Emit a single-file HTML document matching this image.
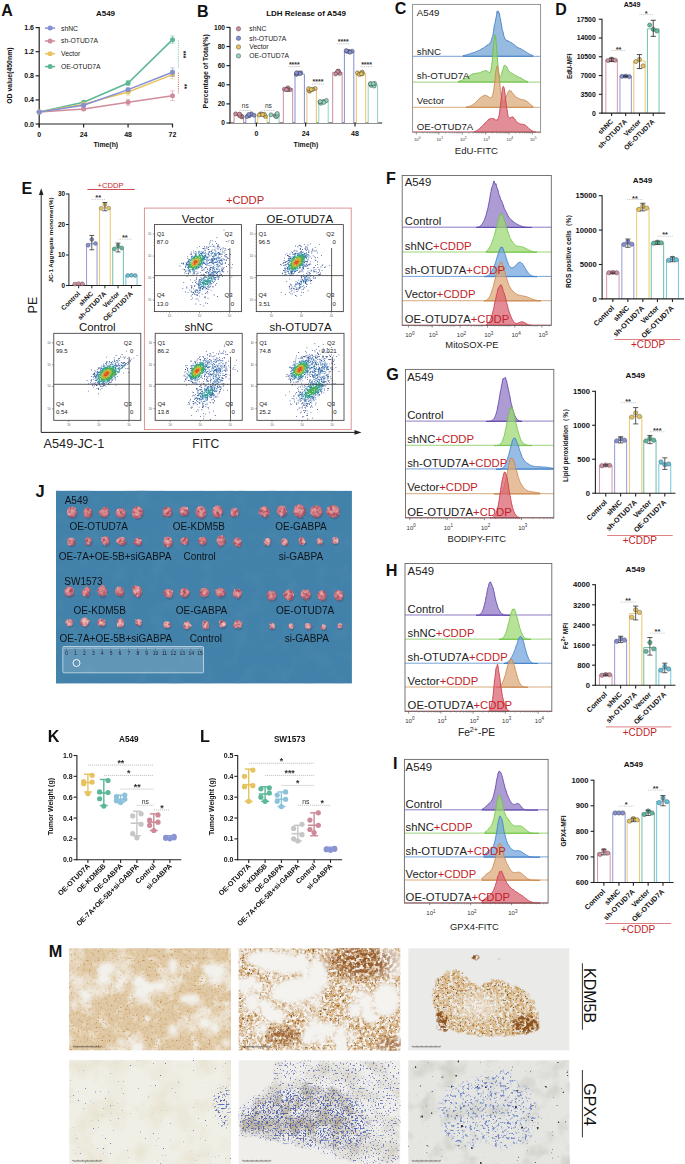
<!DOCTYPE html>
<html><head><meta charset="utf-8"><style>
html,body{margin:0;padding:0;background:#fff;}
svg{display:block;font-family:"Liberation Sans", sans-serif;}
</style></head><body>
<svg width="685" height="1164" viewBox="0 0 685 1164">
<rect width="685" height="1164" fill="#fff"/>
<text x="1.3" y="15.5" font-size="16" font-weight="bold" fill="#111">A</text>
<text x="105.5" y="16" font-size="8" font-weight="bold" text-anchor="middle" fill="#111">A549</text>
<line x1="39.2" y1="27.1" x2="39.2" y2="127.5" stroke="#222" stroke-width="1.2"/>
<line x1="38.6" y1="124" x2="173.1" y2="124" stroke="#222" stroke-width="1.2"/>
<line x1="35.6" y1="124" x2="39.2" y2="124" stroke="#222" stroke-width="1.2"/>
<text x="34" y="126.5" font-size="7" font-weight="bold" text-anchor="end" fill="#111">0.0</text>
<line x1="35.6" y1="99.9" x2="39.2" y2="99.9" stroke="#222" stroke-width="1.2"/>
<text x="34" y="102.4" font-size="7" font-weight="bold" text-anchor="end" fill="#111">0.4</text>
<line x1="35.6" y1="75.8" x2="39.2" y2="75.8" stroke="#222" stroke-width="1.2"/>
<text x="34" y="78.3" font-size="7" font-weight="bold" text-anchor="end" fill="#111">0.8</text>
<line x1="35.6" y1="51.7" x2="39.2" y2="51.7" stroke="#222" stroke-width="1.2"/>
<text x="34" y="54.2" font-size="7" font-weight="bold" text-anchor="end" fill="#111">1.2</text>
<line x1="35.6" y1="27.6" x2="39.2" y2="27.6" stroke="#222" stroke-width="1.2"/>
<text x="34" y="30.1" font-size="7" font-weight="bold" text-anchor="end" fill="#111">1.6</text>
<line x1="39.2" y1="124" x2="39.2" y2="127.5" stroke="#222" stroke-width="1.2"/>
<text x="39.2" y="136.6" font-size="7" font-weight="bold" text-anchor="middle" fill="#111">0</text>
<line x1="83.63" y1="124" x2="83.63" y2="127.5" stroke="#222" stroke-width="1.2"/>
<text x="83.63" y="136.6" font-size="7" font-weight="bold" text-anchor="middle" fill="#111">24</text>
<line x1="128.07" y1="124" x2="128.07" y2="127.5" stroke="#222" stroke-width="1.2"/>
<text x="128.07" y="136.6" font-size="7" font-weight="bold" text-anchor="middle" fill="#111">48</text>
<line x1="172.5" y1="124" x2="172.5" y2="127.5" stroke="#222" stroke-width="1.2"/>
<text x="172.5" y="136.6" font-size="7" font-weight="bold" text-anchor="middle" fill="#111">72</text>
<text x="105.8" y="146.8" font-size="6.9" font-weight="bold" text-anchor="middle" fill="#111">Time(h)</text>
<text x="12.3" y="75.6" font-size="6.9" font-weight="bold" text-anchor="middle" fill="#111" transform="rotate(-90 12.3 75.6)">OD value(450nm)</text>
<polyline points="39.2,111.95 83.63,102.31 128.07,83.03 172.5,39.65" fill="none" stroke="#5cb796" stroke-width="1.5"/>
<circle cx="39.2" cy="111.95" r="2.5" fill="#5cb796"/>
<line x1="83.63" y1="101.11" x2="83.63" y2="103.52" stroke="#5cb796" stroke-width="0.8" opacity="0.6"/>
<line x1="81.33" y1="101.11" x2="85.93" y2="101.11" stroke="#5cb796" stroke-width="0.8" opacity="0.6"/>
<line x1="81.33" y1="103.52" x2="85.93" y2="103.52" stroke="#5cb796" stroke-width="0.8" opacity="0.6"/>
<circle cx="83.63" cy="102.31" r="2.5" fill="#5cb796"/>
<line x1="128.07" y1="80.62" x2="128.07" y2="85.44" stroke="#5cb796" stroke-width="0.8" opacity="0.6"/>
<line x1="125.77" y1="80.62" x2="130.37" y2="80.62" stroke="#5cb796" stroke-width="0.8" opacity="0.6"/>
<line x1="125.77" y1="85.44" x2="130.37" y2="85.44" stroke="#5cb796" stroke-width="0.8" opacity="0.6"/>
<circle cx="128.07" cy="83.03" r="2.5" fill="#5cb796"/>
<line x1="172.5" y1="36.03" x2="172.5" y2="43.27" stroke="#5cb796" stroke-width="0.8" opacity="0.6"/>
<line x1="170.2" y1="36.03" x2="174.8" y2="36.03" stroke="#5cb796" stroke-width="0.8" opacity="0.6"/>
<line x1="170.2" y1="43.27" x2="174.8" y2="43.27" stroke="#5cb796" stroke-width="0.8" opacity="0.6"/>
<circle cx="172.5" cy="39.65" r="2.5" fill="#5cb796"/>
<polyline points="39.2,111.95 83.63,108.94 128.07,102.31 172.5,95.68" fill="none" stroke="#d08c9c" stroke-width="1.5"/>
<circle cx="39.2" cy="111.95" r="2.5" fill="#d08c9c"/>
<line x1="83.63" y1="107.73" x2="83.63" y2="110.14" stroke="#d08c9c" stroke-width="0.8" opacity="0.6"/>
<line x1="81.33" y1="107.73" x2="85.93" y2="107.73" stroke="#d08c9c" stroke-width="0.8" opacity="0.6"/>
<line x1="81.33" y1="110.14" x2="85.93" y2="110.14" stroke="#d08c9c" stroke-width="0.8" opacity="0.6"/>
<circle cx="83.63" cy="108.94" r="2.5" fill="#d08c9c"/>
<line x1="128.07" y1="99.3" x2="128.07" y2="105.32" stroke="#d08c9c" stroke-width="0.8" opacity="0.6"/>
<line x1="125.77" y1="99.3" x2="130.37" y2="99.3" stroke="#d08c9c" stroke-width="0.8" opacity="0.6"/>
<line x1="125.77" y1="105.32" x2="130.37" y2="105.32" stroke="#d08c9c" stroke-width="0.8" opacity="0.6"/>
<circle cx="128.07" cy="102.31" r="2.5" fill="#d08c9c"/>
<line x1="172.5" y1="90.86" x2="172.5" y2="100.5" stroke="#d08c9c" stroke-width="0.8" opacity="0.6"/>
<line x1="170.2" y1="90.86" x2="174.8" y2="90.86" stroke="#d08c9c" stroke-width="0.8" opacity="0.6"/>
<line x1="170.2" y1="100.5" x2="174.8" y2="100.5" stroke="#d08c9c" stroke-width="0.8" opacity="0.6"/>
<circle cx="172.5" cy="95.68" r="2.5" fill="#d08c9c"/>
<polyline points="39.2,111.95 83.63,104.12 128.07,92.07 172.5,74.59" fill="none" stroke="#e8c35f" stroke-width="1.5"/>
<circle cx="39.2" cy="111.95" r="2.5" fill="#e8c35f"/>
<line x1="83.63" y1="102.91" x2="83.63" y2="105.32" stroke="#e8c35f" stroke-width="0.8" opacity="0.6"/>
<line x1="81.33" y1="102.91" x2="85.93" y2="102.91" stroke="#e8c35f" stroke-width="0.8" opacity="0.6"/>
<line x1="81.33" y1="105.32" x2="85.93" y2="105.32" stroke="#e8c35f" stroke-width="0.8" opacity="0.6"/>
<circle cx="83.63" cy="104.12" r="2.5" fill="#e8c35f"/>
<line x1="128.07" y1="89.05" x2="128.07" y2="95.08" stroke="#e8c35f" stroke-width="0.8" opacity="0.6"/>
<line x1="125.77" y1="89.05" x2="130.37" y2="89.05" stroke="#e8c35f" stroke-width="0.8" opacity="0.6"/>
<line x1="125.77" y1="95.08" x2="130.37" y2="95.08" stroke="#e8c35f" stroke-width="0.8" opacity="0.6"/>
<circle cx="128.07" cy="92.07" r="2.5" fill="#e8c35f"/>
<line x1="172.5" y1="70.38" x2="172.5" y2="78.81" stroke="#e8c35f" stroke-width="0.8" opacity="0.6"/>
<line x1="170.2" y1="70.38" x2="174.8" y2="70.38" stroke="#e8c35f" stroke-width="0.8" opacity="0.6"/>
<line x1="170.2" y1="78.81" x2="174.8" y2="78.81" stroke="#e8c35f" stroke-width="0.8" opacity="0.6"/>
<circle cx="172.5" cy="74.59" r="2.5" fill="#e8c35f"/>
<polyline points="39.2,111.95 83.63,105.32 128.07,89.66 172.5,72.19" fill="none" stroke="#8490d2" stroke-width="1.5"/>
<circle cx="39.2" cy="111.95" r="2.5" fill="#8490d2"/>
<line x1="83.63" y1="104.12" x2="83.63" y2="106.53" stroke="#8490d2" stroke-width="0.8" opacity="0.6"/>
<line x1="81.33" y1="104.12" x2="85.93" y2="104.12" stroke="#8490d2" stroke-width="0.8" opacity="0.6"/>
<line x1="81.33" y1="106.53" x2="85.93" y2="106.53" stroke="#8490d2" stroke-width="0.8" opacity="0.6"/>
<circle cx="83.63" cy="105.32" r="2.5" fill="#8490d2"/>
<line x1="128.07" y1="87.85" x2="128.07" y2="91.47" stroke="#8490d2" stroke-width="0.8" opacity="0.6"/>
<line x1="125.77" y1="87.85" x2="130.37" y2="87.85" stroke="#8490d2" stroke-width="0.8" opacity="0.6"/>
<line x1="125.77" y1="91.47" x2="130.37" y2="91.47" stroke="#8490d2" stroke-width="0.8" opacity="0.6"/>
<circle cx="128.07" cy="89.66" r="2.5" fill="#8490d2"/>
<line x1="172.5" y1="67.97" x2="172.5" y2="76.4" stroke="#8490d2" stroke-width="0.8" opacity="0.6"/>
<line x1="170.2" y1="67.97" x2="174.8" y2="67.97" stroke="#8490d2" stroke-width="0.8" opacity="0.6"/>
<line x1="170.2" y1="76.4" x2="174.8" y2="76.4" stroke="#8490d2" stroke-width="0.8" opacity="0.6"/>
<circle cx="172.5" cy="72.19" r="2.5" fill="#8490d2"/>
<line x1="44.9" y1="28.1" x2="55.1" y2="28.1" stroke="#8490d2" stroke-width="1.5"/>
<circle cx="50.1" cy="28.1" r="2.5" fill="#8490d2"/>
<text x="61" y="30.5" font-size="6.8" fill="#222">shNC</text>
<line x1="44.9" y1="41" x2="55.1" y2="41" stroke="#d08c9c" stroke-width="1.5"/>
<circle cx="50.1" cy="41" r="2.5" fill="#d08c9c"/>
<text x="61" y="43.4" font-size="6.8" fill="#222">sh-OTUD7A</text>
<line x1="44.9" y1="53.7" x2="55.1" y2="53.7" stroke="#e8c35f" stroke-width="1.5"/>
<circle cx="50.1" cy="53.7" r="2.5" fill="#e8c35f"/>
<text x="61" y="56.1" font-size="6.8" fill="#222">Vector</text>
<line x1="44.9" y1="66.6" x2="55.1" y2="66.6" stroke="#5cb796" stroke-width="1.5"/>
<circle cx="50.1" cy="66.6" r="2.5" fill="#5cb796"/>
<text x="61" y="69" font-size="6.8" fill="#222">OE-OTUD7A</text>
<line x1="178.4" y1="40.5" x2="178.4" y2="69" stroke="#5cb796" stroke-width="0.8" stroke-dasharray="1 1.2"/>
<line x1="178.4" y1="72.8" x2="178.4" y2="93.3" stroke="#c0392b" stroke-width="0.8" stroke-dasharray="1 1.2"/>
<text x="181.3" y="54.5" font-size="6.5" font-weight="bold" text-anchor="middle" fill="#111" transform="rotate(90 181.3 54.5)">***</text>
<text x="181.6" y="86.5" font-size="6.5" font-weight="bold" text-anchor="middle" fill="#111" transform="rotate(90 181.6 86.5)">**</text>
<text x="196.9" y="16.8" font-size="16" font-weight="bold" fill="#111">B</text>
<text x="306" y="15.6" font-size="8" font-weight="bold" text-anchor="middle" fill="#111">LDH Release of A549</text>
<line x1="230" y1="26.9" x2="230" y2="123.6" stroke="#222" stroke-width="1.2"/>
<line x1="229.4" y1="123" x2="382.2" y2="123" stroke="#222" stroke-width="1.2"/>
<line x1="226.4" y1="123" x2="230" y2="123" stroke="#222" stroke-width="1.2"/>
<text x="225" y="125.4" font-size="6.6" font-weight="bold" text-anchor="end" fill="#111">0</text>
<line x1="226.4" y1="103.88" x2="230" y2="103.88" stroke="#222" stroke-width="1.2"/>
<text x="225" y="106.28" font-size="6.6" font-weight="bold" text-anchor="end" fill="#111">20</text>
<line x1="226.4" y1="84.76" x2="230" y2="84.76" stroke="#222" stroke-width="1.2"/>
<text x="225" y="87.16" font-size="6.6" font-weight="bold" text-anchor="end" fill="#111">40</text>
<line x1="226.4" y1="65.64" x2="230" y2="65.64" stroke="#222" stroke-width="1.2"/>
<text x="225" y="68.04" font-size="6.6" font-weight="bold" text-anchor="end" fill="#111">60</text>
<line x1="226.4" y1="46.52" x2="230" y2="46.52" stroke="#222" stroke-width="1.2"/>
<text x="225" y="48.92" font-size="6.6" font-weight="bold" text-anchor="end" fill="#111">80</text>
<line x1="226.4" y1="27.4" x2="230" y2="27.4" stroke="#222" stroke-width="1.2"/>
<text x="225" y="29.8" font-size="6.6" font-weight="bold" text-anchor="end" fill="#111">100</text>
<line x1="256.4" y1="123" x2="256.4" y2="126.5" stroke="#222" stroke-width="1.2"/>
<text x="256.4" y="136.2" font-size="7" font-weight="bold" text-anchor="middle" fill="#111">0</text>
<line x1="305.6" y1="123" x2="305.6" y2="126.5" stroke="#222" stroke-width="1.2"/>
<text x="305.6" y="136.2" font-size="7" font-weight="bold" text-anchor="middle" fill="#111">24</text>
<line x1="355" y1="123" x2="355" y2="126.5" stroke="#222" stroke-width="1.2"/>
<text x="355" y="136.2" font-size="7" font-weight="bold" text-anchor="middle" fill="#111">48</text>
<text x="306" y="146.6" font-size="6.9" font-weight="bold" text-anchor="middle" fill="#111">Time(h)</text>
<text x="208.3" y="71.3" font-size="6.9" font-weight="bold" text-anchor="middle" fill="#111" transform="rotate(-90 208.3 71.3)">Percentage of Total(%)</text>
<path d="M234.1 123 V115.35 H243.5 V123" fill="#fff" stroke="#d08c9c" stroke-width="1"/>
<circle cx="242.08" cy="116.96" r="2" fill="#d08c9c" stroke="#333" stroke-width="0.45"/>
<circle cx="235.61" cy="113.86" r="2" fill="#d08c9c" stroke="#333" stroke-width="0.45"/>
<circle cx="241.22" cy="116.2" r="2" fill="#d08c9c" stroke="#333" stroke-width="0.45"/>
<circle cx="240.02" cy="114.66" r="2" fill="#d08c9c" stroke="#333" stroke-width="0.45"/>
<circle cx="239.56" cy="115.74" r="2" fill="#d08c9c" stroke="#333" stroke-width="0.45"/>
<circle cx="239.38" cy="114.12" r="2" fill="#d08c9c" stroke="#333" stroke-width="0.45"/>
<path d="M245.8 123 V115.35 H255.2 V123" fill="#fff" stroke="#8490d2" stroke-width="1"/>
<circle cx="248.61" cy="115.51" r="2" fill="#8490d2" stroke="#333" stroke-width="0.45"/>
<circle cx="249.56" cy="115.73" r="2" fill="#8490d2" stroke="#333" stroke-width="0.45"/>
<circle cx="251.41" cy="113.79" r="2" fill="#8490d2" stroke="#333" stroke-width="0.45"/>
<circle cx="246.99" cy="116.57" r="2" fill="#8490d2" stroke="#333" stroke-width="0.45"/>
<circle cx="248.77" cy="114.4" r="2" fill="#8490d2" stroke="#333" stroke-width="0.45"/>
<circle cx="254.07" cy="115.24" r="2" fill="#8490d2" stroke="#333" stroke-width="0.45"/>
<path d="M257.7 123 V115.35 H267.1 V123" fill="#fff" stroke="#e8c35f" stroke-width="1"/>
<circle cx="260.5" cy="113.92" r="2" fill="#e8c35f" stroke="#333" stroke-width="0.45"/>
<circle cx="261.65" cy="114.11" r="2" fill="#e8c35f" stroke="#333" stroke-width="0.45"/>
<circle cx="259.28" cy="115" r="2" fill="#e8c35f" stroke="#333" stroke-width="0.45"/>
<circle cx="265.41" cy="116.43" r="2" fill="#e8c35f" stroke="#333" stroke-width="0.45"/>
<circle cx="264.31" cy="114.35" r="2" fill="#e8c35f" stroke="#333" stroke-width="0.45"/>
<circle cx="262.66" cy="114.55" r="2" fill="#e8c35f" stroke="#333" stroke-width="0.45"/>
<path d="M269.6 123 V114.87 H279 V123" fill="#fff" stroke="#8ed5bf" stroke-width="1"/>
<circle cx="275.18" cy="115.74" r="2" fill="#8ed5bf" stroke="#333" stroke-width="0.45"/>
<circle cx="276.43" cy="116.47" r="2" fill="#8ed5bf" stroke="#333" stroke-width="0.45"/>
<circle cx="276.03" cy="116.39" r="2" fill="#8ed5bf" stroke="#333" stroke-width="0.45"/>
<circle cx="270.91" cy="114.75" r="2" fill="#8ed5bf" stroke="#333" stroke-width="0.45"/>
<circle cx="277.49" cy="115.41" r="2" fill="#8ed5bf" stroke="#333" stroke-width="0.45"/>
<circle cx="277.19" cy="113.48" r="2" fill="#8ed5bf" stroke="#333" stroke-width="0.45"/>
<path d="M283.3 123 V88.58 H292.7 V123" fill="#fff" stroke="#d08c9c" stroke-width="1"/>
<circle cx="290.11" cy="89.74" r="2" fill="#d08c9c" stroke="#333" stroke-width="0.45"/>
<circle cx="287.89" cy="87.73" r="2" fill="#d08c9c" stroke="#333" stroke-width="0.45"/>
<circle cx="284.4" cy="89.17" r="2" fill="#d08c9c" stroke="#333" stroke-width="0.45"/>
<circle cx="287.79" cy="89.52" r="2" fill="#d08c9c" stroke="#333" stroke-width="0.45"/>
<circle cx="287.09" cy="89.56" r="2" fill="#d08c9c" stroke="#333" stroke-width="0.45"/>
<circle cx="286.36" cy="89.67" r="2" fill="#d08c9c" stroke="#333" stroke-width="0.45"/>
<path d="M295 123 V74.24 H304.4 V123" fill="#fff" stroke="#8490d2" stroke-width="1"/>
<circle cx="298.43" cy="72.99" r="2" fill="#8490d2" stroke="#333" stroke-width="0.45"/>
<circle cx="300.79" cy="72.7" r="2" fill="#8490d2" stroke="#333" stroke-width="0.45"/>
<circle cx="299.96" cy="73.76" r="2" fill="#8490d2" stroke="#333" stroke-width="0.45"/>
<circle cx="296.52" cy="74.27" r="2" fill="#8490d2" stroke="#333" stroke-width="0.45"/>
<circle cx="296.37" cy="74.01" r="2" fill="#8490d2" stroke="#333" stroke-width="0.45"/>
<circle cx="296.6" cy="72.77" r="2" fill="#8490d2" stroke="#333" stroke-width="0.45"/>
<path d="M306.9 123 V89.54 H316.3 V123" fill="#fff" stroke="#e8c35f" stroke-width="1"/>
<circle cx="309.63" cy="91.2" r="2" fill="#e8c35f" stroke="#333" stroke-width="0.45"/>
<circle cx="308.91" cy="90.28" r="2" fill="#e8c35f" stroke="#333" stroke-width="0.45"/>
<circle cx="308.61" cy="88.63" r="2" fill="#e8c35f" stroke="#333" stroke-width="0.45"/>
<circle cx="315.19" cy="88.49" r="2" fill="#e8c35f" stroke="#333" stroke-width="0.45"/>
<circle cx="312.62" cy="89.39" r="2" fill="#e8c35f" stroke="#333" stroke-width="0.45"/>
<circle cx="311.26" cy="89.52" r="2" fill="#e8c35f" stroke="#333" stroke-width="0.45"/>
<path d="M318.8 123 V101.97 H328.2 V123" fill="#fff" stroke="#8ed5bf" stroke-width="1"/>
<circle cx="323.23" cy="101.51" r="2" fill="#8ed5bf" stroke="#333" stroke-width="0.45"/>
<circle cx="320.9" cy="103.29" r="2" fill="#8ed5bf" stroke="#333" stroke-width="0.45"/>
<circle cx="319.95" cy="101.98" r="2" fill="#8ed5bf" stroke="#333" stroke-width="0.45"/>
<circle cx="326.37" cy="100.46" r="2" fill="#8ed5bf" stroke="#333" stroke-width="0.45"/>
<circle cx="323.89" cy="102.39" r="2" fill="#8ed5bf" stroke="#333" stroke-width="0.45"/>
<circle cx="320.19" cy="101.53" r="2" fill="#8ed5bf" stroke="#333" stroke-width="0.45"/>
<path d="M332.7 123 V72.33 H342.1 V123" fill="#fff" stroke="#d08c9c" stroke-width="1"/>
<circle cx="337.91" cy="72.08" r="2" fill="#d08c9c" stroke="#333" stroke-width="0.45"/>
<circle cx="337.96" cy="71.27" r="2" fill="#d08c9c" stroke="#333" stroke-width="0.45"/>
<circle cx="339.66" cy="73.5" r="2" fill="#d08c9c" stroke="#333" stroke-width="0.45"/>
<circle cx="338.51" cy="71.11" r="2" fill="#d08c9c" stroke="#333" stroke-width="0.45"/>
<circle cx="337.55" cy="71.71" r="2" fill="#d08c9c" stroke="#333" stroke-width="0.45"/>
<circle cx="335.6" cy="73.96" r="2" fill="#d08c9c" stroke="#333" stroke-width="0.45"/>
<path d="M344.4 123 V51.3 H353.8 V123" fill="#fff" stroke="#8490d2" stroke-width="1"/>
<circle cx="348.76" cy="51.52" r="2" fill="#8490d2" stroke="#333" stroke-width="0.45"/>
<circle cx="352.15" cy="51.18" r="2" fill="#8490d2" stroke="#333" stroke-width="0.45"/>
<circle cx="349.16" cy="51.61" r="2" fill="#8490d2" stroke="#333" stroke-width="0.45"/>
<circle cx="346.83" cy="51.34" r="2" fill="#8490d2" stroke="#333" stroke-width="0.45"/>
<circle cx="350.04" cy="52.35" r="2" fill="#8490d2" stroke="#333" stroke-width="0.45"/>
<circle cx="346.18" cy="50.59" r="2" fill="#8490d2" stroke="#333" stroke-width="0.45"/>
<path d="M356.3 123 V73.29 H365.7 V123" fill="#fff" stroke="#e8c35f" stroke-width="1"/>
<circle cx="360.82" cy="73.85" r="2" fill="#e8c35f" stroke="#333" stroke-width="0.45"/>
<circle cx="362.2" cy="72" r="2" fill="#e8c35f" stroke="#333" stroke-width="0.45"/>
<circle cx="357.48" cy="72.84" r="2" fill="#e8c35f" stroke="#333" stroke-width="0.45"/>
<circle cx="359.37" cy="74.41" r="2" fill="#e8c35f" stroke="#333" stroke-width="0.45"/>
<circle cx="362.37" cy="73.65" r="2" fill="#e8c35f" stroke="#333" stroke-width="0.45"/>
<circle cx="361.42" cy="73.87" r="2" fill="#e8c35f" stroke="#333" stroke-width="0.45"/>
<path d="M368.2 123 V84.76 H377.6 V123" fill="#fff" stroke="#8ed5bf" stroke-width="1"/>
<circle cx="371.16" cy="85.43" r="2" fill="#8ed5bf" stroke="#333" stroke-width="0.45"/>
<circle cx="374.23" cy="86.02" r="2" fill="#8ed5bf" stroke="#333" stroke-width="0.45"/>
<circle cx="370.64" cy="83.79" r="2" fill="#8ed5bf" stroke="#333" stroke-width="0.45"/>
<circle cx="370.36" cy="83.77" r="2" fill="#8ed5bf" stroke="#333" stroke-width="0.45"/>
<circle cx="374.58" cy="83.43" r="2" fill="#8ed5bf" stroke="#333" stroke-width="0.45"/>
<circle cx="373.13" cy="83.73" r="2" fill="#8ed5bf" stroke="#333" stroke-width="0.45"/>
<circle cx="238.5" cy="28.8" r="2.2" fill="#d08c9c" stroke="#444" stroke-width="0.45"/>
<text x="249.3" y="31.1" font-size="6.8" fill="#222">shNC</text>
<circle cx="238.5" cy="38.2" r="2.2" fill="#8490d2" stroke="#444" stroke-width="0.45"/>
<text x="249.3" y="40.5" font-size="6.8" fill="#222">sh-OTUD7A</text>
<circle cx="238.5" cy="47" r="2.2" fill="#e8c35f" stroke="#444" stroke-width="0.45"/>
<text x="249.3" y="49.3" font-size="6.8" fill="#222">Vector</text>
<circle cx="238.5" cy="55.9" r="2.2" fill="#8ed5bf" stroke="#444" stroke-width="0.45"/>
<text x="249.3" y="58.2" font-size="6.8" fill="#222">OE-OTUD7A</text>
<line x1="239.6" y1="110.4" x2="251" y2="110.4" stroke="#999" stroke-width="0.6" stroke-dasharray="1 0.8"/>
<text x="245.3" y="108.2" font-size="6.5" text-anchor="middle" fill="#333">ns</text>
<line x1="262.2" y1="110.4" x2="274.6" y2="110.4" stroke="#999" stroke-width="0.6" stroke-dasharray="1 0.8"/>
<text x="268.4" y="108.2" font-size="6.5" text-anchor="middle" fill="#333">ns</text>
<line x1="288.5" y1="66.6" x2="300.2" y2="66.6" stroke="#999" stroke-width="0.6" stroke-dasharray="1 0.8"/>
<text x="294.35" y="67" font-size="7" font-weight="bold" text-anchor="middle" fill="#333">****</text>
<line x1="312" y1="84" x2="324" y2="84" stroke="#999" stroke-width="0.6" stroke-dasharray="1 0.8"/>
<text x="318" y="84.4" font-size="7" font-weight="bold" text-anchor="middle" fill="#333">****</text>
<line x1="337.2" y1="43.8" x2="349.2" y2="43.8" stroke="#999" stroke-width="0.6" stroke-dasharray="1 0.8"/>
<text x="343.2" y="44.2" font-size="7" font-weight="bold" text-anchor="middle" fill="#333">****</text>
<line x1="360.6" y1="66.7" x2="372.6" y2="66.7" stroke="#999" stroke-width="0.6" stroke-dasharray="1 0.8"/>
<text x="366.6" y="67.1" font-size="7" font-weight="bold" text-anchor="middle" fill="#333">****</text>
<text x="394.8" y="14.4" font-size="16" font-weight="bold" fill="#111">C</text>
<path d="M463 56.3 L463 55.59 L463.5 55.5 L464 55.38 L464.5 55.31 L465 55.2 L465.5 55.07 L466 54.99 L466.5 54.83 L467 54.67 L467.5 54.51 L468 54.46 L468.5 54.28 L469 54.16 L469.5 53.87 L470 53.72 L470.5 53.69 L471 53.31 L471.5 53.14 L472 53.04 L472.5 52.88 L473 52.83 L473.5 52.71 L474 52.38 L474.5 52.36 L475 52.15 L475.5 51.95 L476 51.86 L476.5 51.51 L477 51.33 L477.5 50.96 L478 50.89 L478.5 50.62 L479 50.45 L479.5 50.13 L480 49.97 L480.5 49.8 L481 49.12 L481.5 48.81 L482 48.58 L482.5 48.33 L483 48.25 L483.5 47.98 L484 47.6 L484.5 47.44 L485 46.59 L485.5 46.55 L486 45.88 L486.5 45.95 L487 45.16 L487.5 44.95 L488 45.39 L488.5 44.86 L489 43.77 L489.5 43.69 L490 42.5 L490.5 42.29 L491 41.63 L491.5 39.61 L492 37.73 L492.5 36.53 L493 34.6 L493.5 31.58 L494 27.35 L494.5 24.73 L495 23.34 L495.5 20.08 L496 17.88 L496.5 15.78 L497 11.49 L497.5 12.56 L498 10.79 L498.5 11.53 L499 13.48 L499.5 13.3 L500 17.49 L500.5 18.48 L501 22.8 L501.5 24.85 L502 28.15 L502.5 30.62 L503 31.62 L503.5 34.05 L504 36.59 L504.5 37.07 L505 39.1 L505.5 39.61 L506 39.56 L506.5 40.22 L507 41.15 L507.5 40.23 L508 41.34 L508.5 41.42 L509 40.96 L509.5 41.68 L510 41.95 L510.5 42.48 L511 42.76 L511.5 42.57 L512 43.32 L512.5 43.35 L513 44 L513.5 44.35 L514 44.31 L514.5 45.17 L515 45.5 L515.5 45.65 L516 46.57 L516.5 46.93 L517 46.69 L517.5 47.06 L518 47.75 L518.5 48.05 L519 47.93 L519.5 48.05 L520 48.76 L520.5 48.54 L521 48.83 L521.5 49.24 L522 49.6 L522.5 50.03 L523 50.33 L523.5 50.18 L524 50.81 L524.5 50.92 L525 51.42 L525.5 51.53 L526 51.95 L526.5 52.37 L527 52.73 L527.5 52.89 L528 53.37 L528.5 53.62 L529 53.83 L529.5 54.06 L530 54.35 L530.5 54.63 L531 54.77 L531.5 55.05 L532 55.24 L532.5 55.38 L533 55.5 L533 56.3 Z" fill="#6fa0d4" stroke="#3f7cc0" stroke-width="0.85" fill-opacity="0.72" stroke-linejoin="round"/>
<line x1="412.6" y1="56.3" x2="540.6" y2="56.3" stroke="#3f7cc0" stroke-width="0.7"/>
<path d="M458 82.1 L458 81.4 L458.5 81.28 L459 81.16 L459.5 81.08 L460 80.95 L460.5 80.76 L461 80.61 L461.5 80.35 L462 80.16 L462.5 79.96 L463 79.73 L463.5 79.46 L464 79.32 L464.5 78.97 L465 78.76 L465.5 78.25 L466 78.2 L466.5 77.63 L467 77.57 L467.5 77.01 L468 76.82 L468.5 76.46 L469 75.92 L469.5 76 L470 75.67 L470.5 74.9 L471 74.83 L471.5 74.81 L472 74 L472.5 73.78 L473 74.11 L473.5 73.72 L474 73.76 L474.5 73.5 L475 73.17 L475.5 73.41 L476 72.96 L476.5 73.37 L477 73.24 L477.5 72.74 L478 73.01 L478.5 72.95 L479 72.76 L479.5 72.77 L480 72.73 L480.5 72.87 L481 72.16 L481.5 71.76 L482 71.52 L482.5 71.52 L483 71.52 L483.5 71.27 L484 70.75 L484.5 70.57 L485 70.95 L485.5 70.79 L486 70.7 L486.5 70.69 L487 70.66 L487.5 71.26 L488 72.04 L488.5 71.8 L489 72.47 L489.5 72.55 L490 72.54 L490.5 71.5 L491 69.73 L491.5 66.28 L492 62.95 L492.5 56.72 L493 51.36 L493.5 43.63 L494 40.4 L494.5 36.02 L495 34.7 L495.5 35.29 L496 41.53 L496.5 46.18 L497 53.67 L497.5 60.23 L498 65.91 L498.5 70.21 L499 73.95 L499.5 75.65 L500 76.79 L500.5 76.27 L501 75.64 L501.5 74.36 L502 72.25 L502.5 70.2 L503 69.29 L503.5 67.43 L504 65.56 L504.5 65.34 L505 65.22 L505.5 65.74 L506 66.3 L506.5 66.45 L507 67.1 L507.5 68.2 L508 69.72 L508.5 71.02 L509 71.44 L509.5 71.59 L510 71.99 L510.5 72.48 L511 73.08 L511.5 73.13 L512 73.43 L512.5 73.61 L513 74.14 L513.5 74.02 L514 74.38 L514.5 75.12 L515 75.35 L515.5 75.33 L516 75.91 L516.5 75.84 L517 76.28 L517.5 76.43 L518 76.64 L518.5 77.05 L519 77.23 L519.5 77.46 L520 77.53 L520.5 77.78 L521 78.23 L521.5 78.27 L522 78.71 L522.5 79.05 L523 79.32 L523.5 79.52 L524 79.91 L524.5 80.19 L525 80.43 L525.5 80.69 L526 80.95 L526.5 81.18 L527 81.35 L527.5 81.49 L528 81.63 L528 82.1 Z" fill="#95d16c" stroke="#6cbf44" stroke-width="0.85" fill-opacity="0.72" stroke-linejoin="round"/>
<line x1="412.6" y1="82.1" x2="540.6" y2="82.1" stroke="#6cbf44" stroke-width="0.7"/>
<path d="M466 107.3 L466 107.01 L466.5 106.93 L467 106.86 L467.5 106.76 L468 106.69 L468.5 106.58 L469 106.45 L469.5 106.3 L470 106.08 L470.5 105.95 L471 105.69 L471.5 105.5 L472 105.22 L472.5 104.91 L473 104.5 L473.5 104.2 L474 103.98 L474.5 103.52 L475 103.15 L475.5 102.44 L476 101.98 L476.5 101.49 L477 100.97 L477.5 100.49 L478 99.85 L478.5 99.41 L479 99.25 L479.5 98.35 L480 98.12 L480.5 97.46 L481 97.17 L481.5 96.89 L482 96.6 L482.5 96.24 L483 96.08 L483.5 96.06 L484 95.26 L484.5 95.19 L485 94.98 L485.5 95.29 L486 95.51 L486.5 95.48 L487 96.24 L487.5 96.01 L488 96.51 L488.5 97.06 L489 97.37 L489.5 97.44 L490 97.93 L490.5 97.93 L491 97.79 L491.5 97.62 L492 97.1 L492.5 95.48 L493 93.78 L493.5 91.12 L494 87.83 L494.5 83.59 L495 79.98 L495.5 74.36 L496 69.69 L496.5 68.58 L497 66.09 L497.5 65.52 L498 70.03 L498.5 72.72 L499 75.04 L499.5 79.79 L500 85.08 L500.5 90.33 L501 93.87 L501.5 96.61 L502 98.97 L502.5 100.55 L503 101.62 L503.5 101.48 L504 101.37 L504.5 100.49 L505 99.85 L505.5 98.11 L506 97.07 L506.5 95.62 L507 94.82 L507.5 93.19 L508 92.18 L508.5 91.32 L509 91.02 L509.5 90.19 L510 90.62 L510.5 90.83 L511 91.35 L511.5 91.18 L512 92.5 L512.5 93.03 L513 93.89 L513.5 93.94 L514 94.68 L514.5 95.29 L515 96.28 L515.5 96.39 L516 96.89 L516.5 97.47 L517 97.87 L517.5 97.41 L518 98.36 L518.5 98.49 L519 98.76 L519.5 98.76 L520 99.31 L520.5 99.23 L521 99.45 L521.5 99.29 L522 99.92 L522.5 99.82 L523 99.82 L523.5 99.64 L524 100.02 L524.5 100.18 L525 100.24 L525.5 100.65 L526 101.03 L526.5 101.08 L527 101.22 L527.5 101.69 L528 102.3 L528.5 102.57 L529 102.98 L529.5 103.63 L530 103.98 L530.5 104.48 L531 104.91 L531.5 105.28 L532 105.63 L532.5 105.91 L533 106.21 L533 107.3 Z" fill="#dba777" stroke="#c98649" stroke-width="0.85" fill-opacity="0.72" stroke-linejoin="round"/>
<line x1="412.6" y1="107.3" x2="540.6" y2="107.3" stroke="#c98649" stroke-width="0.7"/>
<path d="M474 132.3 L474 131.7 L474.5 131.53 L475 131.37 L475.5 131.15 L476 131 L476.5 130.76 L477 130.43 L477.5 130.13 L478 129.86 L478.5 129.42 L479 129.1 L479.5 128.57 L480 128.34 L480.5 127.85 L481 127.11 L481.5 126.84 L482 126.38 L482.5 125.58 L483 125.14 L483.5 124.9 L484 124.12 L484.5 123.52 L485 123.36 L485.5 122.48 L486 122.4 L486.5 121.74 L487 121.5 L487.5 120.95 L488 119.79 L488.5 119.95 L489 118.99 L489.5 119.23 L490 118.78 L490.5 118.26 L491 118.3 L491.5 118.83 L492 118.26 L492.5 118.24 L493 118.84 L493.5 119.09 L494 118.48 L494.5 119.15 L495 119.79 L495.5 119.83 L496 120.33 L496.5 119.91 L497 120.14 L497.5 120.16 L498 118.59 L498.5 118.01 L499 115.71 L499.5 113.3 L500 108.53 L500.5 105.65 L501 100.23 L501.5 97 L502 91.84 L502.5 87.98 L503 86.6 L503.5 86.46 L504 87.45 L504.5 90.09 L505 93.14 L505.5 98.78 L506 102.15 L506.5 106.87 L507 109.39 L507.5 112.37 L508 115.86 L508.5 117.18 L509 117.32 L509.5 117.8 L510 118.42 L510.5 117.43 L511 116.88 L511.5 117.28 L512 117.25 L512.5 117.01 L513 116.74 L513.5 117.88 L514 118.29 L514.5 118.98 L515 119.15 L515.5 120 L516 120.89 L516.5 121.42 L517 122.31 L517.5 122.6 L518 122.54 L518.5 123.19 L519 123.67 L519.5 123.41 L520 123.92 L520.5 124.07 L521 124.25 L521.5 124.2 L522 124.2 L522.5 124.24 L523 123.91 L523.5 124.44 L524 124.63 L524.5 124.65 L525 124.76 L525.5 125.47 L526 125.6 L526.5 126.22 L527 126.58 L527.5 127.04 L528 127.38 L528.5 127.94 L529 128.49 L529.5 128.85 L530 129.4 L530.5 129.78 L531 130.05 L531.5 130.45 L532 130.72 L532.5 131.03 L533 131.21 L533.5 131.43 L534 131.62 L534.5 131.73 L535 131.86 L535.5 131.96 L536 132.04 L536 132.3 Z" fill="#d76270" stroke="#c93a48" stroke-width="0.85" fill-opacity="0.72" stroke-linejoin="round"/>
<line x1="412.6" y1="131.9" x2="540.6" y2="131.9" stroke="#c93a48" stroke-width="0.7"/>
<rect x="412.6" y="4.4" width="128" height="127.9" fill="none" stroke="#8a8a8a" stroke-width="0.9"/>
<text x="416.8" y="16.1" font-size="9.7" fill="#222">A549</text>
<text x="416.8" y="54.6" font-size="9.7" fill="#222">shNC</text>
<text x="416.8" y="78.8" font-size="9.7" fill="#222">sh-OTUD7A</text>
<text x="416.8" y="104.3" font-size="9.7" fill="#222">Vector</text>
<text x="416.8" y="130.2" font-size="9.7" fill="#222">OE-OTUD7A</text>
<line x1="416.3" y1="132.3" x2="416.3" y2="134.5" stroke="#444" stroke-width="0.6"/>
<text x="413.91" y="140.8" font-size="4.3" fill="#333">10<tspan dy="-1.94" font-size="3.22">0</tspan></text>
<line x1="438.8" y1="132.3" x2="438.8" y2="134.5" stroke="#444" stroke-width="0.6"/>
<text x="436.41" y="140.8" font-size="4.3" fill="#333">10<tspan dy="-1.94" font-size="3.22">1</tspan></text>
<line x1="462.3" y1="132.3" x2="462.3" y2="134.5" stroke="#444" stroke-width="0.6"/>
<text x="459.91" y="140.8" font-size="4.3" fill="#333">10<tspan dy="-1.94" font-size="3.22">2</tspan></text>
<line x1="485.7" y1="132.3" x2="485.7" y2="134.5" stroke="#444" stroke-width="0.6"/>
<text x="483.31" y="140.8" font-size="4.3" fill="#333">10<tspan dy="-1.94" font-size="3.22">3</tspan></text>
<line x1="508.9" y1="132.3" x2="508.9" y2="134.5" stroke="#444" stroke-width="0.6"/>
<text x="506.51" y="140.8" font-size="4.3" fill="#333">10<tspan dy="-1.94" font-size="3.22">4</tspan></text>
<line x1="532.3" y1="132.3" x2="532.3" y2="134.5" stroke="#444" stroke-width="0.6"/>
<text x="529.91" y="140.8" font-size="4.3" fill="#333">10<tspan dy="-1.94" font-size="3.22">5</tspan></text>
<line x1="423.07" y1="132.3" x2="423.07" y2="133.5" stroke="#666" stroke-width="0.5"/>
<line x1="427.04" y1="132.3" x2="427.04" y2="133.5" stroke="#666" stroke-width="0.5"/>
<line x1="429.85" y1="132.3" x2="429.85" y2="133.5" stroke="#666" stroke-width="0.5"/>
<line x1="432.03" y1="132.3" x2="432.03" y2="133.5" stroke="#666" stroke-width="0.5"/>
<line x1="433.81" y1="132.3" x2="433.81" y2="133.5" stroke="#666" stroke-width="0.5"/>
<line x1="435.31" y1="132.3" x2="435.31" y2="133.5" stroke="#666" stroke-width="0.5"/>
<line x1="436.62" y1="132.3" x2="436.62" y2="133.5" stroke="#666" stroke-width="0.5"/>
<line x1="437.77" y1="132.3" x2="437.77" y2="133.5" stroke="#666" stroke-width="0.5"/>
<line x1="445.57" y1="132.3" x2="445.57" y2="133.5" stroke="#666" stroke-width="0.5"/>
<line x1="449.54" y1="132.3" x2="449.54" y2="133.5" stroke="#666" stroke-width="0.5"/>
<line x1="452.35" y1="132.3" x2="452.35" y2="133.5" stroke="#666" stroke-width="0.5"/>
<line x1="454.53" y1="132.3" x2="454.53" y2="133.5" stroke="#666" stroke-width="0.5"/>
<line x1="456.31" y1="132.3" x2="456.31" y2="133.5" stroke="#666" stroke-width="0.5"/>
<line x1="457.81" y1="132.3" x2="457.81" y2="133.5" stroke="#666" stroke-width="0.5"/>
<line x1="459.12" y1="132.3" x2="459.12" y2="133.5" stroke="#666" stroke-width="0.5"/>
<line x1="460.27" y1="132.3" x2="460.27" y2="133.5" stroke="#666" stroke-width="0.5"/>
<line x1="469.07" y1="132.3" x2="469.07" y2="133.5" stroke="#666" stroke-width="0.5"/>
<line x1="473.04" y1="132.3" x2="473.04" y2="133.5" stroke="#666" stroke-width="0.5"/>
<line x1="475.85" y1="132.3" x2="475.85" y2="133.5" stroke="#666" stroke-width="0.5"/>
<line x1="478.03" y1="132.3" x2="478.03" y2="133.5" stroke="#666" stroke-width="0.5"/>
<line x1="479.81" y1="132.3" x2="479.81" y2="133.5" stroke="#666" stroke-width="0.5"/>
<line x1="481.31" y1="132.3" x2="481.31" y2="133.5" stroke="#666" stroke-width="0.5"/>
<line x1="482.62" y1="132.3" x2="482.62" y2="133.5" stroke="#666" stroke-width="0.5"/>
<line x1="483.77" y1="132.3" x2="483.77" y2="133.5" stroke="#666" stroke-width="0.5"/>
<line x1="492.47" y1="132.3" x2="492.47" y2="133.5" stroke="#666" stroke-width="0.5"/>
<line x1="496.44" y1="132.3" x2="496.44" y2="133.5" stroke="#666" stroke-width="0.5"/>
<line x1="499.25" y1="132.3" x2="499.25" y2="133.5" stroke="#666" stroke-width="0.5"/>
<line x1="501.43" y1="132.3" x2="501.43" y2="133.5" stroke="#666" stroke-width="0.5"/>
<line x1="503.21" y1="132.3" x2="503.21" y2="133.5" stroke="#666" stroke-width="0.5"/>
<line x1="504.71" y1="132.3" x2="504.71" y2="133.5" stroke="#666" stroke-width="0.5"/>
<line x1="506.02" y1="132.3" x2="506.02" y2="133.5" stroke="#666" stroke-width="0.5"/>
<line x1="507.17" y1="132.3" x2="507.17" y2="133.5" stroke="#666" stroke-width="0.5"/>
<line x1="515.67" y1="132.3" x2="515.67" y2="133.5" stroke="#666" stroke-width="0.5"/>
<line x1="519.64" y1="132.3" x2="519.64" y2="133.5" stroke="#666" stroke-width="0.5"/>
<line x1="522.45" y1="132.3" x2="522.45" y2="133.5" stroke="#666" stroke-width="0.5"/>
<line x1="524.63" y1="132.3" x2="524.63" y2="133.5" stroke="#666" stroke-width="0.5"/>
<line x1="526.41" y1="132.3" x2="526.41" y2="133.5" stroke="#666" stroke-width="0.5"/>
<line x1="527.91" y1="132.3" x2="527.91" y2="133.5" stroke="#666" stroke-width="0.5"/>
<line x1="529.22" y1="132.3" x2="529.22" y2="133.5" stroke="#666" stroke-width="0.5"/>
<line x1="530.37" y1="132.3" x2="530.37" y2="133.5" stroke="#666" stroke-width="0.5"/>
<line x1="539.07" y1="132.3" x2="539.07" y2="133.5" stroke="#666" stroke-width="0.5"/>
<text x="476.4" y="153.8" font-size="9.6" text-anchor="middle" fill="#222">EdU-FITC</text>
<text x="555.3" y="14.7" font-size="16" font-weight="bold" fill="#111">D</text>
<text x="632" y="7.3" font-size="7" font-weight="bold" text-anchor="middle" fill="#111">A549</text>
<path d="M605.85 113.1 V59.98 H617.35 V113.1" fill="#fff" stroke="#d08c9c" stroke-width="0.9"/>
<path d="M619.95 113.1 V76.34 H631.35 V113.1" fill="#fff" stroke="#8490d2" stroke-width="0.9"/>
<path d="M633.75 113.1 V61.05 H645.15 V113.1" fill="#fff" stroke="#e8c35f" stroke-width="0.9"/>
<path d="M647.45 113.1 V28.86 H659.05 V113.1" fill="#fff" stroke="#5fbea0" stroke-width="0.9"/>
<line x1="602" y1="18.7" x2="602" y2="113.7" stroke="#222" stroke-width="1.1"/>
<line x1="601.5" y1="113.1" x2="665.3" y2="113.1" stroke="#222" stroke-width="1.1"/>
<line x1="598.8" y1="113.1" x2="602" y2="113.1" stroke="#222" stroke-width="1.1"/>
<text x="595.8" y="115.6" font-size="6.9" font-weight="bold" text-anchor="end" fill="#111">0</text>
<line x1="598.8" y1="94.32" x2="602" y2="94.32" stroke="#222" stroke-width="1.1"/>
<text x="595.8" y="96.82" font-size="6.9" font-weight="bold" text-anchor="end" fill="#111">3500</text>
<line x1="598.8" y1="75.54" x2="602" y2="75.54" stroke="#222" stroke-width="1.1"/>
<text x="595.8" y="78.04" font-size="6.9" font-weight="bold" text-anchor="end" fill="#111">7000</text>
<line x1="598.8" y1="56.76" x2="602" y2="56.76" stroke="#222" stroke-width="1.1"/>
<text x="595.8" y="59.26" font-size="6.9" font-weight="bold" text-anchor="end" fill="#111">10500</text>
<line x1="598.8" y1="37.98" x2="602" y2="37.98" stroke="#222" stroke-width="1.1"/>
<text x="595.8" y="40.48" font-size="6.9" font-weight="bold" text-anchor="end" fill="#111">14000</text>
<line x1="598.8" y1="19.2" x2="602" y2="19.2" stroke="#222" stroke-width="1.1"/>
<text x="595.8" y="21.7" font-size="6.9" font-weight="bold" text-anchor="end" fill="#111">17500</text>
<circle cx="608" cy="60.52" r="2.1" fill="#d08c9c" stroke="#444" stroke-width="0.45"/>
<circle cx="611.6" cy="59.17" r="2.1" fill="#d08c9c" stroke="#444" stroke-width="0.45"/>
<circle cx="615.2" cy="60.25" r="2.1" fill="#d08c9c" stroke="#444" stroke-width="0.45"/>
<line x1="611.6" y1="58.1" x2="611.6" y2="61.59" stroke="#222" stroke-width="0.8"/>
<line x1="609" y1="58.1" x2="614.2" y2="58.1" stroke="#222" stroke-width="0.8"/>
<line x1="609" y1="61.59" x2="614.2" y2="61.59" stroke="#222" stroke-width="0.8"/>
<line x1="611.6" y1="113.1" x2="611.6" y2="116.1" stroke="#222" stroke-width="1.1"/>
<circle cx="622.05" cy="76.34" r="2.1" fill="#8490d2" stroke="#444" stroke-width="0.45"/>
<circle cx="625.65" cy="76.08" r="2.1" fill="#8490d2" stroke="#444" stroke-width="0.45"/>
<circle cx="629.25" cy="76.61" r="2.1" fill="#8490d2" stroke="#444" stroke-width="0.45"/>
<line x1="625.65" y1="75.81" x2="625.65" y2="76.88" stroke="#222" stroke-width="0.8"/>
<line x1="623.05" y1="75.81" x2="628.25" y2="75.81" stroke="#222" stroke-width="0.8"/>
<line x1="623.05" y1="76.88" x2="628.25" y2="76.88" stroke="#222" stroke-width="0.8"/>
<line x1="625.65" y1="113.1" x2="625.65" y2="116.1" stroke="#222" stroke-width="1.1"/>
<circle cx="635.85" cy="61.59" r="2.1" fill="#e8c35f" stroke="#444" stroke-width="0.45"/>
<circle cx="639.45" cy="59.44" r="2.1" fill="#e8c35f" stroke="#444" stroke-width="0.45"/>
<circle cx="643.05" cy="65.88" r="2.1" fill="#e8c35f" stroke="#444" stroke-width="0.45"/>
<line x1="639.45" y1="54.61" x2="639.45" y2="68.56" stroke="#222" stroke-width="0.8"/>
<line x1="636.85" y1="54.61" x2="642.05" y2="54.61" stroke="#222" stroke-width="0.8"/>
<line x1="636.85" y1="68.56" x2="642.05" y2="68.56" stroke="#222" stroke-width="0.8"/>
<line x1="639.45" y1="113.1" x2="639.45" y2="116.1" stroke="#222" stroke-width="1.1"/>
<circle cx="649.65" cy="25.1" r="2.1" fill="#5fbea0" stroke="#444" stroke-width="0.45"/>
<circle cx="653.25" cy="29.39" r="2.1" fill="#5fbea0" stroke="#444" stroke-width="0.45"/>
<circle cx="656.85" cy="31" r="2.1" fill="#5fbea0" stroke="#444" stroke-width="0.45"/>
<line x1="653.25" y1="20.27" x2="653.25" y2="36.37" stroke="#222" stroke-width="0.8"/>
<line x1="650.65" y1="20.27" x2="655.85" y2="20.27" stroke="#222" stroke-width="0.8"/>
<line x1="650.65" y1="36.37" x2="655.85" y2="36.37" stroke="#222" stroke-width="0.8"/>
<line x1="653.25" y1="113.1" x2="653.25" y2="116.1" stroke="#222" stroke-width="1.1"/>
<text x="613.4" y="122.1" font-size="6.8" font-weight="bold" text-anchor="end" fill="#111" transform="rotate(-45 613.4 122.1)">shNC</text>
<text x="627.45" y="122.1" font-size="6.8" font-weight="bold" text-anchor="end" fill="#111" transform="rotate(-45 627.45 122.1)">sh-OTUD7A</text>
<text x="641.25" y="122.1" font-size="6.8" font-weight="bold" text-anchor="end" fill="#111" transform="rotate(-45 641.25 122.1)">Vector</text>
<text x="655.05" y="122.1" font-size="6.8" font-weight="bold" text-anchor="end" fill="#111" transform="rotate(-45 655.05 122.1)">OE-OTUD7A</text>
<text x="572.2" y="66.2" font-size="6.3" font-weight="bold" text-anchor="middle" fill="#111" transform="rotate(-90 572.2 66.2)">EdU-MFI</text>
<line x1="611.6" y1="50.5" x2="625.6" y2="50.5" stroke="#aaa" stroke-width="0.6" stroke-dasharray="1 0.8"/>
<text x="618.6" y="51.6" font-size="7.6" font-weight="bold" text-anchor="middle" fill="#333">**</text>
<line x1="639.4" y1="14.6" x2="653.2" y2="14.6" stroke="#aaa" stroke-width="0.6" stroke-dasharray="1 0.8"/>
<text x="646.3" y="15.6" font-size="7.6" font-weight="bold" text-anchor="middle" fill="#333">*</text>
<text x="21.5" y="194.3" font-size="16" font-weight="bold" fill="#111">E</text>
<line x1="41.2" y1="432.4" x2="41.2" y2="193.5" stroke="#222" stroke-width="1"/>
<path d="M41.2 188.2 L38.9 195 L43.5 195 Z" fill="#222" stroke="none" stroke-width="1"/>
<line x1="41.2" y1="432.4" x2="356" y2="432.4" stroke="#222" stroke-width="1"/>
<path d="M361.5 432.4 L354.5 430.1 L354.5 434.7 Z" fill="#222" stroke="none" stroke-width="1"/>
<text x="37" y="305" font-size="12.6" text-anchor="middle" fill="#222" transform="rotate(-90 37 305)">PE</text>
<text x="43.6" y="448.4" font-size="12.7" fill="#222">A549-JC-1</text>
<text x="205.8" y="447.6" font-size="12.2" text-anchor="middle" fill="#222">FITC</text>
<path d="M72.75 285.5 V283.98 H84.55 V285.5" fill="#fff" stroke="#d08c9c" stroke-width="0.9"/>
<path d="M86.55 285.5 V243.72 H97.05 V285.5" fill="#fff" stroke="#8490d2" stroke-width="0.9"/>
<path d="M99.55 285.5 V207.73 H110.25 V285.5" fill="#fff" stroke="#e8c35f" stroke-width="0.9"/>
<path d="M112.75 285.5 V247.99 H123.35 V285.5" fill="#fff" stroke="#5cb89e" stroke-width="0.9"/>
<path d="M125.85 285.5 V275.44 H137.05 V285.5" fill="#fff" stroke="#63c1dc" stroke-width="0.9"/>
<line x1="68.9" y1="193.5" x2="68.9" y2="286.1" stroke="#222" stroke-width="1"/>
<line x1="68.4" y1="285.5" x2="141.5" y2="285.5" stroke="#222" stroke-width="1"/>
<line x1="65.9" y1="285.5" x2="68.9" y2="285.5" stroke="#222" stroke-width="1"/>
<text x="65.1" y="287.8" font-size="6.4" font-weight="bold" text-anchor="end" fill="#111">0</text>
<line x1="65.9" y1="255" x2="68.9" y2="255" stroke="#222" stroke-width="1"/>
<text x="65.1" y="257.3" font-size="6.4" font-weight="bold" text-anchor="end" fill="#111">10</text>
<line x1="65.9" y1="224.5" x2="68.9" y2="224.5" stroke="#222" stroke-width="1"/>
<text x="65.1" y="226.8" font-size="6.4" font-weight="bold" text-anchor="end" fill="#111">20</text>
<line x1="65.9" y1="194" x2="68.9" y2="194" stroke="#222" stroke-width="1"/>
<text x="65.1" y="196.3" font-size="6.4" font-weight="bold" text-anchor="end" fill="#111">30</text>
<circle cx="74.95" cy="283.98" r="2" fill="#d08c9c" stroke="#555" stroke-width="0.4"/>
<circle cx="78.65" cy="283.67" r="2" fill="#d08c9c" stroke="#555" stroke-width="0.4"/>
<circle cx="82.35" cy="283.82" r="2" fill="#d08c9c" stroke="#555" stroke-width="0.4"/>
<line x1="78.65" y1="285.5" x2="78.65" y2="288.3" stroke="#222" stroke-width="1"/>
<text x="80.45" y="294.1" font-size="6.6" font-weight="bold" text-anchor="end" fill="#111" transform="rotate(-45 80.45 294.1)">Control</text>
<circle cx="88.1" cy="245.24" r="2" fill="#8490d2" stroke="#555" stroke-width="0.4"/>
<circle cx="91.8" cy="239.44" r="2" fill="#8490d2" stroke="#555" stroke-width="0.4"/>
<circle cx="95.5" cy="243.41" r="2" fill="#8490d2" stroke="#555" stroke-width="0.4"/>
<line x1="91.8" y1="235.48" x2="91.8" y2="249.81" stroke="#333" stroke-width="0.8"/>
<line x1="89.4" y1="235.48" x2="94.2" y2="235.48" stroke="#333" stroke-width="0.8"/>
<line x1="89.4" y1="249.81" x2="94.2" y2="249.81" stroke="#333" stroke-width="0.8"/>
<line x1="91.8" y1="285.5" x2="91.8" y2="288.3" stroke="#222" stroke-width="1"/>
<text x="93.6" y="294.1" font-size="6.6" font-weight="bold" text-anchor="end" fill="#111" transform="rotate(-45 93.6 294.1)">shNC</text>
<circle cx="101.2" cy="208.34" r="2" fill="#e8c35f" stroke="#555" stroke-width="0.4"/>
<circle cx="104.9" cy="204.37" r="2" fill="#e8c35f" stroke="#555" stroke-width="0.4"/>
<circle cx="108.6" cy="208.03" r="2" fill="#e8c35f" stroke="#555" stroke-width="0.4"/>
<line x1="104.9" y1="202.54" x2="104.9" y2="210.78" stroke="#333" stroke-width="0.8"/>
<line x1="102.5" y1="202.54" x2="107.3" y2="202.54" stroke="#333" stroke-width="0.8"/>
<line x1="102.5" y1="210.78" x2="107.3" y2="210.78" stroke="#333" stroke-width="0.8"/>
<line x1="104.9" y1="285.5" x2="104.9" y2="288.3" stroke="#222" stroke-width="1"/>
<text x="106.7" y="294.1" font-size="6.6" font-weight="bold" text-anchor="end" fill="#111" transform="rotate(-45 106.7 294.1)">sh-OTUD7A</text>
<circle cx="114.35" cy="248.9" r="2" fill="#5cb89e" stroke="#555" stroke-width="0.4"/>
<circle cx="118.05" cy="245.85" r="2" fill="#5cb89e" stroke="#555" stroke-width="0.4"/>
<circle cx="121.75" cy="247.99" r="2" fill="#5cb89e" stroke="#555" stroke-width="0.4"/>
<line x1="118.05" y1="243.11" x2="118.05" y2="251.95" stroke="#333" stroke-width="0.8"/>
<line x1="115.65" y1="243.11" x2="120.45" y2="243.11" stroke="#333" stroke-width="0.8"/>
<line x1="115.65" y1="251.95" x2="120.45" y2="251.95" stroke="#333" stroke-width="0.8"/>
<line x1="118.05" y1="285.5" x2="118.05" y2="288.3" stroke="#222" stroke-width="1"/>
<text x="119.85" y="294.1" font-size="6.6" font-weight="bold" text-anchor="end" fill="#111" transform="rotate(-45 119.85 294.1)">Vector</text>
<circle cx="127.75" cy="275.44" r="2" fill="#63c1dc" stroke="#555" stroke-width="0.4"/>
<circle cx="131.45" cy="275.28" r="2" fill="#63c1dc" stroke="#555" stroke-width="0.4"/>
<circle cx="135.15" cy="275.44" r="2" fill="#63c1dc" stroke="#555" stroke-width="0.4"/>
<line x1="131.45" y1="285.5" x2="131.45" y2="288.3" stroke="#222" stroke-width="1"/>
<text x="133.25" y="294.1" font-size="6.6" font-weight="bold" text-anchor="end" fill="#111" transform="rotate(-45 133.25 294.1)">OE-OTUD7A</text>
<text x="52.6" y="240" font-size="6.2" font-weight="bold" text-anchor="middle" fill="#111" transform="rotate(-90 52.6 240)">JC-1 Aggregate monomer(%)</text>
<line x1="87.4" y1="189.5" x2="134.8" y2="189.5" stroke="#bf1f2b" stroke-width="0.8"/>
<text x="110.6" y="188" font-size="7.6" text-anchor="middle" fill="#bf1f2b">+CDDP</text>
<line x1="91.4" y1="199.4" x2="105" y2="199.4" stroke="#aaa" stroke-width="0.6" stroke-dasharray="1 0.8"/>
<text x="98.2" y="200.2" font-size="7.6" font-weight="bold" text-anchor="middle" fill="#333">**</text>
<line x1="118.2" y1="239.2" x2="131.5" y2="239.2" stroke="#aaa" stroke-width="0.6" stroke-dasharray="1 0.8"/>
<text x="124.85" y="240" font-size="7.6" font-weight="bold" text-anchor="middle" fill="#333">**</text>
<rect x="144.4" y="208.1" width="206.8" height="221.5" fill="none" stroke="#d98a8e" stroke-width="0.9"/>
<text x="245" y="204" font-size="11.2" text-anchor="middle" fill="#bf1f2b">+CDDP</text>
<text x="97.3" y="331.3" font-size="11.4" text-anchor="middle" fill="#111">Control</text>
<path d="M103.2 363.7h0.8v0.8h-0.8zM99.1 367.4h0.8v0.8h-0.8zM109.1 382.2h0.8v0.8h-0.8zM108.7 384.0h0.8v0.8h-0.8zM114.9 377.8h0.8v0.8h-0.8zM94.4 370.4h0.8v0.8h-0.8zM116.9 376.0h0.8v0.8h-0.8zM93.0 376.8h0.8v0.8h-0.8zM104.2 384.9h0.8v0.8h-0.8zM91.0 369.6h0.8v0.8h-0.8zM97.9 367.5h0.8v0.8h-0.8zM99.8 389.4h0.8v0.8h-0.8zM108.2 383.7h0.8v0.8h-0.8zM112.0 379.6h0.8v0.8h-0.8zM91.0 379.6h0.8v0.8h-0.8zM117.0 360.5h0.8v0.8h-0.8zM94.1 375.3h0.8v0.8h-0.8zM109.7 382.3h0.8v0.8h-0.8zM96.0 384.9h0.8v0.8h-0.8zM94.8 384.0h0.8v0.8h-0.8zM122.8 356.7h0.8v0.8h-0.8zM92.7 374.3h0.8v0.8h-0.8zM108.1 382.9h0.8v0.8h-0.8zM94.0 383.0h0.8v0.8h-0.8zM101.7 386.0h0.8v0.8h-0.8zM94.3 385.4h0.8v0.8h-0.8zM98.2 388.1h0.8v0.8h-0.8zM94.4 372.2h0.8v0.8h-0.8zM88.3 383.5h0.8v0.8h-0.8zM120.7 364.3h0.8v0.8h-0.8zM98.2 368.5h0.8v0.8h-0.8zM93.0 373.5h0.8v0.8h-0.8zM108.9 361.1h0.8v0.8h-0.8zM100.9 365.4h0.8v0.8h-0.8zM90.7 383.4h0.8v0.8h-0.8zM98.0 388.9h0.8v0.8h-0.8zM105.0 363.4h0.8v0.8h-0.8zM94.7 373.7h0.8v0.8h-0.8zM93.8 375.9h0.8v0.8h-0.8zM106.7 361.5h0.8v0.8h-0.8zM93.7 374.3h0.8v0.8h-0.8zM114.2 360.4h0.8v0.8h-0.8zM91.4 376.1h0.8v0.8h-0.8zM92.4 385.1h0.8v0.8h-0.8zM98.9 367.6h0.8v0.8h-0.8zM100.4 386.1h0.8v0.8h-0.8zM115.2 379.5h0.8v0.8h-0.8zM105.8 363.2h0.8v0.8h-0.8zM98.2 393.4h0.8v0.8h-0.8zM96.5 387.9h0.8v0.8h-0.8zM106.1 361.6h0.8v0.8h-0.8zM112.3 379.7h0.8v0.8h-0.8zM90.5 379.7h0.8v0.8h-0.8zM94.1 373.5h0.8v0.8h-0.8zM96.9 369.0h0.8v0.8h-0.8zM117.9 358.5h0.8v0.8h-0.8zM110.7 382.0h0.8v0.8h-0.8zM92.8 379.3h0.8v0.8h-0.8zM121.0 365.1h0.8v0.8h-0.8zM90.1 382.3h0.8v0.8h-0.8zM93.5 382.8h0.8v0.8h-0.8zM96.7 385.2h0.8v0.8h-0.8zM125.4 368.0h0.8v0.8h-0.8zM91.0 380.7h0.8v0.8h-0.8zM123.1 362.0h0.8v0.8h-0.8zM118.8 358.1h0.8v0.8h-0.8zM113.6 378.4h0.8v0.8h-0.8zM122.1 363.2h0.8v0.8h-0.8zM111.0 380.6h0.8v0.8h-0.8zM95.5 370.8h0.8v0.8h-0.8zM124.2 362.1h0.8v0.8h-0.8zM112.3 360.9h0.8v0.8h-0.8zM114.0 359.5h0.8v0.8h-0.8zM123.4 363.1h0.8v0.8h-0.8zM120.8 362.3h0.8v0.8h-0.8zM115.8 355.0h0.8v0.8h-0.8zM128.3 363.2h0.8v0.8h-0.8zM126.1 350.8h0.8v0.8h-0.8zM106.4 362.3h0.8v0.8h-0.8zM117.5 360.8h0.8v0.8h-0.8zM126.9 358.3h0.8v0.8h-0.8zM127.5 368.1h0.8v0.8h-0.8zM121.5 362.3h0.8v0.8h-0.8zM124.9 356.5h0.8v0.8h-0.8zM128.3 372.0h0.8v0.8h-0.8zM124.2 357.6h0.8v0.8h-0.8zM121.6 354.1h0.8v0.8h-0.8zM115.5 354.9h0.8v0.8h-0.8zM105.0 363.5h0.8v0.8h-0.8zM118.0 358.8h0.8v0.8h-0.8zM119.3 360.0h0.8v0.8h-0.8zM113.8 357.4h0.8v0.8h-0.8zM123.4 372.7h0.8v0.8h-0.8zM116.2 360.3h0.8v0.8h-0.8zM106.3 356.7h0.8v0.8h-0.8zM120.2 356.6h0.8v0.8h-0.8zM129.8 361.3h0.8v0.8h-0.8zM130.9 358.8h0.8v0.8h-0.8zM129.6 359.7h0.8v0.8h-0.8zM136.7 355.3h0.8v0.8h-0.8zM126.9 364.3h0.8v0.8h-0.8zM129.9 360.0h0.8v0.8h-0.8zM133.5 357.8h0.8v0.8h-0.8zM102.9 385.6h0.8v0.8h-0.8zM105.4 385.8h0.8v0.8h-0.8zM87.9 390.7h0.8v0.8h-0.8zM115.5 384.7h0.8v0.8h-0.8zM86.8 380.3h0.8v0.8h-0.8zM98.0 388.7h0.8v0.8h-0.8zM103.7 384.7h0.8v0.8h-0.8zM92.9 386.7h0.8v0.8h-0.8zM101.6 388.2h0.8v0.8h-0.8zM94.2 373.1h0.8v0.8h-0.8zM114.8 376.9h0.8v0.8h-0.8zM92.0 383.5h0.8v0.8h-0.8zM103.1 385.2h0.8v0.8h-0.8z" fill="#243f88" stroke="none" stroke-width="1"/>
<path d="M96.5 375.3h0.8v0.8h-0.8zM116.2 364.9h0.8v0.8h-0.8zM115.5 364.2h0.8v0.8h-0.8zM100.6 367.8h0.8v0.8h-0.8zM114.2 361.1h0.8v0.8h-0.8zM96.0 380.3h0.8v0.8h-0.8zM103.7 365.4h0.8v0.8h-0.8zM119.3 365.1h0.8v0.8h-0.8zM94.8 377.3h0.8v0.8h-0.8zM118.5 366.9h0.8v0.8h-0.8zM96.0 375.0h0.8v0.8h-0.8zM115.8 365.1h0.8v0.8h-0.8zM97.5 381.1h0.8v0.8h-0.8zM102.6 365.9h0.8v0.8h-0.8zM103.2 382.8h0.8v0.8h-0.8zM97.4 373.1h0.8v0.8h-0.8zM97.4 382.8h0.8v0.8h-0.8zM96.3 374.0h0.8v0.8h-0.8zM100.0 368.6h0.8v0.8h-0.8zM103.7 383.4h0.8v0.8h-0.8zM117.5 361.7h0.8v0.8h-0.8zM114.8 374.6h0.8v0.8h-0.8zM98.8 371.6h0.8v0.8h-0.8zM96.1 375.4h0.8v0.8h-0.8zM97.1 374.5h0.8v0.8h-0.8zM115.4 362.7h0.8v0.8h-0.8zM102.8 366.5h0.8v0.8h-0.8zM107.4 381.6h0.8v0.8h-0.8zM116.6 368.4h0.8v0.8h-0.8zM107.9 380.6h0.8v0.8h-0.8zM111.5 378.3h0.8v0.8h-0.8zM96.0 377.8h0.8v0.8h-0.8zM105.6 382.1h0.8v0.8h-0.8zM95.9 383.9h0.8v0.8h-0.8zM118.4 365.4h0.8v0.8h-0.8zM100.6 369.6h0.8v0.8h-0.8zM98.3 383.2h0.8v0.8h-0.8zM109.2 380.2h0.8v0.8h-0.8zM94.7 377.9h0.8v0.8h-0.8zM112.5 364.4h0.8v0.8h-0.8zM121.5 365.0h0.8v0.8h-0.8zM95.5 383.4h0.8v0.8h-0.8zM115.0 364.7h0.8v0.8h-0.8zM96.7 371.7h0.8v0.8h-0.8zM95.7 375.5h0.8v0.8h-0.8zM95.5 380.1h0.8v0.8h-0.8zM95.8 377.7h0.8v0.8h-0.8zM114.8 363.0h0.8v0.8h-0.8zM97.3 371.5h0.8v0.8h-0.8zM106.1 363.9h0.8v0.8h-0.8zM98.6 371.7h0.8v0.8h-0.8zM105.9 382.7h0.8v0.8h-0.8zM100.1 368.8h0.8v0.8h-0.8zM98.1 372.2h0.8v0.8h-0.8zM102.0 368.4h0.8v0.8h-0.8zM101.3 382.9h0.8v0.8h-0.8zM99.2 384.5h0.8v0.8h-0.8zM100.6 366.9h0.8v0.8h-0.8zM111.1 362.6h0.8v0.8h-0.8zM102.5 382.8h0.8v0.8h-0.8zM95.6 376.2h0.8v0.8h-0.8zM98.9 382.1h0.8v0.8h-0.8zM94.8 379.7h0.8v0.8h-0.8zM108.6 380.2h0.8v0.8h-0.8zM102.9 366.2h0.8v0.8h-0.8zM112.7 364.6h0.8v0.8h-0.8zM114.6 361.0h0.8v0.8h-0.8zM98.8 371.4h0.8v0.8h-0.8zM94.6 375.9h0.8v0.8h-0.8zM109.7 361.9h0.8v0.8h-0.8zM97.1 373.6h0.8v0.8h-0.8zM99.2 383.8h0.8v0.8h-0.8zM103.6 366.7h0.8v0.8h-0.8zM114.9 364.3h0.8v0.8h-0.8zM111.1 378.8h0.8v0.8h-0.8zM95.9 376.8h0.8v0.8h-0.8zM103.9 366.6h0.8v0.8h-0.8zM95.1 375.5h0.8v0.8h-0.8zM96.7 375.7h0.8v0.8h-0.8zM117.0 365.5h0.8v0.8h-0.8zM114.6 362.9h0.8v0.8h-0.8zM98.2 382.3h0.8v0.8h-0.8zM97.2 371.0h0.8v0.8h-0.8zM98.0 372.0h0.8v0.8h-0.8zM109.4 362.0h0.8v0.8h-0.8zM97.9 372.0h0.8v0.8h-0.8zM119.3 367.5h0.8v0.8h-0.8zM112.8 362.5h0.8v0.8h-0.8zM108.5 363.6h0.8v0.8h-0.8zM111.2 362.0h0.8v0.8h-0.8zM112.2 363.8h0.8v0.8h-0.8zM118.6 372.1h0.8v0.8h-0.8zM110.3 364.1h0.8v0.8h-0.8zM118.7 365.5h0.8v0.8h-0.8zM116.5 362.1h0.8v0.8h-0.8zM119.3 365.4h0.8v0.8h-0.8zM114.4 365.1h0.8v0.8h-0.8zM127.9 362.3h0.8v0.8h-0.8zM98.9 383.0h0.8v0.8h-0.8zM117.8 365.0h0.8v0.8h-0.8zM99.7 383.5h0.8v0.8h-0.8zM125.2 364.0h0.8v0.8h-0.8zM114.0 375.8h0.8v0.8h-0.8zM117.9 368.2h0.8v0.8h-0.8zM96.7 372.4h0.8v0.8h-0.8zM104.2 382.9h0.8v0.8h-0.8zM115.8 364.9h0.8v0.8h-0.8zM115.9 373.9h0.8v0.8h-0.8zM95.2 381.9h0.8v0.8h-0.8zM110.3 364.1h0.8v0.8h-0.8zM117.7 364.7h0.8v0.8h-0.8zM116.0 365.5h0.8v0.8h-0.8zM115.8 366.2h0.8v0.8h-0.8zM110.6 364.4h0.8v0.8h-0.8zM117.0 368.5h0.8v0.8h-0.8zM117.0 365.6h0.8v0.8h-0.8zM106.5 365.3h0.8v0.8h-0.8zM118.5 363.0h0.8v0.8h-0.8zM97.1 371.1h0.8v0.8h-0.8zM110.8 363.8h0.8v0.8h-0.8zM118.4 363.0h0.8v0.8h-0.8zM114.4 376.4h0.8v0.8h-0.8zM122.3 365.5h0.8v0.8h-0.8zM103.3 365.2h0.8v0.8h-0.8zM96.9 381.9h0.8v0.8h-0.8zM117.1 365.8h0.8v0.8h-0.8zM125.2 363.1h0.8v0.8h-0.8zM96.5 379.5h0.8v0.8h-0.8zM118.3 363.9h0.8v0.8h-0.8zM118.7 368.2h0.8v0.8h-0.8zM101.3 368.1h0.8v0.8h-0.8zM103.9 365.0h0.8v0.8h-0.8zM117.5 372.5h0.8v0.8h-0.8zM100.3 385.5h0.8v0.8h-0.8zM124.5 364.6h0.8v0.8h-0.8zM120.4 365.8h0.8v0.8h-0.8zM123.7 366.4h0.8v0.8h-0.8zM103.2 383.7h0.8v0.8h-0.8zM122.7 366.4h0.8v0.8h-0.8zM123.2 365.4h0.8v0.8h-0.8zM114.6 375.0h0.8v0.8h-0.8zM119.3 370.8h0.8v0.8h-0.8zM122.2 367.5h0.8v0.8h-0.8zM118.5 366.9h0.8v0.8h-0.8zM115.7 373.7h0.8v0.8h-0.8zM124.7 365.3h0.8v0.8h-0.8zM122.1 365.9h0.8v0.8h-0.8zM123.8 364.5h0.8v0.8h-0.8zM123.7 365.3h0.8v0.8h-0.8zM124.4 364.8h0.8v0.8h-0.8zM101.7 384.4h0.8v0.8h-0.8zM127.4 362.1h0.8v0.8h-0.8zM125.8 363.1h0.8v0.8h-0.8zM114.0 375.4h0.8v0.8h-0.8zM118.7 370.8h0.8v0.8h-0.8zM122.5 366.8h0.8v0.8h-0.8zM128.5 361.3h0.8v0.8h-0.8zM122.5 365.2h0.8v0.8h-0.8zM125.1 363.2h0.8v0.8h-0.8zM115.6 374.0h0.8v0.8h-0.8zM107.6 380.7h0.8v0.8h-0.8zM108.7 380.9h0.8v0.8h-0.8zM105.7 382.0h0.8v0.8h-0.8zM98.3 382.7h0.8v0.8h-0.8zM104.5 382.7h0.8v0.8h-0.8zM94.9 376.5h0.8v0.8h-0.8zM95.9 379.5h0.8v0.8h-0.8zM101.7 383.2h0.8v0.8h-0.8z" fill="#2d66a8" stroke="none" stroke-width="1"/>
<path d="M111.4 366.2h1v1h-1zM98.1 378.1h1v1h-1zM97.1 379.0h1v1h-1zM113.5 367.2h1v1h-1zM115.2 366.7h1v1h-1zM103.6 380.5h1v1h-1zM112.6 376.1h1v1h-1zM115.0 371.2h1v1h-1zM115.5 373.5h1v1h-1zM111.8 366.7h1v1h-1zM102.9 368.0h1v1h-1zM103.3 381.8h1v1h-1zM102.7 368.2h1v1h-1zM98.8 373.8h1v1h-1zM109.4 378.3h1v1h-1zM104.3 380.9h1v1h-1zM108.2 365.7h1v1h-1zM98.9 378.6h1v1h-1zM103.6 368.6h1v1h-1zM99.9 381.2h1v1h-1zM111.0 377.0h1v1h-1zM98.1 375.5h1v1h-1zM105.1 367.2h1v1h-1zM98.2 376.1h1v1h-1zM98.5 374.1h1v1h-1zM101.9 369.8h1v1h-1zM115.0 366.6h1v1h-1zM100.9 380.6h1v1h-1zM100.2 371.1h1v1h-1zM99.5 379.7h1v1h-1zM103.9 367.7h1v1h-1zM114.5 367.6h1v1h-1zM114.5 369.0h1v1h-1zM97.6 378.0h1v1h-1zM109.7 379.0h1v1h-1zM100.2 370.8h1v1h-1zM114.2 370.4h1v1h-1zM114.6 367.7h1v1h-1zM112.0 366.0h1v1h-1zM112.5 366.6h1v1h-1zM106.0 366.8h1v1h-1zM98.1 376.3h1v1h-1zM99.1 372.0h1v1h-1zM113.9 372.0h1v1h-1zM107.3 379.8h1v1h-1zM115.7 368.6h1v1h-1zM102.2 380.3h1v1h-1zM110.1 366.5h1v1h-1zM99.1 379.7h1v1h-1zM102.9 381.1h1v1h-1zM115.6 370.0h1v1h-1zM100.9 380.6h1v1h-1zM102.4 369.7h1v1h-1zM109.4 365.9h1v1h-1zM102.7 369.4h1v1h-1zM100.5 369.9h1v1h-1zM108.8 378.8h1v1h-1zM102.9 369.3h1v1h-1zM107.0 366.7h1v1h-1zM114.7 370.9h1v1h-1zM98.4 379.2h1v1h-1zM98.2 381.2h1v1h-1zM99.3 371.7h1v1h-1zM103.7 380.6h1v1h-1zM100.1 372.6h1v1h-1zM101.9 369.0h1v1h-1zM101.6 369.9h1v1h-1zM109.8 366.3h1v1h-1zM100.1 372.2h1v1h-1zM101.3 380.2h1v1h-1zM97.7 377.6h1v1h-1zM97.3 376.5h1v1h-1zM110.6 377.5h1v1h-1zM115.2 371.0h1v1h-1zM104.5 366.8h1v1h-1zM102.8 381.7h1v1h-1zM97.6 380.5h1v1h-1zM104.0 368.4h1v1h-1zM110.0 377.7h1v1h-1zM112.1 366.0h1v1h-1zM100.6 380.7h1v1h-1zM109.6 366.0h1v1h-1zM115.1 367.1h1v1h-1zM109.0 379.6h1v1h-1zM113.0 366.2h1v1h-1zM98.0 381.1h1v1h-1zM114.8 366.5h1v1h-1zM103.5 380.1h1v1h-1zM99.0 379.5h1v1h-1zM105.9 367.0h1v1h-1zM102.3 381.2h1v1h-1zM101.9 370.1h1v1h-1zM100.8 370.6h1v1h-1zM114.4 369.4h1v1h-1zM99.2 380.9h1v1h-1zM109.5 365.2h1v1h-1zM113.9 369.9h1v1h-1zM102.8 369.7h1v1h-1zM100.7 381.1h1v1h-1zM99.3 379.3h1v1h-1zM97.8 374.8h1v1h-1zM113.7 371.4h1v1h-1zM106.6 367.1h1v1h-1zM102.5 381.2h1v1h-1zM102.6 381.2h1v1h-1zM105.1 368.2h1v1h-1zM98.8 376.7h1v1h-1zM107.9 380.2h1v1h-1zM102.5 369.2h1v1h-1zM114.8 368.7h1v1h-1zM104.9 380.2h1v1h-1zM107.2 366.2h1v1h-1zM100.4 371.0h1v1h-1zM99.0 373.5h1v1h-1zM99.5 381.5h1v1h-1zM107.0 366.7h1v1h-1zM106.9 380.6h1v1h-1zM98.3 373.4h1v1h-1zM109.0 365.3h1v1h-1zM113.5 371.1h1v1h-1zM112.7 368.0h1v1h-1zM114.0 365.3h1v1h-1zM107.6 365.2h1v1h-1zM114.7 371.3h1v1h-1zM105.0 367.4h1v1h-1zM110.6 378.1h1v1h-1zM118.7 368.9h1v1h-1zM113.5 365.5h1v1h-1zM105.0 366.7h1v1h-1zM118.9 369.0h1v1h-1zM111.3 377.0h1v1h-1zM106.7 380.9h1v1h-1zM118.4 368.7h1v1h-1zM114.3 374.1h1v1h-1zM116.8 371.2h1v1h-1zM115.0 367.5h1v1h-1zM112.8 368.2h1v1h-1zM114.7 370.3h1v1h-1zM102.9 368.3h1v1h-1zM100.1 370.8h1v1h-1zM112.5 375.6h1v1h-1zM100.1 372.3h1v1h-1zM114.4 369.0h1v1h-1zM112.9 366.8h1v1h-1zM113.7 365.3h1v1h-1zM108.7 378.9h1v1h-1zM115.2 370.7h1v1h-1zM110.4 378.1h1v1h-1zM100.1 371.8h1v1h-1zM109.6 365.4h1v1h-1zM114.6 371.0h1v1h-1zM118.9 369.0h1v1h-1zM112.1 376.8h1v1h-1zM114.6 374.2h1v1h-1zM102.5 382.1h1v1h-1zM117.9 371.3h1v1h-1zM121.7 367.1h1v1h-1zM114.6 373.7h1v1h-1zM118.0 368.6h1v1h-1zM119.9 368.4h1v1h-1zM115.6 370.0h1v1h-1zM121.3 367.0h1v1h-1zM117.0 371.5h1v1h-1zM115.1 373.0h1v1h-1zM121.7 367.2h1v1h-1zM116.9 371.1h1v1h-1zM119.0 370.3h1v1h-1zM120.8 368.0h1v1h-1z" fill="#2f9a96" stroke="none" stroke-width="1"/>
<path d="M111.9 369.5h1v1h-1zM106.7 379.5h1v1h-1zM105.1 377.9h1v1h-1zM105.4 368.4h1v1h-1zM105.9 378.9h1v1h-1zM104.9 378.4h1v1h-1zM100.6 376.6h1v1h-1zM111.7 368.0h1v1h-1zM101.1 379.0h1v1h-1zM112.2 369.4h1v1h-1zM111.7 372.1h1v1h-1zM106.7 378.3h1v1h-1zM110.8 368.4h1v1h-1zM100.9 377.7h1v1h-1zM107.4 378.1h1v1h-1zM112.4 368.5h1v1h-1zM110.0 367.8h1v1h-1zM100.5 373.2h1v1h-1zM101.2 378.5h1v1h-1zM110.9 369.3h1v1h-1zM107.2 377.6h1v1h-1zM116.2 371.3h1v1h-1zM100.4 376.7h1v1h-1zM105.4 368.9h1v1h-1zM100.3 375.1h1v1h-1zM112.9 371.8h1v1h-1zM103.6 379.3h1v1h-1zM110.2 369.0h1v1h-1zM111.3 368.2h1v1h-1zM102.8 378.4h1v1h-1zM111.3 368.3h1v1h-1zM107.1 378.2h1v1h-1zM113.3 372.3h1v1h-1zM112.3 368.6h1v1h-1zM99.2 375.4h1v1h-1zM100.5 377.0h1v1h-1zM106.8 378.9h1v1h-1zM101.3 378.4h1v1h-1zM108.5 367.0h1v1h-1zM103.4 379.0h1v1h-1zM101.1 372.2h1v1h-1zM101.0 377.7h1v1h-1zM112.3 373.7h1v1h-1zM112.7 373.6h1v1h-1zM111.1 372.3h1v1h-1zM102.4 378.3h1v1h-1zM99.0 375.7h1v1h-1zM109.3 368.7h1v1h-1zM112.8 373.6h1v1h-1zM108.3 378.0h1v1h-1zM108.6 376.2h1v1h-1zM107.8 367.7h1v1h-1zM100.5 374.6h1v1h-1zM100.4 374.9h1v1h-1zM104.9 369.1h1v1h-1zM106.9 367.6h1v1h-1zM102.7 370.9h1v1h-1zM108.3 367.6h1v1h-1zM99.7 374.9h1v1h-1zM103.8 378.9h1v1h-1zM109.1 376.7h1v1h-1zM104.3 378.2h1v1h-1zM100.1 373.9h1v1h-1zM100.5 377.4h1v1h-1zM108.7 367.5h1v1h-1zM108.0 377.0h1v1h-1zM111.0 374.8h1v1h-1zM112.7 371.9h1v1h-1zM112.4 368.7h1v1h-1zM106.2 378.5h1v1h-1zM102.7 378.3h1v1h-1zM110.7 373.0h1v1h-1zM102.2 378.7h1v1h-1zM101.5 371.7h1v1h-1zM109.1 367.8h1v1h-1zM101.6 379.3h1v1h-1zM105.3 369.0h1v1h-1zM113.0 368.9h1v1h-1zM100.2 376.4h1v1h-1zM106.0 368.1h1v1h-1zM104.8 370.0h1v1h-1zM110.0 374.8h1v1h-1zM106.0 378.1h1v1h-1zM111.0 371.7h1v1h-1zM102.5 372.0h1v1h-1zM110.2 375.9h1v1h-1zM111.5 367.7h1v1h-1zM102.1 371.7h1v1h-1zM112.4 374.4h1v1h-1zM113.1 370.0h1v1h-1zM102.2 371.2h1v1h-1zM107.7 378.9h1v1h-1zM112.3 370.4h1v1h-1zM106.3 368.1h1v1h-1zM112.7 373.7h1v1h-1zM103.6 379.5h1v1h-1zM111.5 371.4h1v1h-1zM100.1 377.0h1v1h-1zM113.1 372.1h1v1h-1zM101.1 378.1h1v1h-1zM106.5 377.5h1v1h-1zM106.7 367.6h1v1h-1zM111.6 370.4h1v1h-1zM112.2 371.6h1v1h-1zM111.8 367.9h1v1h-1zM111.0 371.8h1v1h-1zM103.7 370.4h1v1h-1zM101.3 378.6h1v1h-1zM101.1 379.5h1v1h-1zM114.6 373.4h1v1h-1zM110.9 374.3h1v1h-1zM111.3 371.2h1v1h-1zM110.3 374.8h1v1h-1zM111.8 373.7h1v1h-1zM100.5 374.0h1v1h-1zM103.7 379.6h1v1h-1zM109.3 377.3h1v1h-1zM108.3 378.0h1v1h-1zM101.7 380.0h1v1h-1zM112.4 370.1h1v1h-1zM111.2 370.2h1v1h-1zM106.6 378.3h1v1h-1zM100.1 377.4h1v1h-1zM110.6 373.2h1v1h-1zM109.8 375.7h1v1h-1zM107.7 368.0h1v1h-1zM105.6 368.2h1v1h-1zM108.7 367.7h1v1h-1zM111.8 373.2h1v1h-1zM100.8 372.4h1v1h-1zM109.0 366.9h1v1h-1zM100.5 373.4h1v1h-1zM107.7 376.8h1v1h-1zM103.9 370.5h1v1h-1zM102.9 378.5h1v1h-1zM101.9 371.5h1v1h-1zM108.7 367.4h1v1h-1zM111.5 372.0h1v1h-1zM112.4 371.9h1v1h-1zM111.8 367.9h1v1h-1zM109.9 367.9h1v1h-1zM108.3 377.3h1v1h-1zM111.9 371.5h1v1h-1zM113.2 374.2h1v1h-1zM113.1 371.6h1v1h-1zM108.0 376.6h1v1h-1zM115.0 372.0h1v1h-1zM99.4 374.2h1v1h-1zM106.9 377.2h1v1h-1zM102.2 379.2h1v1h-1zM101.4 373.0h1v1h-1zM101.9 370.7h1v1h-1zM99.2 377.8h1v1h-1zM100.5 373.8h1v1h-1zM102.3 370.3h1v1h-1zM102.4 378.2h1v1h-1zM102.7 371.1h1v1h-1zM100.9 379.1h1v1h-1zM104.8 368.8h1v1h-1zM111.1 372.0h1v1h-1zM111.2 369.1h1v1h-1zM102.5 379.5h1v1h-1zM104.5 369.4h1v1h-1zM110.9 375.3h1v1h-1zM106.2 369.0h1v1h-1zM112.0 368.9h1v1h-1zM112.6 368.2h1v1h-1zM108.6 368.0h1v1h-1zM109.7 368.7h1v1h-1zM113.8 373.7h1v1h-1zM110.8 372.9h1v1h-1zM112.9 372.3h1v1h-1zM109.7 376.4h1v1h-1zM102.5 378.9h1v1h-1zM103.8 370.6h1v1h-1zM112.2 373.8h1v1h-1zM101.0 372.0h1v1h-1zM110.6 367.4h1v1h-1zM103.7 378.5h1v1h-1zM106.7 368.5h1v1h-1zM110.0 377.4h1v1h-1zM111.9 372.8h1v1h-1zM107.2 377.9h1v1h-1zM112.2 369.7h1v1h-1zM114.8 373.0h1v1h-1zM115.0 371.9h1v1h-1zM109.8 376.0h1v1h-1zM111.8 373.1h1v1h-1zM107.9 368.8h1v1h-1zM110.2 368.7h1v1h-1zM115.1 373.0h1v1h-1zM100.4 377.6h1v1h-1zM107.9 378.2h1v1h-1zM108.8 378.4h1v1h-1zM112.1 372.2h1v1h-1zM111.7 374.2h1v1h-1zM108.3 377.0h1v1h-1zM106.5 379.4h1v1h-1zM107.0 377.6h1v1h-1zM111.8 372.3h1v1h-1zM108.9 377.8h1v1h-1zM111.8 374.1h1v1h-1zM111.1 376.1h1v1h-1zM114.0 373.5h1v1h-1zM111.7 375.2h1v1h-1zM109.8 377.7h1v1h-1zM111.6 375.8h1v1h-1zM106.3 379.7h1v1h-1zM112.8 373.2h1v1h-1zM114.2 372.4h1v1h-1zM112.6 374.7h1v1h-1zM102.8 378.4h1v1h-1zM105.6 379.3h1v1h-1z" fill="#48ad52" stroke="none" stroke-width="1"/>
<path d="M102.1 377.4h1v1h-1zM109.4 370.8h1v1h-1zM108.2 375.0h1v1h-1zM107.7 369.2h1v1h-1zM104.8 376.8h1v1h-1zM110.9 371.9h1v1h-1zM105.7 376.6h1v1h-1zM103.5 377.6h1v1h-1zM101.6 377.6h1v1h-1zM110.2 372.0h1v1h-1zM103.6 372.2h1v1h-1zM102.3 377.2h1v1h-1zM105.7 376.6h1v1h-1zM108.4 375.7h1v1h-1zM101.1 375.1h1v1h-1zM102.3 378.0h1v1h-1zM104.5 370.8h1v1h-1zM109.8 369.9h1v1h-1zM103.7 370.9h1v1h-1zM109.9 371.0h1v1h-1zM106.3 370.3h1v1h-1zM106.1 370.2h1v1h-1zM103.7 376.9h1v1h-1zM103.7 372.0h1v1h-1zM101.3 375.1h1v1h-1zM108.3 376.1h1v1h-1zM107.6 376.3h1v1h-1zM109.7 373.9h1v1h-1zM103.7 372.2h1v1h-1zM101.9 377.7h1v1h-1zM109.2 374.0h1v1h-1zM110.6 371.8h1v1h-1zM106.5 370.1h1v1h-1zM105.7 370.3h1v1h-1zM110.4 372.6h1v1h-1zM105.5 369.7h1v1h-1zM108.9 375.0h1v1h-1zM101.5 374.7h1v1h-1zM102.2 376.0h1v1h-1zM110.5 372.7h1v1h-1zM103.9 377.4h1v1h-1zM106.7 376.2h1v1h-1zM103.7 371.4h1v1h-1zM104.8 377.5h1v1h-1zM107.4 370.1h1v1h-1zM108.5 369.5h1v1h-1zM107.5 369.8h1v1h-1zM104.1 377.0h1v1h-1zM107.2 370.0h1v1h-1zM106.1 377.2h1v1h-1zM104.2 371.2h1v1h-1zM108.0 369.2h1v1h-1zM108.5 374.4h1v1h-1zM109.4 372.6h1v1h-1zM109.5 371.8h1v1h-1zM103.9 378.1h1v1h-1zM110.2 371.7h1v1h-1zM109.7 370.6h1v1h-1zM110.3 371.9h1v1h-1zM109.2 370.6h1v1h-1zM102.9 377.9h1v1h-1zM101.8 377.7h1v1h-1zM106.1 376.3h1v1h-1zM108.5 369.2h1v1h-1zM109.2 369.9h1v1h-1zM103.4 371.5h1v1h-1zM107.7 376.0h1v1h-1zM101.6 374.7h1v1h-1zM103.7 371.2h1v1h-1zM109.1 373.8h1v1h-1zM102.4 373.7h1v1h-1zM109.7 373.5h1v1h-1zM107.5 369.5h1v1h-1zM103.0 371.9h1v1h-1zM106.1 376.4h1v1h-1zM100.8 376.0h1v1h-1zM102.5 377.9h1v1h-1zM103.2 377.3h1v1h-1zM108.5 369.0h1v1h-1zM109.2 373.3h1v1h-1zM109.1 369.2h1v1h-1zM109.3 373.0h1v1h-1zM101.8 373.9h1v1h-1zM110.1 371.5h1v1h-1zM109.0 370.6h1v1h-1zM110.9 371.2h1v1h-1zM109.7 372.2h1v1h-1zM104.2 376.9h1v1h-1zM102.6 372.9h1v1h-1zM103.0 377.1h1v1h-1zM105.5 377.3h1v1h-1zM106.0 376.3h1v1h-1zM108.2 369.7h1v1h-1zM101.7 376.8h1v1h-1zM104.6 371.2h1v1h-1zM108.3 374.8h1v1h-1zM103.3 377.2h1v1h-1zM102.4 377.8h1v1h-1zM103.9 377.7h1v1h-1zM103.0 376.9h1v1h-1zM109.4 369.0h1v1h-1zM109.0 369.0h1v1h-1zM102.7 376.4h1v1h-1zM107.8 375.4h1v1h-1zM101.8 375.5h1v1h-1zM102.9 376.5h1v1h-1zM109.4 372.7h1v1h-1zM108.4 374.6h1v1h-1zM107.5 376.3h1v1h-1z" fill="#a2c238" stroke="none" stroke-width="1"/>
<path d="M106.9 371.1h1v1h-1zM104.4 371.6h1v1h-1zM105.1 371.4h1v1h-1zM102.7 374.3h1v1h-1zM108.9 372.3h1v1h-1zM105.9 371.1h1v1h-1zM104.0 376.7h1v1h-1zM108.9 371.5h1v1h-1zM108.7 372.0h1v1h-1zM103.1 374.3h1v1h-1zM104.7 376.6h1v1h-1zM102.5 374.4h1v1h-1zM106.7 375.7h1v1h-1zM104.2 372.3h1v1h-1zM107.3 370.7h1v1h-1zM103.6 372.6h1v1h-1zM106.7 370.9h1v1h-1zM102.7 375.9h1v1h-1zM108.6 372.7h1v1h-1zM108.9 371.9h1v1h-1zM107.3 374.8h1v1h-1zM105.6 371.2h1v1h-1zM104.4 376.6h1v1h-1zM103.5 376.0h1v1h-1zM108.6 373.7h1v1h-1zM106.8 370.7h1v1h-1zM106.9 374.7h1v1h-1zM106.7 374.9h1v1h-1zM104.8 376.1h1v1h-1zM104.5 376.5h1v1h-1zM109.1 372.0h1v1h-1zM104.1 372.6h1v1h-1zM102.9 374.6h1v1h-1zM104.1 376.7h1v1h-1zM109.1 371.5h1v1h-1zM106.2 375.3h1v1h-1zM104.2 372.9h1v1h-1zM104.5 376.3h1v1h-1zM108.5 370.5h1v1h-1zM108.4 371.9h1v1h-1zM107.8 373.8h1v1h-1zM108.3 372.9h1v1h-1zM106.1 375.8h1v1h-1zM103.1 373.5h1v1h-1zM102.5 374.7h1v1h-1zM108.4 372.7h1v1h-1zM103.9 372.3h1v1h-1zM105.2 376.5h1v1h-1zM107.2 370.4h1v1h-1zM102.7 374.7h1v1h-1zM107.6 371.2h1v1h-1zM106.0 371.2h1v1h-1zM107.3 374.4h1v1h-1zM105.2 375.8h1v1h-1zM106.1 375.7h1v1h-1zM107.7 371.2h1v1h-1zM103.5 376.0h1v1h-1zM104.6 371.9h1v1h-1zM103.2 375.2h1v1h-1zM108.9 373.3h1v1h-1zM106.6 370.9h1v1h-1zM108.1 371.2h1v1h-1zM105.0 371.2h1v1h-1zM106.0 370.9h1v1h-1zM104.6 372.0h1v1h-1zM104.8 376.6h1v1h-1zM108.5 370.8h1v1h-1zM102.9 375.2h1v1h-1zM108.3 372.5h1v1h-1zM108.9 372.3h1v1h-1zM105.9 370.9h1v1h-1zM108.3 370.8h1v1h-1z" fill="#e29a2c" stroke="none" stroke-width="1"/>
<path d="M107.5 373.6h1v1h-1zM104.3 373.1h1v1h-1zM106.6 372.7h1v1h-1zM107.3 372.4h1v1h-1zM107.2 373.8h1v1h-1zM104.0 373.9h1v1h-1zM106.7 374.1h1v1h-1zM105.1 375.1h1v1h-1zM105.7 373.5h1v1h-1zM105.4 372.0h1v1h-1zM104.3 373.2h1v1h-1zM103.9 374.0h1v1h-1zM107.6 372.8h1v1h-1zM107.1 373.2h1v1h-1zM106.7 374.2h1v1h-1zM105.5 373.6h1v1h-1zM106.5 374.1h1v1h-1zM106.1 373.2h1v1h-1zM104.7 375.3h1v1h-1zM107.8 373.0h1v1h-1zM106.9 372.0h1v1h-1zM106.5 374.6h1v1h-1zM104.7 375.6h1v1h-1zM105.8 375.1h1v1h-1zM107.9 373.4h1v1h-1zM106.6 374.7h1v1h-1zM104.3 373.2h1v1h-1zM106.1 375.1h1v1h-1zM107.4 372.5h1v1h-1zM105.6 374.5h1v1h-1zM105.3 374.4h1v1h-1zM105.6 374.8h1v1h-1zM105.4 374.1h1v1h-1zM107.2 371.7h1v1h-1zM105.6 373.2h1v1h-1zM103.8 375.0h1v1h-1zM103.8 375.1h1v1h-1zM104.1 373.9h1v1h-1zM106.4 374.0h1v1h-1zM106.6 372.4h1v1h-1zM105.4 374.7h1v1h-1zM107.1 371.6h1v1h-1zM108.1 372.4h1v1h-1zM107.3 373.5h1v1h-1zM107.2 372.5h1v1h-1zM106.1 372.2h1v1h-1zM107.7 373.0h1v1h-1zM105.6 373.9h1v1h-1zM107.7 373.0h1v1h-1zM106.2 371.8h1v1h-1zM106.4 374.3h1v1h-1zM107.4 373.6h1v1h-1zM105.5 373.6h1v1h-1zM105.3 373.9h1v1h-1zM105.8 372.2h1v1h-1zM105.9 374.2h1v1h-1zM106.6 373.2h1v1h-1zM104.4 374.6h1v1h-1zM104.9 374.9h1v1h-1zM106.8 371.6h1v1h-1zM106.5 374.1h1v1h-1zM106.5 374.3h1v1h-1zM105.4 373.7h1v1h-1zM107.6 372.1h1v1h-1z" fill="#dc5528" stroke="none" stroke-width="1"/>
<rect x="53.8" y="333.3" width="87" height="87" fill="none" stroke="#333" stroke-width="0.8"/>
<line x1="53.8" y1="384.3" x2="140.8" y2="384.3" stroke="#333" stroke-width="0.8"/>
<line x1="129.1" y1="356.8" x2="129.1" y2="420.3" stroke="#333" stroke-width="0.8"/>
<text x="56" y="344.5" font-size="6" fill="#222">Q1</text>
<text x="56" y="353.1" font-size="6" fill="#222">99.5</text>
<text x="123.8" y="344.5" font-size="6" fill="#222">Q2</text>
<text x="133.4" y="353.1" font-size="6" text-anchor="end" fill="#222">0</text>
<text x="56" y="405.8" font-size="6" fill="#222">Q4</text>
<text x="56" y="414.4" font-size="6" fill="#222">0.54</text>
<text x="123.8" y="405.8" font-size="6" fill="#222">Q3</text>
<text x="133.4" y="414.4" font-size="6" text-anchor="end" fill="#222">0</text>
<line x1="52" y1="342.8" x2="53.8" y2="342.8" stroke="#444" stroke-width="0.5"/>
<text x="50.6" y="343.8" font-size="3" text-anchor="end" fill="#555">10</text>
<line x1="52" y1="364.8" x2="53.8" y2="364.8" stroke="#444" stroke-width="0.5"/>
<text x="50.6" y="365.8" font-size="3" text-anchor="end" fill="#555">10</text>
<line x1="52" y1="386.3" x2="53.8" y2="386.3" stroke="#444" stroke-width="0.5"/>
<text x="50.6" y="387.3" font-size="3" text-anchor="end" fill="#555">10</text>
<line x1="52" y1="408.8" x2="53.8" y2="408.8" stroke="#444" stroke-width="0.5"/>
<text x="50.6" y="409.8" font-size="3" text-anchor="end" fill="#555">10</text>
<line x1="68.8" y1="420.3" x2="68.8" y2="422.1" stroke="#444" stroke-width="0.5"/>
<text x="68.8" y="425.8" font-size="3" text-anchor="middle" fill="#555">10</text>
<line x1="98.8" y1="420.3" x2="98.8" y2="422.1" stroke="#444" stroke-width="0.5"/>
<text x="98.8" y="425.8" font-size="3" text-anchor="middle" fill="#555">10</text>
<line x1="128.8" y1="420.3" x2="128.8" y2="422.1" stroke="#444" stroke-width="0.5"/>
<text x="128.8" y="425.8" font-size="3" text-anchor="middle" fill="#555">10</text>
<line x1="56.8" y1="420.3" x2="56.8" y2="421.2" stroke="#666" stroke-width="0.35"/>
<line x1="52.9" y1="336.3" x2="53.8" y2="336.3" stroke="#666" stroke-width="0.35"/>
<line x1="59.8" y1="420.3" x2="59.8" y2="421.2" stroke="#666" stroke-width="0.35"/>
<line x1="52.9" y1="339.3" x2="53.8" y2="339.3" stroke="#666" stroke-width="0.35"/>
<line x1="62.8" y1="420.3" x2="62.8" y2="421.2" stroke="#666" stroke-width="0.35"/>
<line x1="52.9" y1="342.3" x2="53.8" y2="342.3" stroke="#666" stroke-width="0.35"/>
<line x1="65.8" y1="420.3" x2="65.8" y2="421.2" stroke="#666" stroke-width="0.35"/>
<line x1="52.9" y1="345.3" x2="53.8" y2="345.3" stroke="#666" stroke-width="0.35"/>
<line x1="68.8" y1="420.3" x2="68.8" y2="421.2" stroke="#666" stroke-width="0.35"/>
<line x1="52.9" y1="348.3" x2="53.8" y2="348.3" stroke="#666" stroke-width="0.35"/>
<line x1="71.8" y1="420.3" x2="71.8" y2="421.2" stroke="#666" stroke-width="0.35"/>
<line x1="52.9" y1="351.3" x2="53.8" y2="351.3" stroke="#666" stroke-width="0.35"/>
<line x1="74.8" y1="420.3" x2="74.8" y2="421.2" stroke="#666" stroke-width="0.35"/>
<line x1="52.9" y1="354.3" x2="53.8" y2="354.3" stroke="#666" stroke-width="0.35"/>
<line x1="77.8" y1="420.3" x2="77.8" y2="421.2" stroke="#666" stroke-width="0.35"/>
<line x1="52.9" y1="357.3" x2="53.8" y2="357.3" stroke="#666" stroke-width="0.35"/>
<line x1="80.8" y1="420.3" x2="80.8" y2="421.2" stroke="#666" stroke-width="0.35"/>
<line x1="52.9" y1="360.3" x2="53.8" y2="360.3" stroke="#666" stroke-width="0.35"/>
<line x1="83.8" y1="420.3" x2="83.8" y2="421.2" stroke="#666" stroke-width="0.35"/>
<line x1="52.9" y1="363.3" x2="53.8" y2="363.3" stroke="#666" stroke-width="0.35"/>
<line x1="86.8" y1="420.3" x2="86.8" y2="421.2" stroke="#666" stroke-width="0.35"/>
<line x1="52.9" y1="366.3" x2="53.8" y2="366.3" stroke="#666" stroke-width="0.35"/>
<line x1="89.8" y1="420.3" x2="89.8" y2="421.2" stroke="#666" stroke-width="0.35"/>
<line x1="52.9" y1="369.3" x2="53.8" y2="369.3" stroke="#666" stroke-width="0.35"/>
<line x1="92.8" y1="420.3" x2="92.8" y2="421.2" stroke="#666" stroke-width="0.35"/>
<line x1="52.9" y1="372.3" x2="53.8" y2="372.3" stroke="#666" stroke-width="0.35"/>
<line x1="95.8" y1="420.3" x2="95.8" y2="421.2" stroke="#666" stroke-width="0.35"/>
<line x1="52.9" y1="375.3" x2="53.8" y2="375.3" stroke="#666" stroke-width="0.35"/>
<line x1="98.8" y1="420.3" x2="98.8" y2="421.2" stroke="#666" stroke-width="0.35"/>
<line x1="52.9" y1="378.3" x2="53.8" y2="378.3" stroke="#666" stroke-width="0.35"/>
<line x1="101.8" y1="420.3" x2="101.8" y2="421.2" stroke="#666" stroke-width="0.35"/>
<line x1="52.9" y1="381.3" x2="53.8" y2="381.3" stroke="#666" stroke-width="0.35"/>
<line x1="104.8" y1="420.3" x2="104.8" y2="421.2" stroke="#666" stroke-width="0.35"/>
<line x1="52.9" y1="384.3" x2="53.8" y2="384.3" stroke="#666" stroke-width="0.35"/>
<line x1="107.8" y1="420.3" x2="107.8" y2="421.2" stroke="#666" stroke-width="0.35"/>
<line x1="52.9" y1="387.3" x2="53.8" y2="387.3" stroke="#666" stroke-width="0.35"/>
<line x1="110.8" y1="420.3" x2="110.8" y2="421.2" stroke="#666" stroke-width="0.35"/>
<line x1="52.9" y1="390.3" x2="53.8" y2="390.3" stroke="#666" stroke-width="0.35"/>
<line x1="113.8" y1="420.3" x2="113.8" y2="421.2" stroke="#666" stroke-width="0.35"/>
<line x1="52.9" y1="393.3" x2="53.8" y2="393.3" stroke="#666" stroke-width="0.35"/>
<line x1="116.8" y1="420.3" x2="116.8" y2="421.2" stroke="#666" stroke-width="0.35"/>
<line x1="52.9" y1="396.3" x2="53.8" y2="396.3" stroke="#666" stroke-width="0.35"/>
<line x1="119.8" y1="420.3" x2="119.8" y2="421.2" stroke="#666" stroke-width="0.35"/>
<line x1="52.9" y1="399.3" x2="53.8" y2="399.3" stroke="#666" stroke-width="0.35"/>
<line x1="122.8" y1="420.3" x2="122.8" y2="421.2" stroke="#666" stroke-width="0.35"/>
<line x1="52.9" y1="402.3" x2="53.8" y2="402.3" stroke="#666" stroke-width="0.35"/>
<line x1="125.8" y1="420.3" x2="125.8" y2="421.2" stroke="#666" stroke-width="0.35"/>
<line x1="52.9" y1="405.3" x2="53.8" y2="405.3" stroke="#666" stroke-width="0.35"/>
<line x1="128.8" y1="420.3" x2="128.8" y2="421.2" stroke="#666" stroke-width="0.35"/>
<line x1="52.9" y1="408.3" x2="53.8" y2="408.3" stroke="#666" stroke-width="0.35"/>
<line x1="131.8" y1="420.3" x2="131.8" y2="421.2" stroke="#666" stroke-width="0.35"/>
<line x1="52.9" y1="411.3" x2="53.8" y2="411.3" stroke="#666" stroke-width="0.35"/>
<line x1="134.8" y1="420.3" x2="134.8" y2="421.2" stroke="#666" stroke-width="0.35"/>
<line x1="52.9" y1="414.3" x2="53.8" y2="414.3" stroke="#666" stroke-width="0.35"/>
<line x1="137.8" y1="420.3" x2="137.8" y2="421.2" stroke="#666" stroke-width="0.35"/>
<line x1="52.9" y1="417.3" x2="53.8" y2="417.3" stroke="#666" stroke-width="0.35"/>
<line x1="140.8" y1="420.3" x2="140.8" y2="421.2" stroke="#666" stroke-width="0.35"/>
<line x1="52.9" y1="420.3" x2="53.8" y2="420.3" stroke="#666" stroke-width="0.35"/>
<text x="198" y="222.6" font-size="11.4" text-anchor="middle" fill="#111">Vector</text>
<path d="M193.9 273.0h0.8v0.8h-0.8zM191.2 251.7h0.8v0.8h-0.8zM195.7 271.3h0.8v0.8h-0.8zM185.7 262.4h0.8v0.8h-0.8zM188.2 273.6h0.8v0.8h-0.8zM183.0 263.4h0.8v0.8h-0.8zM190.9 253.9h0.8v0.8h-0.8zM193.8 273.2h0.8v0.8h-0.8zM188.0 272.7h0.8v0.8h-0.8zM189.8 279.5h0.8v0.8h-0.8zM183.1 262.8h0.8v0.8h-0.8zM184.2 269.4h0.8v0.8h-0.8zM184.4 272.6h0.8v0.8h-0.8zM187.4 258.3h0.8v0.8h-0.8zM208.4 249.0h0.8v0.8h-0.8zM204.6 249.6h0.8v0.8h-0.8zM185.4 269.8h0.8v0.8h-0.8zM186.6 276.3h0.8v0.8h-0.8zM193.2 272.5h0.8v0.8h-0.8zM183.3 281.9h0.8v0.8h-0.8zM193.2 250.4h0.8v0.8h-0.8zM193.8 272.4h0.8v0.8h-0.8zM193.8 273.4h0.8v0.8h-0.8zM186.4 273.2h0.8v0.8h-0.8zM185.1 271.2h0.8v0.8h-0.8zM199.9 272.2h0.8v0.8h-0.8zM181.3 263.2h0.8v0.8h-0.8zM192.6 273.7h0.8v0.8h-0.8zM196.3 273.6h0.8v0.8h-0.8zM197.4 273.0h0.8v0.8h-0.8zM194.9 251.0h0.8v0.8h-0.8zM184.3 269.1h0.8v0.8h-0.8zM182.7 268.7h0.8v0.8h-0.8zM181.8 262.8h0.8v0.8h-0.8zM202.8 268.7h0.8v0.8h-0.8zM196.7 247.5h0.8v0.8h-0.8zM204.5 247.9h0.8v0.8h-0.8zM197.6 271.8h0.8v0.8h-0.8zM202.0 266.9h0.8v0.8h-0.8zM208.9 251.3h0.8v0.8h-0.8zM201.2 269.8h0.8v0.8h-0.8zM190.5 254.1h0.8v0.8h-0.8zM206.6 246.4h0.8v0.8h-0.8zM217.5 246.5h0.8v0.8h-0.8zM205.8 246.8h0.8v0.8h-0.8zM217.6 245.1h0.8v0.8h-0.8zM214.6 247.4h0.8v0.8h-0.8zM206.9 268.6h0.8v0.8h-0.8zM199.1 246.2h0.8v0.8h-0.8zM206.1 267.0h0.8v0.8h-0.8zM179.5 265.6h0.8v0.8h-0.8zM204.3 268.5h0.8v0.8h-0.8zM216.6 237.2h0.8v0.8h-0.8zM203.3 247.9h0.8v0.8h-0.8zM207.9 249.1h0.8v0.8h-0.8zM222.6 251.5h0.8v0.8h-0.8zM187.3 256.5h0.8v0.8h-0.8zM214.9 249.8h0.8v0.8h-0.8zM183.3 263.7h0.8v0.8h-0.8zM214.0 249.4h0.8v0.8h-0.8zM190.6 253.0h0.8v0.8h-0.8zM212.3 249.6h0.8v0.8h-0.8zM209.7 241.6h0.8v0.8h-0.8zM206.3 264.8h0.8v0.8h-0.8zM210.4 246.0h0.8v0.8h-0.8zM203.5 269.7h0.8v0.8h-0.8zM204.7 250.3h0.8v0.8h-0.8zM218.5 247.7h0.8v0.8h-0.8zM201.4 274.8h0.8v0.8h-0.8zM206.5 248.2h0.8v0.8h-0.8zM210.4 239.9h0.8v0.8h-0.8zM209.1 251.2h0.8v0.8h-0.8zM213.3 245.8h0.8v0.8h-0.8zM193.5 252.4h0.8v0.8h-0.8zM201.3 267.7h0.8v0.8h-0.8zM207.9 272.0h0.8v0.8h-0.8zM208.8 245.7h0.8v0.8h-0.8zM204.0 246.4h0.8v0.8h-0.8zM222.9 258.5h0.8v0.8h-0.8zM218.3 277.3h0.8v0.8h-0.8zM208.8 270.4h0.8v0.8h-0.8zM223.8 252.5h0.8v0.8h-0.8zM222.5 271.5h0.8v0.8h-0.8zM222.1 263.8h0.8v0.8h-0.8zM222.4 249.5h0.8v0.8h-0.8zM220.8 248.4h0.8v0.8h-0.8zM224.9 263.1h0.8v0.8h-0.8zM221.9 269.6h0.8v0.8h-0.8zM223.6 229.8h0.8v0.8h-0.8zM222.4 262.4h0.8v0.8h-0.8zM224.1 250.5h0.8v0.8h-0.8zM224.3 255.2h0.8v0.8h-0.8zM226.2 266.1h0.8v0.8h-0.8zM226.1 259.4h0.8v0.8h-0.8zM231.4 276.8h0.8v0.8h-0.8zM217.6 249.3h0.8v0.8h-0.8zM217.7 244.0h0.8v0.8h-0.8zM223.9 258.9h0.8v0.8h-0.8zM224.9 261.9h0.8v0.8h-0.8zM217.1 245.9h0.8v0.8h-0.8zM210.0 269.1h0.8v0.8h-0.8zM207.1 270.9h0.8v0.8h-0.8zM224.7 248.1h0.8v0.8h-0.8zM222.7 247.7h0.8v0.8h-0.8zM230.2 254.1h0.8v0.8h-0.8zM211.9 244.3h0.8v0.8h-0.8zM222.2 251.6h0.8v0.8h-0.8zM218.7 276.7h0.8v0.8h-0.8zM226.9 256.9h0.8v0.8h-0.8zM220.4 271.4h0.8v0.8h-0.8zM225.5 249.6h0.8v0.8h-0.8zM226.2 240.9h0.8v0.8h-0.8zM207.7 265.3h0.8v0.8h-0.8zM204.1 246.3h0.8v0.8h-0.8zM225.7 256.1h0.8v0.8h-0.8zM226.3 254.1h0.8v0.8h-0.8zM216.7 247.8h0.8v0.8h-0.8zM228.1 263.9h0.8v0.8h-0.8zM225.7 260.3h0.8v0.8h-0.8zM209.4 267.9h0.8v0.8h-0.8zM212.3 240.5h0.8v0.8h-0.8zM232.1 263.9h0.8v0.8h-0.8zM209.8 268.6h0.8v0.8h-0.8zM227.6 241.4h0.8v0.8h-0.8zM218.0 246.3h0.8v0.8h-0.8zM221.7 266.8h0.8v0.8h-0.8zM217.1 296.1h0.8v0.8h-0.8zM221.7 268.7h0.8v0.8h-0.8zM216.3 243.1h0.8v0.8h-0.8zM217.9 278.8h0.8v0.8h-0.8zM228.2 249.1h0.8v0.8h-0.8zM228.5 257.9h0.8v0.8h-0.8zM225.6 256.6h0.8v0.8h-0.8zM227.1 258.2h0.8v0.8h-0.8zM212.6 246.2h0.8v0.8h-0.8zM223.7 259.5h0.8v0.8h-0.8zM231.4 267.5h0.8v0.8h-0.8zM219.4 246.7h0.8v0.8h-0.8zM210.1 269.4h0.8v0.8h-0.8zM215.0 241.3h0.8v0.8h-0.8zM219.8 250.8h0.8v0.8h-0.8zM207.9 247.1h0.8v0.8h-0.8zM222.0 263.8h0.8v0.8h-0.8zM224.5 255.8h0.8v0.8h-0.8zM225.2 254.3h0.8v0.8h-0.8zM209.1 243.4h0.8v0.8h-0.8zM210.8 250.5h0.8v0.8h-0.8zM213.7 245.7h0.8v0.8h-0.8zM222.8 268.5h0.8v0.8h-0.8zM221.8 253.7h0.8v0.8h-0.8zM205.1 267.1h0.8v0.8h-0.8zM202.6 248.1h0.8v0.8h-0.8zM219.7 275.1h0.8v0.8h-0.8zM228.6 240.2h0.8v0.8h-0.8zM222.9 247.5h0.8v0.8h-0.8zM221.1 270.3h0.8v0.8h-0.8zM202.2 270.2h0.8v0.8h-0.8zM220.0 248.9h0.8v0.8h-0.8zM218.1 278.4h0.8v0.8h-0.8zM193.9 285.9h0.8v0.8h-0.8zM202.8 274.0h0.8v0.8h-0.8zM191.5 285.7h0.8v0.8h-0.8zM199.6 291.8h0.8v0.8h-0.8zM222.2 270.9h0.8v0.8h-0.8zM207.3 268.9h0.8v0.8h-0.8zM193.6 293.1h0.8v0.8h-0.8zM205.1 272.1h0.8v0.8h-0.8zM193.2 292.1h0.8v0.8h-0.8zM210.2 285.8h0.8v0.8h-0.8zM212.5 286.1h0.8v0.8h-0.8zM202.7 275.0h0.8v0.8h-0.8zM184.9 291.6h0.8v0.8h-0.8zM215.2 284.6h0.8v0.8h-0.8zM193.2 291.8h0.8v0.8h-0.8zM198.5 279.7h0.8v0.8h-0.8zM195.7 281.0h0.8v0.8h-0.8zM204.0 274.6h0.8v0.8h-0.8zM206.3 272.7h0.8v0.8h-0.8zM197.0 294.4h0.8v0.8h-0.8zM209.3 269.7h0.8v0.8h-0.8zM195.2 290.7h0.8v0.8h-0.8zM223.6 266.9h0.8v0.8h-0.8zM222.0 276.3h0.8v0.8h-0.8zM220.8 268.4h0.8v0.8h-0.8zM190.8 299.2h0.8v0.8h-0.8zM219.8 274.6h0.8v0.8h-0.8zM195.2 282.0h0.8v0.8h-0.8zM223.1 268.3h0.8v0.8h-0.8zM222.1 270.0h0.8v0.8h-0.8zM200.6 277.0h0.8v0.8h-0.8zM227.3 271.4h0.8v0.8h-0.8zM207.3 291.1h0.8v0.8h-0.8zM193.3 288.4h0.8v0.8h-0.8zM206.0 271.6h0.8v0.8h-0.8zM208.4 287.0h0.8v0.8h-0.8zM208.5 272.2h0.8v0.8h-0.8zM200.6 274.6h0.8v0.8h-0.8zM205.4 288.7h0.8v0.8h-0.8zM221.3 274.1h0.8v0.8h-0.8zM216.0 283.2h0.8v0.8h-0.8zM195.1 292.3h0.8v0.8h-0.8zM191.3 288.5h0.8v0.8h-0.8zM219.8 273.0h0.8v0.8h-0.8zM196.3 277.2h0.8v0.8h-0.8zM203.3 273.7h0.8v0.8h-0.8zM199.6 278.9h0.8v0.8h-0.8zM217.7 279.0h0.8v0.8h-0.8zM219.3 275.2h0.8v0.8h-0.8zM196.7 292.1h0.8v0.8h-0.8zM223.4 271.5h0.8v0.8h-0.8zM206.1 288.1h0.8v0.8h-0.8zM190.8 295.6h0.8v0.8h-0.8zM206.7 288.5h0.8v0.8h-0.8zM191.0 291.4h0.8v0.8h-0.8zM207.9 288.8h0.8v0.8h-0.8zM218.5 276.1h0.8v0.8h-0.8zM194.1 285.5h0.8v0.8h-0.8zM186.3 286.5h0.8v0.8h-0.8zM209.5 286.6h0.8v0.8h-0.8zM207.6 289.3h0.8v0.8h-0.8zM189.1 289.7h0.8v0.8h-0.8zM195.6 294.5h0.8v0.8h-0.8zM191.5 286.7h0.8v0.8h-0.8zM187.7 291.9h0.8v0.8h-0.8zM190.6 290.7h0.8v0.8h-0.8zM186.4 287.6h0.8v0.8h-0.8zM201.8 293.8h0.8v0.8h-0.8zM192.0 297.8h0.8v0.8h-0.8zM182.4 288.3h0.8v0.8h-0.8zM199.2 292.5h0.8v0.8h-0.8zM191.0 287.3h0.8v0.8h-0.8zM192.3 282.3h0.8v0.8h-0.8zM194.3 290.8h0.8v0.8h-0.8zM198.0 292.7h0.8v0.8h-0.8zM197.2 294.9h0.8v0.8h-0.8zM207.4 292.7h0.8v0.8h-0.8zM205.9 292.2h0.8v0.8h-0.8zM210.6 289.7h0.8v0.8h-0.8zM194.5 280.0h0.8v0.8h-0.8zM190.7 285.2h0.8v0.8h-0.8zM196.2 277.7h0.8v0.8h-0.8zM191.9 294.1h0.8v0.8h-0.8zM196.0 278.9h0.8v0.8h-0.8zM191.8 291.9h0.8v0.8h-0.8zM196.0 294.6h0.8v0.8h-0.8zM212.6 286.8h0.8v0.8h-0.8zM195.0 291.0h0.8v0.8h-0.8zM204.4 297.1h0.8v0.8h-0.8zM199.3 295.7h0.8v0.8h-0.8zM195.4 303.6h0.8v0.8h-0.8zM199.8 303.9h0.8v0.8h-0.8zM198.4 300.5h0.8v0.8h-0.8zM194.4 294.0h0.8v0.8h-0.8zM204.9 293.1h0.8v0.8h-0.8zM213.7 294.6h0.8v0.8h-0.8zM207.1 303.0h0.8v0.8h-0.8zM205.3 302.6h0.8v0.8h-0.8zM197.5 298.4h0.8v0.8h-0.8zM195.7 298.6h0.8v0.8h-0.8zM207.6 297.9h0.8v0.8h-0.8zM203.4 305.4h0.8v0.8h-0.8zM204.7 296.0h0.8v0.8h-0.8zM204.9 297.4h0.8v0.8h-0.8z" fill="#243f88" stroke="none" stroke-width="1"/>
<path d="M191.7 255.6h0.8v0.8h-0.8zM189.2 270.4h0.8v0.8h-0.8zM193.5 270.3h0.8v0.8h-0.8zM198.6 267.3h0.8v0.8h-0.8zM187.7 263.6h0.8v0.8h-0.8zM202.0 264.2h0.8v0.8h-0.8zM214.5 255.4h0.8v0.8h-0.8zM202.0 251.7h0.8v0.8h-0.8zM189.5 271.6h0.8v0.8h-0.8zM189.6 269.7h0.8v0.8h-0.8zM188.3 270.3h0.8v0.8h-0.8zM204.3 263.3h0.8v0.8h-0.8zM191.2 256.1h0.8v0.8h-0.8zM187.5 264.3h0.8v0.8h-0.8zM203.5 259.1h0.8v0.8h-0.8zM198.7 250.8h0.8v0.8h-0.8zM187.8 261.0h0.8v0.8h-0.8zM205.7 259.0h0.8v0.8h-0.8zM203.4 256.9h0.8v0.8h-0.8zM188.0 258.9h0.8v0.8h-0.8zM198.1 253.4h0.8v0.8h-0.8zM187.9 262.0h0.8v0.8h-0.8zM195.2 253.8h0.8v0.8h-0.8zM191.9 256.4h0.8v0.8h-0.8zM187.6 261.5h0.8v0.8h-0.8zM206.2 257.5h0.8v0.8h-0.8zM204.4 252.7h0.8v0.8h-0.8zM206.0 262.5h0.8v0.8h-0.8zM204.3 259.4h0.8v0.8h-0.8zM199.7 252.7h0.8v0.8h-0.8zM187.5 260.9h0.8v0.8h-0.8zM188.4 271.5h0.8v0.8h-0.8zM198.8 251.6h0.8v0.8h-0.8zM193.4 271.5h0.8v0.8h-0.8zM186.7 264.9h0.8v0.8h-0.8zM198.1 252.2h0.8v0.8h-0.8zM187.5 269.4h0.8v0.8h-0.8zM201.9 253.0h0.8v0.8h-0.8zM185.2 267.2h0.8v0.8h-0.8zM186.6 263.5h0.8v0.8h-0.8zM187.7 261.3h0.8v0.8h-0.8zM207.9 254.4h0.8v0.8h-0.8zM185.5 265.0h0.8v0.8h-0.8zM189.4 271.1h0.8v0.8h-0.8zM187.1 267.1h0.8v0.8h-0.8zM202.7 252.5h0.8v0.8h-0.8zM203.7 257.6h0.8v0.8h-0.8zM193.3 271.2h0.8v0.8h-0.8zM188.1 260.3h0.8v0.8h-0.8zM202.0 252.6h0.8v0.8h-0.8zM189.6 259.4h0.8v0.8h-0.8zM204.4 256.6h0.8v0.8h-0.8zM204.0 262.6h0.8v0.8h-0.8zM186.0 263.9h0.8v0.8h-0.8zM188.6 269.5h0.8v0.8h-0.8zM186.4 270.8h0.8v0.8h-0.8zM185.6 264.2h0.8v0.8h-0.8zM203.4 263.2h0.8v0.8h-0.8zM194.1 269.5h0.8v0.8h-0.8zM203.1 252.8h0.8v0.8h-0.8zM200.7 253.0h0.8v0.8h-0.8zM198.9 266.7h0.8v0.8h-0.8zM202.9 262.0h0.8v0.8h-0.8zM193.6 270.1h0.8v0.8h-0.8zM202.0 262.9h0.8v0.8h-0.8zM205.1 264.2h0.8v0.8h-0.8zM204.1 252.7h0.8v0.8h-0.8zM190.3 270.7h0.8v0.8h-0.8zM189.9 272.4h0.8v0.8h-0.8zM195.6 251.8h0.8v0.8h-0.8zM196.3 268.3h0.8v0.8h-0.8zM206.4 260.1h0.8v0.8h-0.8zM200.8 252.5h0.8v0.8h-0.8zM208.0 252.9h0.8v0.8h-0.8zM195.1 254.2h0.8v0.8h-0.8zM186.0 263.3h0.8v0.8h-0.8zM197.9 267.7h0.8v0.8h-0.8zM203.4 258.4h0.8v0.8h-0.8zM201.6 266.5h0.8v0.8h-0.8zM200.4 266.5h0.8v0.8h-0.8zM205.7 256.1h0.8v0.8h-0.8zM204.6 255.4h0.8v0.8h-0.8zM189.1 259.0h0.8v0.8h-0.8zM203.0 252.7h0.8v0.8h-0.8zM188.6 261.1h0.8v0.8h-0.8zM201.0 266.0h0.8v0.8h-0.8zM186.8 264.1h0.8v0.8h-0.8zM192.2 270.4h0.8v0.8h-0.8zM194.7 253.1h0.8v0.8h-0.8zM205.3 255.3h0.8v0.8h-0.8zM186.2 263.0h0.8v0.8h-0.8zM200.7 250.9h0.8v0.8h-0.8zM186.9 263.9h0.8v0.8h-0.8zM187.1 261.7h0.8v0.8h-0.8zM201.2 253.2h0.8v0.8h-0.8zM203.7 259.2h0.8v0.8h-0.8zM201.7 264.8h0.8v0.8h-0.8zM187.5 264.2h0.8v0.8h-0.8zM189.4 271.2h0.8v0.8h-0.8zM196.3 268.4h0.8v0.8h-0.8zM195.7 254.0h0.8v0.8h-0.8zM205.9 257.8h0.8v0.8h-0.8zM199.8 253.1h0.8v0.8h-0.8zM196.1 252.8h0.8v0.8h-0.8zM194.1 271.6h0.8v0.8h-0.8zM188.7 260.9h0.8v0.8h-0.8zM191.2 257.3h0.8v0.8h-0.8zM198.2 251.3h0.8v0.8h-0.8zM185.3 266.5h0.8v0.8h-0.8zM214.2 253.2h0.8v0.8h-0.8zM206.6 264.1h0.8v0.8h-0.8zM205.6 256.9h0.8v0.8h-0.8zM206.7 253.6h0.8v0.8h-0.8zM209.1 252.1h0.8v0.8h-0.8zM209.0 262.1h0.8v0.8h-0.8zM208.2 251.8h0.8v0.8h-0.8zM203.6 252.8h0.8v0.8h-0.8zM211.1 253.0h0.8v0.8h-0.8zM205.5 256.5h0.8v0.8h-0.8zM211.1 260.6h0.8v0.8h-0.8zM199.8 265.5h0.8v0.8h-0.8zM203.2 262.6h0.8v0.8h-0.8zM205.5 255.9h0.8v0.8h-0.8zM214.4 257.9h0.8v0.8h-0.8zM213.1 257.5h0.8v0.8h-0.8zM217.5 268.6h0.8v0.8h-0.8zM208.4 254.2h0.8v0.8h-0.8zM205.3 252.8h0.8v0.8h-0.8zM212.3 253.2h0.8v0.8h-0.8zM216.9 261.1h0.8v0.8h-0.8zM186.7 262.0h0.8v0.8h-0.8zM188.7 260.4h0.8v0.8h-0.8zM210.3 261.8h0.8v0.8h-0.8zM213.2 255.7h0.8v0.8h-0.8zM197.4 268.4h0.8v0.8h-0.8zM206.0 261.5h0.8v0.8h-0.8zM210.8 264.8h0.8v0.8h-0.8zM205.2 251.8h0.8v0.8h-0.8zM204.9 254.0h0.8v0.8h-0.8zM210.6 251.2h0.8v0.8h-0.8zM214.5 258.6h0.8v0.8h-0.8zM185.5 266.0h0.8v0.8h-0.8zM203.0 250.9h0.8v0.8h-0.8zM203.9 255.8h0.8v0.8h-0.8zM207.0 263.2h0.8v0.8h-0.8zM214.2 259.5h0.8v0.8h-0.8zM203.5 257.7h0.8v0.8h-0.8zM212.5 256.4h0.8v0.8h-0.8zM202.1 251.9h0.8v0.8h-0.8zM210.9 254.6h0.8v0.8h-0.8zM215.1 254.1h0.8v0.8h-0.8zM214.9 261.5h0.8v0.8h-0.8zM202.6 262.3h0.8v0.8h-0.8zM205.5 256.3h0.8v0.8h-0.8zM203.5 261.5h0.8v0.8h-0.8zM218.5 260.2h0.8v0.8h-0.8zM207.6 256.9h0.8v0.8h-0.8zM209.2 259.2h0.8v0.8h-0.8zM208.7 255.6h0.8v0.8h-0.8zM202.5 254.7h0.8v0.8h-0.8zM210.6 253.0h0.8v0.8h-0.8zM210.3 267.2h0.8v0.8h-0.8zM204.3 257.3h0.8v0.8h-0.8zM207.9 273.2h0.8v0.8h-0.8zM204.5 255.0h0.8v0.8h-0.8zM208.1 254.1h0.8v0.8h-0.8zM213.0 262.8h0.8v0.8h-0.8zM201.9 262.6h0.8v0.8h-0.8zM212.6 252.1h0.8v0.8h-0.8zM212.0 267.9h0.8v0.8h-0.8zM207.3 256.4h0.8v0.8h-0.8zM211.4 258.3h0.8v0.8h-0.8zM207.8 260.1h0.8v0.8h-0.8zM207.9 256.7h0.8v0.8h-0.8zM207.9 259.5h0.8v0.8h-0.8zM212.1 256.1h0.8v0.8h-0.8zM203.6 258.7h0.8v0.8h-0.8zM207.0 257.2h0.8v0.8h-0.8zM220.3 254.2h0.8v0.8h-0.8zM218.9 271.5h0.8v0.8h-0.8zM211.0 258.7h0.8v0.8h-0.8zM212.7 266.6h0.8v0.8h-0.8zM212.0 261.9h0.8v0.8h-0.8zM213.0 275.9h0.8v0.8h-0.8zM215.8 273.2h0.8v0.8h-0.8zM217.2 269.0h0.8v0.8h-0.8zM213.9 256.5h0.8v0.8h-0.8zM215.7 258.0h0.8v0.8h-0.8zM211.0 261.8h0.8v0.8h-0.8zM216.7 257.3h0.8v0.8h-0.8zM217.3 262.5h0.8v0.8h-0.8zM221.7 260.4h0.8v0.8h-0.8zM216.4 265.9h0.8v0.8h-0.8zM219.6 256.9h0.8v0.8h-0.8zM205.2 275.8h0.8v0.8h-0.8zM213.3 273.2h0.8v0.8h-0.8zM212.0 261.2h0.8v0.8h-0.8zM215.2 262.1h0.8v0.8h-0.8zM219.3 257.8h0.8v0.8h-0.8zM212.3 261.8h0.8v0.8h-0.8zM211.1 258.8h0.8v0.8h-0.8zM212.8 276.5h0.8v0.8h-0.8zM216.2 254.3h0.8v0.8h-0.8zM211.8 259.8h0.8v0.8h-0.8zM216.4 263.9h0.8v0.8h-0.8zM220.6 262.9h0.8v0.8h-0.8zM213.6 279.5h0.8v0.8h-0.8zM213.1 259.9h0.8v0.8h-0.8zM219.1 270.5h0.8v0.8h-0.8zM215.4 253.2h0.8v0.8h-0.8zM218.0 270.8h0.8v0.8h-0.8zM209.8 260.2h0.8v0.8h-0.8zM217.1 265.2h0.8v0.8h-0.8zM211.9 262.9h0.8v0.8h-0.8zM209.3 265.3h0.8v0.8h-0.8zM211.0 261.9h0.8v0.8h-0.8zM211.8 258.8h0.8v0.8h-0.8zM207.1 258.6h0.8v0.8h-0.8zM218.7 253.5h0.8v0.8h-0.8zM216.4 258.0h0.8v0.8h-0.8zM218.0 252.1h0.8v0.8h-0.8zM216.4 261.4h0.8v0.8h-0.8zM212.5 258.3h0.8v0.8h-0.8zM221.5 258.5h0.8v0.8h-0.8zM221.2 253.7h0.8v0.8h-0.8zM215.8 264.5h0.8v0.8h-0.8zM216.2 259.5h0.8v0.8h-0.8zM216.5 275.6h0.8v0.8h-0.8zM218.3 259.7h0.8v0.8h-0.8zM214.0 262.0h0.8v0.8h-0.8zM220.1 258.7h0.8v0.8h-0.8zM218.7 257.7h0.8v0.8h-0.8zM219.5 253.1h0.8v0.8h-0.8zM222.1 260.5h0.8v0.8h-0.8zM212.8 270.7h0.8v0.8h-0.8zM209.9 262.3h0.8v0.8h-0.8zM205.2 263.5h0.8v0.8h-0.8zM217.1 252.7h0.8v0.8h-0.8zM217.4 271.2h0.8v0.8h-0.8zM211.3 260.6h0.8v0.8h-0.8zM210.6 259.0h0.8v0.8h-0.8zM209.2 262.8h0.8v0.8h-0.8zM211.8 260.6h0.8v0.8h-0.8zM218.9 262.4h0.8v0.8h-0.8zM221.5 259.8h0.8v0.8h-0.8zM219.8 253.7h0.8v0.8h-0.8zM219.5 265.8h0.8v0.8h-0.8zM214.1 253.6h0.8v0.8h-0.8zM213.2 263.7h0.8v0.8h-0.8zM221.8 262.8h0.8v0.8h-0.8zM218.8 252.9h0.8v0.8h-0.8zM213.3 261.4h0.8v0.8h-0.8zM212.8 258.7h0.8v0.8h-0.8zM213.6 256.5h0.8v0.8h-0.8zM212.9 267.5h0.8v0.8h-0.8zM219.5 256.9h0.8v0.8h-0.8zM216.5 273.2h0.8v0.8h-0.8zM213.3 266.3h0.8v0.8h-0.8zM211.8 260.6h0.8v0.8h-0.8zM213.4 268.8h0.8v0.8h-0.8zM204.1 258.3h0.8v0.8h-0.8zM218.9 265.0h0.8v0.8h-0.8zM208.8 274.2h0.8v0.8h-0.8zM210.7 262.1h0.8v0.8h-0.8zM211.8 269.3h0.8v0.8h-0.8zM220.9 255.9h0.8v0.8h-0.8zM217.5 266.7h0.8v0.8h-0.8zM215.9 255.3h0.8v0.8h-0.8zM221.3 264.0h0.8v0.8h-0.8zM211.1 262.3h0.8v0.8h-0.8zM211.2 251.1h0.8v0.8h-0.8zM217.7 257.9h0.8v0.8h-0.8zM215.5 251.1h0.8v0.8h-0.8zM216.1 262.3h0.8v0.8h-0.8zM220.0 260.1h0.8v0.8h-0.8zM218.2 266.4h0.8v0.8h-0.8zM216.8 272.1h0.8v0.8h-0.8zM212.0 260.1h0.8v0.8h-0.8zM205.4 259.3h0.8v0.8h-0.8zM218.5 253.9h0.8v0.8h-0.8zM212.6 258.9h0.8v0.8h-0.8zM217.4 264.3h0.8v0.8h-0.8zM218.4 254.7h0.8v0.8h-0.8zM219.1 259.8h0.8v0.8h-0.8zM216.6 253.3h0.8v0.8h-0.8zM218.9 271.1h0.8v0.8h-0.8zM216.9 252.7h0.8v0.8h-0.8zM213.8 264.7h0.8v0.8h-0.8zM214.7 252.4h0.8v0.8h-0.8zM214.0 258.7h0.8v0.8h-0.8zM211.3 259.5h0.8v0.8h-0.8zM220.0 262.5h0.8v0.8h-0.8zM209.5 282.0h0.8v0.8h-0.8zM214.1 253.1h0.8v0.8h-0.8zM209.8 266.8h0.8v0.8h-0.8zM218.9 269.0h0.8v0.8h-0.8zM218.5 262.5h0.8v0.8h-0.8zM215.6 255.4h0.8v0.8h-0.8zM219.8 265.8h0.8v0.8h-0.8zM218.5 253.0h0.8v0.8h-0.8zM211.6 252.6h0.8v0.8h-0.8zM221.0 260.3h0.8v0.8h-0.8zM208.2 263.2h0.8v0.8h-0.8zM215.6 262.2h0.8v0.8h-0.8zM213.2 268.0h0.8v0.8h-0.8zM210.7 264.8h0.8v0.8h-0.8zM205.4 254.9h0.8v0.8h-0.8zM217.4 256.7h0.8v0.8h-0.8zM218.4 265.7h0.8v0.8h-0.8zM220.5 264.0h0.8v0.8h-0.8zM209.7 271.2h0.8v0.8h-0.8zM216.3 272.5h0.8v0.8h-0.8zM213.5 254.7h0.8v0.8h-0.8zM209.6 255.4h0.8v0.8h-0.8zM216.3 259.3h0.8v0.8h-0.8zM217.5 263.9h0.8v0.8h-0.8zM218.0 258.0h0.8v0.8h-0.8zM212.4 259.8h0.8v0.8h-0.8zM215.5 258.6h0.8v0.8h-0.8zM212.2 272.2h0.8v0.8h-0.8zM221.1 260.6h0.8v0.8h-0.8zM216.7 260.0h0.8v0.8h-0.8zM209.5 271.4h0.8v0.8h-0.8zM221.0 259.6h0.8v0.8h-0.8zM214.5 267.2h0.8v0.8h-0.8zM212.1 271.9h0.8v0.8h-0.8zM211.8 267.3h0.8v0.8h-0.8zM213.5 262.5h0.8v0.8h-0.8zM216.3 268.1h0.8v0.8h-0.8zM219.3 254.3h0.8v0.8h-0.8zM219.0 261.2h0.8v0.8h-0.8zM219.8 262.7h0.8v0.8h-0.8zM218.2 256.6h0.8v0.8h-0.8zM213.8 277.8h0.8v0.8h-0.8zM214.5 274.1h0.8v0.8h-0.8zM207.9 276.0h0.8v0.8h-0.8zM213.9 258.5h0.8v0.8h-0.8zM210.3 266.7h0.8v0.8h-0.8zM218.7 261.7h0.8v0.8h-0.8zM212.8 258.2h0.8v0.8h-0.8zM214.1 269.6h0.8v0.8h-0.8zM211.1 267.0h0.8v0.8h-0.8zM218.8 252.0h0.8v0.8h-0.8zM214.8 255.1h0.8v0.8h-0.8zM219.2 261.5h0.8v0.8h-0.8zM216.1 269.0h0.8v0.8h-0.8zM218.4 271.4h0.8v0.8h-0.8zM207.1 261.4h0.8v0.8h-0.8zM214.5 268.8h0.8v0.8h-0.8zM212.8 263.1h0.8v0.8h-0.8zM211.5 282.9h0.8v0.8h-0.8zM214.1 277.2h0.8v0.8h-0.8zM210.3 281.4h0.8v0.8h-0.8zM212.4 275.6h0.8v0.8h-0.8zM216.7 275.1h0.8v0.8h-0.8zM209.0 274.1h0.8v0.8h-0.8zM213.2 274.2h0.8v0.8h-0.8zM205.0 287.3h0.8v0.8h-0.8zM201.0 286.0h0.8v0.8h-0.8zM203.5 277.1h0.8v0.8h-0.8zM208.5 282.4h0.8v0.8h-0.8zM203.7 287.7h0.8v0.8h-0.8zM214.6 274.8h0.8v0.8h-0.8zM210.8 273.6h0.8v0.8h-0.8zM214.9 277.1h0.8v0.8h-0.8zM200.1 286.8h0.8v0.8h-0.8zM211.7 273.0h0.8v0.8h-0.8zM200.3 282.0h0.8v0.8h-0.8zM212.7 275.2h0.8v0.8h-0.8zM202.3 286.0h0.8v0.8h-0.8zM202.3 289.1h0.8v0.8h-0.8zM198.8 283.7h0.8v0.8h-0.8zM211.0 275.6h0.8v0.8h-0.8zM194.7 285.2h0.8v0.8h-0.8zM204.0 276.3h0.8v0.8h-0.8zM202.2 285.7h0.8v0.8h-0.8zM206.9 283.5h0.8v0.8h-0.8zM213.4 278.5h0.8v0.8h-0.8zM197.7 284.1h0.8v0.8h-0.8zM214.7 271.0h0.8v0.8h-0.8zM204.3 277.7h0.8v0.8h-0.8zM201.9 285.9h0.8v0.8h-0.8zM202.6 288.3h0.8v0.8h-0.8zM213.9 271.8h0.8v0.8h-0.8zM199.2 279.3h0.8v0.8h-0.8zM212.5 271.4h0.8v0.8h-0.8zM214.2 280.9h0.8v0.8h-0.8zM202.1 278.7h0.8v0.8h-0.8zM208.6 285.7h0.8v0.8h-0.8zM206.8 286.6h0.8v0.8h-0.8zM213.7 277.2h0.8v0.8h-0.8zM200.8 282.2h0.8v0.8h-0.8zM203.1 287.1h0.8v0.8h-0.8zM203.1 278.5h0.8v0.8h-0.8zM203.2 286.2h0.8v0.8h-0.8zM197.7 290.8h0.8v0.8h-0.8zM212.0 275.6h0.8v0.8h-0.8zM213.7 272.0h0.8v0.8h-0.8zM200.2 287.5h0.8v0.8h-0.8zM211.0 283.5h0.8v0.8h-0.8zM201.5 278.1h0.8v0.8h-0.8zM207.6 286.3h0.8v0.8h-0.8zM199.6 289.1h0.8v0.8h-0.8zM213.7 275.1h0.8v0.8h-0.8zM212.2 281.2h0.8v0.8h-0.8zM207.1 284.2h0.8v0.8h-0.8zM214.4 278.8h0.8v0.8h-0.8zM199.2 280.8h0.8v0.8h-0.8zM212.2 270.3h0.8v0.8h-0.8zM214.7 272.2h0.8v0.8h-0.8zM199.4 288.2h0.8v0.8h-0.8zM210.7 281.2h0.8v0.8h-0.8zM215.6 275.0h0.8v0.8h-0.8zM212.8 272.6h0.8v0.8h-0.8zM215.1 271.8h0.8v0.8h-0.8zM210.4 273.8h0.8v0.8h-0.8zM210.9 274.2h0.8v0.8h-0.8zM198.6 287.0h0.8v0.8h-0.8zM199.7 284.5h0.8v0.8h-0.8zM207.6 283.8h0.8v0.8h-0.8zM210.7 281.2h0.8v0.8h-0.8zM210.2 274.1h0.8v0.8h-0.8zM209.5 283.7h0.8v0.8h-0.8zM198.8 282.0h0.8v0.8h-0.8zM203.9 277.2h0.8v0.8h-0.8zM199.6 282.9h0.8v0.8h-0.8zM205.7 276.5h0.8v0.8h-0.8zM204.8 286.5h0.8v0.8h-0.8zM212.1 274.0h0.8v0.8h-0.8zM198.2 285.1h0.8v0.8h-0.8zM197.2 290.1h0.8v0.8h-0.8zM209.2 275.2h0.8v0.8h-0.8zM199.1 280.9h0.8v0.8h-0.8zM216.5 268.8h0.8v0.8h-0.8zM209.9 273.4h0.8v0.8h-0.8zM214.2 278.7h0.8v0.8h-0.8zM212.0 280.4h0.8v0.8h-0.8zM205.8 284.3h0.8v0.8h-0.8zM210.6 283.6h0.8v0.8h-0.8zM198.0 283.0h0.8v0.8h-0.8zM208.8 283.8h0.8v0.8h-0.8zM212.9 282.3h0.8v0.8h-0.8zM197.4 290.1h0.8v0.8h-0.8zM198.1 281.4h0.8v0.8h-0.8zM211.1 271.9h0.8v0.8h-0.8zM198.1 284.3h0.8v0.8h-0.8zM199.9 283.8h0.8v0.8h-0.8zM203.1 286.4h0.8v0.8h-0.8zM213.3 277.3h0.8v0.8h-0.8zM214.9 278.7h0.8v0.8h-0.8zM205.2 276.9h0.8v0.8h-0.8zM215.7 276.9h0.8v0.8h-0.8zM210.3 274.9h0.8v0.8h-0.8zM210.2 283.3h0.8v0.8h-0.8zM199.1 290.3h0.8v0.8h-0.8zM213.3 281.8h0.8v0.8h-0.8zM211.9 280.5h0.8v0.8h-0.8zM213.5 271.1h0.8v0.8h-0.8zM208.2 285.3h0.8v0.8h-0.8zM202.5 279.4h0.8v0.8h-0.8zM213.9 275.3h0.8v0.8h-0.8zM197.9 286.5h0.8v0.8h-0.8zM196.3 290.1h0.8v0.8h-0.8zM217.2 275.6h0.8v0.8h-0.8zM200.1 279.2h0.8v0.8h-0.8zM200.4 286.6h0.8v0.8h-0.8zM208.0 274.7h0.8v0.8h-0.8zM217.2 277.4h0.8v0.8h-0.8zM199.9 280.8h0.8v0.8h-0.8zM202.3 287.8h0.8v0.8h-0.8zM214.7 278.4h0.8v0.8h-0.8zM203.4 278.0h0.8v0.8h-0.8zM208.6 273.6h0.8v0.8h-0.8zM200.5 287.6h0.8v0.8h-0.8zM199.1 285.6h0.8v0.8h-0.8zM217.1 274.2h0.8v0.8h-0.8zM206.1 277.3h0.8v0.8h-0.8zM209.4 275.8h0.8v0.8h-0.8zM215.6 271.1h0.8v0.8h-0.8zM208.3 276.5h0.8v0.8h-0.8zM214.9 279.6h0.8v0.8h-0.8zM199.6 287.1h0.8v0.8h-0.8zM210.0 282.1h0.8v0.8h-0.8zM200.2 281.0h0.8v0.8h-0.8zM199.3 284.9h0.8v0.8h-0.8zM201.8 280.8h0.8v0.8h-0.8zM217.2 272.2h0.8v0.8h-0.8zM200.8 280.4h0.8v0.8h-0.8zM200.5 288.1h0.8v0.8h-0.8zM204.1 286.6h0.8v0.8h-0.8zM195.4 289.6h0.8v0.8h-0.8zM200.4 279.2h0.8v0.8h-0.8zM199.4 283.2h0.8v0.8h-0.8zM200.2 289.9h0.8v0.8h-0.8zM196.5 288.9h0.8v0.8h-0.8zM200.4 287.8h0.8v0.8h-0.8zM202.1 288.1h0.8v0.8h-0.8zM198.5 281.9h0.8v0.8h-0.8zM201.8 286.1h0.8v0.8h-0.8zM199.5 289.6h0.8v0.8h-0.8zM197.3 283.6h0.8v0.8h-0.8zM198.2 287.8h0.8v0.8h-0.8zM201.0 279.6h0.8v0.8h-0.8zM199.1 279.7h0.8v0.8h-0.8zM199.8 289.7h0.8v0.8h-0.8zM200.1 283.8h0.8v0.8h-0.8zM197.4 290.7h0.8v0.8h-0.8zM196.1 283.2h0.8v0.8h-0.8zM199.5 287.7h0.8v0.8h-0.8zM205.0 287.2h0.8v0.8h-0.8z" fill="#2d66a8" stroke="none" stroke-width="1"/>
<path d="M200.4 255.2h1v1h-1zM188.0 267.9h1v1h-1zM192.7 256.4h1v1h-1zM203.2 257.4h1v1h-1zM198.5 255.2h1v1h-1zM200.2 263.2h1v1h-1zM195.8 256.0h1v1h-1zM201.6 259.3h1v1h-1zM192.8 257.7h1v1h-1zM201.0 259.8h1v1h-1zM195.9 255.2h1v1h-1zM202.1 255.0h1v1h-1zM202.2 258.8h1v1h-1zM201.1 260.6h1v1h-1zM201.5 258.8h1v1h-1zM201.2 258.1h1v1h-1zM198.0 266.8h1v1h-1zM203.0 256.0h1v1h-1zM189.0 263.5h1v1h-1zM201.1 254.0h1v1h-1zM199.1 254.1h1v1h-1zM199.1 263.9h1v1h-1zM198.6 264.6h1v1h-1zM192.4 257.7h1v1h-1zM188.0 267.4h1v1h-1zM189.7 260.1h1v1h-1zM200.8 261.5h1v1h-1zM202.2 255.5h1v1h-1zM202.1 259.0h1v1h-1zM201.0 261.7h1v1h-1zM200.6 254.7h1v1h-1zM201.1 258.6h1v1h-1zM193.3 268.7h1v1h-1zM188.2 266.7h1v1h-1zM193.1 257.0h1v1h-1zM195.2 256.2h1v1h-1zM201.1 259.2h1v1h-1zM201.2 259.2h1v1h-1zM199.3 255.1h1v1h-1zM198.1 266.8h1v1h-1zM193.2 269.0h1v1h-1zM201.4 260.6h1v1h-1zM190.5 258.7h1v1h-1zM190.3 259.8h1v1h-1zM191.6 268.8h1v1h-1zM188.3 264.5h1v1h-1zM197.9 266.1h1v1h-1zM197.7 266.5h1v1h-1zM196.0 267.9h1v1h-1zM193.1 268.7h1v1h-1zM194.9 254.7h1v1h-1zM202.5 260.7h1v1h-1zM189.3 261.2h1v1h-1zM188.0 266.8h1v1h-1zM188.3 265.5h1v1h-1zM192.9 268.6h1v1h-1zM201.5 259.4h1v1h-1zM192.3 268.8h1v1h-1zM196.4 267.0h1v1h-1zM187.6 266.5h1v1h-1zM188.1 263.7h1v1h-1zM194.8 268.6h1v1h-1zM188.8 264.5h1v1h-1zM193.9 256.2h1v1h-1zM188.9 263.3h1v1h-1zM189.3 266.0h1v1h-1zM188.7 262.1h1v1h-1zM201.8 257.7h1v1h-1zM195.5 268.3h1v1h-1zM195.5 267.2h1v1h-1zM196.8 266.8h1v1h-1zM187.8 265.7h1v1h-1zM189.1 264.8h1v1h-1zM198.7 254.4h1v1h-1zM200.6 263.2h1v1h-1zM190.9 258.4h1v1h-1zM187.8 265.6h1v1h-1zM189.1 264.4h1v1h-1zM188.5 263.5h1v1h-1zM199.6 255.8h1v1h-1zM193.4 268.4h1v1h-1zM188.9 264.7h1v1h-1zM192.7 268.2h1v1h-1zM188.5 266.6h1v1h-1zM192.1 268.1h1v1h-1zM195.4 267.9h1v1h-1zM200.3 263.4h1v1h-1zM200.3 255.6h1v1h-1zM191.6 258.1h1v1h-1zM200.7 255.6h1v1h-1zM203.2 258.6h1v1h-1zM198.4 265.6h1v1h-1zM192.5 269.2h1v1h-1zM199.8 263.0h1v1h-1zM195.1 254.6h1v1h-1zM199.7 263.8h1v1h-1zM199.2 255.2h1v1h-1zM200.7 254.6h1v1h-1zM202.3 258.8h1v1h-1zM198.2 266.9h1v1h-1zM189.5 267.3h1v1h-1zM202.0 255.2h1v1h-1zM189.8 266.9h1v1h-1zM189.0 265.0h1v1h-1zM193.9 256.1h1v1h-1zM195.4 268.5h1v1h-1zM195.9 255.2h1v1h-1zM195.0 256.3h1v1h-1zM200.4 264.5h1v1h-1zM191.4 269.0h1v1h-1zM201.4 259.9h1v1h-1zM199.8 265.2h1v1h-1zM198.7 265.5h1v1h-1zM197.6 266.4h1v1h-1zM195.2 254.6h1v1h-1zM202.4 257.0h1v1h-1zM200.7 262.0h1v1h-1zM196.1 267.9h1v1h-1zM202.9 258.9h1v1h-1zM202.3 257.5h1v1h-1zM201.4 260.5h1v1h-1zM201.0 263.0h1v1h-1zM199.7 263.9h1v1h-1zM195.3 267.7h1v1h-1zM194.0 256.9h1v1h-1zM194.8 255.2h1v1h-1zM202.6 260.0h1v1h-1zM189.4 269.1h1v1h-1zM194.5 255.5h1v1h-1zM204.8 280.6h1v1h-1zM211.5 278.9h1v1h-1zM210.9 276.9h1v1h-1zM202.2 256.5h1v1h-1zM210.8 277.9h1v1h-1zM208.4 280.6h1v1h-1zM210.0 276.5h1v1h-1zM208.7 280.0h1v1h-1zM206.8 281.2h1v1h-1zM209.6 281.1h1v1h-1zM204.4 280.5h1v1h-1zM208.9 280.8h1v1h-1zM203.3 284.9h1v1h-1zM207.4 282.2h1v1h-1zM209.7 277.8h1v1h-1zM209.9 279.7h1v1h-1zM201.9 283.1h1v1h-1zM203.9 283.3h1v1h-1zM204.9 283.1h1v1h-1zM207.3 279.5h1v1h-1zM207.7 279.0h1v1h-1zM201.8 281.9h1v1h-1zM202.7 283.3h1v1h-1zM208.6 279.9h1v1h-1zM204.2 280.5h1v1h-1zM203.6 279.8h1v1h-1zM207.9 278.2h1v1h-1zM205.6 283.9h1v1h-1zM206.0 280.9h1v1h-1zM207.7 280.2h1v1h-1zM207.6 280.8h1v1h-1zM207.3 281.0h1v1h-1zM203.3 282.2h1v1h-1zM211.1 278.1h1v1h-1zM206.2 279.7h1v1h-1zM205.2 282.9h1v1h-1zM208.7 277.3h1v1h-1zM207.2 282.0h1v1h-1zM207.1 277.6h1v1h-1zM208.7 278.3h1v1h-1zM202.8 281.4h1v1h-1zM204.0 282.9h1v1h-1zM200.3 284.0h1v1h-1zM204.6 279.2h1v1h-1zM205.1 281.1h1v1h-1zM208.6 277.8h1v1h-1zM207.3 283.1h1v1h-1zM211.2 279.3h1v1h-1zM210.4 280.1h1v1h-1zM205.8 280.7h1v1h-1zM205.3 283.4h1v1h-1zM207.2 279.1h1v1h-1zM203.4 284.1h1v1h-1zM208.8 277.5h1v1h-1zM205.0 283.4h1v1h-1zM203.0 283.1h1v1h-1zM204.9 280.2h1v1h-1zM202.3 283.6h1v1h-1zM203.9 282.2h1v1h-1zM207.9 280.7h1v1h-1zM211.4 277.4h1v1h-1zM202.7 282.5h1v1h-1zM209.1 277.9h1v1h-1zM209.7 277.8h1v1h-1zM204.4 281.5h1v1h-1zM208.6 282.2h1v1h-1zM211.7 277.5h1v1h-1zM204.9 280.7h1v1h-1zM206.1 282.6h1v1h-1zM207.2 281.6h1v1h-1zM205.2 284.4h1v1h-1zM202.3 281.9h1v1h-1zM201.6 281.9h1v1h-1zM206.7 280.8h1v1h-1zM203.1 280.3h1v1h-1zM200.6 284.1h1v1h-1zM202.2 283.2h1v1h-1zM201.2 285.4h1v1h-1z" fill="#2f9a96" stroke="none" stroke-width="1"/>
<path d="M191.4 260.2h1v1h-1zM199.7 262.7h1v1h-1zM194.6 257.9h1v1h-1zM193.3 258.0h1v1h-1zM190.9 263.1h1v1h-1zM196.8 255.8h1v1h-1zM198.8 258.1h1v1h-1zM190.7 264.0h1v1h-1zM190.7 263.5h1v1h-1zM193.9 266.9h1v1h-1zM199.5 258.3h1v1h-1zM191.8 259.8h1v1h-1zM197.4 264.5h1v1h-1zM197.3 265.2h1v1h-1zM194.0 266.2h1v1h-1zM193.6 258.7h1v1h-1zM196.8 257.0h1v1h-1zM190.5 264.0h1v1h-1zM193.0 267.9h1v1h-1zM189.8 264.1h1v1h-1zM190.5 267.3h1v1h-1zM199.2 259.8h1v1h-1zM196.1 256.5h1v1h-1zM196.6 256.5h1v1h-1zM192.5 258.6h1v1h-1zM198.1 256.7h1v1h-1zM189.7 266.2h1v1h-1zM200.4 258.3h1v1h-1zM200.0 257.0h1v1h-1zM200.5 261.0h1v1h-1zM196.6 256.7h1v1h-1zM193.7 267.3h1v1h-1zM193.5 258.4h1v1h-1zM199.2 259.7h1v1h-1zM200.1 256.9h1v1h-1zM196.5 265.9h1v1h-1zM198.9 258.1h1v1h-1zM197.7 256.5h1v1h-1zM199.5 260.6h1v1h-1zM199.0 262.6h1v1h-1zM189.3 264.9h1v1h-1zM194.9 257.8h1v1h-1zM191.2 266.5h1v1h-1zM191.4 259.8h1v1h-1zM191.4 267.0h1v1h-1zM199.8 256.7h1v1h-1zM189.9 261.9h1v1h-1zM190.6 265.5h1v1h-1zM195.7 256.2h1v1h-1zM198.1 263.4h1v1h-1zM190.5 265.5h1v1h-1zM198.5 256.3h1v1h-1zM192.6 267.0h1v1h-1zM199.4 256.1h1v1h-1zM199.8 259.8h1v1h-1zM199.4 260.2h1v1h-1zM195.4 266.4h1v1h-1zM191.5 266.2h1v1h-1zM197.8 263.4h1v1h-1zM191.6 260.0h1v1h-1zM196.2 257.2h1v1h-1zM196.4 257.0h1v1h-1zM191.8 266.4h1v1h-1zM189.3 264.5h1v1h-1zM190.9 266.1h1v1h-1zM189.8 263.9h1v1h-1zM198.2 256.9h1v1h-1zM194.5 266.5h1v1h-1zM189.4 265.7h1v1h-1zM198.5 263.1h1v1h-1zM198.1 263.9h1v1h-1zM193.1 266.8h1v1h-1zM200.4 257.9h1v1h-1zM199.1 258.2h1v1h-1zM198.7 258.1h1v1h-1zM198.6 262.0h1v1h-1zM193.1 258.1h1v1h-1zM199.0 258.2h1v1h-1zM190.5 264.6h1v1h-1zM190.2 263.2h1v1h-1zM200.4 259.4h1v1h-1zM194.3 266.1h1v1h-1zM198.5 264.2h1v1h-1zM191.2 261.6h1v1h-1zM198.7 258.0h1v1h-1zM192.7 258.3h1v1h-1zM193.4 258.4h1v1h-1zM198.2 262.7h1v1h-1zM193.2 266.5h1v1h-1zM193.5 257.7h1v1h-1zM192.6 266.6h1v1h-1zM195.7 266.3h1v1h-1zM197.1 256.9h1v1h-1zM197.8 257.1h1v1h-1zM189.6 266.1h1v1h-1zM200.3 257.1h1v1h-1zM200.4 258.5h1v1h-1zM194.7 266.0h1v1h-1zM199.3 262.8h1v1h-1zM199.8 260.1h1v1h-1zM199.2 261.4h1v1h-1zM196.6 256.8h1v1h-1zM200.7 258.0h1v1h-1z" fill="#48ad52" stroke="none" stroke-width="1"/>
<path d="M191.9 265.7h1v1h-1zM193.7 259.1h1v1h-1zM195.4 264.6h1v1h-1zM197.3 258.4h1v1h-1zM192.5 260.3h1v1h-1zM194.4 265.6h1v1h-1zM197.5 258.0h1v1h-1zM194.9 258.2h1v1h-1zM198.4 261.3h1v1h-1zM193.9 265.6h1v1h-1zM198.5 261.6h1v1h-1zM198.3 262.4h1v1h-1zM193.4 259.6h1v1h-1zM191.0 262.7h1v1h-1zM192.9 265.4h1v1h-1zM193.5 259.7h1v1h-1zM191.1 264.0h1v1h-1zM190.9 264.1h1v1h-1zM191.9 265.8h1v1h-1zM192.7 261.2h1v1h-1zM196.2 257.9h1v1h-1zM192.8 265.9h1v1h-1zM192.0 264.4h1v1h-1zM197.8 262.9h1v1h-1zM195.4 258.5h1v1h-1zM194.5 265.0h1v1h-1zM196.8 263.9h1v1h-1zM197.5 257.8h1v1h-1zM192.0 264.5h1v1h-1zM196.7 264.4h1v1h-1zM192.3 260.3h1v1h-1zM195.7 258.3h1v1h-1zM196.0 263.9h1v1h-1zM197.7 259.1h1v1h-1zM191.6 263.3h1v1h-1zM191.8 265.5h1v1h-1zM192.5 265.4h1v1h-1zM197.9 259.4h1v1h-1zM191.0 263.0h1v1h-1zM191.9 262.2h1v1h-1zM191.9 265.1h1v1h-1zM196.3 264.7h1v1h-1zM193.0 265.4h1v1h-1zM193.3 266.2h1v1h-1zM197.8 263.0h1v1h-1zM196.3 257.9h1v1h-1zM196.1 258.2h1v1h-1zM191.5 263.1h1v1h-1zM195.3 264.7h1v1h-1zM198.5 258.9h1v1h-1zM191.0 264.6h1v1h-1zM195.2 258.2h1v1h-1zM197.5 258.1h1v1h-1zM197.3 257.8h1v1h-1zM198.0 258.2h1v1h-1zM192.7 260.8h1v1h-1zM196.2 258.2h1v1h-1zM193.2 266.0h1v1h-1zM196.8 263.7h1v1h-1zM191.3 265.3h1v1h-1zM198.1 261.3h1v1h-1zM197.0 258.2h1v1h-1zM198.2 258.1h1v1h-1zM197.7 261.8h1v1h-1zM196.0 258.1h1v1h-1zM193.9 259.2h1v1h-1zM194.7 258.8h1v1h-1zM198.0 258.7h1v1h-1zM198.6 258.2h1v1h-1zM191.8 265.2h1v1h-1zM198.3 258.7h1v1h-1zM198.8 260.2h1v1h-1zM197.9 261.2h1v1h-1z" fill="#a2c238" stroke="none" stroke-width="1"/>
<path d="M197.8 260.3h1v1h-1zM192.6 263.2h1v1h-1zM192.8 264.6h1v1h-1zM194.0 264.2h1v1h-1zM192.8 264.7h1v1h-1zM192.1 263.2h1v1h-1zM192.6 262.7h1v1h-1zM195.8 259.9h1v1h-1zM197.4 259.5h1v1h-1zM194.8 263.8h1v1h-1zM193.1 261.1h1v1h-1zM193.2 263.8h1v1h-1zM197.0 261.1h1v1h-1zM194.4 260.2h1v1h-1zM192.6 264.2h1v1h-1zM195.6 259.1h1v1h-1zM196.1 263.3h1v1h-1zM195.2 263.5h1v1h-1zM195.7 259.8h1v1h-1zM194.2 264.6h1v1h-1zM197.2 260.3h1v1h-1zM192.8 264.2h1v1h-1zM192.5 262.2h1v1h-1zM194.7 264.7h1v1h-1zM197.4 262.0h1v1h-1zM194.6 259.9h1v1h-1zM197.1 260.4h1v1h-1zM192.8 262.3h1v1h-1zM195.5 259.0h1v1h-1zM193.1 263.8h1v1h-1zM195.4 259.6h1v1h-1zM193.8 260.1h1v1h-1zM193.3 263.8h1v1h-1zM196.8 261.4h1v1h-1zM196.7 262.0h1v1h-1zM192.4 262.1h1v1h-1zM193.1 264.3h1v1h-1zM195.4 259.0h1v1h-1zM193.4 263.9h1v1h-1zM192.4 263.4h1v1h-1zM196.5 259.8h1v1h-1zM194.8 260.1h1v1h-1zM196.4 259.8h1v1h-1zM196.7 260.1h1v1h-1zM194.7 264.5h1v1h-1zM193.7 260.3h1v1h-1zM192.7 262.6h1v1h-1zM196.4 263.4h1v1h-1zM197.0 261.7h1v1h-1zM192.8 261.8h1v1h-1zM196.9 262.5h1v1h-1zM196.3 263.2h1v1h-1zM192.6 263.9h1v1h-1zM197.6 259.5h1v1h-1zM196.3 262.7h1v1h-1zM193.9 260.8h1v1h-1zM196.2 263.0h1v1h-1zM197.1 261.8h1v1h-1zM197.5 261.6h1v1h-1zM197.1 261.1h1v1h-1zM193.3 261.5h1v1h-1zM193.3 264.0h1v1h-1z" fill="#e29a2c" stroke="none" stroke-width="1"/>
<path d="M194.1 261.9h1v1h-1zM194.3 261.4h1v1h-1zM195.6 262.0h1v1h-1zM194.9 262.4h1v1h-1zM193.7 263.7h1v1h-1zM194.8 260.3h1v1h-1zM195.2 260.7h1v1h-1zM194.5 263.6h1v1h-1zM194.3 263.8h1v1h-1zM195.8 260.5h1v1h-1zM194.5 260.6h1v1h-1zM195.3 261.8h1v1h-1zM195.0 261.8h1v1h-1zM194.7 262.5h1v1h-1zM193.7 263.8h1v1h-1zM194.3 262.8h1v1h-1zM193.6 261.6h1v1h-1zM194.3 262.1h1v1h-1zM195.4 261.3h1v1h-1zM196.2 261.8h1v1h-1zM194.8 262.1h1v1h-1zM196.0 260.6h1v1h-1zM194.7 262.8h1v1h-1zM194.5 261.6h1v1h-1zM195.8 261.1h1v1h-1zM194.4 261.6h1v1h-1zM194.3 263.3h1v1h-1zM194.1 262.2h1v1h-1zM194.2 262.8h1v1h-1zM194.5 260.5h1v1h-1zM194.6 260.8h1v1h-1zM195.5 261.9h1v1h-1zM194.0 262.8h1v1h-1zM193.9 263.7h1v1h-1zM194.8 261.9h1v1h-1zM195.1 261.9h1v1h-1zM195.7 261.6h1v1h-1zM194.4 260.7h1v1h-1zM196.2 261.8h1v1h-1zM194.0 262.1h1v1h-1zM194.2 260.7h1v1h-1zM194.9 261.1h1v1h-1zM196.1 260.5h1v1h-1zM196.8 261.2h1v1h-1zM193.7 262.4h1v1h-1zM194.5 262.1h1v1h-1zM196.1 261.3h1v1h-1z" fill="#dc5528" stroke="none" stroke-width="1"/>
<rect x="154.5" y="224.6" width="87" height="87" fill="none" stroke="#333" stroke-width="0.8"/>
<line x1="154.5" y1="275.6" x2="241.5" y2="275.6" stroke="#333" stroke-width="0.8"/>
<line x1="229.8" y1="248.1" x2="229.8" y2="311.6" stroke="#333" stroke-width="0.8"/>
<text x="156.7" y="235.8" font-size="6" fill="#222">Q1</text>
<text x="156.7" y="244.4" font-size="6" fill="#222">87.0</text>
<text x="224.5" y="235.8" font-size="6" fill="#222">Q2</text>
<text x="234.1" y="244.4" font-size="6" text-anchor="end" fill="#222">0</text>
<text x="156.7" y="297.1" font-size="6" fill="#222">Q4</text>
<text x="156.7" y="305.7" font-size="6" fill="#222">13.0</text>
<text x="224.5" y="297.1" font-size="6" fill="#222">Q3</text>
<text x="234.1" y="305.7" font-size="6" text-anchor="end" fill="#222">0</text>
<line x1="152.7" y1="234.1" x2="154.5" y2="234.1" stroke="#444" stroke-width="0.5"/>
<text x="151.3" y="235.1" font-size="3" text-anchor="end" fill="#555">10</text>
<line x1="152.7" y1="256.1" x2="154.5" y2="256.1" stroke="#444" stroke-width="0.5"/>
<text x="151.3" y="257.1" font-size="3" text-anchor="end" fill="#555">10</text>
<line x1="152.7" y1="277.6" x2="154.5" y2="277.6" stroke="#444" stroke-width="0.5"/>
<text x="151.3" y="278.6" font-size="3" text-anchor="end" fill="#555">10</text>
<line x1="152.7" y1="300.1" x2="154.5" y2="300.1" stroke="#444" stroke-width="0.5"/>
<text x="151.3" y="301.1" font-size="3" text-anchor="end" fill="#555">10</text>
<line x1="169.5" y1="311.6" x2="169.5" y2="313.4" stroke="#444" stroke-width="0.5"/>
<text x="169.5" y="317.1" font-size="3" text-anchor="middle" fill="#555">10</text>
<line x1="199.5" y1="311.6" x2="199.5" y2="313.4" stroke="#444" stroke-width="0.5"/>
<text x="199.5" y="317.1" font-size="3" text-anchor="middle" fill="#555">10</text>
<line x1="229.5" y1="311.6" x2="229.5" y2="313.4" stroke="#444" stroke-width="0.5"/>
<text x="229.5" y="317.1" font-size="3" text-anchor="middle" fill="#555">10</text>
<line x1="157.5" y1="311.6" x2="157.5" y2="312.5" stroke="#666" stroke-width="0.35"/>
<line x1="153.6" y1="227.6" x2="154.5" y2="227.6" stroke="#666" stroke-width="0.35"/>
<line x1="160.5" y1="311.6" x2="160.5" y2="312.5" stroke="#666" stroke-width="0.35"/>
<line x1="153.6" y1="230.6" x2="154.5" y2="230.6" stroke="#666" stroke-width="0.35"/>
<line x1="163.5" y1="311.6" x2="163.5" y2="312.5" stroke="#666" stroke-width="0.35"/>
<line x1="153.6" y1="233.6" x2="154.5" y2="233.6" stroke="#666" stroke-width="0.35"/>
<line x1="166.5" y1="311.6" x2="166.5" y2="312.5" stroke="#666" stroke-width="0.35"/>
<line x1="153.6" y1="236.6" x2="154.5" y2="236.6" stroke="#666" stroke-width="0.35"/>
<line x1="169.5" y1="311.6" x2="169.5" y2="312.5" stroke="#666" stroke-width="0.35"/>
<line x1="153.6" y1="239.6" x2="154.5" y2="239.6" stroke="#666" stroke-width="0.35"/>
<line x1="172.5" y1="311.6" x2="172.5" y2="312.5" stroke="#666" stroke-width="0.35"/>
<line x1="153.6" y1="242.6" x2="154.5" y2="242.6" stroke="#666" stroke-width="0.35"/>
<line x1="175.5" y1="311.6" x2="175.5" y2="312.5" stroke="#666" stroke-width="0.35"/>
<line x1="153.6" y1="245.6" x2="154.5" y2="245.6" stroke="#666" stroke-width="0.35"/>
<line x1="178.5" y1="311.6" x2="178.5" y2="312.5" stroke="#666" stroke-width="0.35"/>
<line x1="153.6" y1="248.6" x2="154.5" y2="248.6" stroke="#666" stroke-width="0.35"/>
<line x1="181.5" y1="311.6" x2="181.5" y2="312.5" stroke="#666" stroke-width="0.35"/>
<line x1="153.6" y1="251.6" x2="154.5" y2="251.6" stroke="#666" stroke-width="0.35"/>
<line x1="184.5" y1="311.6" x2="184.5" y2="312.5" stroke="#666" stroke-width="0.35"/>
<line x1="153.6" y1="254.6" x2="154.5" y2="254.6" stroke="#666" stroke-width="0.35"/>
<line x1="187.5" y1="311.6" x2="187.5" y2="312.5" stroke="#666" stroke-width="0.35"/>
<line x1="153.6" y1="257.6" x2="154.5" y2="257.6" stroke="#666" stroke-width="0.35"/>
<line x1="190.5" y1="311.6" x2="190.5" y2="312.5" stroke="#666" stroke-width="0.35"/>
<line x1="153.6" y1="260.6" x2="154.5" y2="260.6" stroke="#666" stroke-width="0.35"/>
<line x1="193.5" y1="311.6" x2="193.5" y2="312.5" stroke="#666" stroke-width="0.35"/>
<line x1="153.6" y1="263.6" x2="154.5" y2="263.6" stroke="#666" stroke-width="0.35"/>
<line x1="196.5" y1="311.6" x2="196.5" y2="312.5" stroke="#666" stroke-width="0.35"/>
<line x1="153.6" y1="266.6" x2="154.5" y2="266.6" stroke="#666" stroke-width="0.35"/>
<line x1="199.5" y1="311.6" x2="199.5" y2="312.5" stroke="#666" stroke-width="0.35"/>
<line x1="153.6" y1="269.6" x2="154.5" y2="269.6" stroke="#666" stroke-width="0.35"/>
<line x1="202.5" y1="311.6" x2="202.5" y2="312.5" stroke="#666" stroke-width="0.35"/>
<line x1="153.6" y1="272.6" x2="154.5" y2="272.6" stroke="#666" stroke-width="0.35"/>
<line x1="205.5" y1="311.6" x2="205.5" y2="312.5" stroke="#666" stroke-width="0.35"/>
<line x1="153.6" y1="275.6" x2="154.5" y2="275.6" stroke="#666" stroke-width="0.35"/>
<line x1="208.5" y1="311.6" x2="208.5" y2="312.5" stroke="#666" stroke-width="0.35"/>
<line x1="153.6" y1="278.6" x2="154.5" y2="278.6" stroke="#666" stroke-width="0.35"/>
<line x1="211.5" y1="311.6" x2="211.5" y2="312.5" stroke="#666" stroke-width="0.35"/>
<line x1="153.6" y1="281.6" x2="154.5" y2="281.6" stroke="#666" stroke-width="0.35"/>
<line x1="214.5" y1="311.6" x2="214.5" y2="312.5" stroke="#666" stroke-width="0.35"/>
<line x1="153.6" y1="284.6" x2="154.5" y2="284.6" stroke="#666" stroke-width="0.35"/>
<line x1="217.5" y1="311.6" x2="217.5" y2="312.5" stroke="#666" stroke-width="0.35"/>
<line x1="153.6" y1="287.6" x2="154.5" y2="287.6" stroke="#666" stroke-width="0.35"/>
<line x1="220.5" y1="311.6" x2="220.5" y2="312.5" stroke="#666" stroke-width="0.35"/>
<line x1="153.6" y1="290.6" x2="154.5" y2="290.6" stroke="#666" stroke-width="0.35"/>
<line x1="223.5" y1="311.6" x2="223.5" y2="312.5" stroke="#666" stroke-width="0.35"/>
<line x1="153.6" y1="293.6" x2="154.5" y2="293.6" stroke="#666" stroke-width="0.35"/>
<line x1="226.5" y1="311.6" x2="226.5" y2="312.5" stroke="#666" stroke-width="0.35"/>
<line x1="153.6" y1="296.6" x2="154.5" y2="296.6" stroke="#666" stroke-width="0.35"/>
<line x1="229.5" y1="311.6" x2="229.5" y2="312.5" stroke="#666" stroke-width="0.35"/>
<line x1="153.6" y1="299.6" x2="154.5" y2="299.6" stroke="#666" stroke-width="0.35"/>
<line x1="232.5" y1="311.6" x2="232.5" y2="312.5" stroke="#666" stroke-width="0.35"/>
<line x1="153.6" y1="302.6" x2="154.5" y2="302.6" stroke="#666" stroke-width="0.35"/>
<line x1="235.5" y1="311.6" x2="235.5" y2="312.5" stroke="#666" stroke-width="0.35"/>
<line x1="153.6" y1="305.6" x2="154.5" y2="305.6" stroke="#666" stroke-width="0.35"/>
<line x1="238.5" y1="311.6" x2="238.5" y2="312.5" stroke="#666" stroke-width="0.35"/>
<line x1="153.6" y1="308.6" x2="154.5" y2="308.6" stroke="#666" stroke-width="0.35"/>
<line x1="241.5" y1="311.6" x2="241.5" y2="312.5" stroke="#666" stroke-width="0.35"/>
<line x1="153.6" y1="311.6" x2="154.5" y2="311.6" stroke="#666" stroke-width="0.35"/>
<text x="299.8" y="222.6" font-size="11.4" text-anchor="middle" fill="#111">OE-OTUD7A</text>
<path d="M283.3 265.2h0.8v0.8h-0.8zM296.5 250.5h0.8v0.8h-0.8zM280.3 264.1h0.8v0.8h-0.8zM285.0 269.5h0.8v0.8h-0.8zM297.6 246.5h0.8v0.8h-0.8zM308.2 251.6h0.8v0.8h-0.8zM281.9 273.4h0.8v0.8h-0.8zM293.8 249.7h0.8v0.8h-0.8zM305.6 246.1h0.8v0.8h-0.8zM284.7 265.1h0.8v0.8h-0.8zM290.5 275.0h0.8v0.8h-0.8zM284.1 271.7h0.8v0.8h-0.8zM284.2 267.8h0.8v0.8h-0.8zM289.6 274.0h0.8v0.8h-0.8zM285.8 273.9h0.8v0.8h-0.8zM283.1 270.1h0.8v0.8h-0.8zM300.2 248.2h0.8v0.8h-0.8zM304.6 266.3h0.8v0.8h-0.8zM311.4 252.6h0.8v0.8h-0.8zM291.9 252.1h0.8v0.8h-0.8zM289.6 273.8h0.8v0.8h-0.8zM308.6 254.9h0.8v0.8h-0.8zM283.8 270.1h0.8v0.8h-0.8zM283.8 260.0h0.8v0.8h-0.8zM301.8 269.8h0.8v0.8h-0.8zM303.3 268.6h0.8v0.8h-0.8zM284.5 267.7h0.8v0.8h-0.8zM287.8 255.5h0.8v0.8h-0.8zM305.9 250.3h0.8v0.8h-0.8zM294.7 250.4h0.8v0.8h-0.8zM305.0 265.5h0.8v0.8h-0.8zM299.6 270.6h0.8v0.8h-0.8zM292.5 275.0h0.8v0.8h-0.8zM284.5 264.7h0.8v0.8h-0.8zM303.9 243.9h0.8v0.8h-0.8zM284.7 268.5h0.8v0.8h-0.8zM291.5 274.2h0.8v0.8h-0.8zM303.0 266.9h0.8v0.8h-0.8zM285.3 262.0h0.8v0.8h-0.8zM299.1 271.6h0.8v0.8h-0.8zM284.5 262.1h0.8v0.8h-0.8zM305.9 266.2h0.8v0.8h-0.8zM284.9 254.5h0.8v0.8h-0.8zM306.0 263.5h0.8v0.8h-0.8zM292.9 273.6h0.8v0.8h-0.8zM290.0 256.4h0.8v0.8h-0.8zM305.3 249.1h0.8v0.8h-0.8zM296.6 274.7h0.8v0.8h-0.8zM300.9 246.4h0.8v0.8h-0.8zM289.4 278.7h0.8v0.8h-0.8zM296.5 251.4h0.8v0.8h-0.8zM298.0 272.3h0.8v0.8h-0.8zM299.4 244.8h0.8v0.8h-0.8zM291.0 273.1h0.8v0.8h-0.8zM284.9 263.9h0.8v0.8h-0.8zM284.5 271.7h0.8v0.8h-0.8zM293.4 251.3h0.8v0.8h-0.8zM305.2 247.5h0.8v0.8h-0.8zM288.7 257.9h0.8v0.8h-0.8zM298.6 245.3h0.8v0.8h-0.8zM307.6 264.6h0.8v0.8h-0.8zM284.6 274.0h0.8v0.8h-0.8zM292.4 253.4h0.8v0.8h-0.8zM285.3 272.4h0.8v0.8h-0.8zM307.1 261.6h0.8v0.8h-0.8zM286.5 261.1h0.8v0.8h-0.8zM284.8 267.8h0.8v0.8h-0.8zM312.7 255.5h0.8v0.8h-0.8zM281.4 264.7h0.8v0.8h-0.8zM285.6 271.4h0.8v0.8h-0.8zM307.9 259.5h0.8v0.8h-0.8zM289.0 256.0h0.8v0.8h-0.8zM282.9 262.2h0.8v0.8h-0.8zM302.2 249.1h0.8v0.8h-0.8zM289.5 253.6h0.8v0.8h-0.8zM301.6 269.2h0.8v0.8h-0.8zM309.6 256.5h0.8v0.8h-0.8zM285.5 261.3h0.8v0.8h-0.8zM283.7 275.1h0.8v0.8h-0.8zM289.8 275.1h0.8v0.8h-0.8zM311.0 257.7h0.8v0.8h-0.8zM309.4 263.5h0.8v0.8h-0.8zM307.4 248.9h0.8v0.8h-0.8zM310.5 263.7h0.8v0.8h-0.8zM314.4 256.5h0.8v0.8h-0.8zM299.8 248.5h0.8v0.8h-0.8zM313.8 267.1h0.8v0.8h-0.8zM300.2 245.5h0.8v0.8h-0.8zM312.4 248.5h0.8v0.8h-0.8zM310.2 243.5h0.8v0.8h-0.8zM316.0 250.5h0.8v0.8h-0.8zM307.6 244.7h0.8v0.8h-0.8zM315.2 257.4h0.8v0.8h-0.8zM318.9 244.2h0.8v0.8h-0.8zM309.2 264.5h0.8v0.8h-0.8zM307.5 244.5h0.8v0.8h-0.8zM315.5 260.0h0.8v0.8h-0.8zM287.0 255.1h0.8v0.8h-0.8zM297.3 246.4h0.8v0.8h-0.8zM310.3 261.4h0.8v0.8h-0.8zM314.8 246.9h0.8v0.8h-0.8zM288.2 255.6h0.8v0.8h-0.8zM311.5 250.9h0.8v0.8h-0.8zM286.6 253.4h0.8v0.8h-0.8zM301.4 276.9h0.8v0.8h-0.8zM294.1 252.9h0.8v0.8h-0.8zM300.6 271.4h0.8v0.8h-0.8zM282.2 272.8h0.8v0.8h-0.8zM288.8 256.7h0.8v0.8h-0.8zM288.2 258.3h0.8v0.8h-0.8zM313.5 250.5h0.8v0.8h-0.8zM304.6 248.3h0.8v0.8h-0.8zM307.1 247.6h0.8v0.8h-0.8zM289.0 256.4h0.8v0.8h-0.8zM306.5 247.5h0.8v0.8h-0.8zM295.2 245.6h0.8v0.8h-0.8zM300.6 245.9h0.8v0.8h-0.8zM284.2 257.7h0.8v0.8h-0.8zM311.4 252.5h0.8v0.8h-0.8zM299.9 249.2h0.8v0.8h-0.8zM305.8 249.7h0.8v0.8h-0.8zM308.4 252.3h0.8v0.8h-0.8zM282.7 263.1h0.8v0.8h-0.8zM308.5 250.4h0.8v0.8h-0.8zM311.9 249.0h0.8v0.8h-0.8zM321.2 255.0h0.8v0.8h-0.8zM317.2 252.5h0.8v0.8h-0.8zM314.7 250.6h0.8v0.8h-0.8zM290.8 251.4h0.8v0.8h-0.8zM288.0 273.2h0.8v0.8h-0.8zM310.8 269.8h0.8v0.8h-0.8zM311.8 249.9h0.8v0.8h-0.8zM302.9 268.0h0.8v0.8h-0.8zM314.8 259.7h0.8v0.8h-0.8zM296.4 288.6h0.8v0.8h-0.8zM313.4 278.0h0.8v0.8h-0.8zM300.1 287.4h0.8v0.8h-0.8zM297.7 289.4h0.8v0.8h-0.8zM313.8 271.3h0.8v0.8h-0.8zM321.7 270.2h0.8v0.8h-0.8zM298.1 279.7h0.8v0.8h-0.8zM301.9 286.3h0.8v0.8h-0.8zM315.7 270.9h0.8v0.8h-0.8zM293.8 291.7h0.8v0.8h-0.8zM299.1 288.0h0.8v0.8h-0.8zM291.6 286.5h0.8v0.8h-0.8zM306.7 272.7h0.8v0.8h-0.8zM316.6 272.6h0.8v0.8h-0.8zM306.2 273.2h0.8v0.8h-0.8zM308.8 272.4h0.8v0.8h-0.8zM295.6 281.0h0.8v0.8h-0.8zM292.8 287.7h0.8v0.8h-0.8zM310.0 281.2h0.8v0.8h-0.8zM295.4 284.6h0.8v0.8h-0.8zM306.6 284.1h0.8v0.8h-0.8zM315.5 274.9h0.8v0.8h-0.8zM290.9 287.8h0.8v0.8h-0.8zM310.6 280.1h0.8v0.8h-0.8zM312.7 276.8h0.8v0.8h-0.8zM324.1 267.2h0.8v0.8h-0.8zM313.6 271.6h0.8v0.8h-0.8zM307.5 270.7h0.8v0.8h-0.8zM291.3 288.5h0.8v0.8h-0.8zM290.5 293.4h0.8v0.8h-0.8zM318.6 274.9h0.8v0.8h-0.8zM305.9 283.4h0.8v0.8h-0.8zM291.3 284.6h0.8v0.8h-0.8zM322.4 264.4h0.8v0.8h-0.8zM313.6 269.4h0.8v0.8h-0.8zM304.2 275.8h0.8v0.8h-0.8zM289.7 284.7h0.8v0.8h-0.8zM301.1 275.6h0.8v0.8h-0.8zM294.0 285.8h0.8v0.8h-0.8zM319.2 270.6h0.8v0.8h-0.8zM310.5 283.0h0.8v0.8h-0.8zM310.7 270.6h0.8v0.8h-0.8zM318.2 273.9h0.8v0.8h-0.8zM307.3 274.5h0.8v0.8h-0.8zM300.6 279.6h0.8v0.8h-0.8zM314.6 277.6h0.8v0.8h-0.8zM309.5 279.8h0.8v0.8h-0.8zM301.7 288.9h0.8v0.8h-0.8zM320.3 273.9h0.8v0.8h-0.8zM318.0 272.3h0.8v0.8h-0.8zM295.1 295.1h0.8v0.8h-0.8zM318.6 269.3h0.8v0.8h-0.8zM306.5 275.5h0.8v0.8h-0.8zM311.3 280.1h0.8v0.8h-0.8zM295.2 284.5h0.8v0.8h-0.8zM305.6 275.7h0.8v0.8h-0.8zM308.6 271.9h0.8v0.8h-0.8zM300.7 295.3h0.8v0.8h-0.8zM293.9 288.8h0.8v0.8h-0.8zM290.7 291.5h0.8v0.8h-0.8zM303.6 286.8h0.8v0.8h-0.8zM289.5 288.6h0.8v0.8h-0.8zM303.2 292.0h0.8v0.8h-0.8zM301.2 277.4h0.8v0.8h-0.8zM292.2 293.7h0.8v0.8h-0.8zM288.9 292.3h0.8v0.8h-0.8zM307.6 290.4h0.8v0.8h-0.8zM288.9 286.1h0.8v0.8h-0.8zM297.5 288.7h0.8v0.8h-0.8zM296.3 295.8h0.8v0.8h-0.8zM295.1 283.5h0.8v0.8h-0.8zM304.4 287.4h0.8v0.8h-0.8zM289.8 283.8h0.8v0.8h-0.8zM295.5 284.4h0.8v0.8h-0.8zM289.2 286.8h0.8v0.8h-0.8zM295.7 289.1h0.8v0.8h-0.8zM293.6 288.1h0.8v0.8h-0.8zM286.3 281.2h0.8v0.8h-0.8zM301.0 291.8h0.8v0.8h-0.8zM296.2 283.6h0.8v0.8h-0.8zM302.8 276.1h0.8v0.8h-0.8zM291.5 290.0h0.8v0.8h-0.8zM285.0 293.9h0.8v0.8h-0.8zM297.2 282.1h0.8v0.8h-0.8zM296.6 291.1h0.8v0.8h-0.8zM280.7 292.2h0.8v0.8h-0.8zM300.7 276.2h0.8v0.8h-0.8zM300.9 277.7h0.8v0.8h-0.8zM303.1 288.6h0.8v0.8h-0.8zM329.3 264.9h0.8v0.8h-0.8zM306.2 264.4h0.8v0.8h-0.8zM308.3 268.2h0.8v0.8h-0.8zM302.6 271.5h0.8v0.8h-0.8zM315.6 269.0h0.8v0.8h-0.8zM324.9 266.6h0.8v0.8h-0.8zM321.8 265.3h0.8v0.8h-0.8zM317.3 257.0h0.8v0.8h-0.8zM312.9 267.5h0.8v0.8h-0.8zM307.3 264.9h0.8v0.8h-0.8zM308.5 264.3h0.8v0.8h-0.8zM306.9 265.5h0.8v0.8h-0.8zM302.8 267.8h0.8v0.8h-0.8zM317.6 267.1h0.8v0.8h-0.8zM319.1 274.1h0.8v0.8h-0.8zM320.5 266.6h0.8v0.8h-0.8zM306.9 267.9h0.8v0.8h-0.8zM314.3 270.8h0.8v0.8h-0.8zM309.9 273.0h0.8v0.8h-0.8zM319.9 272.6h0.8v0.8h-0.8zM317.2 261.6h0.8v0.8h-0.8zM315.1 277.6h0.8v0.8h-0.8zM301.5 270.4h0.8v0.8h-0.8zM309.1 272.8h0.8v0.8h-0.8zM313.0 275.7h0.8v0.8h-0.8zM303.4 273.9h0.8v0.8h-0.8zM318.7 269.0h0.8v0.8h-0.8zM315.1 265.2h0.8v0.8h-0.8zM306.2 285.9h0.8v0.8h-0.8zM312.9 270.5h0.8v0.8h-0.8zM317.2 263.9h0.8v0.8h-0.8z" fill="#243f88" stroke="none" stroke-width="1"/>
<path d="M290.4 272.1h0.8v0.8h-0.8zM297.4 269.7h0.8v0.8h-0.8zM285.6 270.5h0.8v0.8h-0.8zM291.3 271.1h0.8v0.8h-0.8zM305.0 256.2h0.8v0.8h-0.8zM292.0 272.8h0.8v0.8h-0.8zM295.0 253.2h0.8v0.8h-0.8zM294.1 272.4h0.8v0.8h-0.8zM299.7 252.7h0.8v0.8h-0.8zM298.4 252.7h0.8v0.8h-0.8zM306.2 253.5h0.8v0.8h-0.8zM303.9 262.0h0.8v0.8h-0.8zM287.0 269.0h0.8v0.8h-0.8zM297.1 253.0h0.8v0.8h-0.8zM295.1 254.8h0.8v0.8h-0.8zM287.2 262.8h0.8v0.8h-0.8zM300.3 252.6h0.8v0.8h-0.8zM303.7 262.7h0.8v0.8h-0.8zM295.9 270.3h0.8v0.8h-0.8zM300.2 252.3h0.8v0.8h-0.8zM305.2 260.7h0.8v0.8h-0.8zM289.4 272.9h0.8v0.8h-0.8zM307.2 259.4h0.8v0.8h-0.8zM304.4 253.8h0.8v0.8h-0.8zM286.6 268.1h0.8v0.8h-0.8zM286.9 267.6h0.8v0.8h-0.8zM287.7 259.8h0.8v0.8h-0.8zM292.4 254.3h0.8v0.8h-0.8zM304.4 252.9h0.8v0.8h-0.8zM304.9 255.3h0.8v0.8h-0.8zM306.9 260.7h0.8v0.8h-0.8zM287.6 266.8h0.8v0.8h-0.8zM286.7 264.0h0.8v0.8h-0.8zM306.5 256.7h0.8v0.8h-0.8zM306.6 255.7h0.8v0.8h-0.8zM287.2 271.0h0.8v0.8h-0.8zM295.3 271.1h0.8v0.8h-0.8zM306.2 256.9h0.8v0.8h-0.8zM288.5 258.6h0.8v0.8h-0.8zM305.8 254.9h0.8v0.8h-0.8zM290.1 258.0h0.8v0.8h-0.8zM286.9 270.7h0.8v0.8h-0.8zM294.1 254.3h0.8v0.8h-0.8zM306.0 258.1h0.8v0.8h-0.8zM293.9 255.4h0.8v0.8h-0.8zM302.8 266.5h0.8v0.8h-0.8zM297.0 270.3h0.8v0.8h-0.8zM306.0 257.9h0.8v0.8h-0.8zM299.0 252.4h0.8v0.8h-0.8zM297.8 268.5h0.8v0.8h-0.8zM304.2 265.0h0.8v0.8h-0.8zM303.1 251.8h0.8v0.8h-0.8zM295.4 253.1h0.8v0.8h-0.8zM287.5 263.1h0.8v0.8h-0.8zM305.0 255.3h0.8v0.8h-0.8zM293.9 255.6h0.8v0.8h-0.8zM301.8 265.1h0.8v0.8h-0.8zM300.3 250.9h0.8v0.8h-0.8zM294.4 271.3h0.8v0.8h-0.8zM291.3 271.8h0.8v0.8h-0.8zM303.8 254.3h0.8v0.8h-0.8zM294.2 255.4h0.8v0.8h-0.8zM295.3 254.3h0.8v0.8h-0.8zM302.7 263.7h0.8v0.8h-0.8zM290.6 256.9h0.8v0.8h-0.8zM306.0 261.1h0.8v0.8h-0.8zM288.2 271.3h0.8v0.8h-0.8zM300.0 267.2h0.8v0.8h-0.8zM306.2 252.2h0.8v0.8h-0.8zM290.5 272.0h0.8v0.8h-0.8zM291.4 272.4h0.8v0.8h-0.8zM291.9 256.6h0.8v0.8h-0.8zM290.4 258.2h0.8v0.8h-0.8zM290.0 258.1h0.8v0.8h-0.8zM304.0 262.1h0.8v0.8h-0.8zM294.3 270.6h0.8v0.8h-0.8zM298.1 253.0h0.8v0.8h-0.8zM301.8 267.7h0.8v0.8h-0.8zM305.1 256.1h0.8v0.8h-0.8zM306.9 254.3h0.8v0.8h-0.8zM305.1 253.2h0.8v0.8h-0.8zM295.8 269.8h0.8v0.8h-0.8zM288.0 260.2h0.8v0.8h-0.8zM302.4 267.2h0.8v0.8h-0.8zM288.1 271.7h0.8v0.8h-0.8zM287.9 260.0h0.8v0.8h-0.8zM290.6 270.6h0.8v0.8h-0.8zM307.7 255.7h0.8v0.8h-0.8zM308.1 257.4h0.8v0.8h-0.8zM289.3 260.3h0.8v0.8h-0.8zM294.0 271.4h0.8v0.8h-0.8zM294.9 252.7h0.8v0.8h-0.8zM306.7 255.6h0.8v0.8h-0.8zM296.8 253.1h0.8v0.8h-0.8zM286.4 264.1h0.8v0.8h-0.8zM290.3 271.2h0.8v0.8h-0.8zM287.8 270.6h0.8v0.8h-0.8zM295.0 271.2h0.8v0.8h-0.8zM305.4 257.1h0.8v0.8h-0.8zM288.8 260.2h0.8v0.8h-0.8zM292.7 272.9h0.8v0.8h-0.8zM287.3 268.8h0.8v0.8h-0.8zM305.2 261.2h0.8v0.8h-0.8zM288.1 262.3h0.8v0.8h-0.8zM288.3 259.7h0.8v0.8h-0.8zM303.7 253.3h0.8v0.8h-0.8zM292.1 271.5h0.8v0.8h-0.8zM292.1 270.8h0.8v0.8h-0.8zM287.0 266.9h0.8v0.8h-0.8zM288.8 258.2h0.8v0.8h-0.8zM304.2 261.6h0.8v0.8h-0.8zM287.6 268.1h0.8v0.8h-0.8zM292.6 271.0h0.8v0.8h-0.8zM291.5 270.3h0.8v0.8h-0.8zM299.7 267.8h0.8v0.8h-0.8zM301.4 251.2h0.8v0.8h-0.8zM302.1 252.0h0.8v0.8h-0.8zM303.0 264.7h0.8v0.8h-0.8zM305.6 256.5h0.8v0.8h-0.8zM287.7 260.4h0.8v0.8h-0.8zM291.1 272.3h0.8v0.8h-0.8zM286.1 266.5h0.8v0.8h-0.8zM290.8 258.0h0.8v0.8h-0.8zM307.1 260.9h0.8v0.8h-0.8zM301.1 252.0h0.8v0.8h-0.8zM301.1 250.7h0.8v0.8h-0.8zM303.4 265.8h0.8v0.8h-0.8zM307.8 254.1h0.8v0.8h-0.8zM305.9 254.0h0.8v0.8h-0.8zM293.3 254.3h0.8v0.8h-0.8zM302.8 264.1h0.8v0.8h-0.8zM302.0 264.6h0.8v0.8h-0.8zM305.1 255.3h0.8v0.8h-0.8zM289.4 258.7h0.8v0.8h-0.8zM298.6 282.6h0.8v0.8h-0.8zM299.0 283.7h0.8v0.8h-0.8zM299.2 283.0h0.8v0.8h-0.8zM304.9 277.7h0.8v0.8h-0.8zM309.2 276.8h0.8v0.8h-0.8zM297.9 287.6h0.8v0.8h-0.8zM299.2 283.5h0.8v0.8h-0.8zM303.3 282.5h0.8v0.8h-0.8zM308.0 276.7h0.8v0.8h-0.8zM300.3 284.2h0.8v0.8h-0.8zM304.5 277.1h0.8v0.8h-0.8zM303.8 278.7h0.8v0.8h-0.8zM308.8 274.5h0.8v0.8h-0.8zM296.3 287.5h0.8v0.8h-0.8zM306.8 280.6h0.8v0.8h-0.8zM300.5 286.7h0.8v0.8h-0.8zM299.1 286.8h0.8v0.8h-0.8zM305.8 280.2h0.8v0.8h-0.8zM310.4 275.8h0.8v0.8h-0.8zM304.3 278.8h0.8v0.8h-0.8zM298.7 283.3h0.8v0.8h-0.8zM303.0 281.5h0.8v0.8h-0.8zM307.8 275.1h0.8v0.8h-0.8zM299.3 283.5h0.8v0.8h-0.8zM303.9 277.6h0.8v0.8h-0.8zM304.7 281.2h0.8v0.8h-0.8zM306.4 280.8h0.8v0.8h-0.8zM306.3 279.5h0.8v0.8h-0.8zM305.9 278.7h0.8v0.8h-0.8zM298.2 283.5h0.8v0.8h-0.8zM299.9 281.3h0.8v0.8h-0.8zM301.1 283.7h0.8v0.8h-0.8zM305.0 280.9h0.8v0.8h-0.8zM305.5 282.6h0.8v0.8h-0.8zM304.9 279.3h0.8v0.8h-0.8zM307.9 278.4h0.8v0.8h-0.8zM300.8 281.0h0.8v0.8h-0.8zM309.5 278.2h0.8v0.8h-0.8zM304.9 281.7h0.8v0.8h-0.8zM300.6 283.7h0.8v0.8h-0.8zM305.4 281.5h0.8v0.8h-0.8zM303.6 280.7h0.8v0.8h-0.8zM302.5 280.0h0.8v0.8h-0.8zM310.0 278.8h0.8v0.8h-0.8zM299.2 285.4h0.8v0.8h-0.8zM305.9 276.1h0.8v0.8h-0.8zM301.3 281.7h0.8v0.8h-0.8zM305.2 281.0h0.8v0.8h-0.8zM305.2 283.1h0.8v0.8h-0.8zM308.1 279.7h0.8v0.8h-0.8zM306.2 276.7h0.8v0.8h-0.8zM301.2 281.1h0.8v0.8h-0.8zM299.4 284.8h0.8v0.8h-0.8zM305.1 282.1h0.8v0.8h-0.8zM309.3 278.2h0.8v0.8h-0.8zM305.7 278.8h0.8v0.8h-0.8zM302.3 279.6h0.8v0.8h-0.8zM305.4 279.7h0.8v0.8h-0.8zM305.0 277.3h0.8v0.8h-0.8zM304.6 280.5h0.8v0.8h-0.8zM308.5 280.5h0.8v0.8h-0.8zM307.5 276.9h0.8v0.8h-0.8zM300.8 282.6h0.8v0.8h-0.8zM302.3 280.1h0.8v0.8h-0.8zM307.0 279.2h0.8v0.8h-0.8zM297.4 283.6h0.8v0.8h-0.8zM304.7 282.4h0.8v0.8h-0.8zM305.5 280.8h0.8v0.8h-0.8zM302.0 279.1h0.8v0.8h-0.8zM303.4 280.2h0.8v0.8h-0.8zM305.1 277.3h0.8v0.8h-0.8zM303.2 281.5h0.8v0.8h-0.8zM309.4 274.7h0.8v0.8h-0.8zM299.6 283.8h0.8v0.8h-0.8zM303.0 284.9h0.8v0.8h-0.8zM295.1 286.4h0.8v0.8h-0.8zM300.5 285.9h0.8v0.8h-0.8zM299.0 287.0h0.8v0.8h-0.8zM302.8 280.8h0.8v0.8h-0.8zM299.3 287.3h0.8v0.8h-0.8zM300.2 281.4h0.8v0.8h-0.8zM311.3 274.9h0.8v0.8h-0.8zM307.4 276.7h0.8v0.8h-0.8zM310.3 275.3h0.8v0.8h-0.8zM309.1 274.5h0.8v0.8h-0.8zM304.5 264.2h0.8v0.8h-0.8zM302.6 266.2h0.8v0.8h-0.8zM307.4 278.5h0.8v0.8h-0.8z" fill="#2d66a8" stroke="none" stroke-width="1"/>
<path d="M301.7 262.6h1v1h-1zM296.8 267.7h1v1h-1zM293.9 256.0h1v1h-1zM299.6 265.3h1v1h-1zM303.6 256.3h1v1h-1zM293.0 258.0h1v1h-1zM290.4 260.7h1v1h-1zM289.7 269.4h1v1h-1zM304.2 256.8h1v1h-1zM293.3 269.9h1v1h-1zM294.3 268.7h1v1h-1zM301.5 254.0h1v1h-1zM289.1 268.1h1v1h-1zM303.5 259.0h1v1h-1zM297.5 254.2h1v1h-1zM299.6 266.5h1v1h-1zM303.8 258.1h1v1h-1zM302.2 254.7h1v1h-1zM295.2 268.2h1v1h-1zM301.8 254.6h1v1h-1zM299.8 265.2h1v1h-1zM290.1 267.7h1v1h-1zM291.6 259.5h1v1h-1zM296.2 267.5h1v1h-1zM302.7 259.4h1v1h-1zM289.6 264.1h1v1h-1zM288.4 268.8h1v1h-1zM291.4 268.5h1v1h-1zM303.9 257.5h1v1h-1zM303.6 261.3h1v1h-1zM289.7 263.7h1v1h-1zM291.9 259.2h1v1h-1zM293.5 268.3h1v1h-1zM290.4 260.1h1v1h-1zM304.7 257.0h1v1h-1zM297.8 254.3h1v1h-1zM301.1 255.6h1v1h-1zM291.0 268.0h1v1h-1zM289.3 265.2h1v1h-1zM292.0 258.0h1v1h-1zM291.0 259.3h1v1h-1zM298.6 254.5h1v1h-1zM289.2 261.2h1v1h-1zM288.4 266.8h1v1h-1zM288.1 264.1h1v1h-1zM290.1 267.7h1v1h-1zM289.4 269.6h1v1h-1zM292.9 257.6h1v1h-1zM288.9 261.7h1v1h-1zM300.8 263.9h1v1h-1zM298.7 253.8h1v1h-1zM303.7 254.3h1v1h-1zM300.6 253.5h1v1h-1zM302.1 255.7h1v1h-1zM300.2 255.3h1v1h-1zM292.1 258.0h1v1h-1zM292.7 268.6h1v1h-1zM289.2 268.5h1v1h-1zM303.9 255.7h1v1h-1zM288.3 268.4h1v1h-1zM301.3 253.5h1v1h-1zM291.1 268.6h1v1h-1zM288.0 263.6h1v1h-1zM289.3 267.6h1v1h-1zM301.4 254.5h1v1h-1zM301.9 253.9h1v1h-1zM289.0 269.0h1v1h-1zM301.2 254.8h1v1h-1zM299.6 266.8h1v1h-1zM299.7 254.4h1v1h-1zM302.4 256.9h1v1h-1zM288.1 264.3h1v1h-1zM294.7 255.9h1v1h-1zM301.4 255.3h1v1h-1zM288.4 265.2h1v1h-1zM299.3 265.8h1v1h-1zM294.3 257.1h1v1h-1zM293.3 268.7h1v1h-1zM303.2 261.8h1v1h-1zM296.8 267.5h1v1h-1zM302.1 256.4h1v1h-1zM303.4 258.5h1v1h-1zM294.4 268.1h1v1h-1zM299.1 254.5h1v1h-1zM302.6 257.1h1v1h-1zM289.1 264.8h1v1h-1zM292.2 269.1h1v1h-1zM291.6 269.9h1v1h-1zM302.9 256.1h1v1h-1zM297.6 255.4h1v1h-1zM301.8 255.7h1v1h-1zM288.0 265.9h1v1h-1zM300.4 264.5h1v1h-1zM303.6 258.7h1v1h-1zM302.9 255.6h1v1h-1zM301.2 253.3h1v1h-1zM302.1 256.4h1v1h-1zM301.4 263.5h1v1h-1zM289.1 268.5h1v1h-1zM293.3 256.3h1v1h-1zM294.1 257.5h1v1h-1zM299.1 266.5h1v1h-1zM288.0 263.9h1v1h-1zM301.1 264.1h1v1h-1zM290.0 260.8h1v1h-1zM303.1 257.7h1v1h-1zM298.6 267.7h1v1h-1zM296.8 255.1h1v1h-1zM295.2 269.6h1v1h-1zM303.5 259.3h1v1h-1zM292.2 258.0h1v1h-1zM293.3 257.6h1v1h-1zM302.7 253.9h1v1h-1zM301.7 263.4h1v1h-1zM302.7 260.9h1v1h-1zM292.9 256.8h1v1h-1zM296.9 254.5h1v1h-1zM296.9 268.0h1v1h-1zM293.2 256.4h1v1h-1zM302.3 262.8h1v1h-1zM302.9 259.2h1v1h-1zM289.0 268.4h1v1h-1zM301.6 264.2h1v1h-1zM303.1 261.8h1v1h-1zM294.7 256.9h1v1h-1zM288.9 265.5h1v1h-1zM303.8 259.8h1v1h-1zM303.6 254.9h1v1h-1zM302.1 255.7h1v1h-1zM299.3 265.9h1v1h-1zM288.6 266.1h1v1h-1zM301.3 263.6h1v1h-1zM290.5 259.3h1v1h-1zM293.8 256.4h1v1h-1zM299.8 255.3h1v1h-1zM303.1 258.1h1v1h-1zM294.5 257.0h1v1h-1zM302.7 257.5h1v1h-1zM297.5 255.1h1v1h-1zM298.4 255.0h1v1h-1zM301.0 254.9h1v1h-1zM299.0 267.1h1v1h-1zM300.8 264.9h1v1h-1z" fill="#2f9a96" stroke="none" stroke-width="1"/>
<path d="M291.0 265.8h1v1h-1zM302.2 258.0h1v1h-1zM301.4 257.8h1v1h-1zM290.5 264.9h1v1h-1zM291.0 262.9h1v1h-1zM291.2 261.5h1v1h-1zM292.8 266.4h1v1h-1zM301.6 261.4h1v1h-1zM290.0 265.1h1v1h-1zM301.5 257.3h1v1h-1zM301.8 259.0h1v1h-1zM297.8 265.6h1v1h-1zM299.5 264.5h1v1h-1zM300.8 257.2h1v1h-1zM293.9 267.4h1v1h-1zM301.0 260.0h1v1h-1zM298.3 264.5h1v1h-1zM291.3 267.9h1v1h-1zM298.2 264.9h1v1h-1zM299.9 264.4h1v1h-1zM300.0 256.3h1v1h-1zM299.5 257.0h1v1h-1zM296.2 256.5h1v1h-1zM292.8 258.9h1v1h-1zM300.0 256.9h1v1h-1zM298.4 265.1h1v1h-1zM295.1 267.5h1v1h-1zM301.1 262.2h1v1h-1zM293.5 258.1h1v1h-1zM298.7 256.2h1v1h-1zM301.5 260.4h1v1h-1zM293.4 268.2h1v1h-1zM300.9 261.8h1v1h-1zM291.4 266.0h1v1h-1zM290.2 265.8h1v1h-1zM291.4 261.2h1v1h-1zM292.5 266.8h1v1h-1zM300.7 262.9h1v1h-1zM295.4 257.3h1v1h-1zM293.7 267.0h1v1h-1zM297.4 266.3h1v1h-1zM301.1 261.7h1v1h-1zM296.6 266.0h1v1h-1zM300.5 257.4h1v1h-1zM300.6 263.4h1v1h-1zM301.3 259.5h1v1h-1zM294.2 266.7h1v1h-1zM302.1 260.9h1v1h-1zM300.7 260.9h1v1h-1zM291.4 266.7h1v1h-1zM290.4 266.9h1v1h-1zM301.4 257.2h1v1h-1zM302.0 261.0h1v1h-1zM295.4 256.7h1v1h-1zM301.4 256.6h1v1h-1zM292.8 266.5h1v1h-1zM300.5 261.2h1v1h-1zM294.6 267.2h1v1h-1zM294.9 267.3h1v1h-1zM292.4 259.6h1v1h-1zM292.1 266.6h1v1h-1zM291.8 262.3h1v1h-1zM290.6 265.4h1v1h-1zM293.1 259.2h1v1h-1zM294.6 266.7h1v1h-1zM293.5 267.8h1v1h-1zM298.2 256.0h1v1h-1zM291.7 262.6h1v1h-1zM297.1 266.5h1v1h-1zM297.8 256.0h1v1h-1zM295.7 267.0h1v1h-1zM299.5 263.9h1v1h-1zM300.9 261.3h1v1h-1zM301.2 258.7h1v1h-1zM291.3 262.1h1v1h-1zM294.7 266.7h1v1h-1zM297.5 265.3h1v1h-1zM295.5 257.3h1v1h-1zM301.9 257.9h1v1h-1zM299.9 262.8h1v1h-1zM299.5 264.5h1v1h-1zM292.3 268.3h1v1h-1zM291.2 263.8h1v1h-1zM296.3 266.2h1v1h-1zM302.2 259.3h1v1h-1zM291.8 260.4h1v1h-1zM299.2 264.3h1v1h-1zM290.7 265.1h1v1h-1zM291.1 264.5h1v1h-1zM298.9 256.8h1v1h-1zM297.1 256.4h1v1h-1zM299.3 263.6h1v1h-1zM295.1 267.2h1v1h-1zM302.1 259.8h1v1h-1zM298.8 256.7h1v1h-1zM299.5 263.7h1v1h-1zM291.0 266.3h1v1h-1zM291.5 263.1h1v1h-1zM292.1 267.7h1v1h-1zM301.4 260.6h1v1h-1zM301.7 259.4h1v1h-1zM291.3 266.5h1v1h-1zM300.9 259.0h1v1h-1zM291.7 266.0h1v1h-1zM302.4 259.9h1v1h-1zM291.1 263.0h1v1h-1zM290.7 263.2h1v1h-1zM290.3 263.8h1v1h-1zM300.3 257.7h1v1h-1zM300.9 260.1h1v1h-1zM290.0 263.6h1v1h-1zM290.9 265.1h1v1h-1zM290.5 262.8h1v1h-1zM302.3 257.4h1v1h-1zM292.7 259.2h1v1h-1zM292.7 259.3h1v1h-1zM290.2 265.8h1v1h-1zM293.4 259.7h1v1h-1zM297.3 257.3h1v1h-1zM291.3 264.6h1v1h-1zM296.4 266.6h1v1h-1zM294.9 266.5h1v1h-1zM300.6 255.9h1v1h-1zM301.2 257.8h1v1h-1zM301.4 256.7h1v1h-1zM301.0 262.7h1v1h-1zM291.2 260.7h1v1h-1zM291.0 263.2h1v1h-1zM293.7 267.4h1v1h-1zM298.5 255.7h1v1h-1zM299.4 264.4h1v1h-1zM295.4 266.4h1v1h-1zM300.9 262.1h1v1h-1zM301.7 260.5h1v1h-1zM298.4 264.3h1v1h-1zM301.2 259.9h1v1h-1zM292.5 259.7h1v1h-1zM291.0 260.9h1v1h-1zM290.2 263.3h1v1h-1zM298.5 256.3h1v1h-1zM290.4 262.9h1v1h-1zM301.5 259.6h1v1h-1zM292.7 267.9h1v1h-1zM290.5 263.6h1v1h-1zM294.1 258.6h1v1h-1zM302.4 257.1h1v1h-1zM300.0 255.6h1v1h-1zM295.7 256.4h1v1h-1zM297.9 265.4h1v1h-1zM301.0 257.4h1v1h-1zM300.5 263.2h1v1h-1zM299.6 263.2h1v1h-1zM294.8 267.9h1v1h-1zM296.0 257.1h1v1h-1zM300.9 261.7h1v1h-1zM299.1 265.2h1v1h-1zM295.9 266.8h1v1h-1zM296.9 256.4h1v1h-1zM296.3 257.6h1v1h-1zM302.6 257.7h1v1h-1zM299.3 256.0h1v1h-1zM300.5 257.1h1v1h-1z" fill="#48ad52" stroke="none" stroke-width="1"/>
<path d="M299.6 261.0h1v1h-1zM296.6 257.8h1v1h-1zM299.5 259.7h1v1h-1zM293.2 260.3h1v1h-1zM297.1 257.5h1v1h-1zM295.6 258.4h1v1h-1zM299.8 261.1h1v1h-1zM299.2 262.2h1v1h-1zM291.7 264.0h1v1h-1zM295.6 265.8h1v1h-1zM296.0 265.3h1v1h-1zM300.0 258.7h1v1h-1zM298.4 263.3h1v1h-1zM298.7 262.7h1v1h-1zM293.8 260.8h1v1h-1zM295.7 258.9h1v1h-1zM298.1 264.3h1v1h-1zM293.8 265.4h1v1h-1zM298.1 264.1h1v1h-1zM298.5 257.9h1v1h-1zM299.9 259.8h1v1h-1zM299.5 262.9h1v1h-1zM300.3 258.1h1v1h-1zM300.1 260.4h1v1h-1zM295.5 258.6h1v1h-1zM292.2 265.1h1v1h-1zM299.4 259.6h1v1h-1zM296.5 265.6h1v1h-1zM293.9 259.5h1v1h-1zM293.0 264.9h1v1h-1zM297.2 264.7h1v1h-1zM299.6 258.4h1v1h-1zM296.6 265.0h1v1h-1zM293.6 260.3h1v1h-1zM300.1 259.7h1v1h-1zM293.7 260.6h1v1h-1zM299.7 261.5h1v1h-1zM293.4 259.9h1v1h-1zM300.1 259.4h1v1h-1zM292.2 261.8h1v1h-1zM297.2 258.4h1v1h-1zM293.1 266.2h1v1h-1zM297.8 257.6h1v1h-1zM298.0 264.1h1v1h-1zM292.8 264.9h1v1h-1zM299.2 258.1h1v1h-1zM292.6 265.3h1v1h-1zM298.2 263.8h1v1h-1zM300.2 259.3h1v1h-1zM296.6 258.5h1v1h-1zM297.4 264.5h1v1h-1zM299.0 258.2h1v1h-1zM299.8 261.0h1v1h-1zM294.6 265.8h1v1h-1zM298.3 263.7h1v1h-1zM293.7 266.2h1v1h-1zM293.0 261.6h1v1h-1zM292.7 265.1h1v1h-1zM299.4 257.6h1v1h-1zM295.6 258.8h1v1h-1zM292.9 265.1h1v1h-1zM298.7 257.2h1v1h-1zM298.6 258.5h1v1h-1zM298.1 257.8h1v1h-1zM295.7 265.8h1v1h-1zM296.4 265.5h1v1h-1zM294.6 266.0h1v1h-1zM296.1 258.0h1v1h-1zM293.9 260.4h1v1h-1zM298.0 264.0h1v1h-1zM292.4 265.3h1v1h-1zM300.2 258.8h1v1h-1zM299.3 261.0h1v1h-1zM299.3 261.4h1v1h-1zM292.6 262.3h1v1h-1zM300.2 258.0h1v1h-1zM293.1 261.8h1v1h-1zM296.4 264.9h1v1h-1zM293.9 266.4h1v1h-1zM295.2 265.4h1v1h-1zM293.7 260.6h1v1h-1zM293.6 265.1h1v1h-1zM300.0 261.4h1v1h-1zM294.8 259.4h1v1h-1zM295.8 259.1h1v1h-1zM299.8 260.9h1v1h-1zM292.6 265.5h1v1h-1zM293.5 265.3h1v1h-1zM297.6 257.7h1v1h-1zM298.9 263.1h1v1h-1zM295.0 258.9h1v1h-1zM293.8 265.3h1v1h-1zM295.6 258.6h1v1h-1zM299.6 261.2h1v1h-1zM292.3 263.7h1v1h-1zM294.1 266.2h1v1h-1zM294.1 266.0h1v1h-1zM295.5 259.3h1v1h-1zM296.6 265.6h1v1h-1zM293.0 260.8h1v1h-1zM298.7 258.4h1v1h-1zM297.6 264.2h1v1h-1zM299.5 260.7h1v1h-1zM291.7 263.0h1v1h-1zM294.2 260.0h1v1h-1zM299.7 258.7h1v1h-1zM292.3 264.7h1v1h-1zM299.1 258.9h1v1h-1zM297.0 264.5h1v1h-1zM298.9 263.0h1v1h-1zM297.2 258.1h1v1h-1zM299.4 262.7h1v1h-1zM292.9 264.5h1v1h-1zM296.0 265.0h1v1h-1zM299.5 260.7h1v1h-1zM293.9 265.9h1v1h-1zM292.0 262.9h1v1h-1zM299.3 262.7h1v1h-1zM293.6 266.0h1v1h-1zM300.0 257.7h1v1h-1zM293.6 266.1h1v1h-1zM299.5 261.0h1v1h-1zM293.8 265.0h1v1h-1z" fill="#a2c238" stroke="none" stroke-width="1"/>
<path d="M296.1 264.6h1v1h-1zM294.0 262.2h1v1h-1zM298.2 260.7h1v1h-1zM298.4 261.6h1v1h-1zM294.0 263.3h1v1h-1zM298.1 259.5h1v1h-1zM298.2 262.0h1v1h-1zM298.1 259.0h1v1h-1zM298.2 262.8h1v1h-1zM298.6 259.3h1v1h-1zM292.9 263.0h1v1h-1zM295.4 264.6h1v1h-1zM298.4 260.8h1v1h-1zM295.8 259.3h1v1h-1zM293.0 264.3h1v1h-1zM298.9 261.2h1v1h-1zM296.0 259.4h1v1h-1zM293.3 262.1h1v1h-1zM297.0 263.7h1v1h-1zM297.0 263.7h1v1h-1zM299.1 260.9h1v1h-1zM297.4 259.5h1v1h-1zM298.7 260.2h1v1h-1zM297.4 263.7h1v1h-1zM298.4 259.2h1v1h-1zM294.1 262.1h1v1h-1zM293.9 262.3h1v1h-1zM293.9 264.6h1v1h-1zM297.9 259.2h1v1h-1zM296.0 259.6h1v1h-1zM297.5 259.2h1v1h-1zM298.7 262.0h1v1h-1zM293.9 264.9h1v1h-1zM297.7 262.4h1v1h-1zM295.8 264.1h1v1h-1zM298.0 259.3h1v1h-1zM299.0 260.9h1v1h-1zM297.8 259.3h1v1h-1zM297.8 258.6h1v1h-1zM295.2 260.6h1v1h-1zM296.8 263.3h1v1h-1zM293.5 262.0h1v1h-1zM298.0 259.8h1v1h-1zM297.6 259.5h1v1h-1zM298.4 260.5h1v1h-1zM293.7 262.4h1v1h-1zM298.0 262.5h1v1h-1zM295.7 259.3h1v1h-1zM296.0 259.6h1v1h-1zM293.9 264.4h1v1h-1zM293.8 262.4h1v1h-1zM297.9 259.2h1v1h-1zM297.5 258.8h1v1h-1zM294.4 260.3h1v1h-1zM295.6 259.6h1v1h-1zM299.2 259.5h1v1h-1zM298.8 259.7h1v1h-1zM297.5 263.4h1v1h-1zM297.8 259.1h1v1h-1zM297.5 262.9h1v1h-1zM295.7 264.7h1v1h-1zM298.3 261.0h1v1h-1zM296.3 259.8h1v1h-1zM295.6 259.3h1v1h-1zM296.7 259.7h1v1h-1zM298.7 261.8h1v1h-1zM297.3 259.7h1v1h-1zM298.5 262.2h1v1h-1zM299.0 259.7h1v1h-1zM293.5 264.7h1v1h-1zM293.1 263.9h1v1h-1zM295.2 260.4h1v1h-1zM299.0 259.8h1v1h-1z" fill="#e29a2c" stroke="none" stroke-width="1"/>
<path d="M297.2 260.5h1v1h-1zM294.4 261.9h1v1h-1zM297.9 260.8h1v1h-1zM295.8 263.6h1v1h-1zM294.7 262.9h1v1h-1zM295.7 263.2h1v1h-1zM296.8 261.8h1v1h-1zM294.9 262.8h1v1h-1zM295.2 261.6h1v1h-1zM297.8 261.1h1v1h-1zM295.8 262.9h1v1h-1zM296.4 262.5h1v1h-1zM297.0 261.2h1v1h-1zM296.7 262.5h1v1h-1zM295.5 262.4h1v1h-1zM295.1 262.5h1v1h-1zM294.9 263.1h1v1h-1zM296.5 263.1h1v1h-1zM294.8 261.4h1v1h-1zM296.4 263.2h1v1h-1zM296.2 260.9h1v1h-1zM295.8 262.0h1v1h-1zM297.9 261.3h1v1h-1zM295.1 262.3h1v1h-1zM296.1 262.9h1v1h-1zM296.8 262.5h1v1h-1zM297.5 261.7h1v1h-1zM295.2 261.3h1v1h-1zM296.3 262.0h1v1h-1zM296.4 260.7h1v1h-1zM295.3 261.1h1v1h-1zM297.7 260.6h1v1h-1zM296.7 260.8h1v1h-1zM296.9 263.0h1v1h-1zM294.5 263.6h1v1h-1zM295.2 261.2h1v1h-1zM294.5 263.3h1v1h-1zM294.3 263.5h1v1h-1zM295.0 261.2h1v1h-1zM295.9 262.3h1v1h-1zM294.9 262.1h1v1h-1zM296.8 262.6h1v1h-1zM296.2 261.1h1v1h-1zM297.1 261.8h1v1h-1zM297.4 260.8h1v1h-1zM297.3 261.5h1v1h-1zM296.3 260.8h1v1h-1zM295.4 263.4h1v1h-1zM295.6 263.7h1v1h-1zM296.3 263.1h1v1h-1zM295.2 260.6h1v1h-1zM298.0 261.3h1v1h-1zM295.7 262.1h1v1h-1z" fill="#dc5528" stroke="none" stroke-width="1"/>
<rect x="256.3" y="224.6" width="87" height="87" fill="none" stroke="#333" stroke-width="0.8"/>
<line x1="256.3" y1="275.6" x2="343.3" y2="275.6" stroke="#333" stroke-width="0.8"/>
<line x1="331.6" y1="248.1" x2="331.6" y2="311.6" stroke="#333" stroke-width="0.8"/>
<text x="258.5" y="235.8" font-size="6" fill="#222">Q1</text>
<text x="258.5" y="244.4" font-size="6" fill="#222">96.5</text>
<text x="326.3" y="235.8" font-size="6" fill="#222">Q2</text>
<text x="335.9" y="244.4" font-size="6" text-anchor="end" fill="#222">0</text>
<text x="258.5" y="297.1" font-size="6" fill="#222">Q4</text>
<text x="258.5" y="305.7" font-size="6" fill="#222">3.51</text>
<text x="326.3" y="297.1" font-size="6" fill="#222">Q3</text>
<text x="335.9" y="305.7" font-size="6" text-anchor="end" fill="#222">0</text>
<line x1="254.5" y1="234.1" x2="256.3" y2="234.1" stroke="#444" stroke-width="0.5"/>
<text x="253.1" y="235.1" font-size="3" text-anchor="end" fill="#555">10</text>
<line x1="254.5" y1="256.1" x2="256.3" y2="256.1" stroke="#444" stroke-width="0.5"/>
<text x="253.1" y="257.1" font-size="3" text-anchor="end" fill="#555">10</text>
<line x1="254.5" y1="277.6" x2="256.3" y2="277.6" stroke="#444" stroke-width="0.5"/>
<text x="253.1" y="278.6" font-size="3" text-anchor="end" fill="#555">10</text>
<line x1="254.5" y1="300.1" x2="256.3" y2="300.1" stroke="#444" stroke-width="0.5"/>
<text x="253.1" y="301.1" font-size="3" text-anchor="end" fill="#555">10</text>
<line x1="271.3" y1="311.6" x2="271.3" y2="313.4" stroke="#444" stroke-width="0.5"/>
<text x="271.3" y="317.1" font-size="3" text-anchor="middle" fill="#555">10</text>
<line x1="301.3" y1="311.6" x2="301.3" y2="313.4" stroke="#444" stroke-width="0.5"/>
<text x="301.3" y="317.1" font-size="3" text-anchor="middle" fill="#555">10</text>
<line x1="331.3" y1="311.6" x2="331.3" y2="313.4" stroke="#444" stroke-width="0.5"/>
<text x="331.3" y="317.1" font-size="3" text-anchor="middle" fill="#555">10</text>
<line x1="259.3" y1="311.6" x2="259.3" y2="312.5" stroke="#666" stroke-width="0.35"/>
<line x1="255.4" y1="227.6" x2="256.3" y2="227.6" stroke="#666" stroke-width="0.35"/>
<line x1="262.3" y1="311.6" x2="262.3" y2="312.5" stroke="#666" stroke-width="0.35"/>
<line x1="255.4" y1="230.6" x2="256.3" y2="230.6" stroke="#666" stroke-width="0.35"/>
<line x1="265.3" y1="311.6" x2="265.3" y2="312.5" stroke="#666" stroke-width="0.35"/>
<line x1="255.4" y1="233.6" x2="256.3" y2="233.6" stroke="#666" stroke-width="0.35"/>
<line x1="268.3" y1="311.6" x2="268.3" y2="312.5" stroke="#666" stroke-width="0.35"/>
<line x1="255.4" y1="236.6" x2="256.3" y2="236.6" stroke="#666" stroke-width="0.35"/>
<line x1="271.3" y1="311.6" x2="271.3" y2="312.5" stroke="#666" stroke-width="0.35"/>
<line x1="255.4" y1="239.6" x2="256.3" y2="239.6" stroke="#666" stroke-width="0.35"/>
<line x1="274.3" y1="311.6" x2="274.3" y2="312.5" stroke="#666" stroke-width="0.35"/>
<line x1="255.4" y1="242.6" x2="256.3" y2="242.6" stroke="#666" stroke-width="0.35"/>
<line x1="277.3" y1="311.6" x2="277.3" y2="312.5" stroke="#666" stroke-width="0.35"/>
<line x1="255.4" y1="245.6" x2="256.3" y2="245.6" stroke="#666" stroke-width="0.35"/>
<line x1="280.3" y1="311.6" x2="280.3" y2="312.5" stroke="#666" stroke-width="0.35"/>
<line x1="255.4" y1="248.6" x2="256.3" y2="248.6" stroke="#666" stroke-width="0.35"/>
<line x1="283.3" y1="311.6" x2="283.3" y2="312.5" stroke="#666" stroke-width="0.35"/>
<line x1="255.4" y1="251.6" x2="256.3" y2="251.6" stroke="#666" stroke-width="0.35"/>
<line x1="286.3" y1="311.6" x2="286.3" y2="312.5" stroke="#666" stroke-width="0.35"/>
<line x1="255.4" y1="254.6" x2="256.3" y2="254.6" stroke="#666" stroke-width="0.35"/>
<line x1="289.3" y1="311.6" x2="289.3" y2="312.5" stroke="#666" stroke-width="0.35"/>
<line x1="255.4" y1="257.6" x2="256.3" y2="257.6" stroke="#666" stroke-width="0.35"/>
<line x1="292.3" y1="311.6" x2="292.3" y2="312.5" stroke="#666" stroke-width="0.35"/>
<line x1="255.4" y1="260.6" x2="256.3" y2="260.6" stroke="#666" stroke-width="0.35"/>
<line x1="295.3" y1="311.6" x2="295.3" y2="312.5" stroke="#666" stroke-width="0.35"/>
<line x1="255.4" y1="263.6" x2="256.3" y2="263.6" stroke="#666" stroke-width="0.35"/>
<line x1="298.3" y1="311.6" x2="298.3" y2="312.5" stroke="#666" stroke-width="0.35"/>
<line x1="255.4" y1="266.6" x2="256.3" y2="266.6" stroke="#666" stroke-width="0.35"/>
<line x1="301.3" y1="311.6" x2="301.3" y2="312.5" stroke="#666" stroke-width="0.35"/>
<line x1="255.4" y1="269.6" x2="256.3" y2="269.6" stroke="#666" stroke-width="0.35"/>
<line x1="304.3" y1="311.6" x2="304.3" y2="312.5" stroke="#666" stroke-width="0.35"/>
<line x1="255.4" y1="272.6" x2="256.3" y2="272.6" stroke="#666" stroke-width="0.35"/>
<line x1="307.3" y1="311.6" x2="307.3" y2="312.5" stroke="#666" stroke-width="0.35"/>
<line x1="255.4" y1="275.6" x2="256.3" y2="275.6" stroke="#666" stroke-width="0.35"/>
<line x1="310.3" y1="311.6" x2="310.3" y2="312.5" stroke="#666" stroke-width="0.35"/>
<line x1="255.4" y1="278.6" x2="256.3" y2="278.6" stroke="#666" stroke-width="0.35"/>
<line x1="313.3" y1="311.6" x2="313.3" y2="312.5" stroke="#666" stroke-width="0.35"/>
<line x1="255.4" y1="281.6" x2="256.3" y2="281.6" stroke="#666" stroke-width="0.35"/>
<line x1="316.3" y1="311.6" x2="316.3" y2="312.5" stroke="#666" stroke-width="0.35"/>
<line x1="255.4" y1="284.6" x2="256.3" y2="284.6" stroke="#666" stroke-width="0.35"/>
<line x1="319.3" y1="311.6" x2="319.3" y2="312.5" stroke="#666" stroke-width="0.35"/>
<line x1="255.4" y1="287.6" x2="256.3" y2="287.6" stroke="#666" stroke-width="0.35"/>
<line x1="322.3" y1="311.6" x2="322.3" y2="312.5" stroke="#666" stroke-width="0.35"/>
<line x1="255.4" y1="290.6" x2="256.3" y2="290.6" stroke="#666" stroke-width="0.35"/>
<line x1="325.3" y1="311.6" x2="325.3" y2="312.5" stroke="#666" stroke-width="0.35"/>
<line x1="255.4" y1="293.6" x2="256.3" y2="293.6" stroke="#666" stroke-width="0.35"/>
<line x1="328.3" y1="311.6" x2="328.3" y2="312.5" stroke="#666" stroke-width="0.35"/>
<line x1="255.4" y1="296.6" x2="256.3" y2="296.6" stroke="#666" stroke-width="0.35"/>
<line x1="331.3" y1="311.6" x2="331.3" y2="312.5" stroke="#666" stroke-width="0.35"/>
<line x1="255.4" y1="299.6" x2="256.3" y2="299.6" stroke="#666" stroke-width="0.35"/>
<line x1="334.3" y1="311.6" x2="334.3" y2="312.5" stroke="#666" stroke-width="0.35"/>
<line x1="255.4" y1="302.6" x2="256.3" y2="302.6" stroke="#666" stroke-width="0.35"/>
<line x1="337.3" y1="311.6" x2="337.3" y2="312.5" stroke="#666" stroke-width="0.35"/>
<line x1="255.4" y1="305.6" x2="256.3" y2="305.6" stroke="#666" stroke-width="0.35"/>
<line x1="340.3" y1="311.6" x2="340.3" y2="312.5" stroke="#666" stroke-width="0.35"/>
<line x1="255.4" y1="308.6" x2="256.3" y2="308.6" stroke="#666" stroke-width="0.35"/>
<line x1="343.3" y1="311.6" x2="343.3" y2="312.5" stroke="#666" stroke-width="0.35"/>
<line x1="255.4" y1="311.6" x2="256.3" y2="311.6" stroke="#666" stroke-width="0.35"/>
<text x="198.7" y="331.3" font-size="11.4" text-anchor="middle" fill="#111">shNC</text>
<path d="M204.6 374.8h0.8v0.8h-0.8zM192.5 381.7h0.8v0.8h-0.8zM204.1 378.6h0.8v0.8h-0.8zM187.0 368.6h0.8v0.8h-0.8zM184.4 371.8h0.8v0.8h-0.8zM202.6 356.1h0.8v0.8h-0.8zM183.9 380.9h0.8v0.8h-0.8zM194.8 382.2h0.8v0.8h-0.8zM184.5 374.7h0.8v0.8h-0.8zM194.6 382.9h0.8v0.8h-0.8zM190.0 360.8h0.8v0.8h-0.8zM200.0 359.1h0.8v0.8h-0.8zM185.4 378.6h0.8v0.8h-0.8zM199.4 359.3h0.8v0.8h-0.8zM184.9 369.2h0.8v0.8h-0.8zM194.6 382.4h0.8v0.8h-0.8zM199.0 381.5h0.8v0.8h-0.8zM192.0 382.0h0.8v0.8h-0.8zM207.0 357.8h0.8v0.8h-0.8zM185.9 384.9h0.8v0.8h-0.8zM186.3 367.0h0.8v0.8h-0.8zM187.3 368.0h0.8v0.8h-0.8zM188.0 380.1h0.8v0.8h-0.8zM187.3 370.1h0.8v0.8h-0.8zM197.8 357.9h0.8v0.8h-0.8zM195.6 360.7h0.8v0.8h-0.8zM199.0 357.2h0.8v0.8h-0.8zM204.2 358.6h0.8v0.8h-0.8zM184.8 378.7h0.8v0.8h-0.8zM192.7 363.4h0.8v0.8h-0.8zM199.7 356.2h0.8v0.8h-0.8zM196.8 359.6h0.8v0.8h-0.8zM185.0 365.4h0.8v0.8h-0.8zM185.6 379.6h0.8v0.8h-0.8zM183.5 375.4h0.8v0.8h-0.8zM191.2 360.7h0.8v0.8h-0.8zM196.4 382.6h0.8v0.8h-0.8zM185.2 369.1h0.8v0.8h-0.8zM197.2 380.4h0.8v0.8h-0.8zM185.5 371.4h0.8v0.8h-0.8zM186.6 377.6h0.8v0.8h-0.8zM192.3 382.4h0.8v0.8h-0.8zM186.6 373.3h0.8v0.8h-0.8zM186.5 377.0h0.8v0.8h-0.8zM196.4 383.9h0.8v0.8h-0.8zM193.4 382.8h0.8v0.8h-0.8zM213.3 358.8h0.8v0.8h-0.8zM213.5 355.7h0.8v0.8h-0.8zM204.6 357.9h0.8v0.8h-0.8zM209.2 359.1h0.8v0.8h-0.8zM223.3 350.7h0.8v0.8h-0.8zM216.2 357.6h0.8v0.8h-0.8zM212.7 352.3h0.8v0.8h-0.8zM222.9 353.0h0.8v0.8h-0.8zM216.4 353.4h0.8v0.8h-0.8zM209.6 353.0h0.8v0.8h-0.8zM209.7 359.0h0.8v0.8h-0.8zM224.2 365.9h0.8v0.8h-0.8zM205.0 357.9h0.8v0.8h-0.8zM203.1 356.9h0.8v0.8h-0.8zM214.6 355.4h0.8v0.8h-0.8zM204.1 376.1h0.8v0.8h-0.8zM225.6 361.8h0.8v0.8h-0.8zM209.4 355.2h0.8v0.8h-0.8zM207.4 377.8h0.8v0.8h-0.8zM206.8 354.6h0.8v0.8h-0.8zM201.4 382.8h0.8v0.8h-0.8zM207.3 354.5h0.8v0.8h-0.8zM194.4 361.2h0.8v0.8h-0.8zM207.0 377.5h0.8v0.8h-0.8zM186.6 365.1h0.8v0.8h-0.8zM207.7 375.9h0.8v0.8h-0.8zM218.0 353.8h0.8v0.8h-0.8zM194.6 361.3h0.8v0.8h-0.8zM215.1 359.2h0.8v0.8h-0.8zM184.8 376.3h0.8v0.8h-0.8zM207.3 380.0h0.8v0.8h-0.8zM209.0 356.3h0.8v0.8h-0.8zM201.9 378.2h0.8v0.8h-0.8zM205.9 350.9h0.8v0.8h-0.8zM227.2 354.2h0.8v0.8h-0.8zM225.5 353.9h0.8v0.8h-0.8zM225.6 354.1h0.8v0.8h-0.8zM226.4 368.7h0.8v0.8h-0.8zM212.7 401.9h0.8v0.8h-0.8zM223.8 356.9h0.8v0.8h-0.8zM221.3 377.2h0.8v0.8h-0.8zM221.7 380.4h0.8v0.8h-0.8zM221.3 353.2h0.8v0.8h-0.8zM226.2 366.5h0.8v0.8h-0.8zM229.8 352.1h0.8v0.8h-0.8zM223.9 346.3h0.8v0.8h-0.8zM223.9 357.7h0.8v0.8h-0.8zM221.0 379.6h0.8v0.8h-0.8zM228.2 365.4h0.8v0.8h-0.8zM207.7 380.8h0.8v0.8h-0.8zM225.6 362.6h0.8v0.8h-0.8zM212.5 356.4h0.8v0.8h-0.8zM224.0 344.7h0.8v0.8h-0.8zM207.8 381.2h0.8v0.8h-0.8zM223.7 366.9h0.8v0.8h-0.8zM237.1 370.6h0.8v0.8h-0.8zM225.4 371.1h0.8v0.8h-0.8zM218.1 353.6h0.8v0.8h-0.8zM222.2 377.6h0.8v0.8h-0.8zM224.9 376.6h0.8v0.8h-0.8zM221.8 378.3h0.8v0.8h-0.8zM222.9 378.2h0.8v0.8h-0.8zM226.7 370.3h0.8v0.8h-0.8zM208.9 375.6h0.8v0.8h-0.8zM234.6 365.3h0.8v0.8h-0.8zM225.2 374.1h0.8v0.8h-0.8zM222.5 352.6h0.8v0.8h-0.8zM223.3 389.8h0.8v0.8h-0.8zM210.8 355.8h0.8v0.8h-0.8zM234.7 369.3h0.8v0.8h-0.8zM219.1 350.8h0.8v0.8h-0.8zM219.5 389.2h0.8v0.8h-0.8zM202.9 381.3h0.8v0.8h-0.8zM233.4 367.2h0.8v0.8h-0.8zM226.0 376.4h0.8v0.8h-0.8zM224.7 370.3h0.8v0.8h-0.8zM225.3 363.7h0.8v0.8h-0.8zM219.7 352.7h0.8v0.8h-0.8zM217.5 357.9h0.8v0.8h-0.8zM206.6 381.2h0.8v0.8h-0.8zM203.2 383.0h0.8v0.8h-0.8zM225.4 367.6h0.8v0.8h-0.8zM225.5 373.7h0.8v0.8h-0.8zM222.7 362.9h0.8v0.8h-0.8zM210.1 402.3h0.8v0.8h-0.8zM229.7 375.3h0.8v0.8h-0.8zM229.7 367.0h0.8v0.8h-0.8zM221.7 383.6h0.8v0.8h-0.8zM223.7 364.7h0.8v0.8h-0.8zM206.7 377.7h0.8v0.8h-0.8zM228.8 378.5h0.8v0.8h-0.8zM222.0 358.2h0.8v0.8h-0.8zM220.7 360.2h0.8v0.8h-0.8zM222.5 360.7h0.8v0.8h-0.8zM220.6 386.6h0.8v0.8h-0.8zM210.3 353.8h0.8v0.8h-0.8zM210.3 378.8h0.8v0.8h-0.8zM219.5 391.1h0.8v0.8h-0.8zM222.8 375.1h0.8v0.8h-0.8zM205.4 385.7h0.8v0.8h-0.8zM224.6 365.2h0.8v0.8h-0.8zM228.1 360.8h0.8v0.8h-0.8zM219.9 389.4h0.8v0.8h-0.8zM224.0 369.7h0.8v0.8h-0.8zM236.1 359.7h0.8v0.8h-0.8zM229.9 374.2h0.8v0.8h-0.8zM219.1 357.3h0.8v0.8h-0.8zM210.0 380.1h0.8v0.8h-0.8zM225.3 351.6h0.8v0.8h-0.8zM225.3 369.4h0.8v0.8h-0.8zM226.5 368.4h0.8v0.8h-0.8zM229.9 370.8h0.8v0.8h-0.8zM222.5 380.2h0.8v0.8h-0.8zM222.8 385.8h0.8v0.8h-0.8zM211.1 379.5h0.8v0.8h-0.8zM222.3 360.2h0.8v0.8h-0.8zM224.1 375.1h0.8v0.8h-0.8zM227.0 390.3h0.8v0.8h-0.8zM223.4 350.4h0.8v0.8h-0.8zM219.4 359.1h0.8v0.8h-0.8zM226.5 374.2h0.8v0.8h-0.8zM232.5 368.6h0.8v0.8h-0.8zM224.0 365.4h0.8v0.8h-0.8zM206.1 375.9h0.8v0.8h-0.8zM220.4 380.6h0.8v0.8h-0.8zM201.3 387.1h0.8v0.8h-0.8zM200.1 384.6h0.8v0.8h-0.8zM200.4 386.5h0.8v0.8h-0.8zM205.3 385.6h0.8v0.8h-0.8zM204.1 385.8h0.8v0.8h-0.8zM222.9 383.0h0.8v0.8h-0.8zM194.0 398.9h0.8v0.8h-0.8zM220.8 388.0h0.8v0.8h-0.8zM187.6 404.0h0.8v0.8h-0.8zM202.0 403.7h0.8v0.8h-0.8zM215.6 395.7h0.8v0.8h-0.8zM190.2 398.9h0.8v0.8h-0.8zM202.5 402.6h0.8v0.8h-0.8zM205.5 406.2h0.8v0.8h-0.8zM196.0 388.1h0.8v0.8h-0.8zM217.5 396.4h0.8v0.8h-0.8zM218.7 392.7h0.8v0.8h-0.8zM197.4 391.5h0.8v0.8h-0.8zM192.7 403.2h0.8v0.8h-0.8zM222.9 384.8h0.8v0.8h-0.8zM193.2 401.3h0.8v0.8h-0.8zM196.9 388.4h0.8v0.8h-0.8zM192.1 395.5h0.8v0.8h-0.8zM224.4 383.7h0.8v0.8h-0.8zM215.6 397.2h0.8v0.8h-0.8zM200.0 388.9h0.8v0.8h-0.8zM206.0 379.8h0.8v0.8h-0.8zM220.2 388.9h0.8v0.8h-0.8zM199.0 403.3h0.8v0.8h-0.8zM206.2 379.0h0.8v0.8h-0.8zM218.9 391.6h0.8v0.8h-0.8zM200.7 385.2h0.8v0.8h-0.8zM219.8 386.6h0.8v0.8h-0.8zM196.6 389.1h0.8v0.8h-0.8zM205.6 384.6h0.8v0.8h-0.8zM197.6 390.0h0.8v0.8h-0.8zM208.1 383.4h0.8v0.8h-0.8zM193.3 404.4h0.8v0.8h-0.8zM192.4 391.7h0.8v0.8h-0.8zM217.4 393.8h0.8v0.8h-0.8zM195.1 393.9h0.8v0.8h-0.8zM203.8 383.6h0.8v0.8h-0.8zM210.0 381.6h0.8v0.8h-0.8zM195.5 402.6h0.8v0.8h-0.8zM227.0 384.2h0.8v0.8h-0.8zM197.8 390.4h0.8v0.8h-0.8zM189.5 400.5h0.8v0.8h-0.8zM194.7 402.3h0.8v0.8h-0.8zM193.1 394.7h0.8v0.8h-0.8zM203.4 406.0h0.8v0.8h-0.8zM194.4 395.5h0.8v0.8h-0.8zM191.0 407.8h0.8v0.8h-0.8zM192.6 401.1h0.8v0.8h-0.8zM202.6 405.1h0.8v0.8h-0.8zM193.6 403.2h0.8v0.8h-0.8zM202.3 405.7h0.8v0.8h-0.8zM203.4 403.4h0.8v0.8h-0.8zM215.4 396.3h0.8v0.8h-0.8zM209.6 402.2h0.8v0.8h-0.8zM196.9 404.3h0.8v0.8h-0.8zM208.3 408.5h0.8v0.8h-0.8zM191.5 406.5h0.8v0.8h-0.8zM191.8 407.0h0.8v0.8h-0.8zM196.9 404.1h0.8v0.8h-0.8zM213.6 396.6h0.8v0.8h-0.8zM212.9 402.6h0.8v0.8h-0.8zM193.0 391.9h0.8v0.8h-0.8zM214.8 415.1h0.8v0.8h-0.8zM194.6 397.6h0.8v0.8h-0.8zM205.0 413.7h0.8v0.8h-0.8zM202.0 407.1h0.8v0.8h-0.8zM202.6 406.8h0.8v0.8h-0.8zM202.3 402.6h0.8v0.8h-0.8zM204.9 404.0h0.8v0.8h-0.8zM211.7 399.3h0.8v0.8h-0.8zM199.2 386.2h0.8v0.8h-0.8zM214.2 400.7h0.8v0.8h-0.8zM214.2 400.2h0.8v0.8h-0.8zM206.7 404.3h0.8v0.8h-0.8zM198.7 406.8h0.8v0.8h-0.8zM188.0 401.9h0.8v0.8h-0.8zM211.5 399.5h0.8v0.8h-0.8zM188.5 402.0h0.8v0.8h-0.8zM206.5 402.7h0.8v0.8h-0.8zM209.9 419.1h0.8v0.8h-0.8zM189.1 403.6h0.8v0.8h-0.8zM213.2 398.6h0.8v0.8h-0.8zM198.8 389.3h0.8v0.8h-0.8zM197.8 410.4h0.8v0.8h-0.8zM201.5 409.2h0.8v0.8h-0.8zM191.1 415.3h0.8v0.8h-0.8zM209.1 411.7h0.8v0.8h-0.8zM213.1 410.7h0.8v0.8h-0.8zM201.5 409.5h0.8v0.8h-0.8zM203.0 418.5h0.8v0.8h-0.8zM203.4 415.7h0.8v0.8h-0.8zM196.0 411.0h0.8v0.8h-0.8zM197.5 409.3h0.8v0.8h-0.8zM203.1 412.9h0.8v0.8h-0.8zM207.7 407.1h0.8v0.8h-0.8zM200.0 415.9h0.8v0.8h-0.8zM190.4 407.5h0.8v0.8h-0.8z" fill="#243f88" stroke="none" stroke-width="1"/>
<path d="M203.6 371.7h0.8v0.8h-0.8zM205.7 372.1h0.8v0.8h-0.8zM188.6 375.5h0.8v0.8h-0.8zM195.7 380.3h0.8v0.8h-0.8zM206.3 363.9h0.8v0.8h-0.8zM190.0 377.7h0.8v0.8h-0.8zM194.6 380.0h0.8v0.8h-0.8zM195.6 379.3h0.8v0.8h-0.8zM190.0 377.8h0.8v0.8h-0.8zM207.2 370.9h0.8v0.8h-0.8zM192.1 378.9h0.8v0.8h-0.8zM191.0 368.2h0.8v0.8h-0.8zM208.6 364.0h0.8v0.8h-0.8zM205.1 367.2h0.8v0.8h-0.8zM200.5 377.1h0.8v0.8h-0.8zM201.8 361.9h0.8v0.8h-0.8zM192.7 365.1h0.8v0.8h-0.8zM199.8 361.7h0.8v0.8h-0.8zM189.9 380.8h0.8v0.8h-0.8zM200.2 360.5h0.8v0.8h-0.8zM195.1 363.0h0.8v0.8h-0.8zM188.7 376.4h0.8v0.8h-0.8zM197.6 379.3h0.8v0.8h-0.8zM205.0 360.0h0.8v0.8h-0.8zM191.8 365.5h0.8v0.8h-0.8zM208.3 366.7h0.8v0.8h-0.8zM188.3 372.3h0.8v0.8h-0.8zM193.1 365.4h0.8v0.8h-0.8zM188.5 375.5h0.8v0.8h-0.8zM204.6 368.9h0.8v0.8h-0.8zM191.2 367.6h0.8v0.8h-0.8zM203.6 362.6h0.8v0.8h-0.8zM197.4 379.0h0.8v0.8h-0.8zM197.1 362.4h0.8v0.8h-0.8zM190.2 378.1h0.8v0.8h-0.8zM193.7 379.4h0.8v0.8h-0.8zM191.2 365.2h0.8v0.8h-0.8zM206.9 366.5h0.8v0.8h-0.8zM190.0 377.6h0.8v0.8h-0.8zM200.8 377.3h0.8v0.8h-0.8zM189.0 376.4h0.8v0.8h-0.8zM205.4 366.2h0.8v0.8h-0.8zM187.9 375.1h0.8v0.8h-0.8zM195.3 379.3h0.8v0.8h-0.8zM203.8 360.1h0.8v0.8h-0.8zM195.4 380.5h0.8v0.8h-0.8zM203.1 360.8h0.8v0.8h-0.8zM204.2 359.3h0.8v0.8h-0.8zM187.8 373.7h0.8v0.8h-0.8zM190.4 368.2h0.8v0.8h-0.8zM199.1 378.4h0.8v0.8h-0.8zM190.8 365.5h0.8v0.8h-0.8zM190.2 368.1h0.8v0.8h-0.8zM186.7 376.4h0.8v0.8h-0.8zM190.1 378.5h0.8v0.8h-0.8zM197.8 379.3h0.8v0.8h-0.8zM195.2 363.0h0.8v0.8h-0.8zM188.4 371.3h0.8v0.8h-0.8zM186.9 374.0h0.8v0.8h-0.8zM205.4 364.9h0.8v0.8h-0.8zM200.9 376.4h0.8v0.8h-0.8zM207.7 367.6h0.8v0.8h-0.8zM194.7 362.1h0.8v0.8h-0.8zM191.6 381.2h0.8v0.8h-0.8zM206.1 366.1h0.8v0.8h-0.8zM191.0 380.9h0.8v0.8h-0.8zM206.6 362.3h0.8v0.8h-0.8zM191.6 379.1h0.8v0.8h-0.8zM188.9 380.3h0.8v0.8h-0.8zM190.8 380.5h0.8v0.8h-0.8zM205.1 371.2h0.8v0.8h-0.8zM190.8 378.9h0.8v0.8h-0.8zM213.2 361.0h0.8v0.8h-0.8zM203.6 372.0h0.8v0.8h-0.8zM213.8 361.4h0.8v0.8h-0.8zM205.8 372.2h0.8v0.8h-0.8zM207.5 361.9h0.8v0.8h-0.8zM211.6 361.7h0.8v0.8h-0.8zM208.0 362.2h0.8v0.8h-0.8zM208.4 367.3h0.8v0.8h-0.8zM212.5 365.5h0.8v0.8h-0.8zM215.7 361.8h0.8v0.8h-0.8zM195.1 362.0h0.8v0.8h-0.8zM213.0 371.9h0.8v0.8h-0.8zM207.7 362.1h0.8v0.8h-0.8zM190.8 366.2h0.8v0.8h-0.8zM198.1 377.5h0.8v0.8h-0.8zM213.2 371.1h0.8v0.8h-0.8zM209.8 366.2h0.8v0.8h-0.8zM212.0 365.4h0.8v0.8h-0.8zM214.1 361.2h0.8v0.8h-0.8zM215.0 365.7h0.8v0.8h-0.8zM210.4 360.6h0.8v0.8h-0.8zM215.2 361.9h0.8v0.8h-0.8zM210.7 371.2h0.8v0.8h-0.8zM207.0 367.2h0.8v0.8h-0.8zM216.0 376.7h0.8v0.8h-0.8zM210.8 360.1h0.8v0.8h-0.8zM204.1 375.0h0.8v0.8h-0.8zM207.6 363.2h0.8v0.8h-0.8zM212.6 367.1h0.8v0.8h-0.8zM197.3 362.4h0.8v0.8h-0.8zM214.5 366.8h0.8v0.8h-0.8zM206.0 359.5h0.8v0.8h-0.8zM211.2 361.4h0.8v0.8h-0.8zM214.7 359.6h0.8v0.8h-0.8zM206.5 360.8h0.8v0.8h-0.8zM209.2 366.6h0.8v0.8h-0.8zM207.8 373.2h0.8v0.8h-0.8zM211.0 374.5h0.8v0.8h-0.8zM206.8 371.2h0.8v0.8h-0.8zM203.7 362.4h0.8v0.8h-0.8zM207.4 360.6h0.8v0.8h-0.8zM216.6 364.9h0.8v0.8h-0.8zM222.6 370.2h0.8v0.8h-0.8zM220.8 362.3h0.8v0.8h-0.8zM208.6 369.4h0.8v0.8h-0.8zM207.7 371.2h0.8v0.8h-0.8zM204.9 364.6h0.8v0.8h-0.8zM206.8 366.8h0.8v0.8h-0.8zM209.3 369.7h0.8v0.8h-0.8zM209.2 361.6h0.8v0.8h-0.8zM216.0 367.8h0.8v0.8h-0.8zM220.1 364.8h0.8v0.8h-0.8zM204.9 369.3h0.8v0.8h-0.8zM213.2 363.0h0.8v0.8h-0.8zM216.9 359.7h0.8v0.8h-0.8zM205.6 364.7h0.8v0.8h-0.8zM206.4 368.9h0.8v0.8h-0.8zM210.4 373.3h0.8v0.8h-0.8zM202.7 360.3h0.8v0.8h-0.8zM208.4 366.3h0.8v0.8h-0.8zM216.9 366.5h0.8v0.8h-0.8zM206.0 365.2h0.8v0.8h-0.8zM205.6 361.3h0.8v0.8h-0.8zM209.5 374.5h0.8v0.8h-0.8zM207.1 364.6h0.8v0.8h-0.8zM207.1 367.5h0.8v0.8h-0.8zM213.1 367.8h0.8v0.8h-0.8zM219.9 364.8h0.8v0.8h-0.8zM215.5 370.5h0.8v0.8h-0.8zM201.5 375.2h0.8v0.8h-0.8zM215.4 369.9h0.8v0.8h-0.8zM210.0 384.5h0.8v0.8h-0.8zM215.1 369.1h0.8v0.8h-0.8zM213.4 381.0h0.8v0.8h-0.8zM219.0 378.9h0.8v0.8h-0.8zM209.9 384.8h0.8v0.8h-0.8zM209.0 372.2h0.8v0.8h-0.8zM210.6 385.4h0.8v0.8h-0.8zM215.2 369.4h0.8v0.8h-0.8zM220.2 369.8h0.8v0.8h-0.8zM216.1 375.4h0.8v0.8h-0.8zM206.6 373.0h0.8v0.8h-0.8zM216.4 369.5h0.8v0.8h-0.8zM204.8 363.5h0.8v0.8h-0.8zM214.4 389.3h0.8v0.8h-0.8zM202.4 398.6h0.8v0.8h-0.8zM200.3 396.1h0.8v0.8h-0.8zM219.9 370.4h0.8v0.8h-0.8zM214.1 380.8h0.8v0.8h-0.8zM217.4 387.0h0.8v0.8h-0.8zM212.7 378.4h0.8v0.8h-0.8zM216.7 370.0h0.8v0.8h-0.8zM220.1 360.5h0.8v0.8h-0.8zM218.1 370.8h0.8v0.8h-0.8zM214.4 380.0h0.8v0.8h-0.8zM213.1 367.8h0.8v0.8h-0.8zM209.7 374.1h0.8v0.8h-0.8zM218.6 367.3h0.8v0.8h-0.8zM212.9 375.5h0.8v0.8h-0.8zM211.2 374.1h0.8v0.8h-0.8zM211.9 394.1h0.8v0.8h-0.8zM218.8 371.7h0.8v0.8h-0.8zM218.5 364.5h0.8v0.8h-0.8zM217.4 377.6h0.8v0.8h-0.8zM217.4 371.4h0.8v0.8h-0.8zM214.8 376.2h0.8v0.8h-0.8zM217.5 371.3h0.8v0.8h-0.8zM210.4 363.4h0.8v0.8h-0.8zM215.7 376.9h0.8v0.8h-0.8zM204.3 390.2h0.8v0.8h-0.8zM205.1 374.0h0.8v0.8h-0.8zM218.1 360.5h0.8v0.8h-0.8zM214.6 374.0h0.8v0.8h-0.8zM212.9 378.1h0.8v0.8h-0.8zM215.1 374.5h0.8v0.8h-0.8zM214.1 364.0h0.8v0.8h-0.8zM221.2 366.5h0.8v0.8h-0.8zM218.9 377.1h0.8v0.8h-0.8zM211.7 368.5h0.8v0.8h-0.8zM216.8 373.8h0.8v0.8h-0.8zM205.1 361.7h0.8v0.8h-0.8zM212.7 367.4h0.8v0.8h-0.8zM216.5 364.6h0.8v0.8h-0.8zM213.5 369.9h0.8v0.8h-0.8zM215.4 380.9h0.8v0.8h-0.8zM219.6 368.1h0.8v0.8h-0.8zM214.3 385.3h0.8v0.8h-0.8zM214.3 366.4h0.8v0.8h-0.8zM218.6 363.2h0.8v0.8h-0.8zM216.1 382.6h0.8v0.8h-0.8zM209.4 362.4h0.8v0.8h-0.8zM214.5 370.0h0.8v0.8h-0.8zM212.2 373.9h0.8v0.8h-0.8zM214.3 370.3h0.8v0.8h-0.8zM206.3 371.9h0.8v0.8h-0.8zM214.4 363.9h0.8v0.8h-0.8zM219.3 384.5h0.8v0.8h-0.8zM215.8 369.5h0.8v0.8h-0.8zM217.7 360.3h0.8v0.8h-0.8zM221.8 371.3h0.8v0.8h-0.8zM218.2 374.8h0.8v0.8h-0.8zM211.0 363.8h0.8v0.8h-0.8zM205.0 370.0h0.8v0.8h-0.8zM220.5 371.8h0.8v0.8h-0.8zM211.5 367.7h0.8v0.8h-0.8zM219.6 375.4h0.8v0.8h-0.8zM212.3 366.4h0.8v0.8h-0.8zM215.8 374.6h0.8v0.8h-0.8zM218.7 372.5h0.8v0.8h-0.8zM214.1 366.5h0.8v0.8h-0.8zM213.0 382.4h0.8v0.8h-0.8zM216.1 371.2h0.8v0.8h-0.8zM217.8 369.7h0.8v0.8h-0.8zM215.8 359.6h0.8v0.8h-0.8zM219.7 368.9h0.8v0.8h-0.8zM217.7 367.8h0.8v0.8h-0.8zM212.6 382.5h0.8v0.8h-0.8zM214.2 369.9h0.8v0.8h-0.8zM216.5 361.3h0.8v0.8h-0.8zM220.1 375.2h0.8v0.8h-0.8zM217.0 382.9h0.8v0.8h-0.8zM211.5 368.7h0.8v0.8h-0.8zM218.9 369.9h0.8v0.8h-0.8zM217.4 378.7h0.8v0.8h-0.8zM214.0 366.3h0.8v0.8h-0.8zM216.3 372.8h0.8v0.8h-0.8zM216.3 370.6h0.8v0.8h-0.8zM213.4 368.4h0.8v0.8h-0.8zM204.5 373.6h0.8v0.8h-0.8zM217.0 386.1h0.8v0.8h-0.8zM217.9 373.7h0.8v0.8h-0.8zM219.6 378.8h0.8v0.8h-0.8zM209.8 374.5h0.8v0.8h-0.8zM215.4 384.2h0.8v0.8h-0.8zM219.9 372.9h0.8v0.8h-0.8zM217.9 379.0h0.8v0.8h-0.8zM221.5 365.1h0.8v0.8h-0.8zM216.1 382.4h0.8v0.8h-0.8zM222.6 372.9h0.8v0.8h-0.8zM213.7 361.5h0.8v0.8h-0.8zM214.5 369.2h0.8v0.8h-0.8zM206.9 362.9h0.8v0.8h-0.8zM216.1 368.8h0.8v0.8h-0.8zM215.8 361.2h0.8v0.8h-0.8zM217.7 365.0h0.8v0.8h-0.8zM213.4 378.3h0.8v0.8h-0.8zM208.4 360.6h0.8v0.8h-0.8zM209.8 370.9h0.8v0.8h-0.8zM220.7 368.7h0.8v0.8h-0.8zM212.5 385.1h0.8v0.8h-0.8zM215.9 370.8h0.8v0.8h-0.8zM215.1 375.7h0.8v0.8h-0.8zM210.6 387.1h0.8v0.8h-0.8zM219.6 379.0h0.8v0.8h-0.8zM222.4 363.5h0.8v0.8h-0.8zM214.1 372.4h0.8v0.8h-0.8zM217.8 378.5h0.8v0.8h-0.8zM214.9 378.6h0.8v0.8h-0.8zM219.2 377.2h0.8v0.8h-0.8zM217.1 380.8h0.8v0.8h-0.8zM215.7 380.5h0.8v0.8h-0.8zM220.0 366.3h0.8v0.8h-0.8zM215.6 391.5h0.8v0.8h-0.8zM218.8 368.3h0.8v0.8h-0.8zM210.2 374.1h0.8v0.8h-0.8zM213.3 373.6h0.8v0.8h-0.8zM222.0 374.8h0.8v0.8h-0.8zM219.9 371.0h0.8v0.8h-0.8zM213.3 363.2h0.8v0.8h-0.8zM222.2 367.6h0.8v0.8h-0.8zM212.6 365.7h0.8v0.8h-0.8zM211.3 374.7h0.8v0.8h-0.8zM204.8 368.5h0.8v0.8h-0.8zM219.7 369.9h0.8v0.8h-0.8zM212.6 373.2h0.8v0.8h-0.8zM213.5 364.5h0.8v0.8h-0.8zM217.7 381.2h0.8v0.8h-0.8zM207.5 386.1h0.8v0.8h-0.8zM219.5 362.7h0.8v0.8h-0.8zM212.8 375.9h0.8v0.8h-0.8zM215.4 366.6h0.8v0.8h-0.8zM218.0 377.9h0.8v0.8h-0.8zM219.3 369.3h0.8v0.8h-0.8zM211.6 370.3h0.8v0.8h-0.8zM219.5 360.1h0.8v0.8h-0.8zM212.4 373.5h0.8v0.8h-0.8zM216.6 371.9h0.8v0.8h-0.8zM213.8 370.8h0.8v0.8h-0.8zM212.0 364.0h0.8v0.8h-0.8zM215.6 380.5h0.8v0.8h-0.8zM212.8 375.2h0.8v0.8h-0.8zM212.2 383.1h0.8v0.8h-0.8zM213.7 375.7h0.8v0.8h-0.8zM217.5 366.1h0.8v0.8h-0.8zM217.0 369.5h0.8v0.8h-0.8zM220.7 367.5h0.8v0.8h-0.8zM218.0 382.5h0.8v0.8h-0.8zM216.1 361.8h0.8v0.8h-0.8zM216.4 389.6h0.8v0.8h-0.8zM219.7 381.7h0.8v0.8h-0.8zM216.0 379.4h0.8v0.8h-0.8zM205.2 369.9h0.8v0.8h-0.8zM219.7 380.5h0.8v0.8h-0.8zM218.1 378.1h0.8v0.8h-0.8zM217.8 368.6h0.8v0.8h-0.8zM212.6 383.1h0.8v0.8h-0.8zM216.5 378.5h0.8v0.8h-0.8zM211.5 386.3h0.8v0.8h-0.8zM208.3 374.2h0.8v0.8h-0.8zM208.5 372.9h0.8v0.8h-0.8zM210.0 376.4h0.8v0.8h-0.8zM220.2 371.2h0.8v0.8h-0.8zM218.4 375.6h0.8v0.8h-0.8zM217.3 387.0h0.8v0.8h-0.8zM222.6 366.0h0.8v0.8h-0.8zM197.5 401.0h0.8v0.8h-0.8zM212.6 386.8h0.8v0.8h-0.8zM215.2 384.6h0.8v0.8h-0.8zM209.6 396.3h0.8v0.8h-0.8zM204.5 400.4h0.8v0.8h-0.8zM212.0 391.7h0.8v0.8h-0.8zM198.7 397.9h0.8v0.8h-0.8zM199.9 396.2h0.8v0.8h-0.8zM211.2 393.2h0.8v0.8h-0.8zM213.8 390.9h0.8v0.8h-0.8zM211.2 393.4h0.8v0.8h-0.8zM215.0 383.8h0.8v0.8h-0.8zM214.6 391.1h0.8v0.8h-0.8zM211.1 394.3h0.8v0.8h-0.8zM206.9 398.1h0.8v0.8h-0.8zM214.7 390.5h0.8v0.8h-0.8zM218.6 387.1h0.8v0.8h-0.8zM206.7 386.9h0.8v0.8h-0.8zM206.1 389.1h0.8v0.8h-0.8zM197.2 399.3h0.8v0.8h-0.8zM203.9 397.4h0.8v0.8h-0.8zM206.4 397.2h0.8v0.8h-0.8zM206.9 397.1h0.8v0.8h-0.8zM208.0 387.4h0.8v0.8h-0.8zM211.4 395.4h0.8v0.8h-0.8zM205.7 397.5h0.8v0.8h-0.8zM197.2 392.7h0.8v0.8h-0.8zM213.3 385.7h0.8v0.8h-0.8zM200.6 393.4h0.8v0.8h-0.8zM201.0 399.3h0.8v0.8h-0.8zM213.5 389.9h0.8v0.8h-0.8zM207.7 388.2h0.8v0.8h-0.8zM214.5 387.8h0.8v0.8h-0.8zM211.5 387.9h0.8v0.8h-0.8zM204.1 389.2h0.8v0.8h-0.8zM207.3 387.2h0.8v0.8h-0.8zM213.4 383.7h0.8v0.8h-0.8zM210.8 396.3h0.8v0.8h-0.8zM214.5 387.3h0.8v0.8h-0.8zM199.6 402.6h0.8v0.8h-0.8zM197.9 395.2h0.8v0.8h-0.8zM197.0 395.1h0.8v0.8h-0.8zM216.1 391.0h0.8v0.8h-0.8zM212.8 390.1h0.8v0.8h-0.8zM200.2 391.9h0.8v0.8h-0.8zM213.7 388.1h0.8v0.8h-0.8zM213.4 395.2h0.8v0.8h-0.8zM217.4 384.5h0.8v0.8h-0.8zM198.6 393.3h0.8v0.8h-0.8zM201.0 401.0h0.8v0.8h-0.8zM211.0 385.7h0.8v0.8h-0.8zM198.4 393.6h0.8v0.8h-0.8zM212.3 384.8h0.8v0.8h-0.8zM214.4 382.1h0.8v0.8h-0.8zM212.5 392.7h0.8v0.8h-0.8zM194.8 397.9h0.8v0.8h-0.8zM213.4 394.0h0.8v0.8h-0.8zM212.1 392.3h0.8v0.8h-0.8zM200.7 400.6h0.8v0.8h-0.8zM214.1 394.6h0.8v0.8h-0.8zM200.2 397.5h0.8v0.8h-0.8zM211.3 386.7h0.8v0.8h-0.8zM205.3 397.1h0.8v0.8h-0.8zM210.2 393.9h0.8v0.8h-0.8zM210.6 394.4h0.8v0.8h-0.8zM199.3 398.0h0.8v0.8h-0.8zM203.4 401.0h0.8v0.8h-0.8zM207.0 388.3h0.8v0.8h-0.8zM205.7 397.9h0.8v0.8h-0.8zM213.3 395.2h0.8v0.8h-0.8zM210.3 385.7h0.8v0.8h-0.8zM212.7 377.2h0.8v0.8h-0.8zM210.1 395.1h0.8v0.8h-0.8zM197.0 398.2h0.8v0.8h-0.8zM210.3 397.2h0.8v0.8h-0.8zM200.2 393.1h0.8v0.8h-0.8zM214.1 387.5h0.8v0.8h-0.8zM201.3 397.0h0.8v0.8h-0.8zM200.9 389.1h0.8v0.8h-0.8zM211.8 392.9h0.8v0.8h-0.8zM206.8 399.9h0.8v0.8h-0.8zM218.6 385.7h0.8v0.8h-0.8zM212.4 393.9h0.8v0.8h-0.8zM210.0 386.0h0.8v0.8h-0.8zM199.7 389.9h0.8v0.8h-0.8zM217.4 385.5h0.8v0.8h-0.8zM200.9 394.3h0.8v0.8h-0.8zM207.2 396.4h0.8v0.8h-0.8zM205.6 388.6h0.8v0.8h-0.8zM212.3 393.4h0.8v0.8h-0.8zM198.4 394.2h0.8v0.8h-0.8zM218.5 382.0h0.8v0.8h-0.8zM201.0 392.8h0.8v0.8h-0.8zM203.8 401.3h0.8v0.8h-0.8zM219.1 386.2h0.8v0.8h-0.8zM216.1 388.2h0.8v0.8h-0.8zM201.6 398.4h0.8v0.8h-0.8zM200.6 393.5h0.8v0.8h-0.8zM198.9 398.8h0.8v0.8h-0.8zM211.9 387.4h0.8v0.8h-0.8zM216.9 379.7h0.8v0.8h-0.8zM197.5 392.2h0.8v0.8h-0.8zM209.3 387.3h0.8v0.8h-0.8zM198.9 394.8h0.8v0.8h-0.8zM214.8 389.9h0.8v0.8h-0.8zM197.0 399.3h0.8v0.8h-0.8zM216.6 390.5h0.8v0.8h-0.8zM217.0 387.8h0.8v0.8h-0.8zM217.2 382.8h0.8v0.8h-0.8zM207.2 397.2h0.8v0.8h-0.8zM212.2 391.8h0.8v0.8h-0.8zM200.4 396.3h0.8v0.8h-0.8zM202.3 390.8h0.8v0.8h-0.8zM217.5 379.6h0.8v0.8h-0.8zM214.9 381.5h0.8v0.8h-0.8zM214.0 388.5h0.8v0.8h-0.8zM195.0 398.4h0.8v0.8h-0.8zM211.9 393.1h0.8v0.8h-0.8zM212.5 395.0h0.8v0.8h-0.8zM199.0 399.6h0.8v0.8h-0.8zM208.4 386.1h0.8v0.8h-0.8zM210.6 386.2h0.8v0.8h-0.8zM206.3 388.4h0.8v0.8h-0.8zM204.3 388.1h0.8v0.8h-0.8zM202.6 397.5h0.8v0.8h-0.8zM206.0 399.7h0.8v0.8h-0.8zM216.0 380.6h0.8v0.8h-0.8zM205.4 389.5h0.8v0.8h-0.8zM207.1 399.2h0.8v0.8h-0.8zM211.1 394.9h0.8v0.8h-0.8zM214.5 385.6h0.8v0.8h-0.8zM199.3 393.5h0.8v0.8h-0.8zM205.4 397.8h0.8v0.8h-0.8zM204.8 401.0h0.8v0.8h-0.8zM198.0 394.9h0.8v0.8h-0.8zM213.2 392.9h0.8v0.8h-0.8zM209.2 396.7h0.8v0.8h-0.8zM198.8 393.0h0.8v0.8h-0.8zM202.1 398.7h0.8v0.8h-0.8zM216.7 386.2h0.8v0.8h-0.8zM214.6 387.1h0.8v0.8h-0.8zM202.9 398.6h0.8v0.8h-0.8zM212.5 386.9h0.8v0.8h-0.8zM201.3 391.1h0.8v0.8h-0.8zM213.3 390.0h0.8v0.8h-0.8zM201.9 391.7h0.8v0.8h-0.8zM201.6 398.2h0.8v0.8h-0.8zM203.4 401.2h0.8v0.8h-0.8zM213.7 388.7h0.8v0.8h-0.8zM197.7 398.1h0.8v0.8h-0.8zM198.0 395.5h0.8v0.8h-0.8zM206.7 388.9h0.8v0.8h-0.8zM200.3 395.0h0.8v0.8h-0.8zM196.2 397.9h0.8v0.8h-0.8zM204.9 389.8h0.8v0.8h-0.8zM200.3 399.1h0.8v0.8h-0.8zM197.6 398.3h0.8v0.8h-0.8zM196.8 395.2h0.8v0.8h-0.8zM209.4 396.7h0.8v0.8h-0.8zM211.2 397.2h0.8v0.8h-0.8zM196.2 400.1h0.8v0.8h-0.8zM205.4 399.0h0.8v0.8h-0.8zM202.1 390.9h0.8v0.8h-0.8zM202.1 397.4h0.8v0.8h-0.8zM197.2 395.4h0.8v0.8h-0.8zM214.7 390.4h0.8v0.8h-0.8zM207.0 398.6h0.8v0.8h-0.8zM196.3 397.1h0.8v0.8h-0.8zM198.7 402.1h0.8v0.8h-0.8zM197.2 401.2h0.8v0.8h-0.8zM206.5 397.2h0.8v0.8h-0.8zM201.5 389.5h0.8v0.8h-0.8z" fill="#2d66a8" stroke="none" stroke-width="1"/>
<path d="M203.5 368.2h1v1h-1zM192.8 376.6h1v1h-1zM202.6 366.0h1v1h-1zM195.0 377.9h1v1h-1zM196.7 377.4h1v1h-1zM190.7 377.4h1v1h-1zM198.2 364.0h1v1h-1zM204.1 368.5h1v1h-1zM203.5 367.0h1v1h-1zM191.1 375.6h1v1h-1zM202.7 372.1h1v1h-1zM194.8 377.2h1v1h-1zM201.5 362.3h1v1h-1zM201.1 364.5h1v1h-1zM190.6 373.3h1v1h-1zM192.0 367.6h1v1h-1zM201.7 364.5h1v1h-1zM199.1 362.3h1v1h-1zM198.5 375.4h1v1h-1zM195.9 363.9h1v1h-1zM200.2 362.4h1v1h-1zM195.1 365.2h1v1h-1zM191.7 376.5h1v1h-1zM203.8 365.5h1v1h-1zM194.8 365.4h1v1h-1zM194.5 378.0h1v1h-1zM202.5 369.0h1v1h-1zM202.7 367.2h1v1h-1zM196.9 363.8h1v1h-1zM191.7 368.6h1v1h-1zM203.2 370.7h1v1h-1zM195.3 365.4h1v1h-1zM197.7 364.1h1v1h-1zM199.5 364.0h1v1h-1zM196.0 365.2h1v1h-1zM198.0 376.5h1v1h-1zM196.3 377.7h1v1h-1zM201.6 371.1h1v1h-1zM193.1 378.0h1v1h-1zM189.3 374.1h1v1h-1zM200.2 363.3h1v1h-1zM203.4 368.9h1v1h-1zM190.7 372.4h1v1h-1zM195.7 377.1h1v1h-1zM194.9 376.9h1v1h-1zM204.6 365.9h1v1h-1zM189.5 375.0h1v1h-1zM189.3 374.3h1v1h-1zM200.3 374.4h1v1h-1zM194.0 378.5h1v1h-1zM201.8 372.3h1v1h-1zM194.4 365.2h1v1h-1zM197.7 376.4h1v1h-1zM189.7 373.2h1v1h-1zM194.1 365.8h1v1h-1zM201.7 373.0h1v1h-1zM191.0 370.2h1v1h-1zM200.3 373.3h1v1h-1zM196.6 363.8h1v1h-1zM192.5 377.6h1v1h-1zM191.6 376.7h1v1h-1zM202.6 372.0h1v1h-1zM199.9 363.7h1v1h-1zM191.5 377.0h1v1h-1zM194.0 365.7h1v1h-1zM189.6 376.4h1v1h-1zM191.4 370.1h1v1h-1zM199.4 362.3h1v1h-1zM195.9 376.4h1v1h-1zM190.5 370.6h1v1h-1zM189.7 376.1h1v1h-1zM191.5 376.9h1v1h-1zM190.8 376.3h1v1h-1zM191.5 376.9h1v1h-1zM189.8 377.2h1v1h-1zM191.3 378.1h1v1h-1zM189.4 375.8h1v1h-1zM191.1 376.5h1v1h-1zM198.8 363.8h1v1h-1zM189.8 375.5h1v1h-1zM189.7 372.8h1v1h-1zM204.7 368.4h1v1h-1zM194.1 365.3h1v1h-1zM199.0 375.1h1v1h-1zM195.5 365.5h1v1h-1zM197.7 363.9h1v1h-1zM202.8 364.3h1v1h-1zM191.2 368.4h1v1h-1zM201.9 363.5h1v1h-1zM190.3 372.6h1v1h-1zM195.3 365.6h1v1h-1zM201.3 362.2h1v1h-1zM201.6 365.0h1v1h-1zM200.6 363.7h1v1h-1zM191.5 369.8h1v1h-1zM196.2 363.7h1v1h-1zM202.7 368.6h1v1h-1zM203.1 370.3h1v1h-1zM203.1 365.6h1v1h-1zM195.1 376.7h1v1h-1zM202.9 364.6h1v1h-1zM190.5 373.2h1v1h-1zM195.4 364.5h1v1h-1zM199.2 376.0h1v1h-1zM197.6 364.2h1v1h-1zM197.4 363.7h1v1h-1zM202.7 366.6h1v1h-1zM203.5 367.7h1v1h-1zM190.5 375.9h1v1h-1zM201.7 364.6h1v1h-1zM189.0 375.0h1v1h-1zM197.9 375.9h1v1h-1zM202.1 365.1h1v1h-1zM202.8 363.7h1v1h-1zM191.9 377.2h1v1h-1zM192.2 368.8h1v1h-1zM189.1 375.7h1v1h-1zM193.7 376.9h1v1h-1zM191.8 377.6h1v1h-1zM203.0 369.7h1v1h-1zM200.9 362.2h1v1h-1zM202.0 365.1h1v1h-1zM203.2 366.6h1v1h-1zM203.8 370.7h1v1h-1zM200.3 363.3h1v1h-1zM203.0 363.7h1v1h-1zM201.8 372.6h1v1h-1zM203.2 370.3h1v1h-1zM199.6 363.7h1v1h-1zM204.1 368.8h1v1h-1zM203.8 369.0h1v1h-1zM202.3 370.3h1v1h-1zM204.3 365.8h1v1h-1zM203.4 367.1h1v1h-1zM200.8 362.3h1v1h-1zM203.1 370.2h1v1h-1zM203.0 363.1h1v1h-1zM201.7 362.9h1v1h-1zM194.3 365.7h1v1h-1zM202.9 362.7h1v1h-1zM201.5 373.0h1v1h-1zM208.1 390.2h1v1h-1zM208.9 390.9h1v1h-1zM211.2 389.7h1v1h-1zM212.1 388.8h1v1h-1zM207.0 394.8h1v1h-1zM208.3 389.1h1v1h-1zM210.3 389.1h1v1h-1zM206.1 391.9h1v1h-1zM207.4 394.9h1v1h-1zM212.3 390.4h1v1h-1zM207.1 393.9h1v1h-1zM202.8 395.9h1v1h-1zM207.0 392.5h1v1h-1zM206.2 390.0h1v1h-1zM210.5 391.7h1v1h-1zM202.5 396.4h1v1h-1zM205.6 390.8h1v1h-1zM201.1 396.4h1v1h-1zM202.5 396.8h1v1h-1zM204.9 396.6h1v1h-1zM205.4 391.6h1v1h-1zM207.6 390.9h1v1h-1zM207.6 389.4h1v1h-1zM207.5 392.7h1v1h-1zM209.0 392.6h1v1h-1zM212.2 390.3h1v1h-1zM206.2 395.4h1v1h-1zM203.9 391.8h1v1h-1zM211.7 389.3h1v1h-1zM205.8 394.0h1v1h-1zM204.4 393.6h1v1h-1zM202.4 393.9h1v1h-1zM207.6 395.3h1v1h-1zM210.7 392.2h1v1h-1zM209.3 391.6h1v1h-1zM206.3 394.7h1v1h-1zM210.9 389.4h1v1h-1zM204.5 395.4h1v1h-1zM202.7 392.5h1v1h-1zM209.3 394.5h1v1h-1zM206.9 394.6h1v1h-1zM204.1 393.6h1v1h-1zM211.9 391.2h1v1h-1zM208.6 392.4h1v1h-1zM210.7 389.6h1v1h-1zM210.1 390.3h1v1h-1zM207.5 394.9h1v1h-1zM207.5 390.6h1v1h-1zM208.6 390.3h1v1h-1zM205.9 390.0h1v1h-1zM210.2 392.5h1v1h-1zM208.3 392.5h1v1h-1zM209.6 393.7h1v1h-1zM204.3 394.2h1v1h-1zM210.2 388.2h1v1h-1zM202.3 393.4h1v1h-1zM211.6 389.3h1v1h-1zM207.1 392.5h1v1h-1zM208.1 392.7h1v1h-1zM210.6 389.9h1v1h-1zM202.4 395.3h1v1h-1zM212.3 388.8h1v1h-1zM201.9 393.2h1v1h-1zM202.3 396.2h1v1h-1zM208.1 392.0h1v1h-1zM205.4 394.6h1v1h-1zM201.9 396.4h1v1h-1zM209.0 394.0h1v1h-1zM208.2 392.6h1v1h-1zM204.5 396.3h1v1h-1zM207.7 393.3h1v1h-1zM209.8 392.6h1v1h-1zM207.4 395.7h1v1h-1zM203.9 391.9h1v1h-1zM209.3 393.0h1v1h-1zM203.7 395.0h1v1h-1zM208.2 389.5h1v1h-1zM211.2 388.3h1v1h-1zM212.2 389.1h1v1h-1zM211.9 388.9h1v1h-1zM204.7 390.5h1v1h-1zM205.1 394.7h1v1h-1zM202.5 394.2h1v1h-1zM206.1 394.3h1v1h-1zM204.7 390.6h1v1h-1zM205.3 390.5h1v1h-1zM202.0 395.6h1v1h-1zM205.7 395.1h1v1h-1zM209.0 394.1h1v1h-1zM206.6 394.6h1v1h-1zM209.8 389.7h1v1h-1zM204.2 395.4h1v1h-1zM202.4 392.8h1v1h-1zM201.7 395.0h1v1h-1z" fill="#2f9a96" stroke="none" stroke-width="1"/>
<path d="M191.1 371.9h1v1h-1zM199.4 364.8h1v1h-1zM196.0 365.4h1v1h-1zM198.7 373.6h1v1h-1zM194.0 368.2h1v1h-1zM200.8 370.5h1v1h-1zM199.5 372.5h1v1h-1zM193.4 376.0h1v1h-1zM192.3 372.9h1v1h-1zM201.9 368.1h1v1h-1zM193.5 368.7h1v1h-1zM202.4 368.5h1v1h-1zM192.2 369.3h1v1h-1zM194.9 375.5h1v1h-1zM195.7 375.8h1v1h-1zM193.1 367.8h1v1h-1zM200.1 372.8h1v1h-1zM196.3 365.2h1v1h-1zM195.8 375.7h1v1h-1zM198.5 373.7h1v1h-1zM194.6 366.3h1v1h-1zM194.5 375.6h1v1h-1zM195.7 366.6h1v1h-1zM191.9 371.4h1v1h-1zM196.0 374.9h1v1h-1zM193.1 369.4h1v1h-1zM194.9 376.0h1v1h-1zM192.7 368.5h1v1h-1zM191.3 372.7h1v1h-1zM192.7 375.2h1v1h-1zM195.8 365.5h1v1h-1zM200.3 364.6h1v1h-1zM200.5 372.3h1v1h-1zM199.6 366.2h1v1h-1zM199.1 372.5h1v1h-1zM196.3 375.1h1v1h-1zM195.0 367.0h1v1h-1zM195.9 375.2h1v1h-1zM192.3 373.6h1v1h-1zM196.6 365.6h1v1h-1zM192.1 371.3h1v1h-1zM192.9 376.4h1v1h-1zM201.9 367.7h1v1h-1zM197.9 365.3h1v1h-1zM192.2 371.0h1v1h-1zM201.6 366.9h1v1h-1zM199.2 374.0h1v1h-1zM191.4 373.0h1v1h-1zM198.7 373.7h1v1h-1zM200.8 368.9h1v1h-1zM192.5 375.1h1v1h-1zM196.6 375.0h1v1h-1zM197.4 375.2h1v1h-1zM201.3 370.0h1v1h-1zM192.3 376.2h1v1h-1zM192.2 375.2h1v1h-1zM193.0 376.5h1v1h-1zM191.1 372.5h1v1h-1zM191.9 370.3h1v1h-1zM192.3 371.9h1v1h-1zM192.2 369.7h1v1h-1zM191.1 373.8h1v1h-1zM195.7 375.0h1v1h-1zM193.7 375.3h1v1h-1zM198.4 365.6h1v1h-1zM201.3 367.4h1v1h-1zM192.8 374.9h1v1h-1zM193.4 369.2h1v1h-1zM191.5 371.6h1v1h-1zM198.6 364.6h1v1h-1zM201.0 368.7h1v1h-1zM197.5 364.7h1v1h-1zM192.2 372.0h1v1h-1zM201.3 369.3h1v1h-1zM199.5 372.1h1v1h-1zM193.8 375.0h1v1h-1zM200.9 368.2h1v1h-1zM192.5 375.2h1v1h-1zM191.6 374.0h1v1h-1zM196.6 375.8h1v1h-1zM197.9 365.9h1v1h-1zM202.4 368.1h1v1h-1zM200.7 370.2h1v1h-1zM200.7 366.2h1v1h-1zM199.9 365.9h1v1h-1zM192.1 371.1h1v1h-1zM192.4 370.7h1v1h-1zM198.1 365.4h1v1h-1zM198.6 373.7h1v1h-1zM193.1 368.7h1v1h-1zM200.7 367.9h1v1h-1zM196.5 365.5h1v1h-1zM196.1 365.9h1v1h-1zM197.3 374.8h1v1h-1zM193.0 369.4h1v1h-1zM192.0 376.2h1v1h-1zM194.9 375.6h1v1h-1zM200.3 372.2h1v1h-1zM192.2 373.7h1v1h-1zM194.9 375.0h1v1h-1zM198.6 365.0h1v1h-1zM197.9 365.4h1v1h-1zM194.0 367.2h1v1h-1zM195.9 366.6h1v1h-1zM193.2 376.1h1v1h-1zM196.9 375.0h1v1h-1zM195.2 375.1h1v1h-1zM191.1 372.6h1v1h-1zM201.2 371.6h1v1h-1zM194.6 375.1h1v1h-1zM200.8 366.6h1v1h-1zM197.9 374.4h1v1h-1zM192.3 372.3h1v1h-1zM201.8 370.5h1v1h-1zM199.3 372.3h1v1h-1zM202.3 367.0h1v1h-1zM191.7 374.7h1v1h-1zM200.0 365.5h1v1h-1zM202.2 369.4h1v1h-1zM200.5 372.3h1v1h-1zM193.7 368.7h1v1h-1zM201.8 368.4h1v1h-1zM200.0 364.3h1v1h-1zM197.0 365.4h1v1h-1zM194.0 368.3h1v1h-1zM191.6 370.6h1v1h-1zM198.4 364.5h1v1h-1zM201.3 369.4h1v1h-1zM192.1 374.6h1v1h-1z" fill="#48ad52" stroke="none" stroke-width="1"/>
<path d="M199.8 368.6h1v1h-1zM198.8 367.5h1v1h-1zM199.7 368.8h1v1h-1zM199.5 367.3h1v1h-1zM197.0 366.6h1v1h-1zM198.8 371.8h1v1h-1zM199.9 366.7h1v1h-1zM195.4 373.7h1v1h-1zM195.9 367.7h1v1h-1zM194.3 373.6h1v1h-1zM198.4 371.7h1v1h-1zM193.7 370.1h1v1h-1zM199.0 372.0h1v1h-1zM194.6 368.0h1v1h-1zM196.1 367.7h1v1h-1zM196.2 366.8h1v1h-1zM196.0 367.2h1v1h-1zM198.0 373.2h1v1h-1zM194.1 369.0h1v1h-1zM196.9 374.1h1v1h-1zM199.6 370.3h1v1h-1zM199.0 371.9h1v1h-1zM200.3 369.5h1v1h-1zM195.2 373.8h1v1h-1zM198.3 366.5h1v1h-1zM194.1 373.7h1v1h-1zM197.3 366.3h1v1h-1zM199.4 367.8h1v1h-1zM192.5 372.9h1v1h-1zM196.0 367.0h1v1h-1zM193.9 370.0h1v1h-1zM194.4 368.9h1v1h-1zM192.7 371.7h1v1h-1zM196.8 367.4h1v1h-1zM193.8 369.8h1v1h-1zM193.4 370.2h1v1h-1zM193.7 370.2h1v1h-1zM200.5 368.1h1v1h-1zM193.9 374.2h1v1h-1zM199.4 370.4h1v1h-1zM193.0 372.3h1v1h-1zM199.3 367.0h1v1h-1zM193.2 373.2h1v1h-1zM193.7 370.2h1v1h-1zM194.1 374.8h1v1h-1zM197.2 373.3h1v1h-1zM197.3 367.1h1v1h-1zM199.9 369.9h1v1h-1zM194.1 374.9h1v1h-1zM194.9 374.1h1v1h-1zM199.8 370.0h1v1h-1zM194.7 369.1h1v1h-1zM199.5 367.3h1v1h-1zM199.9 369.6h1v1h-1zM199.4 366.9h1v1h-1zM200.3 367.4h1v1h-1zM193.1 372.9h1v1h-1zM196.9 373.8h1v1h-1zM196.5 367.2h1v1h-1zM195.2 374.6h1v1h-1zM194.5 369.1h1v1h-1zM199.8 369.5h1v1h-1zM200.4 368.0h1v1h-1zM194.2 374.4h1v1h-1zM193.0 371.3h1v1h-1zM193.2 372.3h1v1h-1zM199.5 367.6h1v1h-1zM199.0 372.1h1v1h-1zM192.7 373.5h1v1h-1zM194.5 374.9h1v1h-1zM197.2 372.9h1v1h-1zM193.8 369.6h1v1h-1zM195.0 374.3h1v1h-1zM196.8 367.6h1v1h-1zM196.9 374.1h1v1h-1zM195.4 373.9h1v1h-1zM199.9 369.2h1v1h-1zM193.2 370.9h1v1h-1zM197.1 373.6h1v1h-1zM198.5 372.7h1v1h-1zM193.1 374.3h1v1h-1zM195.8 367.8h1v1h-1zM199.8 369.5h1v1h-1zM193.1 371.9h1v1h-1z" fill="#a2c238" stroke="none" stroke-width="1"/>
<path d="M195.8 373.1h1v1h-1zM198.4 371.1h1v1h-1zM197.0 367.6h1v1h-1zM198.5 368.3h1v1h-1zM195.1 372.8h1v1h-1zM194.7 373.3h1v1h-1zM194.9 373.1h1v1h-1zM194.5 370.6h1v1h-1zM194.1 372.8h1v1h-1zM195.3 369.2h1v1h-1zM194.4 373.3h1v1h-1zM193.9 371.2h1v1h-1zM193.6 371.7h1v1h-1zM194.6 370.5h1v1h-1zM197.7 368.3h1v1h-1zM198.7 370.2h1v1h-1zM198.3 368.1h1v1h-1zM193.9 371.7h1v1h-1zM194.4 371.3h1v1h-1zM195.4 368.5h1v1h-1zM198.6 370.8h1v1h-1zM198.1 370.8h1v1h-1zM199.2 369.6h1v1h-1zM196.2 373.0h1v1h-1zM199.3 369.3h1v1h-1zM198.4 368.6h1v1h-1zM195.2 373.4h1v1h-1zM199.2 368.8h1v1h-1zM197.4 367.8h1v1h-1zM196.2 368.0h1v1h-1zM194.0 372.1h1v1h-1zM194.6 370.0h1v1h-1zM196.1 372.6h1v1h-1zM197.1 372.6h1v1h-1zM196.7 368.2h1v1h-1zM195.0 372.4h1v1h-1zM198.4 368.9h1v1h-1zM194.8 372.6h1v1h-1zM196.9 372.2h1v1h-1zM194.5 369.9h1v1h-1zM198.7 370.2h1v1h-1zM197.8 368.5h1v1h-1zM193.8 371.4h1v1h-1zM193.9 370.9h1v1h-1zM198.3 368.0h1v1h-1zM198.4 367.9h1v1h-1zM195.2 369.5h1v1h-1zM199.0 370.6h1v1h-1zM198.3 368.3h1v1h-1zM198.9 370.1h1v1h-1zM195.9 368.2h1v1h-1zM195.6 372.8h1v1h-1zM197.3 367.8h1v1h-1z" fill="#e29a2c" stroke="none" stroke-width="1"/>
<path d="M197.9 370.3h1v1h-1zM196.4 371.3h1v1h-1zM198.2 369.6h1v1h-1zM197.5 369.0h1v1h-1zM196.4 370.3h1v1h-1zM196.4 369.4h1v1h-1zM195.2 371.1h1v1h-1zM196.4 371.8h1v1h-1zM197.7 370.0h1v1h-1zM195.3 369.8h1v1h-1zM195.8 372.0h1v1h-1zM197.3 369.4h1v1h-1zM194.9 371.1h1v1h-1zM197.5 370.2h1v1h-1zM197.1 370.9h1v1h-1zM195.6 370.0h1v1h-1zM196.3 370.5h1v1h-1zM195.1 370.5h1v1h-1zM197.0 370.0h1v1h-1zM196.1 371.0h1v1h-1zM197.7 368.9h1v1h-1zM197.3 371.4h1v1h-1zM198.1 369.5h1v1h-1zM195.8 369.8h1v1h-1zM198.0 369.7h1v1h-1zM196.7 370.2h1v1h-1zM196.5 371.8h1v1h-1zM197.2 369.7h1v1h-1zM197.6 370.8h1v1h-1zM197.3 371.6h1v1h-1zM196.2 368.9h1v1h-1z" fill="#dc5528" stroke="none" stroke-width="1"/>
<rect x="155.2" y="333.3" width="87" height="87" fill="none" stroke="#333" stroke-width="0.8"/>
<line x1="155.2" y1="384.3" x2="242.2" y2="384.3" stroke="#333" stroke-width="0.8"/>
<line x1="230.5" y1="356.8" x2="230.5" y2="420.3" stroke="#333" stroke-width="0.8"/>
<text x="157.4" y="344.5" font-size="6" fill="#222">Q1</text>
<text x="157.4" y="353.1" font-size="6" fill="#222">86.2</text>
<text x="225.2" y="344.5" font-size="6" fill="#222">Q2</text>
<text x="234.8" y="353.1" font-size="6" text-anchor="end" fill="#222">0</text>
<text x="157.4" y="405.8" font-size="6" fill="#222">Q4</text>
<text x="157.4" y="414.4" font-size="6" fill="#222">13.8</text>
<text x="225.2" y="405.8" font-size="6" fill="#222">Q3</text>
<text x="234.8" y="414.4" font-size="6" text-anchor="end" fill="#222">0</text>
<line x1="153.4" y1="342.8" x2="155.2" y2="342.8" stroke="#444" stroke-width="0.5"/>
<text x="152" y="343.8" font-size="3" text-anchor="end" fill="#555">10</text>
<line x1="153.4" y1="364.8" x2="155.2" y2="364.8" stroke="#444" stroke-width="0.5"/>
<text x="152" y="365.8" font-size="3" text-anchor="end" fill="#555">10</text>
<line x1="153.4" y1="386.3" x2="155.2" y2="386.3" stroke="#444" stroke-width="0.5"/>
<text x="152" y="387.3" font-size="3" text-anchor="end" fill="#555">10</text>
<line x1="153.4" y1="408.8" x2="155.2" y2="408.8" stroke="#444" stroke-width="0.5"/>
<text x="152" y="409.8" font-size="3" text-anchor="end" fill="#555">10</text>
<line x1="170.2" y1="420.3" x2="170.2" y2="422.1" stroke="#444" stroke-width="0.5"/>
<text x="170.2" y="425.8" font-size="3" text-anchor="middle" fill="#555">10</text>
<line x1="200.2" y1="420.3" x2="200.2" y2="422.1" stroke="#444" stroke-width="0.5"/>
<text x="200.2" y="425.8" font-size="3" text-anchor="middle" fill="#555">10</text>
<line x1="230.2" y1="420.3" x2="230.2" y2="422.1" stroke="#444" stroke-width="0.5"/>
<text x="230.2" y="425.8" font-size="3" text-anchor="middle" fill="#555">10</text>
<line x1="158.2" y1="420.3" x2="158.2" y2="421.2" stroke="#666" stroke-width="0.35"/>
<line x1="154.3" y1="336.3" x2="155.2" y2="336.3" stroke="#666" stroke-width="0.35"/>
<line x1="161.2" y1="420.3" x2="161.2" y2="421.2" stroke="#666" stroke-width="0.35"/>
<line x1="154.3" y1="339.3" x2="155.2" y2="339.3" stroke="#666" stroke-width="0.35"/>
<line x1="164.2" y1="420.3" x2="164.2" y2="421.2" stroke="#666" stroke-width="0.35"/>
<line x1="154.3" y1="342.3" x2="155.2" y2="342.3" stroke="#666" stroke-width="0.35"/>
<line x1="167.2" y1="420.3" x2="167.2" y2="421.2" stroke="#666" stroke-width="0.35"/>
<line x1="154.3" y1="345.3" x2="155.2" y2="345.3" stroke="#666" stroke-width="0.35"/>
<line x1="170.2" y1="420.3" x2="170.2" y2="421.2" stroke="#666" stroke-width="0.35"/>
<line x1="154.3" y1="348.3" x2="155.2" y2="348.3" stroke="#666" stroke-width="0.35"/>
<line x1="173.2" y1="420.3" x2="173.2" y2="421.2" stroke="#666" stroke-width="0.35"/>
<line x1="154.3" y1="351.3" x2="155.2" y2="351.3" stroke="#666" stroke-width="0.35"/>
<line x1="176.2" y1="420.3" x2="176.2" y2="421.2" stroke="#666" stroke-width="0.35"/>
<line x1="154.3" y1="354.3" x2="155.2" y2="354.3" stroke="#666" stroke-width="0.35"/>
<line x1="179.2" y1="420.3" x2="179.2" y2="421.2" stroke="#666" stroke-width="0.35"/>
<line x1="154.3" y1="357.3" x2="155.2" y2="357.3" stroke="#666" stroke-width="0.35"/>
<line x1="182.2" y1="420.3" x2="182.2" y2="421.2" stroke="#666" stroke-width="0.35"/>
<line x1="154.3" y1="360.3" x2="155.2" y2="360.3" stroke="#666" stroke-width="0.35"/>
<line x1="185.2" y1="420.3" x2="185.2" y2="421.2" stroke="#666" stroke-width="0.35"/>
<line x1="154.3" y1="363.3" x2="155.2" y2="363.3" stroke="#666" stroke-width="0.35"/>
<line x1="188.2" y1="420.3" x2="188.2" y2="421.2" stroke="#666" stroke-width="0.35"/>
<line x1="154.3" y1="366.3" x2="155.2" y2="366.3" stroke="#666" stroke-width="0.35"/>
<line x1="191.2" y1="420.3" x2="191.2" y2="421.2" stroke="#666" stroke-width="0.35"/>
<line x1="154.3" y1="369.3" x2="155.2" y2="369.3" stroke="#666" stroke-width="0.35"/>
<line x1="194.2" y1="420.3" x2="194.2" y2="421.2" stroke="#666" stroke-width="0.35"/>
<line x1="154.3" y1="372.3" x2="155.2" y2="372.3" stroke="#666" stroke-width="0.35"/>
<line x1="197.2" y1="420.3" x2="197.2" y2="421.2" stroke="#666" stroke-width="0.35"/>
<line x1="154.3" y1="375.3" x2="155.2" y2="375.3" stroke="#666" stroke-width="0.35"/>
<line x1="200.2" y1="420.3" x2="200.2" y2="421.2" stroke="#666" stroke-width="0.35"/>
<line x1="154.3" y1="378.3" x2="155.2" y2="378.3" stroke="#666" stroke-width="0.35"/>
<line x1="203.2" y1="420.3" x2="203.2" y2="421.2" stroke="#666" stroke-width="0.35"/>
<line x1="154.3" y1="381.3" x2="155.2" y2="381.3" stroke="#666" stroke-width="0.35"/>
<line x1="206.2" y1="420.3" x2="206.2" y2="421.2" stroke="#666" stroke-width="0.35"/>
<line x1="154.3" y1="384.3" x2="155.2" y2="384.3" stroke="#666" stroke-width="0.35"/>
<line x1="209.2" y1="420.3" x2="209.2" y2="421.2" stroke="#666" stroke-width="0.35"/>
<line x1="154.3" y1="387.3" x2="155.2" y2="387.3" stroke="#666" stroke-width="0.35"/>
<line x1="212.2" y1="420.3" x2="212.2" y2="421.2" stroke="#666" stroke-width="0.35"/>
<line x1="154.3" y1="390.3" x2="155.2" y2="390.3" stroke="#666" stroke-width="0.35"/>
<line x1="215.2" y1="420.3" x2="215.2" y2="421.2" stroke="#666" stroke-width="0.35"/>
<line x1="154.3" y1="393.3" x2="155.2" y2="393.3" stroke="#666" stroke-width="0.35"/>
<line x1="218.2" y1="420.3" x2="218.2" y2="421.2" stroke="#666" stroke-width="0.35"/>
<line x1="154.3" y1="396.3" x2="155.2" y2="396.3" stroke="#666" stroke-width="0.35"/>
<line x1="221.2" y1="420.3" x2="221.2" y2="421.2" stroke="#666" stroke-width="0.35"/>
<line x1="154.3" y1="399.3" x2="155.2" y2="399.3" stroke="#666" stroke-width="0.35"/>
<line x1="224.2" y1="420.3" x2="224.2" y2="421.2" stroke="#666" stroke-width="0.35"/>
<line x1="154.3" y1="402.3" x2="155.2" y2="402.3" stroke="#666" stroke-width="0.35"/>
<line x1="227.2" y1="420.3" x2="227.2" y2="421.2" stroke="#666" stroke-width="0.35"/>
<line x1="154.3" y1="405.3" x2="155.2" y2="405.3" stroke="#666" stroke-width="0.35"/>
<line x1="230.2" y1="420.3" x2="230.2" y2="421.2" stroke="#666" stroke-width="0.35"/>
<line x1="154.3" y1="408.3" x2="155.2" y2="408.3" stroke="#666" stroke-width="0.35"/>
<line x1="233.2" y1="420.3" x2="233.2" y2="421.2" stroke="#666" stroke-width="0.35"/>
<line x1="154.3" y1="411.3" x2="155.2" y2="411.3" stroke="#666" stroke-width="0.35"/>
<line x1="236.2" y1="420.3" x2="236.2" y2="421.2" stroke="#666" stroke-width="0.35"/>
<line x1="154.3" y1="414.3" x2="155.2" y2="414.3" stroke="#666" stroke-width="0.35"/>
<line x1="239.2" y1="420.3" x2="239.2" y2="421.2" stroke="#666" stroke-width="0.35"/>
<line x1="154.3" y1="417.3" x2="155.2" y2="417.3" stroke="#666" stroke-width="0.35"/>
<line x1="242.2" y1="420.3" x2="242.2" y2="421.2" stroke="#666" stroke-width="0.35"/>
<line x1="154.3" y1="420.3" x2="155.2" y2="420.3" stroke="#666" stroke-width="0.35"/>
<text x="300.5" y="331.3" font-size="11.4" text-anchor="middle" fill="#111">sh-OTUD7A</text>
<path d="M290.0 379.5h0.8v0.8h-0.8zM288.9 375.4h0.8v0.8h-0.8zM290.4 379.8h0.8v0.8h-0.8zM286.8 374.4h0.8v0.8h-0.8zM307.0 378.9h0.8v0.8h-0.8zM289.5 366.7h0.8v0.8h-0.8zM294.7 384.4h0.8v0.8h-0.8zM286.4 374.3h0.8v0.8h-0.8zM290.5 381.0h0.8v0.8h-0.8zM288.5 378.7h0.8v0.8h-0.8zM312.6 356.4h0.8v0.8h-0.8zM285.8 376.3h0.8v0.8h-0.8zM305.7 355.1h0.8v0.8h-0.8zM293.0 381.7h0.8v0.8h-0.8zM302.4 357.4h0.8v0.8h-0.8zM300.6 358.1h0.8v0.8h-0.8zM296.2 355.4h0.8v0.8h-0.8zM289.3 377.4h0.8v0.8h-0.8zM298.3 352.1h0.8v0.8h-0.8zM303.9 355.9h0.8v0.8h-0.8zM288.9 378.7h0.8v0.8h-0.8zM294.8 361.4h0.8v0.8h-0.8zM289.9 366.5h0.8v0.8h-0.8zM290.3 378.5h0.8v0.8h-0.8zM296.3 381.6h0.8v0.8h-0.8zM307.3 356.9h0.8v0.8h-0.8zM305.1 377.5h0.8v0.8h-0.8zM292.0 379.4h0.8v0.8h-0.8zM303.3 356.1h0.8v0.8h-0.8zM301.9 357.2h0.8v0.8h-0.8zM298.5 358.2h0.8v0.8h-0.8zM292.2 383.9h0.8v0.8h-0.8zM289.7 367.4h0.8v0.8h-0.8zM294.7 381.8h0.8v0.8h-0.8zM299.9 380.5h0.8v0.8h-0.8zM304.4 356.2h0.8v0.8h-0.8zM287.8 376.1h0.8v0.8h-0.8zM288.4 374.7h0.8v0.8h-0.8zM290.1 380.3h0.8v0.8h-0.8zM300.6 357.0h0.8v0.8h-0.8zM293.1 361.5h0.8v0.8h-0.8zM290.3 382.3h0.8v0.8h-0.8zM309.7 357.2h0.8v0.8h-0.8zM322.7 355.5h0.8v0.8h-0.8zM306.6 347.4h0.8v0.8h-0.8zM314.6 351.4h0.8v0.8h-0.8zM330.2 356.1h0.8v0.8h-0.8zM302.4 380.5h0.8v0.8h-0.8zM308.9 356.2h0.8v0.8h-0.8zM303.7 387.3h0.8v0.8h-0.8zM315.0 357.4h0.8v0.8h-0.8zM311.8 357.8h0.8v0.8h-0.8zM315.9 357.6h0.8v0.8h-0.8zM316.2 348.8h0.8v0.8h-0.8zM294.5 361.3h0.8v0.8h-0.8zM317.9 353.6h0.8v0.8h-0.8zM315.0 356.6h0.8v0.8h-0.8zM291.6 384.8h0.8v0.8h-0.8zM308.5 355.7h0.8v0.8h-0.8zM308.9 354.3h0.8v0.8h-0.8zM289.4 367.1h0.8v0.8h-0.8zM312.2 357.5h0.8v0.8h-0.8zM312.0 354.9h0.8v0.8h-0.8zM297.6 381.6h0.8v0.8h-0.8zM316.8 357.0h0.8v0.8h-0.8zM315.4 354.7h0.8v0.8h-0.8zM305.5 356.6h0.8v0.8h-0.8zM315.7 358.0h0.8v0.8h-0.8zM306.6 375.4h0.8v0.8h-0.8zM311.9 349.9h0.8v0.8h-0.8zM306.1 352.4h0.8v0.8h-0.8zM304.2 356.5h0.8v0.8h-0.8zM295.4 359.6h0.8v0.8h-0.8zM309.3 375.5h0.8v0.8h-0.8zM305.1 351.3h0.8v0.8h-0.8zM323.8 349.6h0.8v0.8h-0.8zM297.6 380.9h0.8v0.8h-0.8zM311.4 354.6h0.8v0.8h-0.8zM307.3 355.4h0.8v0.8h-0.8zM336.1 356.0h0.8v0.8h-0.8zM317.0 353.0h0.8v0.8h-0.8zM300.6 379.2h0.8v0.8h-0.8zM318.3 346.1h0.8v0.8h-0.8zM318.3 354.1h0.8v0.8h-0.8zM301.4 356.3h0.8v0.8h-0.8zM309.9 355.6h0.8v0.8h-0.8zM301.0 382.7h0.8v0.8h-0.8zM301.8 357.7h0.8v0.8h-0.8zM307.2 377.2h0.8v0.8h-0.8zM311.5 354.2h0.8v0.8h-0.8zM295.7 357.5h0.8v0.8h-0.8zM325.5 357.8h0.8v0.8h-0.8zM329.7 355.8h0.8v0.8h-0.8zM323.5 392.5h0.8v0.8h-0.8zM315.6 402.6h0.8v0.8h-0.8zM328.2 369.1h0.8v0.8h-0.8zM318.6 356.0h0.8v0.8h-0.8zM332.1 358.8h0.8v0.8h-0.8zM322.8 350.8h0.8v0.8h-0.8zM328.0 376.1h0.8v0.8h-0.8zM326.0 356.2h0.8v0.8h-0.8zM330.7 367.8h0.8v0.8h-0.8zM328.1 359.2h0.8v0.8h-0.8zM330.4 367.6h0.8v0.8h-0.8zM332.3 366.8h0.8v0.8h-0.8zM327.8 352.3h0.8v0.8h-0.8zM319.0 356.2h0.8v0.8h-0.8zM316.9 352.2h0.8v0.8h-0.8zM332.5 368.7h0.8v0.8h-0.8zM322.3 356.7h0.8v0.8h-0.8zM323.3 358.8h0.8v0.8h-0.8zM327.1 356.0h0.8v0.8h-0.8zM332.1 363.6h0.8v0.8h-0.8zM322.8 356.9h0.8v0.8h-0.8zM326.6 356.5h0.8v0.8h-0.8zM331.7 362.6h0.8v0.8h-0.8zM329.8 371.1h0.8v0.8h-0.8zM310.2 379.6h0.8v0.8h-0.8zM322.8 344.3h0.8v0.8h-0.8zM322.3 356.0h0.8v0.8h-0.8zM330.7 377.9h0.8v0.8h-0.8zM314.4 343.0h0.8v0.8h-0.8zM310.6 357.7h0.8v0.8h-0.8zM323.9 388.5h0.8v0.8h-0.8zM312.2 354.9h0.8v0.8h-0.8zM332.2 368.4h0.8v0.8h-0.8zM330.7 367.2h0.8v0.8h-0.8zM328.6 372.4h0.8v0.8h-0.8zM331.7 363.3h0.8v0.8h-0.8zM328.7 380.2h0.8v0.8h-0.8zM325.5 356.2h0.8v0.8h-0.8zM327.9 374.5h0.8v0.8h-0.8zM327.6 380.2h0.8v0.8h-0.8zM321.8 351.9h0.8v0.8h-0.8zM334.3 364.3h0.8v0.8h-0.8zM327.4 390.3h0.8v0.8h-0.8zM332.7 383.0h0.8v0.8h-0.8zM327.8 351.6h0.8v0.8h-0.8zM313.6 355.9h0.8v0.8h-0.8zM338.5 354.5h0.8v0.8h-0.8zM319.2 350.4h0.8v0.8h-0.8zM317.3 356.7h0.8v0.8h-0.8zM316.7 355.6h0.8v0.8h-0.8zM329.7 359.0h0.8v0.8h-0.8zM314.4 350.3h0.8v0.8h-0.8zM318.4 356.2h0.8v0.8h-0.8zM325.7 352.4h0.8v0.8h-0.8zM329.1 359.3h0.8v0.8h-0.8zM319.9 353.8h0.8v0.8h-0.8zM334.8 383.3h0.8v0.8h-0.8zM331.1 354.5h0.8v0.8h-0.8zM326.4 356.9h0.8v0.8h-0.8zM327.0 383.4h0.8v0.8h-0.8zM327.1 377.6h0.8v0.8h-0.8zM332.4 360.7h0.8v0.8h-0.8zM335.5 367.2h0.8v0.8h-0.8zM322.6 351.5h0.8v0.8h-0.8zM338.5 371.3h0.8v0.8h-0.8zM308.1 357.1h0.8v0.8h-0.8zM326.7 348.1h0.8v0.8h-0.8zM331.5 369.1h0.8v0.8h-0.8zM333.1 360.9h0.8v0.8h-0.8zM327.9 377.6h0.8v0.8h-0.8zM324.1 358.2h0.8v0.8h-0.8zM322.9 356.3h0.8v0.8h-0.8zM332.2 379.9h0.8v0.8h-0.8zM328.1 380.9h0.8v0.8h-0.8zM328.2 388.3h0.8v0.8h-0.8zM328.4 366.2h0.8v0.8h-0.8zM333.8 359.6h0.8v0.8h-0.8zM328.7 370.7h0.8v0.8h-0.8zM329.4 363.4h0.8v0.8h-0.8zM309.2 379.7h0.8v0.8h-0.8zM329.0 354.8h0.8v0.8h-0.8zM333.3 355.4h0.8v0.8h-0.8zM331.1 346.9h0.8v0.8h-0.8zM322.8 348.4h0.8v0.8h-0.8zM330.4 359.3h0.8v0.8h-0.8zM297.6 399.8h0.8v0.8h-0.8zM303.0 404.6h0.8v0.8h-0.8zM324.0 389.7h0.8v0.8h-0.8zM289.2 391.5h0.8v0.8h-0.8zM304.7 403.6h0.8v0.8h-0.8zM303.5 404.7h0.8v0.8h-0.8zM298.1 389.4h0.8v0.8h-0.8zM306.2 405.1h0.8v0.8h-0.8zM305.4 383.9h0.8v0.8h-0.8zM293.6 395.2h0.8v0.8h-0.8zM330.1 376.4h0.8v0.8h-0.8zM310.3 402.0h0.8v0.8h-0.8zM297.1 387.9h0.8v0.8h-0.8zM327.4 388.1h0.8v0.8h-0.8zM308.8 381.7h0.8v0.8h-0.8zM321.3 392.7h0.8v0.8h-0.8zM315.4 398.7h0.8v0.8h-0.8zM309.0 403.3h0.8v0.8h-0.8zM297.8 394.5h0.8v0.8h-0.8zM299.7 391.4h0.8v0.8h-0.8zM301.9 386.4h0.8v0.8h-0.8zM319.3 394.1h0.8v0.8h-0.8zM329.2 382.0h0.8v0.8h-0.8zM306.8 383.9h0.8v0.8h-0.8zM290.0 403.4h0.8v0.8h-0.8zM317.7 395.5h0.8v0.8h-0.8zM303.9 385.2h0.8v0.8h-0.8zM296.3 403.4h0.8v0.8h-0.8zM314.8 397.2h0.8v0.8h-0.8zM302.2 403.2h0.8v0.8h-0.8zM304.5 385.7h0.8v0.8h-0.8zM321.3 391.8h0.8v0.8h-0.8zM313.2 399.3h0.8v0.8h-0.8zM306.7 384.3h0.8v0.8h-0.8zM309.9 376.1h0.8v0.8h-0.8zM308.1 383.5h0.8v0.8h-0.8zM297.9 391.2h0.8v0.8h-0.8zM296.5 402.5h0.8v0.8h-0.8zM297.8 394.9h0.8v0.8h-0.8zM309.2 380.7h0.8v0.8h-0.8zM314.5 397.5h0.8v0.8h-0.8zM318.9 395.3h0.8v0.8h-0.8zM310.9 400.7h0.8v0.8h-0.8zM312.7 400.4h0.8v0.8h-0.8zM307.7 403.3h0.8v0.8h-0.8zM311.3 404.9h0.8v0.8h-0.8zM293.8 399.4h0.8v0.8h-0.8zM305.1 407.6h0.8v0.8h-0.8zM298.2 402.4h0.8v0.8h-0.8zM301.2 403.4h0.8v0.8h-0.8zM296.3 392.1h0.8v0.8h-0.8zM298.8 407.6h0.8v0.8h-0.8zM294.1 401.6h0.8v0.8h-0.8zM306.7 404.5h0.8v0.8h-0.8zM306.7 410.4h0.8v0.8h-0.8zM307.3 403.8h0.8v0.8h-0.8zM309.2 404.3h0.8v0.8h-0.8zM299.8 386.6h0.8v0.8h-0.8zM301.7 384.6h0.8v0.8h-0.8zM301.9 405.8h0.8v0.8h-0.8zM293.4 398.0h0.8v0.8h-0.8zM297.9 386.8h0.8v0.8h-0.8zM303.4 410.1h0.8v0.8h-0.8zM289.7 400.5h0.8v0.8h-0.8zM291.8 398.0h0.8v0.8h-0.8zM311.9 406.8h0.8v0.8h-0.8zM302.1 407.5h0.8v0.8h-0.8zM285.3 394.7h0.8v0.8h-0.8zM305.8 405.8h0.8v0.8h-0.8zM296.0 403.9h0.8v0.8h-0.8zM295.9 397.7h0.8v0.8h-0.8zM314.0 399.7h0.8v0.8h-0.8zM301.6 389.1h0.8v0.8h-0.8zM310.1 407.0h0.8v0.8h-0.8zM297.2 409.4h0.8v0.8h-0.8zM293.4 395.9h0.8v0.8h-0.8zM317.0 409.1h0.8v0.8h-0.8zM311.4 402.8h0.8v0.8h-0.8zM299.3 391.8h0.8v0.8h-0.8zM306.9 406.2h0.8v0.8h-0.8zM310.1 402.3h0.8v0.8h-0.8zM303.6 402.7h0.8v0.8h-0.8zM308.6 401.4h0.8v0.8h-0.8zM306.9 403.2h0.8v0.8h-0.8zM304.5 407.3h0.8v0.8h-0.8zM300.9 411.5h0.8v0.8h-0.8zM290.9 404.3h0.8v0.8h-0.8zM310.5 411.9h0.8v0.8h-0.8zM306.2 402.9h0.8v0.8h-0.8zM315.0 404.4h0.8v0.8h-0.8zM295.1 393.5h0.8v0.8h-0.8zM304.5 405.0h0.8v0.8h-0.8zM304.8 409.9h0.8v0.8h-0.8zM302.0 416.6h0.8v0.8h-0.8zM296.3 416.2h0.8v0.8h-0.8zM307.3 413.5h0.8v0.8h-0.8zM312.0 417.8h0.8v0.8h-0.8zM307.3 418.6h0.8v0.8h-0.8zM300.0 412.4h0.8v0.8h-0.8zM306.3 415.3h0.8v0.8h-0.8zM300.7 407.5h0.8v0.8h-0.8zM303.3 416.2h0.8v0.8h-0.8zM304.8 410.7h0.8v0.8h-0.8zM304.1 412.1h0.8v0.8h-0.8zM310.7 405.9h0.8v0.8h-0.8zM307.1 415.0h0.8v0.8h-0.8z" fill="#243f88" stroke="none" stroke-width="1"/>
<path d="M308.5 367.1h0.8v0.8h-0.8zM290.7 373.7h0.8v0.8h-0.8zM297.5 377.7h0.8v0.8h-0.8zM292.0 369.2h0.8v0.8h-0.8zM302.8 375.3h0.8v0.8h-0.8zM307.3 371.1h0.8v0.8h-0.8zM299.3 378.6h0.8v0.8h-0.8zM307.6 374.1h0.8v0.8h-0.8zM311.4 359.5h0.8v0.8h-0.8zM309.6 369.3h0.8v0.8h-0.8zM294.6 377.3h0.8v0.8h-0.8zM292.7 366.9h0.8v0.8h-0.8zM297.7 379.5h0.8v0.8h-0.8zM305.2 372.8h0.8v0.8h-0.8zM300.0 377.0h0.8v0.8h-0.8zM308.9 358.2h0.8v0.8h-0.8zM305.8 360.2h0.8v0.8h-0.8zM298.0 377.4h0.8v0.8h-0.8zM304.6 374.1h0.8v0.8h-0.8zM301.8 376.0h0.8v0.8h-0.8zM304.9 360.7h0.8v0.8h-0.8zM299.3 378.1h0.8v0.8h-0.8zM293.6 363.6h0.8v0.8h-0.8zM292.5 379.3h0.8v0.8h-0.8zM300.7 377.3h0.8v0.8h-0.8zM308.1 359.3h0.8v0.8h-0.8zM301.8 360.6h0.8v0.8h-0.8zM300.8 360.6h0.8v0.8h-0.8zM308.1 362.5h0.8v0.8h-0.8zM289.8 374.8h0.8v0.8h-0.8zM307.3 369.8h0.8v0.8h-0.8zM301.4 377.1h0.8v0.8h-0.8zM307.0 361.1h0.8v0.8h-0.8zM291.7 374.7h0.8v0.8h-0.8zM291.3 377.9h0.8v0.8h-0.8zM310.9 358.6h0.8v0.8h-0.8zM302.4 375.5h0.8v0.8h-0.8zM291.7 375.9h0.8v0.8h-0.8zM309.0 364.8h0.8v0.8h-0.8zM290.7 370.7h0.8v0.8h-0.8zM307.7 370.2h0.8v0.8h-0.8zM293.4 377.5h0.8v0.8h-0.8zM291.7 368.8h0.8v0.8h-0.8zM295.5 364.2h0.8v0.8h-0.8zM307.1 360.2h0.8v0.8h-0.8zM291.9 376.6h0.8v0.8h-0.8zM298.0 377.8h0.8v0.8h-0.8zM311.6 368.4h0.8v0.8h-0.8zM303.9 373.9h0.8v0.8h-0.8zM290.2 373.0h0.8v0.8h-0.8zM293.8 378.7h0.8v0.8h-0.8zM306.2 371.6h0.8v0.8h-0.8zM294.1 364.3h0.8v0.8h-0.8zM296.4 377.5h0.8v0.8h-0.8zM290.7 376.1h0.8v0.8h-0.8zM298.1 379.6h0.8v0.8h-0.8zM294.8 362.5h0.8v0.8h-0.8zM307.1 371.9h0.8v0.8h-0.8zM298.7 377.7h0.8v0.8h-0.8zM299.0 361.3h0.8v0.8h-0.8zM295.6 377.5h0.8v0.8h-0.8zM295.5 377.9h0.8v0.8h-0.8zM304.1 374.3h0.8v0.8h-0.8zM290.2 371.2h0.8v0.8h-0.8zM310.1 361.8h0.8v0.8h-0.8zM298.4 379.2h0.8v0.8h-0.8zM291.6 369.7h0.8v0.8h-0.8zM306.1 360.3h0.8v0.8h-0.8zM293.6 364.6h0.8v0.8h-0.8zM307.0 360.7h0.8v0.8h-0.8zM295.7 363.3h0.8v0.8h-0.8zM299.0 360.8h0.8v0.8h-0.8zM303.2 375.8h0.8v0.8h-0.8zM291.1 373.1h0.8v0.8h-0.8zM294.2 378.0h0.8v0.8h-0.8zM292.5 364.9h0.8v0.8h-0.8zM301.8 360.4h0.8v0.8h-0.8zM306.4 370.9h0.8v0.8h-0.8zM319.0 358.7h0.8v0.8h-0.8zM309.6 358.6h0.8v0.8h-0.8zM306.6 372.2h0.8v0.8h-0.8zM294.0 365.2h0.8v0.8h-0.8zM310.9 367.2h0.8v0.8h-0.8zM290.8 371.2h0.8v0.8h-0.8zM291.2 375.1h0.8v0.8h-0.8zM291.6 370.3h0.8v0.8h-0.8zM291.0 367.2h0.8v0.8h-0.8zM306.8 372.9h0.8v0.8h-0.8zM309.4 374.2h0.8v0.8h-0.8zM324.2 360.1h0.8v0.8h-0.8zM306.6 359.2h0.8v0.8h-0.8zM306.7 357.4h0.8v0.8h-0.8zM306.7 371.8h0.8v0.8h-0.8zM308.2 367.7h0.8v0.8h-0.8zM297.5 379.0h0.8v0.8h-0.8zM298.9 377.2h0.8v0.8h-0.8zM302.7 359.6h0.8v0.8h-0.8zM308.2 358.0h0.8v0.8h-0.8zM291.0 368.0h0.8v0.8h-0.8zM302.4 376.4h0.8v0.8h-0.8zM309.1 362.3h0.8v0.8h-0.8zM314.1 368.1h0.8v0.8h-0.8zM312.5 362.2h0.8v0.8h-0.8zM305.1 359.9h0.8v0.8h-0.8zM310.4 371.1h0.8v0.8h-0.8zM315.3 362.9h0.8v0.8h-0.8zM309.8 361.4h0.8v0.8h-0.8zM291.9 367.6h0.8v0.8h-0.8zM307.7 373.9h0.8v0.8h-0.8zM312.5 361.8h0.8v0.8h-0.8zM310.4 364.5h0.8v0.8h-0.8zM312.1 367.0h0.8v0.8h-0.8zM308.2 362.8h0.8v0.8h-0.8zM308.3 359.9h0.8v0.8h-0.8zM308.7 372.3h0.8v0.8h-0.8zM317.1 358.9h0.8v0.8h-0.8zM311.6 362.7h0.8v0.8h-0.8zM309.9 372.1h0.8v0.8h-0.8zM314.7 360.3h0.8v0.8h-0.8zM314.5 371.3h0.8v0.8h-0.8zM312.6 370.7h0.8v0.8h-0.8zM316.4 364.5h0.8v0.8h-0.8zM298.8 361.6h0.8v0.8h-0.8zM313.2 359.2h0.8v0.8h-0.8zM301.7 378.1h0.8v0.8h-0.8zM321.4 358.5h0.8v0.8h-0.8zM316.7 363.9h0.8v0.8h-0.8zM321.9 366.4h0.8v0.8h-0.8zM308.2 366.8h0.8v0.8h-0.8zM308.0 360.7h0.8v0.8h-0.8zM314.4 364.2h0.8v0.8h-0.8zM312.8 358.5h0.8v0.8h-0.8zM308.1 361.4h0.8v0.8h-0.8zM293.5 378.5h0.8v0.8h-0.8zM304.9 376.0h0.8v0.8h-0.8zM310.6 364.4h0.8v0.8h-0.8zM300.0 378.2h0.8v0.8h-0.8zM311.7 371.6h0.8v0.8h-0.8zM309.6 365.0h0.8v0.8h-0.8zM320.7 361.0h0.8v0.8h-0.8zM310.1 371.5h0.8v0.8h-0.8zM312.9 358.5h0.8v0.8h-0.8zM311.3 374.2h0.8v0.8h-0.8zM306.9 357.6h0.8v0.8h-0.8zM312.0 361.0h0.8v0.8h-0.8zM309.2 358.2h0.8v0.8h-0.8zM313.7 365.2h0.8v0.8h-0.8zM303.9 373.7h0.8v0.8h-0.8zM308.0 370.2h0.8v0.8h-0.8zM320.2 358.9h0.8v0.8h-0.8zM316.2 367.0h0.8v0.8h-0.8zM314.7 361.2h0.8v0.8h-0.8zM309.5 368.1h0.8v0.8h-0.8zM309.5 359.9h0.8v0.8h-0.8zM314.1 366.1h0.8v0.8h-0.8zM311.8 360.8h0.8v0.8h-0.8zM312.1 374.5h0.8v0.8h-0.8zM305.4 360.0h0.8v0.8h-0.8zM316.1 360.7h0.8v0.8h-0.8zM291.5 372.4h0.8v0.8h-0.8zM319.5 369.8h0.8v0.8h-0.8zM320.9 360.8h0.8v0.8h-0.8zM313.3 366.1h0.8v0.8h-0.8zM322.2 365.8h0.8v0.8h-0.8zM323.5 368.2h0.8v0.8h-0.8zM327.0 376.1h0.8v0.8h-0.8zM324.4 364.4h0.8v0.8h-0.8zM318.0 369.3h0.8v0.8h-0.8zM324.4 373.0h0.8v0.8h-0.8zM317.1 374.1h0.8v0.8h-0.8zM314.2 377.2h0.8v0.8h-0.8zM324.3 381.4h0.8v0.8h-0.8zM315.5 375.5h0.8v0.8h-0.8zM325.9 381.6h0.8v0.8h-0.8zM319.1 367.1h0.8v0.8h-0.8zM316.6 380.3h0.8v0.8h-0.8zM322.9 375.8h0.8v0.8h-0.8zM310.9 358.3h0.8v0.8h-0.8zM311.8 381.9h0.8v0.8h-0.8zM319.0 380.1h0.8v0.8h-0.8zM321.2 370.9h0.8v0.8h-0.8zM313.9 370.1h0.8v0.8h-0.8zM316.1 377.9h0.8v0.8h-0.8zM320.6 370.8h0.8v0.8h-0.8zM325.2 361.7h0.8v0.8h-0.8zM321.6 367.9h0.8v0.8h-0.8zM325.3 366.2h0.8v0.8h-0.8zM313.5 366.6h0.8v0.8h-0.8zM319.1 368.3h0.8v0.8h-0.8zM311.3 366.8h0.8v0.8h-0.8zM313.4 368.5h0.8v0.8h-0.8zM320.0 377.0h0.8v0.8h-0.8zM313.3 378.8h0.8v0.8h-0.8zM320.8 378.0h0.8v0.8h-0.8zM321.7 370.5h0.8v0.8h-0.8zM323.9 367.2h0.8v0.8h-0.8zM326.6 363.2h0.8v0.8h-0.8zM314.6 373.0h0.8v0.8h-0.8zM311.6 382.4h0.8v0.8h-0.8zM318.6 376.5h0.8v0.8h-0.8zM325.2 381.0h0.8v0.8h-0.8zM326.3 367.5h0.8v0.8h-0.8zM315.8 368.1h0.8v0.8h-0.8zM321.4 360.1h0.8v0.8h-0.8zM327.2 367.1h0.8v0.8h-0.8zM313.5 375.7h0.8v0.8h-0.8zM311.7 382.4h0.8v0.8h-0.8zM324.3 367.3h0.8v0.8h-0.8zM314.7 370.4h0.8v0.8h-0.8zM317.1 377.2h0.8v0.8h-0.8zM326.7 364.4h0.8v0.8h-0.8zM322.7 366.0h0.8v0.8h-0.8zM327.1 369.3h0.8v0.8h-0.8zM318.2 374.5h0.8v0.8h-0.8zM327.1 374.5h0.8v0.8h-0.8zM320.3 362.3h0.8v0.8h-0.8zM322.9 378.7h0.8v0.8h-0.8zM315.5 363.8h0.8v0.8h-0.8zM319.9 370.8h0.8v0.8h-0.8zM313.3 371.7h0.8v0.8h-0.8zM327.1 366.0h0.8v0.8h-0.8zM326.3 366.4h0.8v0.8h-0.8zM320.6 360.1h0.8v0.8h-0.8zM314.6 373.9h0.8v0.8h-0.8zM323.7 376.7h0.8v0.8h-0.8zM308.4 358.4h0.8v0.8h-0.8zM321.1 390.9h0.8v0.8h-0.8zM312.5 371.0h0.8v0.8h-0.8zM313.1 360.3h0.8v0.8h-0.8zM320.9 370.6h0.8v0.8h-0.8zM325.4 366.6h0.8v0.8h-0.8zM326.1 364.6h0.8v0.8h-0.8zM314.6 373.8h0.8v0.8h-0.8zM320.8 376.7h0.8v0.8h-0.8zM317.0 376.7h0.8v0.8h-0.8zM313.9 359.5h0.8v0.8h-0.8zM315.3 368.4h0.8v0.8h-0.8zM321.0 380.8h0.8v0.8h-0.8zM321.9 385.5h0.8v0.8h-0.8zM321.2 367.0h0.8v0.8h-0.8zM321.1 379.3h0.8v0.8h-0.8zM318.1 392.5h0.8v0.8h-0.8zM318.6 371.4h0.8v0.8h-0.8zM311.5 381.1h0.8v0.8h-0.8zM326.1 368.0h0.8v0.8h-0.8zM324.2 369.2h0.8v0.8h-0.8zM316.3 364.4h0.8v0.8h-0.8zM322.8 381.4h0.8v0.8h-0.8zM318.6 367.6h0.8v0.8h-0.8zM324.1 378.2h0.8v0.8h-0.8zM327.6 368.8h0.8v0.8h-0.8zM319.6 374.2h0.8v0.8h-0.8zM324.4 385.1h0.8v0.8h-0.8zM312.3 363.3h0.8v0.8h-0.8zM323.4 371.3h0.8v0.8h-0.8zM315.6 363.3h0.8v0.8h-0.8zM312.1 371.8h0.8v0.8h-0.8zM311.0 363.4h0.8v0.8h-0.8zM308.9 366.5h0.8v0.8h-0.8zM307.3 386.0h0.8v0.8h-0.8zM313.4 362.0h0.8v0.8h-0.8zM310.4 368.3h0.8v0.8h-0.8zM309.5 373.2h0.8v0.8h-0.8zM320.8 370.1h0.8v0.8h-0.8zM314.1 371.6h0.8v0.8h-0.8zM321.5 373.3h0.8v0.8h-0.8zM320.6 368.7h0.8v0.8h-0.8zM319.6 368.2h0.8v0.8h-0.8zM321.0 381.3h0.8v0.8h-0.8zM311.9 374.7h0.8v0.8h-0.8zM319.3 368.7h0.8v0.8h-0.8zM312.3 375.3h0.8v0.8h-0.8zM327.3 374.2h0.8v0.8h-0.8zM310.3 368.2h0.8v0.8h-0.8zM324.7 386.2h0.8v0.8h-0.8zM318.3 363.4h0.8v0.8h-0.8zM325.1 371.4h0.8v0.8h-0.8zM316.8 362.1h0.8v0.8h-0.8zM324.0 361.8h0.8v0.8h-0.8zM318.4 369.6h0.8v0.8h-0.8zM322.2 370.3h0.8v0.8h-0.8zM307.9 371.2h0.8v0.8h-0.8zM319.0 379.3h0.8v0.8h-0.8zM319.4 367.5h0.8v0.8h-0.8zM313.7 368.9h0.8v0.8h-0.8zM323.1 382.1h0.8v0.8h-0.8zM316.8 374.9h0.8v0.8h-0.8zM312.7 372.0h0.8v0.8h-0.8zM321.8 371.0h0.8v0.8h-0.8zM325.5 372.5h0.8v0.8h-0.8zM317.7 371.5h0.8v0.8h-0.8zM310.0 361.0h0.8v0.8h-0.8zM323.8 364.0h0.8v0.8h-0.8zM313.2 375.1h0.8v0.8h-0.8zM314.9 370.9h0.8v0.8h-0.8zM315.3 375.8h0.8v0.8h-0.8zM311.4 381.2h0.8v0.8h-0.8zM317.7 371.5h0.8v0.8h-0.8zM323.9 367.6h0.8v0.8h-0.8zM324.4 363.5h0.8v0.8h-0.8zM315.4 379.9h0.8v0.8h-0.8zM320.1 362.9h0.8v0.8h-0.8zM320.7 364.6h0.8v0.8h-0.8zM307.7 373.9h0.8v0.8h-0.8zM314.6 366.2h0.8v0.8h-0.8zM324.0 382.3h0.8v0.8h-0.8zM319.0 368.7h0.8v0.8h-0.8zM315.1 377.5h0.8v0.8h-0.8zM316.6 378.9h0.8v0.8h-0.8zM317.1 374.7h0.8v0.8h-0.8zM318.1 378.9h0.8v0.8h-0.8zM321.7 364.0h0.8v0.8h-0.8zM311.8 380.4h0.8v0.8h-0.8zM323.4 370.8h0.8v0.8h-0.8zM322.7 363.6h0.8v0.8h-0.8zM316.2 375.1h0.8v0.8h-0.8zM311.5 381.9h0.8v0.8h-0.8zM318.4 365.7h0.8v0.8h-0.8zM317.3 380.8h0.8v0.8h-0.8zM322.6 368.8h0.8v0.8h-0.8zM324.8 365.5h0.8v0.8h-0.8zM318.1 373.3h0.8v0.8h-0.8zM311.8 366.8h0.8v0.8h-0.8zM313.7 364.8h0.8v0.8h-0.8zM318.9 373.6h0.8v0.8h-0.8zM313.2 396.5h0.8v0.8h-0.8zM319.8 370.4h0.8v0.8h-0.8zM315.7 370.9h0.8v0.8h-0.8zM315.1 378.5h0.8v0.8h-0.8zM319.9 372.7h0.8v0.8h-0.8zM312.0 376.5h0.8v0.8h-0.8zM324.0 379.4h0.8v0.8h-0.8zM313.1 398.0h0.8v0.8h-0.8zM321.8 363.1h0.8v0.8h-0.8zM321.9 377.3h0.8v0.8h-0.8zM319.4 376.5h0.8v0.8h-0.8zM308.9 369.5h0.8v0.8h-0.8zM311.7 367.1h0.8v0.8h-0.8zM311.7 361.3h0.8v0.8h-0.8zM322.6 367.5h0.8v0.8h-0.8zM326.8 368.6h0.8v0.8h-0.8zM326.7 378.7h0.8v0.8h-0.8zM318.7 359.5h0.8v0.8h-0.8zM311.1 366.9h0.8v0.8h-0.8zM311.7 374.1h0.8v0.8h-0.8zM315.2 362.1h0.8v0.8h-0.8zM318.1 370.6h0.8v0.8h-0.8zM314.2 375.4h0.8v0.8h-0.8zM313.6 367.2h0.8v0.8h-0.8zM325.7 375.1h0.8v0.8h-0.8zM322.2 365.6h0.8v0.8h-0.8zM315.1 369.1h0.8v0.8h-0.8zM318.5 378.7h0.8v0.8h-0.8zM319.9 371.6h0.8v0.8h-0.8zM324.2 359.8h0.8v0.8h-0.8zM321.6 390.7h0.8v0.8h-0.8zM317.3 376.4h0.8v0.8h-0.8zM320.9 378.9h0.8v0.8h-0.8zM314.5 361.5h0.8v0.8h-0.8zM323.5 366.7h0.8v0.8h-0.8zM325.9 369.6h0.8v0.8h-0.8zM321.6 385.5h0.8v0.8h-0.8zM314.9 363.5h0.8v0.8h-0.8zM312.1 364.2h0.8v0.8h-0.8zM316.0 364.8h0.8v0.8h-0.8zM316.8 375.2h0.8v0.8h-0.8zM323.1 377.7h0.8v0.8h-0.8zM319.1 361.5h0.8v0.8h-0.8zM322.1 377.0h0.8v0.8h-0.8zM317.8 369.2h0.8v0.8h-0.8zM324.4 377.9h0.8v0.8h-0.8zM323.8 365.8h0.8v0.8h-0.8zM316.7 378.5h0.8v0.8h-0.8zM321.7 369.8h0.8v0.8h-0.8zM321.4 378.8h0.8v0.8h-0.8zM312.0 372.0h0.8v0.8h-0.8zM322.0 370.8h0.8v0.8h-0.8zM314.6 381.7h0.8v0.8h-0.8zM323.8 375.7h0.8v0.8h-0.8zM316.2 363.7h0.8v0.8h-0.8zM321.7 388.7h0.8v0.8h-0.8zM324.1 371.0h0.8v0.8h-0.8zM316.6 369.1h0.8v0.8h-0.8zM320.4 372.0h0.8v0.8h-0.8zM317.4 377.1h0.8v0.8h-0.8zM321.8 367.0h0.8v0.8h-0.8zM318.5 372.2h0.8v0.8h-0.8zM319.8 371.0h0.8v0.8h-0.8zM315.1 373.6h0.8v0.8h-0.8zM313.4 374.9h0.8v0.8h-0.8zM326.5 374.7h0.8v0.8h-0.8zM314.8 362.5h0.8v0.8h-0.8zM314.3 375.4h0.8v0.8h-0.8zM320.2 364.6h0.8v0.8h-0.8zM322.2 383.8h0.8v0.8h-0.8zM318.1 368.5h0.8v0.8h-0.8zM323.1 380.6h0.8v0.8h-0.8zM324.3 365.1h0.8v0.8h-0.8zM318.0 364.2h0.8v0.8h-0.8zM325.2 377.5h0.8v0.8h-0.8zM313.3 376.2h0.8v0.8h-0.8zM310.4 367.2h0.8v0.8h-0.8zM324.9 363.8h0.8v0.8h-0.8zM321.1 367.2h0.8v0.8h-0.8zM318.4 379.3h0.8v0.8h-0.8zM318.6 368.7h0.8v0.8h-0.8zM324.8 363.2h0.8v0.8h-0.8zM322.7 361.1h0.8v0.8h-0.8zM321.5 378.5h0.8v0.8h-0.8zM312.3 375.8h0.8v0.8h-0.8zM323.8 375.9h0.8v0.8h-0.8zM327.6 367.4h0.8v0.8h-0.8zM321.0 379.2h0.8v0.8h-0.8zM314.3 374.0h0.8v0.8h-0.8zM326.1 374.6h0.8v0.8h-0.8zM322.5 371.7h0.8v0.8h-0.8zM316.0 374.4h0.8v0.8h-0.8zM311.6 363.9h0.8v0.8h-0.8zM322.6 380.4h0.8v0.8h-0.8zM316.6 369.0h0.8v0.8h-0.8zM313.1 377.1h0.8v0.8h-0.8zM315.0 368.7h0.8v0.8h-0.8zM323.7 373.4h0.8v0.8h-0.8zM320.6 369.2h0.8v0.8h-0.8zM317.4 392.0h0.8v0.8h-0.8zM298.2 395.8h0.8v0.8h-0.8zM316.6 381.3h0.8v0.8h-0.8zM318.6 380.9h0.8v0.8h-0.8zM308.4 400.4h0.8v0.8h-0.8zM305.0 387.9h0.8v0.8h-0.8zM316.0 394.4h0.8v0.8h-0.8zM300.4 399.7h0.8v0.8h-0.8zM316.6 378.2h0.8v0.8h-0.8zM301.3 395.2h0.8v0.8h-0.8zM320.4 379.0h0.8v0.8h-0.8zM299.7 392.3h0.8v0.8h-0.8zM322.6 386.2h0.8v0.8h-0.8zM309.7 385.5h0.8v0.8h-0.8zM299.5 394.7h0.8v0.8h-0.8zM317.2 393.1h0.8v0.8h-0.8zM317.1 391.9h0.8v0.8h-0.8zM315.5 394.3h0.8v0.8h-0.8zM318.4 392.7h0.8v0.8h-0.8zM325.5 384.6h0.8v0.8h-0.8zM298.6 396.0h0.8v0.8h-0.8zM310.1 385.4h0.8v0.8h-0.8zM305.3 389.5h0.8v0.8h-0.8zM310.0 384.1h0.8v0.8h-0.8zM312.1 395.9h0.8v0.8h-0.8zM310.9 396.6h0.8v0.8h-0.8zM301.8 396.2h0.8v0.8h-0.8zM309.8 383.8h0.8v0.8h-0.8zM302.0 394.2h0.8v0.8h-0.8zM308.7 400.2h0.8v0.8h-0.8zM299.4 397.6h0.8v0.8h-0.8zM303.6 399.6h0.8v0.8h-0.8zM310.9 396.6h0.8v0.8h-0.8zM317.5 391.6h0.8v0.8h-0.8zM299.2 393.6h0.8v0.8h-0.8zM307.4 384.3h0.8v0.8h-0.8zM304.4 390.5h0.8v0.8h-0.8zM317.2 381.3h0.8v0.8h-0.8zM324.3 380.9h0.8v0.8h-0.8zM304.2 390.1h0.8v0.8h-0.8zM321.3 386.6h0.8v0.8h-0.8zM310.8 382.5h0.8v0.8h-0.8zM299.8 401.0h0.8v0.8h-0.8zM322.8 381.0h0.8v0.8h-0.8zM312.7 397.6h0.8v0.8h-0.8zM320.2 388.8h0.8v0.8h-0.8zM326.6 375.8h0.8v0.8h-0.8zM310.0 398.0h0.8v0.8h-0.8zM310.6 399.3h0.8v0.8h-0.8zM306.1 399.8h0.8v0.8h-0.8zM325.1 380.9h0.8v0.8h-0.8zM323.5 377.4h0.8v0.8h-0.8zM319.6 374.8h0.8v0.8h-0.8zM305.3 398.7h0.8v0.8h-0.8zM302.1 392.6h0.8v0.8h-0.8zM300.6 400.4h0.8v0.8h-0.8zM319.4 389.5h0.8v0.8h-0.8zM308.2 386.2h0.8v0.8h-0.8zM321.7 388.2h0.8v0.8h-0.8zM307.4 398.6h0.8v0.8h-0.8zM318.0 391.5h0.8v0.8h-0.8zM306.4 399.3h0.8v0.8h-0.8zM309.3 385.7h0.8v0.8h-0.8zM304.2 400.9h0.8v0.8h-0.8zM322.9 378.9h0.8v0.8h-0.8zM310.5 385.1h0.8v0.8h-0.8zM319.7 390.9h0.8v0.8h-0.8zM300.0 393.9h0.8v0.8h-0.8zM303.6 398.5h0.8v0.8h-0.8zM313.5 383.0h0.8v0.8h-0.8zM302.7 391.3h0.8v0.8h-0.8zM305.6 386.3h0.8v0.8h-0.8zM308.5 385.2h0.8v0.8h-0.8zM321.0 384.2h0.8v0.8h-0.8zM312.1 397.3h0.8v0.8h-0.8zM320.5 387.4h0.8v0.8h-0.8zM303.8 389.0h0.8v0.8h-0.8zM321.6 388.3h0.8v0.8h-0.8zM314.5 382.7h0.8v0.8h-0.8zM306.1 388.6h0.8v0.8h-0.8zM308.5 385.8h0.8v0.8h-0.8zM306.4 387.5h0.8v0.8h-0.8zM322.1 384.5h0.8v0.8h-0.8zM299.9 391.7h0.8v0.8h-0.8zM306.7 387.5h0.8v0.8h-0.8zM310.9 382.5h0.8v0.8h-0.8zM305.4 401.0h0.8v0.8h-0.8zM317.8 394.3h0.8v0.8h-0.8zM315.0 395.3h0.8v0.8h-0.8zM310.3 399.9h0.8v0.8h-0.8zM314.3 395.7h0.8v0.8h-0.8zM307.8 398.4h0.8v0.8h-0.8zM311.5 397.6h0.8v0.8h-0.8zM311.8 381.3h0.8v0.8h-0.8zM321.1 386.4h0.8v0.8h-0.8zM314.4 381.3h0.8v0.8h-0.8zM302.4 402.1h0.8v0.8h-0.8zM308.0 401.0h0.8v0.8h-0.8zM301.7 393.0h0.8v0.8h-0.8zM300.6 398.1h0.8v0.8h-0.8zM318.0 391.6h0.8v0.8h-0.8zM314.3 379.0h0.8v0.8h-0.8zM321.0 389.4h0.8v0.8h-0.8zM309.3 399.4h0.8v0.8h-0.8zM300.6 391.9h0.8v0.8h-0.8zM298.6 395.3h0.8v0.8h-0.8zM321.7 386.5h0.8v0.8h-0.8zM313.9 381.3h0.8v0.8h-0.8zM322.5 384.9h0.8v0.8h-0.8zM321.5 381.5h0.8v0.8h-0.8zM311.8 382.9h0.8v0.8h-0.8zM311.6 396.2h0.8v0.8h-0.8zM323.2 385.5h0.8v0.8h-0.8zM304.1 399.5h0.8v0.8h-0.8zM300.5 399.8h0.8v0.8h-0.8zM299.6 399.1h0.8v0.8h-0.8zM313.1 383.5h0.8v0.8h-0.8zM322.6 384.6h0.8v0.8h-0.8zM321.8 375.9h0.8v0.8h-0.8zM320.3 389.8h0.8v0.8h-0.8zM298.6 395.7h0.8v0.8h-0.8zM320.8 379.8h0.8v0.8h-0.8zM321.8 384.9h0.8v0.8h-0.8zM324.6 380.9h0.8v0.8h-0.8zM321.2 385.2h0.8v0.8h-0.8zM322.4 382.3h0.8v0.8h-0.8zM311.8 383.6h0.8v0.8h-0.8zM319.1 389.3h0.8v0.8h-0.8zM301.1 394.2h0.8v0.8h-0.8zM302.2 397.6h0.8v0.8h-0.8zM320.3 390.6h0.8v0.8h-0.8zM313.2 397.3h0.8v0.8h-0.8zM300.8 396.6h0.8v0.8h-0.8zM300.3 394.1h0.8v0.8h-0.8zM300.8 393.6h0.8v0.8h-0.8zM304.3 400.6h0.8v0.8h-0.8zM301.3 398.0h0.8v0.8h-0.8zM302.4 398.8h0.8v0.8h-0.8zM310.3 397.4h0.8v0.8h-0.8zM302.3 392.0h0.8v0.8h-0.8zM312.2 398.4h0.8v0.8h-0.8zM301.8 394.9h0.8v0.8h-0.8zM309.9 382.6h0.8v0.8h-0.8zM305.1 399.8h0.8v0.8h-0.8zM298.6 399.9h0.8v0.8h-0.8zM318.4 391.6h0.8v0.8h-0.8zM298.2 395.2h0.8v0.8h-0.8zM304.8 398.7h0.8v0.8h-0.8zM298.0 395.6h0.8v0.8h-0.8zM305.1 400.3h0.8v0.8h-0.8zM306.1 401.5h0.8v0.8h-0.8zM300.7 399.7h0.8v0.8h-0.8zM305.5 401.4h0.8v0.8h-0.8z" fill="#2d66a8" stroke="none" stroke-width="1"/>
<path d="M292.6 374.2h1v1h-1zM303.4 372.1h1v1h-1zM293.2 369.2h1v1h-1zM305.8 365.6h1v1h-1zM307.5 365.5h1v1h-1zM306.4 362.1h1v1h-1zM303.9 362.8h1v1h-1zM295.2 375.8h1v1h-1zM300.4 362.9h1v1h-1zM293.7 374.5h1v1h-1zM293.1 370.5h1v1h-1zM301.5 375.3h1v1h-1zM293.8 376.0h1v1h-1zM294.3 366.7h1v1h-1zM292.3 372.6h1v1h-1zM295.0 375.5h1v1h-1zM306.4 362.1h1v1h-1zM304.8 372.6h1v1h-1zM295.1 375.4h1v1h-1zM298.3 376.3h1v1h-1zM293.4 371.8h1v1h-1zM292.7 371.9h1v1h-1zM305.5 370.1h1v1h-1zM295.3 376.3h1v1h-1zM306.2 367.4h1v1h-1zM304.8 369.8h1v1h-1zM299.6 362.9h1v1h-1zM305.1 362.6h1v1h-1zM299.6 362.0h1v1h-1zM294.8 377.0h1v1h-1zM292.9 372.1h1v1h-1zM306.3 370.1h1v1h-1zM302.8 361.1h1v1h-1zM294.6 376.4h1v1h-1zM292.4 375.0h1v1h-1zM293.6 369.5h1v1h-1zM302.9 372.8h1v1h-1zM305.1 369.6h1v1h-1zM301.3 362.7h1v1h-1zM306.1 362.6h1v1h-1zM306.4 364.6h1v1h-1zM298.5 376.5h1v1h-1zM297.5 363.0h1v1h-1zM292.7 375.4h1v1h-1zM306.7 367.8h1v1h-1zM294.2 376.5h1v1h-1zM294.9 376.0h1v1h-1zM293.1 372.6h1v1h-1zM305.7 368.2h1v1h-1zM294.0 368.3h1v1h-1zM302.3 362.5h1v1h-1zM303.8 361.5h1v1h-1zM300.3 375.9h1v1h-1zM300.2 362.7h1v1h-1zM307.2 364.4h1v1h-1zM306.5 363.5h1v1h-1zM304.5 371.9h1v1h-1zM304.5 361.2h1v1h-1zM294.4 375.1h1v1h-1zM304.9 361.6h1v1h-1zM293.8 375.5h1v1h-1zM307.3 363.4h1v1h-1zM300.8 361.6h1v1h-1zM293.4 367.2h1v1h-1zM292.2 373.9h1v1h-1zM295.3 366.5h1v1h-1zM298.9 361.9h1v1h-1zM306.4 363.5h1v1h-1zM306.5 370.4h1v1h-1zM293.1 370.5h1v1h-1zM305.9 363.4h1v1h-1zM301.8 362.6h1v1h-1zM293.9 366.4h1v1h-1zM299.8 375.5h1v1h-1zM294.3 367.1h1v1h-1zM305.8 369.8h1v1h-1zM298.8 375.4h1v1h-1zM294.4 366.5h1v1h-1zM303.4 361.2h1v1h-1zM293.7 376.6h1v1h-1zM293.0 372.6h1v1h-1zM305.7 366.2h1v1h-1zM293.4 369.1h1v1h-1zM295.1 365.3h1v1h-1zM292.5 370.2h1v1h-1zM293.7 374.9h1v1h-1zM293.5 369.3h1v1h-1zM293.8 374.0h1v1h-1zM293.6 369.1h1v1h-1zM304.6 363.5h1v1h-1zM306.8 366.7h1v1h-1zM292.6 370.0h1v1h-1zM294.6 375.9h1v1h-1zM306.6 370.0h1v1h-1zM294.5 374.9h1v1h-1zM307.7 365.1h1v1h-1zM300.5 375.1h1v1h-1zM293.1 367.9h1v1h-1zM295.8 376.2h1v1h-1zM302.5 361.4h1v1h-1zM293.4 367.7h1v1h-1zM300.6 361.1h1v1h-1zM292.1 373.6h1v1h-1zM307.3 364.4h1v1h-1zM305.2 370.8h1v1h-1zM307.7 366.7h1v1h-1zM305.6 367.3h1v1h-1zM294.1 366.3h1v1h-1zM307.0 368.7h1v1h-1zM298.2 375.5h1v1h-1zM307.4 366.1h1v1h-1zM305.6 370.3h1v1h-1zM303.9 371.6h1v1h-1zM301.1 375.7h1v1h-1zM300.3 374.4h1v1h-1zM305.8 364.3h1v1h-1zM306.0 361.4h1v1h-1zM300.8 374.1h1v1h-1zM303.4 360.6h1v1h-1zM305.8 366.4h1v1h-1zM299.7 376.3h1v1h-1zM307.4 366.1h1v1h-1zM306.6 388.6h1v1h-1zM317.4 384.7h1v1h-1zM320.6 383.4h1v1h-1zM306.0 367.1h1v1h-1zM307.5 364.7h1v1h-1zM310.4 395.4h1v1h-1zM310.8 387.5h1v1h-1zM318.1 382.2h1v1h-1zM316.1 386.6h1v1h-1zM316.1 392.0h1v1h-1zM309.7 388.4h1v1h-1zM312.5 385.0h1v1h-1zM320.1 385.4h1v1h-1zM314.3 392.9h1v1h-1zM308.2 366.7h1v1h-1zM318.5 384.9h1v1h-1zM319.1 384.0h1v1h-1zM311.1 386.4h1v1h-1zM316.6 384.4h1v1h-1zM318.5 381.8h1v1h-1zM319.2 388.5h1v1h-1zM317.6 387.0h1v1h-1zM310.8 386.6h1v1h-1zM305.9 392.5h1v1h-1zM309.1 386.5h1v1h-1zM309.0 396.3h1v1h-1zM315.9 384.3h1v1h-1zM306.5 392.7h1v1h-1zM312.4 384.1h1v1h-1zM303.7 394.6h1v1h-1zM309.1 396.4h1v1h-1zM316.8 391.5h1v1h-1zM317.3 384.7h1v1h-1zM308.0 389.3h1v1h-1zM303.9 393.9h1v1h-1zM304.6 391.5h1v1h-1zM307.3 390.1h1v1h-1zM319.0 386.7h1v1h-1zM309.8 386.3h1v1h-1zM303.5 393.8h1v1h-1zM309.3 394.3h1v1h-1zM302.5 395.2h1v1h-1zM312.8 394.2h1v1h-1zM310.3 387.0h1v1h-1zM307.5 396.4h1v1h-1zM311.3 394.3h1v1h-1zM316.3 389.5h1v1h-1zM312.4 386.9h1v1h-1zM311.5 394.5h1v1h-1zM316.3 382.3h1v1h-1zM304.8 395.6h1v1h-1zM306.4 393.7h1v1h-1zM312.3 384.2h1v1h-1zM320.9 385.0h1v1h-1zM315.8 385.6h1v1h-1zM317.2 386.7h1v1h-1zM308.7 396.1h1v1h-1zM315.0 385.9h1v1h-1zM312.9 394.4h1v1h-1zM314.9 385.6h1v1h-1zM314.5 392.0h1v1h-1zM317.3 386.5h1v1h-1zM305.3 392.3h1v1h-1zM314.7 383.9h1v1h-1zM316.2 383.5h1v1h-1zM305.0 392.9h1v1h-1zM307.5 395.2h1v1h-1zM310.1 387.1h1v1h-1zM305.2 394.5h1v1h-1zM308.7 389.2h1v1h-1zM319.4 388.7h1v1h-1zM315.0 393.5h1v1h-1zM316.2 384.5h1v1h-1zM306.6 390.2h1v1h-1zM309.1 387.0h1v1h-1zM319.1 384.5h1v1h-1zM316.8 390.3h1v1h-1zM305.2 391.4h1v1h-1zM312.5 384.4h1v1h-1zM317.7 385.6h1v1h-1zM317.4 387.0h1v1h-1zM305.3 395.1h1v1h-1zM318.1 390.2h1v1h-1zM317.5 383.9h1v1h-1zM319.8 386.0h1v1h-1zM306.6 396.9h1v1h-1zM315.2 391.1h1v1h-1zM308.6 395.0h1v1h-1zM307.8 397.5h1v1h-1zM320.4 385.2h1v1h-1zM319.0 384.9h1v1h-1zM307.5 395.4h1v1h-1zM319.7 385.7h1v1h-1zM305.1 397.2h1v1h-1zM316.3 390.7h1v1h-1zM309.0 395.0h1v1h-1zM316.0 385.4h1v1h-1zM316.5 387.9h1v1h-1zM313.3 385.8h1v1h-1zM314.5 391.3h1v1h-1zM319.3 385.0h1v1h-1zM314.1 393.5h1v1h-1zM315.3 391.8h1v1h-1zM314.8 391.9h1v1h-1zM311.0 386.8h1v1h-1zM319.3 385.6h1v1h-1zM309.8 387.8h1v1h-1zM305.9 392.7h1v1h-1zM311.3 387.1h1v1h-1zM309.8 388.0h1v1h-1zM305.3 391.5h1v1h-1zM318.8 389.3h1v1h-1zM309.3 387.3h1v1h-1zM305.6 393.4h1v1h-1zM315.7 383.2h1v1h-1zM307.2 389.7h1v1h-1zM306.3 395.8h1v1h-1zM314.9 393.0h1v1h-1zM314.7 391.8h1v1h-1zM310.6 387.5h1v1h-1zM312.6 393.2h1v1h-1zM320.3 385.4h1v1h-1zM318.3 383.0h1v1h-1zM319.4 386.5h1v1h-1zM318.3 386.5h1v1h-1zM318.9 382.3h1v1h-1zM305.7 391.8h1v1h-1zM306.5 395.0h1v1h-1zM313.0 392.6h1v1h-1zM305.6 395.8h1v1h-1zM315.2 391.1h1v1h-1zM303.1 396.0h1v1h-1zM317.1 391.2h1v1h-1zM312.6 385.2h1v1h-1zM311.1 385.8h1v1h-1zM318.0 390.3h1v1h-1zM315.5 391.8h1v1h-1zM307.7 394.9h1v1h-1zM308.5 395.7h1v1h-1zM319.0 382.5h1v1h-1zM318.4 388.8h1v1h-1zM305.0 391.4h1v1h-1zM303.8 393.9h1v1h-1zM317.0 387.5h1v1h-1zM307.1 389.1h1v1h-1zM317.0 387.9h1v1h-1zM303.6 397.4h1v1h-1zM317.1 388.8h1v1h-1zM319.7 383.3h1v1h-1zM306.2 393.5h1v1h-1zM318.2 388.7h1v1h-1zM319.8 383.1h1v1h-1zM314.2 392.5h1v1h-1zM307.9 389.9h1v1h-1zM305.4 395.2h1v1h-1zM311.5 394.6h1v1h-1zM309.9 394.1h1v1h-1zM313.3 384.2h1v1h-1zM318.2 387.2h1v1h-1zM316.7 388.7h1v1h-1zM318.3 387.0h1v1h-1zM315.2 383.6h1v1h-1zM305.0 397.5h1v1h-1zM305.2 393.6h1v1h-1zM310.0 395.8h1v1h-1zM303.4 393.4h1v1h-1zM305.7 395.8h1v1h-1zM309.0 397.1h1v1h-1zM310.8 395.9h1v1h-1zM304.8 392.1h1v1h-1zM315.3 391.0h1v1h-1zM307.1 396.9h1v1h-1zM306.9 389.5h1v1h-1zM305.0 396.2h1v1h-1z" fill="#2f9a96" stroke="none" stroke-width="1"/>
<path d="M296.0 374.2h1v1h-1zM303.7 364.0h1v1h-1zM303.4 365.6h1v1h-1zM294.7 368.2h1v1h-1zM298.1 375.1h1v1h-1zM303.5 364.9h1v1h-1zM305.0 365.9h1v1h-1zM297.0 374.5h1v1h-1zM304.9 364.8h1v1h-1zM293.7 372.3h1v1h-1zM297.6 366.0h1v1h-1zM296.7 373.9h1v1h-1zM297.4 364.7h1v1h-1zM295.6 367.1h1v1h-1zM297.6 374.3h1v1h-1zM299.2 364.7h1v1h-1zM302.8 370.5h1v1h-1zM305.1 365.9h1v1h-1zM296.5 366.5h1v1h-1zM300.0 363.4h1v1h-1zM294.6 368.3h1v1h-1zM305.2 364.5h1v1h-1zM294.6 369.1h1v1h-1zM301.5 372.8h1v1h-1zM297.7 373.9h1v1h-1zM304.5 369.2h1v1h-1zM294.7 370.7h1v1h-1zM294.9 372.7h1v1h-1zM304.3 363.9h1v1h-1zM294.4 370.1h1v1h-1zM300.3 363.3h1v1h-1zM300.0 373.4h1v1h-1zM303.8 364.4h1v1h-1zM296.3 367.1h1v1h-1zM294.6 368.8h1v1h-1zM297.6 365.3h1v1h-1zM303.0 362.9h1v1h-1zM303.5 365.3h1v1h-1zM296.6 365.7h1v1h-1zM303.5 368.7h1v1h-1zM302.0 364.2h1v1h-1zM301.3 373.2h1v1h-1zM302.8 363.2h1v1h-1zM304.7 365.1h1v1h-1zM301.3 364.3h1v1h-1zM294.8 370.3h1v1h-1zM295.4 368.2h1v1h-1zM305.1 364.9h1v1h-1zM300.2 364.5h1v1h-1zM300.3 373.8h1v1h-1zM301.9 364.1h1v1h-1zM294.1 370.2h1v1h-1zM303.5 364.7h1v1h-1zM294.3 371.2h1v1h-1zM294.9 370.1h1v1h-1zM293.6 370.7h1v1h-1zM303.9 366.6h1v1h-1zM304.4 365.9h1v1h-1zM294.6 374.1h1v1h-1zM295.5 368.6h1v1h-1zM303.9 366.1h1v1h-1zM296.1 373.3h1v1h-1zM301.8 371.7h1v1h-1zM297.7 365.4h1v1h-1zM297.8 365.6h1v1h-1zM296.0 374.1h1v1h-1zM302.9 371.0h1v1h-1zM293.5 372.3h1v1h-1zM303.1 364.8h1v1h-1zM303.5 364.2h1v1h-1zM304.7 369.5h1v1h-1zM295.2 372.8h1v1h-1zM295.3 367.3h1v1h-1zM303.1 364.3h1v1h-1zM295.9 375.1h1v1h-1zM295.4 373.1h1v1h-1zM302.7 364.3h1v1h-1zM300.8 364.1h1v1h-1zM303.7 365.8h1v1h-1zM295.2 373.3h1v1h-1zM303.7 364.5h1v1h-1zM296.0 366.7h1v1h-1zM303.7 367.7h1v1h-1zM299.0 374.0h1v1h-1zM294.6 370.5h1v1h-1zM298.5 374.1h1v1h-1zM301.0 373.0h1v1h-1zM300.5 373.7h1v1h-1zM301.6 364.2h1v1h-1zM295.5 373.3h1v1h-1zM302.6 363.4h1v1h-1zM294.4 369.8h1v1h-1zM302.3 370.9h1v1h-1zM298.1 364.5h1v1h-1zM294.6 369.9h1v1h-1zM295.2 373.0h1v1h-1zM303.8 363.9h1v1h-1zM299.6 373.4h1v1h-1zM293.7 372.2h1v1h-1zM296.4 366.2h1v1h-1zM296.3 365.7h1v1h-1zM301.9 373.0h1v1h-1zM303.3 365.2h1v1h-1zM301.8 364.1h1v1h-1zM300.1 373.5h1v1h-1zM304.4 364.8h1v1h-1zM296.9 366.0h1v1h-1zM305.3 366.3h1v1h-1zM298.4 364.1h1v1h-1zM304.3 367.0h1v1h-1zM302.3 372.4h1v1h-1zM303.0 370.4h1v1h-1zM303.1 370.6h1v1h-1zM299.7 363.9h1v1h-1zM302.8 363.7h1v1h-1zM294.6 373.8h1v1h-1zM304.5 368.0h1v1h-1zM294.6 372.1h1v1h-1zM313.2 387.3h1v1h-1zM314.6 386.4h1v1h-1zM303.1 370.0h1v1h-1zM316.1 386.9h1v1h-1zM314.7 388.6h1v1h-1zM314.7 389.0h1v1h-1zM312.7 388.0h1v1h-1zM308.4 391.3h1v1h-1zM310.8 391.6h1v1h-1zM310.6 390.6h1v1h-1zM308.2 391.1h1v1h-1zM314.9 390.2h1v1h-1zM309.1 389.2h1v1h-1zM314.4 387.6h1v1h-1zM316.0 387.8h1v1h-1zM314.6 388.5h1v1h-1zM313.7 389.8h1v1h-1zM308.9 391.4h1v1h-1zM311.1 393.2h1v1h-1zM315.5 389.3h1v1h-1zM313.3 390.5h1v1h-1zM315.3 389.7h1v1h-1zM310.1 392.1h1v1h-1zM309.3 389.0h1v1h-1zM309.5 390.3h1v1h-1zM314.2 388.0h1v1h-1zM309.2 392.3h1v1h-1zM314.5 387.8h1v1h-1zM307.8 391.2h1v1h-1zM313.2 388.3h1v1h-1zM310.3 391.4h1v1h-1zM307.8 392.5h1v1h-1zM312.3 389.0h1v1h-1zM310.9 393.3h1v1h-1zM309.1 390.1h1v1h-1zM310.9 390.3h1v1h-1zM311.3 389.2h1v1h-1zM311.5 388.4h1v1h-1zM315.5 388.3h1v1h-1zM310.4 390.3h1v1h-1zM310.0 390.9h1v1h-1zM310.5 390.7h1v1h-1zM311.5 388.0h1v1h-1zM310.8 389.9h1v1h-1zM307.5 392.2h1v1h-1zM311.2 392.7h1v1h-1zM310.3 392.0h1v1h-1zM312.6 389.5h1v1h-1zM307.9 392.9h1v1h-1zM311.0 393.0h1v1h-1zM309.2 389.6h1v1h-1zM312.8 390.0h1v1h-1zM314.3 386.9h1v1h-1zM312.0 389.8h1v1h-1zM312.5 389.9h1v1h-1zM310.0 389.5h1v1h-1zM309.3 390.5h1v1h-1zM309.5 389.9h1v1h-1zM310.6 390.1h1v1h-1zM314.9 388.4h1v1h-1zM313.1 387.4h1v1h-1zM313.4 387.6h1v1h-1zM308.8 393.7h1v1h-1zM312.2 387.9h1v1h-1zM309.8 390.4h1v1h-1zM312.3 392.7h1v1h-1zM307.6 392.8h1v1h-1zM307.0 391.7h1v1h-1zM310.1 393.7h1v1h-1zM307.5 391.7h1v1h-1zM311.0 393.1h1v1h-1zM312.9 392.4h1v1h-1zM315.7 386.4h1v1h-1zM312.1 389.6h1v1h-1zM311.1 388.7h1v1h-1zM309.3 392.3h1v1h-1zM311.8 391.7h1v1h-1zM310.5 391.1h1v1h-1zM313.4 387.1h1v1h-1zM309.6 393.9h1v1h-1zM309.4 391.9h1v1h-1zM315.8 388.5h1v1h-1zM314.8 388.1h1v1h-1zM314.9 387.9h1v1h-1zM310.9 388.6h1v1h-1zM315.2 389.4h1v1h-1zM309.8 389.8h1v1h-1zM306.7 393.5h1v1h-1zM315.6 387.8h1v1h-1zM313.3 391.9h1v1h-1zM310.8 393.5h1v1h-1zM309.8 390.3h1v1h-1zM311.5 388.5h1v1h-1zM311.8 393.1h1v1h-1zM311.2 387.8h1v1h-1zM311.1 389.0h1v1h-1zM313.5 387.4h1v1h-1zM310.4 389.8h1v1h-1zM310.3 389.4h1v1h-1zM313.4 389.9h1v1h-1zM310.7 393.7h1v1h-1zM312.8 387.1h1v1h-1zM311.1 390.6h1v1h-1zM310.5 388.7h1v1h-1zM315.5 388.2h1v1h-1zM314.6 390.7h1v1h-1zM315.8 389.0h1v1h-1zM313.0 387.8h1v1h-1zM315.2 390.1h1v1h-1zM316.0 387.0h1v1h-1zM313.2 389.6h1v1h-1zM312.8 391.1h1v1h-1zM311.1 390.7h1v1h-1zM310.7 392.1h1v1h-1zM315.6 388.6h1v1h-1zM307.9 391.6h1v1h-1zM312.5 391.8h1v1h-1zM310.1 392.2h1v1h-1z" fill="#48ad52" stroke="none" stroke-width="1"/>
<path d="M297.0 368.3h1v1h-1zM303.0 367.4h1v1h-1zM300.7 371.3h1v1h-1zM296.1 371.1h1v1h-1zM296.3 370.5h1v1h-1zM303.3 365.7h1v1h-1zM297.4 372.9h1v1h-1zM296.1 368.4h1v1h-1zM296.3 369.4h1v1h-1zM298.8 365.8h1v1h-1zM296.3 371.8h1v1h-1zM297.5 367.0h1v1h-1zM298.3 372.4h1v1h-1zM295.9 370.6h1v1h-1zM303.4 366.3h1v1h-1zM303.5 367.4h1v1h-1zM301.9 369.8h1v1h-1zM301.5 370.9h1v1h-1zM296.2 372.1h1v1h-1zM295.6 370.8h1v1h-1zM302.7 366.6h1v1h-1zM299.8 372.4h1v1h-1zM298.1 372.8h1v1h-1zM297.4 372.6h1v1h-1zM296.7 368.0h1v1h-1zM296.0 368.1h1v1h-1zM298.9 373.1h1v1h-1zM302.0 371.0h1v1h-1zM301.5 370.3h1v1h-1zM303.5 366.8h1v1h-1zM295.8 371.2h1v1h-1zM298.5 365.7h1v1h-1zM303.0 368.1h1v1h-1zM295.8 371.3h1v1h-1zM301.5 364.6h1v1h-1zM299.9 372.1h1v1h-1zM301.7 370.6h1v1h-1zM302.6 365.9h1v1h-1zM295.8 371.3h1v1h-1zM299.7 365.9h1v1h-1zM302.3 365.7h1v1h-1zM297.5 367.6h1v1h-1zM299.3 365.3h1v1h-1zM300.8 371.5h1v1h-1zM295.9 368.7h1v1h-1zM303.3 368.2h1v1h-1zM303.6 366.7h1v1h-1zM295.3 370.4h1v1h-1zM296.2 370.9h1v1h-1zM297.5 373.5h1v1h-1zM296.3 369.8h1v1h-1zM296.4 373.1h1v1h-1zM298.6 366.5h1v1h-1zM295.2 371.7h1v1h-1zM295.4 372.2h1v1h-1zM296.5 372.4h1v1h-1zM296.8 372.7h1v1h-1zM302.9 367.9h1v1h-1zM301.3 365.8h1v1h-1zM302.6 366.4h1v1h-1zM301.6 370.9h1v1h-1zM299.3 372.3h1v1h-1zM301.5 364.9h1v1h-1zM302.3 365.4h1v1h-1zM302.1 369.2h1v1h-1zM299.3 365.6h1v1h-1zM295.6 370.8h1v1h-1zM302.4 366.7h1v1h-1zM302.9 367.0h1v1h-1zM298.7 365.4h1v1h-1zM296.2 368.2h1v1h-1zM297.3 367.8h1v1h-1zM301.2 364.6h1v1h-1zM296.3 370.9h1v1h-1zM296.2 368.1h1v1h-1zM295.4 370.8h1v1h-1zM296.9 372.6h1v1h-1zM296.3 369.8h1v1h-1zM297.7 366.6h1v1h-1zM297.0 372.2h1v1h-1zM302.7 370.2h1v1h-1zM302.9 368.9h1v1h-1zM295.4 370.6h1v1h-1zM299.5 365.9h1v1h-1zM300.4 372.4h1v1h-1zM297.6 372.3h1v1h-1zM301.6 366.2h1v1h-1z" fill="#a2c238" stroke="none" stroke-width="1"/>
<path d="M300.5 370.3h1v1h-1zM298.1 371.5h1v1h-1zM299.8 366.8h1v1h-1zM296.5 370.5h1v1h-1zM296.9 369.8h1v1h-1zM300.9 366.9h1v1h-1zM298.0 368.0h1v1h-1zM299.0 371.9h1v1h-1zM296.5 371.1h1v1h-1zM297.5 369.0h1v1h-1zM299.6 366.2h1v1h-1zM297.0 369.9h1v1h-1zM301.5 366.6h1v1h-1zM297.3 368.6h1v1h-1zM302.1 367.3h1v1h-1zM301.4 368.3h1v1h-1zM301.0 367.3h1v1h-1zM296.5 369.5h1v1h-1zM297.1 371.3h1v1h-1zM297.3 370.8h1v1h-1zM301.5 367.1h1v1h-1zM300.3 371.0h1v1h-1zM297.0 369.3h1v1h-1zM302.3 368.5h1v1h-1zM301.1 366.1h1v1h-1zM301.1 366.3h1v1h-1zM301.4 369.3h1v1h-1zM296.9 369.8h1v1h-1zM301.7 366.4h1v1h-1zM297.4 371.9h1v1h-1zM298.0 371.2h1v1h-1zM300.8 366.1h1v1h-1zM301.1 366.3h1v1h-1zM301.0 367.1h1v1h-1zM297.4 368.9h1v1h-1zM299.8 367.0h1v1h-1zM296.4 370.6h1v1h-1zM300.5 371.0h1v1h-1zM298.5 367.2h1v1h-1zM300.9 370.5h1v1h-1zM299.8 366.6h1v1h-1zM300.3 371.2h1v1h-1zM297.3 368.0h1v1h-1zM301.3 369.7h1v1h-1zM296.6 369.3h1v1h-1zM300.8 369.8h1v1h-1zM298.2 371.4h1v1h-1zM301.9 369.0h1v1h-1zM301.7 366.5h1v1h-1zM299.4 366.8h1v1h-1zM300.2 366.1h1v1h-1zM301.5 368.5h1v1h-1zM300.9 367.1h1v1h-1zM298.9 367.1h1v1h-1zM296.7 370.1h1v1h-1zM297.4 368.8h1v1h-1zM301.0 366.4h1v1h-1zM301.9 366.5h1v1h-1zM298.1 367.2h1v1h-1zM301.5 369.3h1v1h-1zM298.4 367.5h1v1h-1zM296.7 369.0h1v1h-1zM300.4 366.8h1v1h-1zM300.0 366.7h1v1h-1zM301.5 369.6h1v1h-1zM297.1 369.2h1v1h-1zM301.9 367.5h1v1h-1z" fill="#e29a2c" stroke="none" stroke-width="1"/>
<path d="M299.6 367.2h1v1h-1zM299.3 367.6h1v1h-1zM299.5 369.4h1v1h-1zM300.7 367.5h1v1h-1zM298.1 369.9h1v1h-1zM300.4 367.7h1v1h-1zM300.5 368.6h1v1h-1zM299.6 367.4h1v1h-1zM299.2 368.0h1v1h-1zM298.5 368.0h1v1h-1zM300.4 367.1h1v1h-1zM301.0 369.2h1v1h-1zM299.5 368.1h1v1h-1zM297.7 370.9h1v1h-1zM299.9 367.8h1v1h-1zM299.7 369.5h1v1h-1zM300.2 369.7h1v1h-1zM298.2 370.8h1v1h-1zM300.9 369.1h1v1h-1zM299.9 369.4h1v1h-1zM299.9 367.1h1v1h-1zM300.6 369.4h1v1h-1zM298.8 369.3h1v1h-1zM299.1 370.2h1v1h-1zM300.4 370.1h1v1h-1zM300.7 369.8h1v1h-1zM300.0 369.7h1v1h-1zM299.0 371.1h1v1h-1zM298.7 367.7h1v1h-1zM300.8 369.1h1v1h-1zM300.4 368.1h1v1h-1zM298.1 371.0h1v1h-1zM300.5 369.4h1v1h-1zM300.6 368.5h1v1h-1zM298.0 370.4h1v1h-1zM297.8 368.8h1v1h-1zM300.5 368.1h1v1h-1zM297.6 369.2h1v1h-1zM298.8 369.2h1v1h-1zM299.7 368.6h1v1h-1zM299.0 367.4h1v1h-1zM298.2 370.7h1v1h-1zM297.6 368.9h1v1h-1zM298.4 371.2h1v1h-1zM300.2 369.6h1v1h-1zM299.5 368.4h1v1h-1zM297.6 370.9h1v1h-1z" fill="#dc5528" stroke="none" stroke-width="1"/>
<rect x="257" y="333.3" width="87" height="87" fill="none" stroke="#333" stroke-width="0.8"/>
<line x1="257" y1="384.3" x2="344" y2="384.3" stroke="#333" stroke-width="0.8"/>
<line x1="332.3" y1="356.8" x2="332.3" y2="420.3" stroke="#333" stroke-width="0.8"/>
<text x="259.2" y="344.5" font-size="6" fill="#222">Q1</text>
<text x="259.2" y="353.1" font-size="6" fill="#222">74.8</text>
<text x="327" y="344.5" font-size="6" fill="#222">Q2</text>
<text x="336.6" y="353.1" font-size="6" text-anchor="end" fill="#222">0.021</text>
<text x="259.2" y="405.8" font-size="6" fill="#222">Q4</text>
<text x="259.2" y="414.4" font-size="6" fill="#222">25.2</text>
<text x="327" y="405.8" font-size="6" fill="#222">Q3</text>
<text x="336.6" y="414.4" font-size="6" text-anchor="end" fill="#222">0</text>
<line x1="255.2" y1="342.8" x2="257" y2="342.8" stroke="#444" stroke-width="0.5"/>
<text x="253.8" y="343.8" font-size="3" text-anchor="end" fill="#555">10</text>
<line x1="255.2" y1="364.8" x2="257" y2="364.8" stroke="#444" stroke-width="0.5"/>
<text x="253.8" y="365.8" font-size="3" text-anchor="end" fill="#555">10</text>
<line x1="255.2" y1="386.3" x2="257" y2="386.3" stroke="#444" stroke-width="0.5"/>
<text x="253.8" y="387.3" font-size="3" text-anchor="end" fill="#555">10</text>
<line x1="255.2" y1="408.8" x2="257" y2="408.8" stroke="#444" stroke-width="0.5"/>
<text x="253.8" y="409.8" font-size="3" text-anchor="end" fill="#555">10</text>
<line x1="272" y1="420.3" x2="272" y2="422.1" stroke="#444" stroke-width="0.5"/>
<text x="272" y="425.8" font-size="3" text-anchor="middle" fill="#555">10</text>
<line x1="302" y1="420.3" x2="302" y2="422.1" stroke="#444" stroke-width="0.5"/>
<text x="302" y="425.8" font-size="3" text-anchor="middle" fill="#555">10</text>
<line x1="332" y1="420.3" x2="332" y2="422.1" stroke="#444" stroke-width="0.5"/>
<text x="332" y="425.8" font-size="3" text-anchor="middle" fill="#555">10</text>
<line x1="260" y1="420.3" x2="260" y2="421.2" stroke="#666" stroke-width="0.35"/>
<line x1="256.1" y1="336.3" x2="257" y2="336.3" stroke="#666" stroke-width="0.35"/>
<line x1="263" y1="420.3" x2="263" y2="421.2" stroke="#666" stroke-width="0.35"/>
<line x1="256.1" y1="339.3" x2="257" y2="339.3" stroke="#666" stroke-width="0.35"/>
<line x1="266" y1="420.3" x2="266" y2="421.2" stroke="#666" stroke-width="0.35"/>
<line x1="256.1" y1="342.3" x2="257" y2="342.3" stroke="#666" stroke-width="0.35"/>
<line x1="269" y1="420.3" x2="269" y2="421.2" stroke="#666" stroke-width="0.35"/>
<line x1="256.1" y1="345.3" x2="257" y2="345.3" stroke="#666" stroke-width="0.35"/>
<line x1="272" y1="420.3" x2="272" y2="421.2" stroke="#666" stroke-width="0.35"/>
<line x1="256.1" y1="348.3" x2="257" y2="348.3" stroke="#666" stroke-width="0.35"/>
<line x1="275" y1="420.3" x2="275" y2="421.2" stroke="#666" stroke-width="0.35"/>
<line x1="256.1" y1="351.3" x2="257" y2="351.3" stroke="#666" stroke-width="0.35"/>
<line x1="278" y1="420.3" x2="278" y2="421.2" stroke="#666" stroke-width="0.35"/>
<line x1="256.1" y1="354.3" x2="257" y2="354.3" stroke="#666" stroke-width="0.35"/>
<line x1="281" y1="420.3" x2="281" y2="421.2" stroke="#666" stroke-width="0.35"/>
<line x1="256.1" y1="357.3" x2="257" y2="357.3" stroke="#666" stroke-width="0.35"/>
<line x1="284" y1="420.3" x2="284" y2="421.2" stroke="#666" stroke-width="0.35"/>
<line x1="256.1" y1="360.3" x2="257" y2="360.3" stroke="#666" stroke-width="0.35"/>
<line x1="287" y1="420.3" x2="287" y2="421.2" stroke="#666" stroke-width="0.35"/>
<line x1="256.1" y1="363.3" x2="257" y2="363.3" stroke="#666" stroke-width="0.35"/>
<line x1="290" y1="420.3" x2="290" y2="421.2" stroke="#666" stroke-width="0.35"/>
<line x1="256.1" y1="366.3" x2="257" y2="366.3" stroke="#666" stroke-width="0.35"/>
<line x1="293" y1="420.3" x2="293" y2="421.2" stroke="#666" stroke-width="0.35"/>
<line x1="256.1" y1="369.3" x2="257" y2="369.3" stroke="#666" stroke-width="0.35"/>
<line x1="296" y1="420.3" x2="296" y2="421.2" stroke="#666" stroke-width="0.35"/>
<line x1="256.1" y1="372.3" x2="257" y2="372.3" stroke="#666" stroke-width="0.35"/>
<line x1="299" y1="420.3" x2="299" y2="421.2" stroke="#666" stroke-width="0.35"/>
<line x1="256.1" y1="375.3" x2="257" y2="375.3" stroke="#666" stroke-width="0.35"/>
<line x1="302" y1="420.3" x2="302" y2="421.2" stroke="#666" stroke-width="0.35"/>
<line x1="256.1" y1="378.3" x2="257" y2="378.3" stroke="#666" stroke-width="0.35"/>
<line x1="305" y1="420.3" x2="305" y2="421.2" stroke="#666" stroke-width="0.35"/>
<line x1="256.1" y1="381.3" x2="257" y2="381.3" stroke="#666" stroke-width="0.35"/>
<line x1="308" y1="420.3" x2="308" y2="421.2" stroke="#666" stroke-width="0.35"/>
<line x1="256.1" y1="384.3" x2="257" y2="384.3" stroke="#666" stroke-width="0.35"/>
<line x1="311" y1="420.3" x2="311" y2="421.2" stroke="#666" stroke-width="0.35"/>
<line x1="256.1" y1="387.3" x2="257" y2="387.3" stroke="#666" stroke-width="0.35"/>
<line x1="314" y1="420.3" x2="314" y2="421.2" stroke="#666" stroke-width="0.35"/>
<line x1="256.1" y1="390.3" x2="257" y2="390.3" stroke="#666" stroke-width="0.35"/>
<line x1="317" y1="420.3" x2="317" y2="421.2" stroke="#666" stroke-width="0.35"/>
<line x1="256.1" y1="393.3" x2="257" y2="393.3" stroke="#666" stroke-width="0.35"/>
<line x1="320" y1="420.3" x2="320" y2="421.2" stroke="#666" stroke-width="0.35"/>
<line x1="256.1" y1="396.3" x2="257" y2="396.3" stroke="#666" stroke-width="0.35"/>
<line x1="323" y1="420.3" x2="323" y2="421.2" stroke="#666" stroke-width="0.35"/>
<line x1="256.1" y1="399.3" x2="257" y2="399.3" stroke="#666" stroke-width="0.35"/>
<line x1="326" y1="420.3" x2="326" y2="421.2" stroke="#666" stroke-width="0.35"/>
<line x1="256.1" y1="402.3" x2="257" y2="402.3" stroke="#666" stroke-width="0.35"/>
<line x1="329" y1="420.3" x2="329" y2="421.2" stroke="#666" stroke-width="0.35"/>
<line x1="256.1" y1="405.3" x2="257" y2="405.3" stroke="#666" stroke-width="0.35"/>
<line x1="332" y1="420.3" x2="332" y2="421.2" stroke="#666" stroke-width="0.35"/>
<line x1="256.1" y1="408.3" x2="257" y2="408.3" stroke="#666" stroke-width="0.35"/>
<line x1="335" y1="420.3" x2="335" y2="421.2" stroke="#666" stroke-width="0.35"/>
<line x1="256.1" y1="411.3" x2="257" y2="411.3" stroke="#666" stroke-width="0.35"/>
<line x1="338" y1="420.3" x2="338" y2="421.2" stroke="#666" stroke-width="0.35"/>
<line x1="256.1" y1="414.3" x2="257" y2="414.3" stroke="#666" stroke-width="0.35"/>
<line x1="341" y1="420.3" x2="341" y2="421.2" stroke="#666" stroke-width="0.35"/>
<line x1="256.1" y1="417.3" x2="257" y2="417.3" stroke="#666" stroke-width="0.35"/>
<line x1="344" y1="420.3" x2="344" y2="421.2" stroke="#666" stroke-width="0.35"/>
<line x1="256.1" y1="420.3" x2="257" y2="420.3" stroke="#666" stroke-width="0.35"/>
<text x="386" y="183.5" font-size="16.2" font-weight="bold" fill="#111">F</text>
<path d="M476 227.5 L476 227.41 L476.5 227.36 L477 227.29 L477.5 227.2 L478 227.09 L478.5 226.93 L479 226.71 L479.5 226.44 L480 226.14 L480.5 225.79 L481 225.29 L481.5 224.65 L482 224.18 L482.5 223.41 L483 222.41 L483.5 221.64 L484 220.72 L484.5 219.55 L485 217.97 L485.5 216.9 L486 215.29 L486.5 213.4 L487 211.3 L487.5 209.5 L488 207.7 L488.5 204.61 L489 202.79 L489.5 200.03 L490 197.14 L490.5 193.41 L491 191.62 L491.5 188.25 L492 187.33 L492.5 185.66 L493 184.52 L493.5 181.74 L494 180.83 L494.5 182.57 L495 182.94 L495.5 184.34 L496 183.82 L496.5 186.1 L497 188.06 L497.5 188.54 L498 190.39 L498.5 192.45 L499 194.72 L499.5 195.36 L500 197.04 L500.5 198.7 L501 200.5 L501.5 200.56 L502 201.95 L502.5 203.44 L503 204.24 L503.5 206 L504 207.47 L504.5 208.89 L505 209.5 L505.5 210.73 L506 211.91 L506.5 212.47 L507 213.63 L507.5 215.15 L508 215.47 L508.5 216.88 L509 217.2 L509.5 218.08 L510 218.47 L510.5 218.93 L511 219.66 L511.5 220.03 L512 220.76 L512.5 220.92 L513 221.51 L513.5 221.76 L514 222.15 L514.5 222.57 L515 222.7 L515.5 223.2 L516 223.47 L516.5 223.81 L517 223.98 L517.5 224.34 L518 224.66 L518.5 224.93 L519 225.14 L519.5 225.34 L520 225.62 L520.5 225.83 L521 225.96 L521.5 226.15 L522 226.34 L522.5 226.48 L523 226.62 L523.5 226.73 L524 226.84 L524.5 226.94 L525 227.02 L525.5 227.09 L526 227.16 L526.5 227.21 L527 227.25 L527.5 227.3 L528 227.33 L528.5 227.37 L529 227.39 L529.5 227.41 L530 227.43 L530.5 227.44 L531 227.45 L531.5 227.46 L532 227.47 L532 227.5 Z" fill="#8e74c4" stroke="#5e42aa" stroke-width="0.85" fill-opacity="0.72" stroke-linejoin="round"/>
<line x1="402.2" y1="227.2" x2="551.3" y2="227.2" stroke="#5e42aa" stroke-width="0.7"/>
<path d="M486 252.3 L486 251.4 L486.5 251.07 L487 250.69 L487.5 250.24 L488 249.74 L488.5 249 L489 248.25 L489.5 247.5 L490 246.59 L490.5 245.7 L491 244.75 L491.5 243.44 L492 242.09 L492.5 241.14 L493 239.23 L493.5 238.22 L494 236.69 L494.5 235.26 L495 232.45 L495.5 230.87 L496 228.72 L496.5 227.08 L497 225.99 L497.5 223.52 L498 221.29 L498.5 220.22 L499 216.88 L499.5 216.69 L500 216.06 L500.5 213.78 L501 214.93 L501.5 213.02 L502 214.41 L502.5 214.84 L503 216.26 L503.5 217.19 L504 219.26 L504.5 221.15 L505 221.34 L505.5 224.27 L506 225.19 L506.5 227.86 L507 228.51 L507.5 230.3 L508 232.06 L508.5 233.53 L509 235.08 L509.5 236.19 L510 237.9 L510.5 238.64 L511 239.35 L511.5 240.72 L512 241.06 L512.5 241.86 L513 242.84 L513.5 243.49 L514 244 L514.5 244.52 L515 244.67 L515.5 245.3 L516 245.74 L516.5 245.95 L517 245.9 L517.5 245.95 L518 246.25 L518.5 246.34 L519 246.38 L519.5 246.37 L520 246.61 L520.5 246.54 L521 246.64 L521.5 246.7 L522 246.96 L522.5 247.09 L523 247.19 L523.5 247.19 L524 247.57 L524.5 247.72 L525 248.03 L525.5 248.33 L526 248.6 L526.5 248.7 L527 248.98 L527.5 249.33 L528 249.55 L528.5 249.81 L529 250.04 L529.5 250.28 L530 250.57 L530.5 250.72 L531 250.92 L531.5 251.13 L532 251.28 L532.5 251.44 L533 251.58 L533.5 251.7 L534 251.77 L534.5 251.88 L535 251.96 L535.5 252.01 L536 252.06 L536.5 252.11 L537 252.14 L537 252.3 Z" fill="#9bd870" stroke="#70c444" stroke-width="0.85" fill-opacity="0.72" stroke-linejoin="round"/>
<line x1="402.2" y1="252" x2="551.3" y2="252" stroke="#70c444" stroke-width="0.7"/>
<path d="M484 276.7 L484 276.57 L484.5 276.53 L485 276.47 L485.5 276.36 L486 276.27 L486.5 276.13 L487 275.93 L487.5 275.72 L488 275.41 L488.5 275.13 L489 274.67 L489.5 274.3 L490 273.73 L490.5 273.06 L491 272.44 L491.5 271.61 L492 270.83 L492.5 270.16 L493 268.8 L493.5 267.83 L494 266.8 L494.5 265.62 L495 263.78 L495.5 262.52 L496 260.65 L496.5 259.19 L497 257.32 L497.5 256.11 L498 254.3 L498.5 252.84 L499 251.91 L499.5 249.51 L500 249.43 L500.5 247.78 L501 246.88 L501.5 247.13 L502 248.08 L502.5 247.28 L503 248.26 L503.5 250.06 L504 251.51 L504.5 252.23 L505 254.53 L505.5 255.05 L506 257.3 L506.5 258.97 L507 260.68 L507.5 261.92 L508 263.03 L508.5 264.63 L509 265.52 L509.5 266.15 L510 266.92 L510.5 267.2 L511 267.54 L511.5 267.78 L512 267.73 L512.5 267.78 L513 267.9 L513.5 267.18 L514 267.24 L514.5 266.8 L515 266.36 L515.5 265.5 L516 264.9 L516.5 264.63 L517 264.13 L517.5 263.84 L518 262.71 L518.5 262.91 L519 262.3 L519.5 262.29 L520 262.26 L520.5 262.32 L521 262.69 L521.5 263.17 L522 263.23 L522.5 263.63 L523 264.44 L523.5 265.51 L524 266.01 L524.5 267.25 L525 267.92 L525.5 268.6 L526 269.44 L526.5 270.46 L527 271.12 L527.5 271.98 L528 272.65 L528.5 273.25 L529 273.74 L529.5 274.27 L530 274.73 L530.5 275.07 L531 275.39 L531.5 275.68 L532 275.87 L532.5 276.05 L533 276.2 L533.5 276.31 L534 276.42 L534.5 276.48 L535 276.54 L535.5 276.58 L536 276.61 L536.5 276.64 L537 276.66 L537 276.7 Z" fill="#6fa4dc" stroke="#3d7ec8" stroke-width="0.85" fill-opacity="0.72" stroke-linejoin="round"/>
<line x1="402.2" y1="276.4" x2="551.3" y2="276.4" stroke="#3d7ec8" stroke-width="0.7"/>
<path d="M484 301 L484 300.85 L484.5 300.78 L485 300.68 L485.5 300.56 L486 300.36 L486.5 300.12 L487 299.79 L487.5 299.43 L488 298.92 L488.5 298.28 L489 297.59 L489.5 296.67 L490 295.82 L490.5 294.7 L491 293.18 L491.5 291.95 L492 290.41 L492.5 288.66 L493 287.27 L493.5 285.82 L494 283.28 L494.5 281.6 L495 279.57 L495.5 277.64 L496 275.11 L496.5 274.06 L497 271.43 L497.5 270.24 L498 268.07 L498.5 266.25 L499 265.55 L499.5 264.89 L500 263.13 L500.5 262.01 L501 262.09 L501.5 262.58 L502 262.65 L502.5 264.54 L503 265.7 L503.5 266.82 L504 267.49 L504.5 270.49 L505 272.52 L505.5 274.45 L506 276.43 L506.5 277.93 L507 279.31 L507.5 280.68 L508 282.78 L508.5 284.11 L509 285.41 L509.5 286.48 L510 287.06 L510.5 288.12 L511 289.11 L511.5 289.9 L512 290.08 L512.5 290.71 L513 291.18 L513.5 292.01 L514 292.31 L514.5 292.56 L515 293.13 L515.5 293.35 L516 294.03 L516.5 294 L517 294.64 L517.5 294.74 L518 295.09 L518.5 294.99 L519 295.18 L519.5 295.21 L520 295.38 L520.5 295.42 L521 295.63 L521.5 295.55 L522 295.69 L522.5 295.89 L523 295.77 L523.5 296.03 L524 296.17 L524.5 296.3 L525 296.3 L525.5 296.51 L526 296.45 L526.5 296.61 L527 296.96 L527.5 297.17 L528 297.26 L528.5 297.53 L529 297.66 L529.5 297.82 L530 298.13 L530.5 298.31 L531 298.44 L531.5 298.71 L532 298.92 L532.5 299.04 L533 299.24 L533.5 299.4 L534 299.59 L534.5 299.76 L535 299.88 L535.5 300.01 L536 300.14 L536.5 300.26 L537 300.36 L537.5 300.44 L538 300.51 L538.5 300.58 L539 300.65 L539.5 300.7 L540 300.75 L540.5 300.79 L541 300.83 L541 301 Z" fill="#dca877" stroke="#c98548" stroke-width="0.85" fill-opacity="0.72" stroke-linejoin="round"/>
<line x1="402.2" y1="300.7" x2="551.3" y2="300.7" stroke="#c98548" stroke-width="0.7"/>
<path d="M486 325.4 L486 324.73 L486.5 324.5 L487 324.27 L487.5 323.85 L488 323.49 L488.5 322.89 L489 322.33 L489.5 321.41 L490 320.64 L490.5 319.36 L491 318.07 L491.5 316.59 L492 315.14 L492.5 313.03 L493 310.91 L493.5 309.57 L494 306.92 L494.5 304.01 L495 301.83 L495.5 299.82 L496 297.67 L496.5 294.21 L497 293.67 L497.5 290.35 L498 288.41 L498.5 288.48 L499 286.98 L499.5 286.26 L500 285.27 L500.5 285.62 L501 284.64 L501.5 285.19 L502 287.53 L502.5 287.4 L503 290.6 L503.5 292.09 L504 292.66 L504.5 294.25 L505 296.13 L505.5 297.79 L506 299.96 L506.5 302.7 L507 303.92 L507.5 305.54 L508 308.21 L508.5 309.47 L509 311.37 L509.5 312.88 L510 314.08 L510.5 315.33 L511 316.46 L511.5 318.05 L512 318.95 L512.5 319.75 L513 320.68 L513.5 321.48 L514 322.15 L514.5 322.56 L515 323 L515.5 323.2 L516 323.36 L516.5 323.45 L517 323.37 L517.5 323.31 L518 323.13 L518.5 322.87 L519 322.72 L519.5 322.49 L520 322.19 L520.5 322.01 L521 321.77 L521.5 321.8 L522 321.75 L522.5 321.86 L523 321.89 L523.5 322.09 L524 322.3 L524.5 322.52 L525 322.93 L525.5 323.11 L526 323.47 L526.5 323.77 L527 324.08 L527.5 324.33 L528 324.56 L528.5 324.75 L529 324.91 L529.5 325.04 L530 325.13 L530.5 325.21 L531 325.26 L531.5 325.31 L532 325.34 L532 325.4 Z" fill="#d9606e" stroke="#cb3846" stroke-width="0.85" fill-opacity="0.72" stroke-linejoin="round"/>
<line x1="402.2" y1="325.1" x2="551.3" y2="325.1" stroke="#cb3846" stroke-width="0.7"/>
<rect x="402.2" y="175.5" width="149.1" height="149.9" fill="none" stroke="#666" stroke-width="0.9"/>
<text x="404.8" y="185.9" font-size="11.3" fill="#222">A549</text>
<text x="404.8" y="224.9" font-size="11.3" fill="#222">Control</text>
<text x="404.8" y="249.7" font-size="11.3" fill="#222">shNC<tspan fill="#bf1f2b">+CDDP</tspan></text>
<text x="404.8" y="274.1" font-size="11.3" fill="#222">sh-OTUD7A<tspan fill="#bf1f2b">+CDDP</tspan></text>
<text x="404.8" y="298.4" font-size="11.3" fill="#222">Vector<tspan fill="#bf1f2b">+CDDP</tspan></text>
<text x="404.8" y="323" font-size="11.3" fill="#222">OE-OTUD7A<tspan fill="#bf1f2b">+CDDP</tspan></text>
<line x1="408.6" y1="325.4" x2="408.6" y2="327.6" stroke="#444" stroke-width="0.6"/>
<text x="405.26" y="337.2" font-size="6" fill="#333">10<tspan dy="-2.7" font-size="4.5">0</tspan></text>
<line x1="432.2" y1="325.4" x2="432.2" y2="327.6" stroke="#444" stroke-width="0.6"/>
<text x="428.86" y="337.2" font-size="6" fill="#333">10<tspan dy="-2.7" font-size="4.5">1</tspan></text>
<line x1="460.2" y1="325.4" x2="460.2" y2="327.6" stroke="#444" stroke-width="0.6"/>
<text x="456.86" y="337.2" font-size="6" fill="#333">10<tspan dy="-2.7" font-size="4.5">2</tspan></text>
<line x1="487.5" y1="325.4" x2="487.5" y2="327.6" stroke="#444" stroke-width="0.6"/>
<text x="484.16" y="337.2" font-size="6" fill="#333">10<tspan dy="-2.7" font-size="4.5">3</tspan></text>
<line x1="514.8" y1="325.4" x2="514.8" y2="327.6" stroke="#444" stroke-width="0.6"/>
<text x="511.46" y="337.2" font-size="6" fill="#333">10<tspan dy="-2.7" font-size="4.5">4</tspan></text>
<line x1="541.9" y1="325.4" x2="541.9" y2="327.6" stroke="#444" stroke-width="0.6"/>
<text x="538.56" y="337.2" font-size="6" fill="#333">10<tspan dy="-2.7" font-size="4.5">5</tspan></text>
<line x1="415.7" y1="325.4" x2="415.7" y2="326.6" stroke="#666" stroke-width="0.5"/>
<line x1="419.86" y1="325.4" x2="419.86" y2="326.6" stroke="#666" stroke-width="0.5"/>
<line x1="422.81" y1="325.4" x2="422.81" y2="326.6" stroke="#666" stroke-width="0.5"/>
<line x1="425.1" y1="325.4" x2="425.1" y2="326.6" stroke="#666" stroke-width="0.5"/>
<line x1="426.96" y1="325.4" x2="426.96" y2="326.6" stroke="#666" stroke-width="0.5"/>
<line x1="428.54" y1="325.4" x2="428.54" y2="326.6" stroke="#666" stroke-width="0.5"/>
<line x1="429.91" y1="325.4" x2="429.91" y2="326.6" stroke="#666" stroke-width="0.5"/>
<line x1="431.12" y1="325.4" x2="431.12" y2="326.6" stroke="#666" stroke-width="0.5"/>
<line x1="439.3" y1="325.4" x2="439.3" y2="326.6" stroke="#666" stroke-width="0.5"/>
<line x1="443.46" y1="325.4" x2="443.46" y2="326.6" stroke="#666" stroke-width="0.5"/>
<line x1="446.41" y1="325.4" x2="446.41" y2="326.6" stroke="#666" stroke-width="0.5"/>
<line x1="448.7" y1="325.4" x2="448.7" y2="326.6" stroke="#666" stroke-width="0.5"/>
<line x1="450.56" y1="325.4" x2="450.56" y2="326.6" stroke="#666" stroke-width="0.5"/>
<line x1="452.14" y1="325.4" x2="452.14" y2="326.6" stroke="#666" stroke-width="0.5"/>
<line x1="453.51" y1="325.4" x2="453.51" y2="326.6" stroke="#666" stroke-width="0.5"/>
<line x1="454.72" y1="325.4" x2="454.72" y2="326.6" stroke="#666" stroke-width="0.5"/>
<line x1="467.3" y1="325.4" x2="467.3" y2="326.6" stroke="#666" stroke-width="0.5"/>
<line x1="471.46" y1="325.4" x2="471.46" y2="326.6" stroke="#666" stroke-width="0.5"/>
<line x1="474.41" y1="325.4" x2="474.41" y2="326.6" stroke="#666" stroke-width="0.5"/>
<line x1="476.7" y1="325.4" x2="476.7" y2="326.6" stroke="#666" stroke-width="0.5"/>
<line x1="478.56" y1="325.4" x2="478.56" y2="326.6" stroke="#666" stroke-width="0.5"/>
<line x1="480.14" y1="325.4" x2="480.14" y2="326.6" stroke="#666" stroke-width="0.5"/>
<line x1="481.51" y1="325.4" x2="481.51" y2="326.6" stroke="#666" stroke-width="0.5"/>
<line x1="482.72" y1="325.4" x2="482.72" y2="326.6" stroke="#666" stroke-width="0.5"/>
<line x1="494.6" y1="325.4" x2="494.6" y2="326.6" stroke="#666" stroke-width="0.5"/>
<line x1="498.76" y1="325.4" x2="498.76" y2="326.6" stroke="#666" stroke-width="0.5"/>
<line x1="501.71" y1="325.4" x2="501.71" y2="326.6" stroke="#666" stroke-width="0.5"/>
<line x1="504" y1="325.4" x2="504" y2="326.6" stroke="#666" stroke-width="0.5"/>
<line x1="505.86" y1="325.4" x2="505.86" y2="326.6" stroke="#666" stroke-width="0.5"/>
<line x1="507.44" y1="325.4" x2="507.44" y2="326.6" stroke="#666" stroke-width="0.5"/>
<line x1="508.81" y1="325.4" x2="508.81" y2="326.6" stroke="#666" stroke-width="0.5"/>
<line x1="510.02" y1="325.4" x2="510.02" y2="326.6" stroke="#666" stroke-width="0.5"/>
<line x1="521.9" y1="325.4" x2="521.9" y2="326.6" stroke="#666" stroke-width="0.5"/>
<line x1="526.06" y1="325.4" x2="526.06" y2="326.6" stroke="#666" stroke-width="0.5"/>
<line x1="529.01" y1="325.4" x2="529.01" y2="326.6" stroke="#666" stroke-width="0.5"/>
<line x1="531.3" y1="325.4" x2="531.3" y2="326.6" stroke="#666" stroke-width="0.5"/>
<line x1="533.16" y1="325.4" x2="533.16" y2="326.6" stroke="#666" stroke-width="0.5"/>
<line x1="534.74" y1="325.4" x2="534.74" y2="326.6" stroke="#666" stroke-width="0.5"/>
<line x1="536.11" y1="325.4" x2="536.11" y2="326.6" stroke="#666" stroke-width="0.5"/>
<line x1="537.32" y1="325.4" x2="537.32" y2="326.6" stroke="#666" stroke-width="0.5"/>
<line x1="549" y1="325.4" x2="549" y2="326.6" stroke="#666" stroke-width="0.5"/>
<text x="471.9" y="348.4" font-size="9.4" text-anchor="middle" fill="#222">MitoSOX-PE</text>
<path d="M606.65 298.9 V272.76 H619.05 V298.9" fill="#fff" stroke="#d08c9c" stroke-width="0.9"/>
<path d="M621.85 298.9 V243.86 H633.85 V298.9" fill="#fff" stroke="#8490d2" stroke-width="0.9"/>
<path d="M636.65 298.9 V208.08 H649.05 V298.9" fill="#fff" stroke="#e8c35f" stroke-width="0.9"/>
<path d="M651.25 298.9 V243.17 H663.65 V298.9" fill="#fff" stroke="#5cb89e" stroke-width="0.9"/>
<path d="M666.45 298.9 V259.68 H678.45 V298.9" fill="#fff" stroke="#63c1dc" stroke-width="0.9"/>
<line x1="602.1" y1="195.2" x2="602.1" y2="299.5" stroke="#222" stroke-width="1.1"/>
<line x1="601.6" y1="298.9" x2="684" y2="298.9" stroke="#222" stroke-width="1.1"/>
<line x1="598.8" y1="298.9" x2="602.1" y2="298.9" stroke="#222" stroke-width="1.1"/>
<text x="596.7" y="301.6" font-size="7.6" font-weight="bold" text-anchor="end" fill="#111">0</text>
<line x1="598.8" y1="264.5" x2="602.1" y2="264.5" stroke="#222" stroke-width="1.1"/>
<text x="596.7" y="267.2" font-size="7.6" font-weight="bold" text-anchor="end" fill="#111">5000</text>
<line x1="598.8" y1="230.1" x2="602.1" y2="230.1" stroke="#222" stroke-width="1.1"/>
<text x="596.7" y="232.8" font-size="7.6" font-weight="bold" text-anchor="end" fill="#111">10000</text>
<line x1="598.8" y1="195.7" x2="602.1" y2="195.7" stroke="#222" stroke-width="1.1"/>
<text x="596.7" y="198.4" font-size="7.6" font-weight="bold" text-anchor="end" fill="#111">15000</text>
<circle cx="609.05" cy="272.76" r="2.2" fill="#d08c9c" stroke="#555" stroke-width="0.45"/>
<circle cx="612.85" cy="272.41" r="2.2" fill="#d08c9c" stroke="#555" stroke-width="0.45"/>
<circle cx="616.65" cy="272.76" r="2.2" fill="#d08c9c" stroke="#555" stroke-width="0.45"/>
<line x1="612.85" y1="272.07" x2="612.85" y2="273.44" stroke="#333" stroke-width="0.8"/>
<line x1="610.25" y1="272.07" x2="615.45" y2="272.07" stroke="#333" stroke-width="0.8"/>
<line x1="610.25" y1="273.44" x2="615.45" y2="273.44" stroke="#333" stroke-width="0.8"/>
<line x1="612.85" y1="298.9" x2="612.85" y2="302.1" stroke="#222" stroke-width="1.1"/>
<text x="614.65" y="308.5" font-size="7.2" font-weight="bold" text-anchor="end" fill="#111" transform="rotate(-45 614.65 308.5)">Control</text>
<circle cx="624.05" cy="244.55" r="2.2" fill="#8490d2" stroke="#555" stroke-width="0.45"/>
<circle cx="627.85" cy="241.8" r="2.2" fill="#8490d2" stroke="#555" stroke-width="0.45"/>
<circle cx="631.65" cy="244.2" r="2.2" fill="#8490d2" stroke="#555" stroke-width="0.45"/>
<line x1="627.85" y1="239.04" x2="627.85" y2="247.3" stroke="#333" stroke-width="0.8"/>
<line x1="625.25" y1="239.04" x2="630.45" y2="239.04" stroke="#333" stroke-width="0.8"/>
<line x1="625.25" y1="247.3" x2="630.45" y2="247.3" stroke="#333" stroke-width="0.8"/>
<line x1="627.85" y1="298.9" x2="627.85" y2="302.1" stroke="#222" stroke-width="1.1"/>
<text x="629.65" y="308.5" font-size="7.2" font-weight="bold" text-anchor="end" fill="#111" transform="rotate(-45 629.65 308.5)">shNC</text>
<circle cx="639.05" cy="209.46" r="2.2" fill="#e8c35f" stroke="#555" stroke-width="0.45"/>
<circle cx="642.85" cy="206.02" r="2.2" fill="#e8c35f" stroke="#555" stroke-width="0.45"/>
<circle cx="646.65" cy="208.08" r="2.2" fill="#e8c35f" stroke="#555" stroke-width="0.45"/>
<line x1="642.85" y1="203.27" x2="642.85" y2="210.84" stroke="#333" stroke-width="0.8"/>
<line x1="640.25" y1="203.27" x2="645.45" y2="203.27" stroke="#333" stroke-width="0.8"/>
<line x1="640.25" y1="210.84" x2="645.45" y2="210.84" stroke="#333" stroke-width="0.8"/>
<line x1="642.85" y1="298.9" x2="642.85" y2="302.1" stroke="#222" stroke-width="1.1"/>
<text x="644.65" y="308.5" font-size="7.2" font-weight="bold" text-anchor="end" fill="#111" transform="rotate(-45 644.65 308.5)">sh-OTUD7A</text>
<circle cx="653.65" cy="243.17" r="2.2" fill="#5cb89e" stroke="#555" stroke-width="0.45"/>
<circle cx="657.45" cy="242.14" r="2.2" fill="#5cb89e" stroke="#555" stroke-width="0.45"/>
<circle cx="661.25" cy="242.83" r="2.2" fill="#5cb89e" stroke="#555" stroke-width="0.45"/>
<line x1="657.45" y1="241.11" x2="657.45" y2="244.55" stroke="#333" stroke-width="0.8"/>
<line x1="654.85" y1="241.11" x2="660.05" y2="241.11" stroke="#333" stroke-width="0.8"/>
<line x1="654.85" y1="244.55" x2="660.05" y2="244.55" stroke="#333" stroke-width="0.8"/>
<line x1="657.45" y1="298.9" x2="657.45" y2="302.1" stroke="#222" stroke-width="1.1"/>
<text x="659.25" y="308.5" font-size="7.2" font-weight="bold" text-anchor="end" fill="#111" transform="rotate(-45 659.25 308.5)">Vector</text>
<circle cx="668.65" cy="260.37" r="2.2" fill="#63c1dc" stroke="#555" stroke-width="0.45"/>
<circle cx="672.45" cy="258.31" r="2.2" fill="#63c1dc" stroke="#555" stroke-width="0.45"/>
<circle cx="676.25" cy="259.68" r="2.2" fill="#63c1dc" stroke="#555" stroke-width="0.45"/>
<line x1="672.45" y1="256.93" x2="672.45" y2="261.75" stroke="#333" stroke-width="0.8"/>
<line x1="669.85" y1="256.93" x2="675.05" y2="256.93" stroke="#333" stroke-width="0.8"/>
<line x1="669.85" y1="261.75" x2="675.05" y2="261.75" stroke="#333" stroke-width="0.8"/>
<line x1="672.45" y1="298.9" x2="672.45" y2="302.1" stroke="#222" stroke-width="1.1"/>
<text x="674.25" y="308.5" font-size="7.2" font-weight="bold" text-anchor="end" fill="#111" transform="rotate(-45 674.25 308.5)">OE-OTUD7A</text>
<text x="642.5" y="182.6" font-size="8.1" font-weight="bold" text-anchor="middle" fill="#111">A549</text>
<line x1="614.2" y1="339.5" x2="680.3" y2="339.5" stroke="#cf4a50" stroke-width="0.7"/>
<text x="648" y="348.1" font-size="10" text-anchor="middle" fill="#bf1f2b">+CDDP</text>
<text x="570.6" y="249.2" font-size="6.6" font-weight="bold" text-anchor="middle" fill="#111" transform="rotate(-90 570.6 249.2)">ROS positive cells（%）</text>
<line x1="627.1" y1="199.5" x2="642.7" y2="199.5" stroke="#aaa" stroke-width="0.6" stroke-dasharray="1 0.8"/>
<text x="634.9" y="200.6" font-size="7.4" font-weight="bold" text-anchor="middle" fill="#333">**</text>
<line x1="657.5" y1="236.3" x2="672.7" y2="236.3" stroke="#aaa" stroke-width="0.6" stroke-dasharray="1 0.8"/>
<text x="665.1" y="237.4" font-size="7.4" font-weight="bold" text-anchor="middle" fill="#333">**</text>
<text x="386.2" y="380.3" font-size="16.2" font-weight="bold" fill="#111">G</text>
<path d="M486 421.4 L486 421.39 L486.5 421.39 L487 421.38 L487.5 421.37 L488 421.36 L488.5 421.34 L489 421.31 L489.5 421.26 L490 421.19 L490.5 421.1 L491 420.96 L491.5 420.78 L492 420.57 L492.5 420.27 L493 419.87 L493.5 419.26 L494 418.62 L494.5 417.71 L495 416.64 L495.5 415.48 L496 414.05 L496.5 412.59 L497 410.7 L497.5 407.93 L498 405.56 L498.5 402.76 L499 400.14 L499.5 397.02 L500 394.04 L500.5 390.56 L501 389.16 L501.5 385.7 L502 383.68 L502.5 380.35 L503 378.5 L503.5 378.85 L504 378.56 L504.5 377.88 L505 377.94 L505.5 377.48 L506 379.58 L506.5 380.31 L507 383.27 L507.5 384.93 L508 387.98 L508.5 389.56 L509 392.39 L509.5 394.42 L510 396.91 L510.5 400.02 L511 402.92 L511.5 404.25 L512 406.41 L512.5 408.78 L513 410.56 L513.5 411.94 L514 413.75 L514.5 415.02 L515 415.99 L515.5 416.99 L516 417.84 L516.5 418.54 L517 419.19 L517.5 419.69 L518 420.1 L518.5 420.41 L519 420.66 L519.5 420.85 L520 420.99 L520.5 421.11 L521 421.2 L521.5 421.26 L522 421.3 L522 421.4 Z" fill="#8e74c4" stroke="#5e42aa" stroke-width="0.85" fill-opacity="0.72" stroke-linejoin="round"/>
<line x1="405.5" y1="421.1" x2="553.8" y2="421.1" stroke="#5e42aa" stroke-width="0.7"/>
<path d="M494 445.6 L494 445.59 L494.5 445.58 L495 445.57 L495.5 445.55 L496 445.52 L496.5 445.48 L497 445.43 L497.5 445.34 L498 445.25 L498.5 445.08 L499 444.88 L499.5 444.64 L500 444.27 L500.5 443.83 L501 443.26 L501.5 442.45 L502 441.76 L502.5 440.76 L503 439.19 L503.5 437.94 L504 436.38 L504.5 434.42 L505 432.31 L505.5 429.48 L506 427.78 L506.5 425.27 L507 422.21 L507.5 419.68 L508 416.49 L508.5 414.3 L509 413.11 L509.5 411.65 L510 408.88 L510.5 407.5 L511 409.07 L511.5 407.37 L512 407.42 L512.5 408.69 L513 410.81 L513.5 411.15 L514 413.15 L514.5 416.2 L515 417.64 L515.5 420.63 L516 423.18 L516.5 425.08 L517 427.31 L517.5 429.37 L518 431.15 L518.5 432.87 L519 434.5 L519.5 436.04 L520 437.41 L520.5 438.71 L521 439.93 L521.5 440.86 L522 441.51 L522.5 442.19 L523 442.74 L523.5 443.31 L524 443.7 L524.5 443.97 L525 444.3 L525.5 444.54 L526 444.77 L526.5 444.93 L527 445.05 L527.5 445.17 L528 445.26 L528.5 445.35 L529 445.4 L529.5 445.45 L530 445.49 L530.5 445.51 L531 445.54 L531.5 445.55 L532 445.57 L532 445.6 Z" fill="#9bd870" stroke="#70c444" stroke-width="0.85" fill-opacity="0.72" stroke-linejoin="round"/>
<line x1="405.5" y1="445.3" x2="553.8" y2="445.3" stroke="#70c444" stroke-width="0.7"/>
<path d="M496 469.2 L496 469.19 L496.5 469.18 L497 469.18 L497.5 469.16 L498 469.15 L498.5 469.12 L499 469.09 L499.5 469.04 L500 468.96 L500.5 468.88 L501 468.74 L501.5 468.57 L502 468.38 L502.5 468.13 L503 467.72 L503.5 467.34 L504 466.82 L504.5 466.03 L505 465.2 L505.5 464.23 L506 463.06 L506.5 462.09 L507 460.74 L507.5 459.17 L508 456.87 L508.5 455.68 L509 453.73 L509.5 451.91 L510 449.91 L510.5 447.98 L511 445.67 L511.5 444.19 L512 442.39 L512.5 439.98 L513 440.2 L513.5 438.25 L514 437.9 L514.5 438.07 L515 438.24 L515.5 438.38 L516 439.5 L516.5 441.14 L517 442.2 L517.5 443.71 L518 444.97 L518.5 445.74 L519 448.1 L519.5 450.11 L520 451.17 L520.5 452.29 L521 454.03 L521.5 455.08 L522 456.72 L522.5 457.76 L523 458.28 L523.5 459.5 L524 460.08 L524.5 460.7 L525 461.39 L525.5 461.99 L526 462.48 L526.5 462.54 L527 463.06 L527.5 463.36 L528 463.87 L528.5 464.06 L529 464.39 L529.5 464.75 L530 465.03 L530.5 465.27 L531 465.55 L531.5 465.71 L532 465.81 L532.5 466.07 L533 466.08 L533.5 466.26 L534 466.34 L534.5 466.39 L535 466.48 L535.5 466.62 L536 466.65 L536.5 466.72 L537 466.75 L537.5 466.63 L538 466.71 L538.5 466.67 L539 466.71 L539.5 466.8 L540 466.72 L540.5 466.75 L541 466.83 L541.5 466.91 L542 466.91 L542.5 466.96 L543 466.97 L543.5 467.04 L544 467 L544.5 467.02 L545 467.17 L545.5 467.15 L546 467.23 L546.5 467.31 L547 467.32 L547.5 467.45 L548 467.47 L548.5 467.61 L549 467.6 L549.5 467.74 L550 467.82 L550.5 467.82 L551 467.91 L551.5 467.98 L552 468.04 L552.5 468.14 L553 468.22 L553 469.2 Z" fill="#6fa4dc" stroke="#3d7ec8" stroke-width="0.85" fill-opacity="0.72" stroke-linejoin="round"/>
<line x1="405.5" y1="468.9" x2="553.8" y2="468.9" stroke="#3d7ec8" stroke-width="0.7"/>
<path d="M494 494 L494 494 L494.5 493.99 L495 493.99 L495.5 493.98 L496 493.97 L496.5 493.95 L497 493.93 L497.5 493.89 L498 493.83 L498.5 493.75 L499 493.64 L499.5 493.47 L500 493.27 L500.5 492.98 L501 492.55 L501.5 492.07 L502 491.47 L502.5 490.67 L503 489.63 L503.5 488.58 L504 486.95 L504.5 485.21 L505 483.48 L505.5 481.04 L506 478.6 L506.5 476.45 L507 473.7 L507.5 471.8 L508 469.35 L508.5 465.38 L509 464.26 L509.5 462.38 L510 459.32 L510.5 458.29 L511 458.75 L511.5 457.89 L512 458.08 L512.5 458.46 L513 459.85 L513.5 459.95 L514 461.84 L514.5 463.33 L515 465.51 L515.5 467.5 L516 469.5 L516.5 470.18 L517 472.22 L517.5 474.23 L518 476.36 L518.5 477.84 L519 479.26 L519.5 480.38 L520 481.76 L520.5 482.69 L521 483.74 L521.5 484.66 L522 485.26 L522.5 486.15 L523 486.86 L523.5 487.55 L524 488.08 L524.5 488.53 L525 489.15 L525.5 489.63 L526 489.88 L526.5 490.23 L527 490.41 L527.5 490.78 L528 490.84 L528.5 491.16 L529 491.21 L529.5 491.35 L530 491.47 L530.5 491.47 L531 491.58 L531.5 491.73 L532 491.76 L532.5 491.81 L533 491.96 L533.5 492.02 L534 492.02 L534.5 492.08 L535 492.19 L535.5 492.27 L536 492.34 L536.5 492.45 L537 492.47 L537.5 492.55 L538 492.67 L538.5 492.79 L539 492.85 L539.5 492.9 L540 493.01 L540 494 Z" fill="#dca877" stroke="#c98548" stroke-width="0.85" fill-opacity="0.72" stroke-linejoin="round"/>
<line x1="405.5" y1="493.7" x2="553.8" y2="493.7" stroke="#c98548" stroke-width="0.7"/>
<path d="M490 517.9 L490 517.84 L490.5 517.8 L491 517.75 L491.5 517.67 L492 517.56 L492.5 517.42 L493 517.18 L493.5 516.91 L494 516.53 L494.5 516.04 L495 515.31 L495.5 514.51 L496 513.41 L496.5 511.97 L497 510.26 L497.5 508.33 L498 506.54 L498.5 504.09 L499 501.16 L499.5 497.79 L500 494.13 L500.5 490.76 L501 487.07 L501.5 484.37 L502 481.13 L502.5 479.1 L503 476.67 L503.5 475.07 L504 472.88 L504.5 471.97 L505 472 L505.5 473.07 L506 474.15 L506.5 476.3 L507 477.08 L507.5 480.21 L508 482.69 L508.5 485.6 L509 489.63 L509.5 492.88 L510 495.55 L510.5 497.59 L511 500.4 L511.5 503.21 L512 505.1 L512.5 507.37 L513 508.8 L513.5 510.68 L514 511.72 L514.5 512.78 L515 513.89 L515.5 514.67 L516 515.38 L516.5 515.9 L517 516.35 L517.5 516.7 L518 517 L518.5 517.21 L519 517.39 L519.5 517.52 L520 517.62 L520 517.9 Z" fill="#d9606e" stroke="#cb3846" stroke-width="0.85" fill-opacity="0.72" stroke-linejoin="round"/>
<line x1="405.5" y1="517.6" x2="553.8" y2="517.6" stroke="#cb3846" stroke-width="0.7"/>
<rect x="405.5" y="369.4" width="148.3" height="148.5" fill="none" stroke="#666" stroke-width="0.9"/>
<text x="407.2" y="380.5" font-size="11.3" fill="#222">A549</text>
<text x="407.2" y="418.8" font-size="11.3" fill="#222">Control</text>
<text x="407.2" y="443" font-size="11.3" fill="#222">shNC<tspan fill="#bf1f2b">+CDDP</tspan></text>
<text x="407.2" y="466.6" font-size="11.3" fill="#222">sh-OTUD7A<tspan fill="#bf1f2b">+CDDP</tspan></text>
<text x="407.2" y="491.4" font-size="11.3" fill="#222">Vector<tspan fill="#bf1f2b">+CDDP</tspan></text>
<text x="407.2" y="515.5" font-size="11.3" fill="#222">OE-OTUD7A<tspan fill="#bf1f2b">+CDDP</tspan></text>
<line x1="409.9" y1="517.9" x2="409.9" y2="520.1" stroke="#444" stroke-width="0.6"/>
<text x="406.56" y="530" font-size="6" fill="#333">10<tspan dy="-2.7" font-size="4.5">0</tspan></text>
<line x1="447.1" y1="517.9" x2="447.1" y2="520.1" stroke="#444" stroke-width="0.6"/>
<text x="443.76" y="530" font-size="6" fill="#333">10<tspan dy="-2.7" font-size="4.5">1</tspan></text>
<line x1="484.3" y1="517.9" x2="484.3" y2="520.1" stroke="#444" stroke-width="0.6"/>
<text x="480.96" y="530" font-size="6" fill="#333">10<tspan dy="-2.7" font-size="4.5">2</tspan></text>
<line x1="521.5" y1="517.9" x2="521.5" y2="520.1" stroke="#444" stroke-width="0.6"/>
<text x="518.16" y="530" font-size="6" fill="#333">10<tspan dy="-2.7" font-size="4.5">3</tspan></text>
<line x1="421.1" y1="517.9" x2="421.1" y2="519.1" stroke="#666" stroke-width="0.5"/>
<line x1="427.65" y1="517.9" x2="427.65" y2="519.1" stroke="#666" stroke-width="0.5"/>
<line x1="432.3" y1="517.9" x2="432.3" y2="519.1" stroke="#666" stroke-width="0.5"/>
<line x1="435.9" y1="517.9" x2="435.9" y2="519.1" stroke="#666" stroke-width="0.5"/>
<line x1="438.85" y1="517.9" x2="438.85" y2="519.1" stroke="#666" stroke-width="0.5"/>
<line x1="441.34" y1="517.9" x2="441.34" y2="519.1" stroke="#666" stroke-width="0.5"/>
<line x1="443.49" y1="517.9" x2="443.49" y2="519.1" stroke="#666" stroke-width="0.5"/>
<line x1="445.4" y1="517.9" x2="445.4" y2="519.1" stroke="#666" stroke-width="0.5"/>
<line x1="458.3" y1="517.9" x2="458.3" y2="519.1" stroke="#666" stroke-width="0.5"/>
<line x1="464.85" y1="517.9" x2="464.85" y2="519.1" stroke="#666" stroke-width="0.5"/>
<line x1="469.5" y1="517.9" x2="469.5" y2="519.1" stroke="#666" stroke-width="0.5"/>
<line x1="473.1" y1="517.9" x2="473.1" y2="519.1" stroke="#666" stroke-width="0.5"/>
<line x1="476.05" y1="517.9" x2="476.05" y2="519.1" stroke="#666" stroke-width="0.5"/>
<line x1="478.54" y1="517.9" x2="478.54" y2="519.1" stroke="#666" stroke-width="0.5"/>
<line x1="480.69" y1="517.9" x2="480.69" y2="519.1" stroke="#666" stroke-width="0.5"/>
<line x1="482.6" y1="517.9" x2="482.6" y2="519.1" stroke="#666" stroke-width="0.5"/>
<line x1="495.5" y1="517.9" x2="495.5" y2="519.1" stroke="#666" stroke-width="0.5"/>
<line x1="502.05" y1="517.9" x2="502.05" y2="519.1" stroke="#666" stroke-width="0.5"/>
<line x1="506.7" y1="517.9" x2="506.7" y2="519.1" stroke="#666" stroke-width="0.5"/>
<line x1="510.3" y1="517.9" x2="510.3" y2="519.1" stroke="#666" stroke-width="0.5"/>
<line x1="513.25" y1="517.9" x2="513.25" y2="519.1" stroke="#666" stroke-width="0.5"/>
<line x1="515.74" y1="517.9" x2="515.74" y2="519.1" stroke="#666" stroke-width="0.5"/>
<line x1="517.89" y1="517.9" x2="517.89" y2="519.1" stroke="#666" stroke-width="0.5"/>
<line x1="519.8" y1="517.9" x2="519.8" y2="519.1" stroke="#666" stroke-width="0.5"/>
<line x1="532.7" y1="517.9" x2="532.7" y2="519.1" stroke="#666" stroke-width="0.5"/>
<line x1="539.25" y1="517.9" x2="539.25" y2="519.1" stroke="#666" stroke-width="0.5"/>
<line x1="543.9" y1="517.9" x2="543.9" y2="519.1" stroke="#666" stroke-width="0.5"/>
<line x1="547.5" y1="517.9" x2="547.5" y2="519.1" stroke="#666" stroke-width="0.5"/>
<line x1="550.45" y1="517.9" x2="550.45" y2="519.1" stroke="#666" stroke-width="0.5"/>
<line x1="552.94" y1="517.9" x2="552.94" y2="519.1" stroke="#666" stroke-width="0.5"/>
<text x="476.8" y="541.6" font-size="9.4" text-anchor="middle" fill="#222">BODIPY-FITC</text>
<path d="M599.45 493.2 V465.35 H612.05 V493.2" fill="#fff" stroke="#d08c9c" stroke-width="0.9"/>
<path d="M614.65 493.2 V440.21 H626.65 V493.2" fill="#fff" stroke="#8490d2" stroke-width="0.9"/>
<path d="M629.45 493.2 V416.44 H641.85 V493.2" fill="#fff" stroke="#e8c35f" stroke-width="0.9"/>
<path d="M643.75 493.2 V440.21 H656.05 V493.2" fill="#fff" stroke="#5cb89e" stroke-width="0.9"/>
<path d="M658.85 493.2 V463.99 H670.75 V493.2" fill="#fff" stroke="#63c1dc" stroke-width="0.9"/>
<line x1="595.4" y1="390.8" x2="595.4" y2="493.8" stroke="#222" stroke-width="1.1"/>
<line x1="594.9" y1="493.2" x2="675.5" y2="493.2" stroke="#222" stroke-width="1.1"/>
<line x1="592.1" y1="493.2" x2="595.4" y2="493.2" stroke="#222" stroke-width="1.1"/>
<text x="590" y="495.9" font-size="7.6" font-weight="bold" text-anchor="end" fill="#111">0</text>
<line x1="592.1" y1="459.23" x2="595.4" y2="459.23" stroke="#222" stroke-width="1.1"/>
<text x="590" y="461.93" font-size="7.6" font-weight="bold" text-anchor="end" fill="#111">500</text>
<line x1="592.1" y1="425.27" x2="595.4" y2="425.27" stroke="#222" stroke-width="1.1"/>
<text x="590" y="427.97" font-size="7.6" font-weight="bold" text-anchor="end" fill="#111">1000</text>
<line x1="592.1" y1="391.3" x2="595.4" y2="391.3" stroke="#222" stroke-width="1.1"/>
<text x="590" y="394" font-size="7.6" font-weight="bold" text-anchor="end" fill="#111">1500</text>
<circle cx="601.95" cy="465.69" r="2.2" fill="#d08c9c" stroke="#555" stroke-width="0.45"/>
<circle cx="605.75" cy="465.01" r="2.2" fill="#d08c9c" stroke="#555" stroke-width="0.45"/>
<circle cx="609.55" cy="465.35" r="2.2" fill="#d08c9c" stroke="#555" stroke-width="0.45"/>
<line x1="605.75" y1="464.67" x2="605.75" y2="466.03" stroke="#333" stroke-width="0.8"/>
<line x1="603.15" y1="464.67" x2="608.35" y2="464.67" stroke="#333" stroke-width="0.8"/>
<line x1="603.15" y1="466.03" x2="608.35" y2="466.03" stroke="#333" stroke-width="0.8"/>
<line x1="605.75" y1="493.2" x2="605.75" y2="496.4" stroke="#222" stroke-width="1.1"/>
<text x="607.55" y="502.8" font-size="7.2" font-weight="bold" text-anchor="end" fill="#111" transform="rotate(-45 607.55 502.8)">Control</text>
<circle cx="616.85" cy="440.89" r="2.2" fill="#8490d2" stroke="#555" stroke-width="0.45"/>
<circle cx="620.65" cy="438.85" r="2.2" fill="#8490d2" stroke="#555" stroke-width="0.45"/>
<circle cx="624.45" cy="440.21" r="2.2" fill="#8490d2" stroke="#555" stroke-width="0.45"/>
<line x1="620.65" y1="436.82" x2="620.65" y2="442.93" stroke="#333" stroke-width="0.8"/>
<line x1="618.05" y1="436.82" x2="623.25" y2="436.82" stroke="#333" stroke-width="0.8"/>
<line x1="618.05" y1="442.93" x2="623.25" y2="442.93" stroke="#333" stroke-width="0.8"/>
<line x1="620.65" y1="493.2" x2="620.65" y2="496.4" stroke="#222" stroke-width="1.1"/>
<text x="622.45" y="502.8" font-size="7.2" font-weight="bold" text-anchor="end" fill="#111" transform="rotate(-45 622.45 502.8)">shNC</text>
<circle cx="631.85" cy="417.11" r="2.2" fill="#e8c35f" stroke="#555" stroke-width="0.45"/>
<circle cx="635.65" cy="413.04" r="2.2" fill="#e8c35f" stroke="#555" stroke-width="0.45"/>
<circle cx="639.45" cy="416.44" r="2.2" fill="#e8c35f" stroke="#555" stroke-width="0.45"/>
<line x1="635.65" y1="407.6" x2="635.65" y2="423.91" stroke="#333" stroke-width="0.8"/>
<line x1="633.05" y1="407.6" x2="638.25" y2="407.6" stroke="#333" stroke-width="0.8"/>
<line x1="633.05" y1="423.91" x2="638.25" y2="423.91" stroke="#333" stroke-width="0.8"/>
<line x1="635.65" y1="493.2" x2="635.65" y2="496.4" stroke="#222" stroke-width="1.1"/>
<text x="637.45" y="502.8" font-size="7.2" font-weight="bold" text-anchor="end" fill="#111" transform="rotate(-45 637.45 502.8)">sh-OTUD7A</text>
<circle cx="646.1" cy="440.89" r="2.2" fill="#5cb89e" stroke="#555" stroke-width="0.45"/>
<circle cx="649.9" cy="438.17" r="2.2" fill="#5cb89e" stroke="#555" stroke-width="0.45"/>
<circle cx="653.7" cy="440.21" r="2.2" fill="#5cb89e" stroke="#555" stroke-width="0.45"/>
<line x1="649.9" y1="435.46" x2="649.9" y2="443.61" stroke="#333" stroke-width="0.8"/>
<line x1="647.3" y1="435.46" x2="652.5" y2="435.46" stroke="#333" stroke-width="0.8"/>
<line x1="647.3" y1="443.61" x2="652.5" y2="443.61" stroke="#333" stroke-width="0.8"/>
<line x1="649.9" y1="493.2" x2="649.9" y2="496.4" stroke="#222" stroke-width="1.1"/>
<text x="651.7" y="502.8" font-size="7.2" font-weight="bold" text-anchor="end" fill="#111" transform="rotate(-45 651.7 502.8)">Vector</text>
<circle cx="661" cy="461.95" r="2.2" fill="#63c1dc" stroke="#555" stroke-width="0.45"/>
<circle cx="664.8" cy="464.67" r="2.2" fill="#63c1dc" stroke="#555" stroke-width="0.45"/>
<circle cx="668.6" cy="463.99" r="2.2" fill="#63c1dc" stroke="#555" stroke-width="0.45"/>
<line x1="664.8" y1="457.87" x2="664.8" y2="469.42" stroke="#333" stroke-width="0.8"/>
<line x1="662.2" y1="457.87" x2="667.4" y2="457.87" stroke="#333" stroke-width="0.8"/>
<line x1="662.2" y1="469.42" x2="667.4" y2="469.42" stroke="#333" stroke-width="0.8"/>
<line x1="664.8" y1="493.2" x2="664.8" y2="496.4" stroke="#222" stroke-width="1.1"/>
<text x="666.6" y="502.8" font-size="7.2" font-weight="bold" text-anchor="end" fill="#111" transform="rotate(-45 666.6 502.8)">OE-OTUD7A</text>
<text x="635.3" y="378" font-size="8.1" font-weight="bold" text-anchor="middle" fill="#111">A549</text>
<line x1="607.2" y1="535.5" x2="672.7" y2="535.5" stroke="#cf4a50" stroke-width="0.7"/>
<text x="639.8" y="543.9" font-size="10" text-anchor="middle" fill="#bf1f2b">+CDDP</text>
<text x="567.7" y="443.5" font-size="6.6" font-weight="bold" text-anchor="middle" fill="#111" transform="rotate(-90 567.7 443.5)">Lipid peroxidation（%）</text>
<line x1="620.5" y1="402.7" x2="635.7" y2="402.7" stroke="#aaa" stroke-width="0.6" stroke-dasharray="1 0.8"/>
<text x="628.1" y="403.8" font-size="7.4" font-weight="bold" text-anchor="middle" fill="#333">**</text>
<line x1="649.9" y1="431.7" x2="664.7" y2="431.7" stroke="#aaa" stroke-width="0.6" stroke-dasharray="1 0.8"/>
<text x="657.3" y="432.8" font-size="7.4" font-weight="bold" text-anchor="middle" fill="#333">***</text>
<text x="385.7" y="576.1" font-size="16.2" font-weight="bold" fill="#111">H</text>
<path d="M476 615.3 L476 615.27 L476.5 615.24 L477 615.22 L477.5 615.17 L478 615.09 L478.5 614.99 L479 614.85 L479.5 614.64 L480 614.33 L480.5 613.98 L481 613.52 L481.5 612.76 L482 612.06 L482.5 610.93 L483 609.68 L483.5 608.26 L484 606.28 L484.5 604.77 L485 602.3 L485.5 600.38 L486 597.05 L486.5 595.43 L487 592.45 L487.5 589.54 L488 587.19 L488.5 586.59 L489 583.6 L489.5 582.5 L490 582.84 L490.5 581.79 L491 583.15 L491.5 584.05 L492 585.21 L492.5 586.47 L493 587.44 L493.5 590.08 L494 591.52 L494.5 593.93 L495 596.96 L495.5 598.85 L496 601.21 L496.5 602.67 L497 604.41 L497.5 606.02 L498 607.68 L498.5 608.69 L499 609.96 L499.5 610.69 L500 611.61 L500.5 612.37 L501 612.82 L501.5 613.33 L502 613.81 L502.5 614.1 L503 614.41 L503.5 614.62 L504 614.79 L504.5 614.91 L505 615.03 L505.5 615.11 L506 615.16 L506.5 615.2 L507 615.23 L507.5 615.25 L508 615.27 L508.5 615.28 L509 615.29 L509.5 615.29 L510 615.29 L510 615.3 Z" fill="#8e74c4" stroke="#5e42aa" stroke-width="0.85" fill-opacity="0.72" stroke-linejoin="round"/>
<line x1="405" y1="615" x2="551.8" y2="615" stroke="#5e42aa" stroke-width="0.7"/>
<path d="M499 639.4 L499 639.29 L499.5 639.24 L500 639.17 L500.5 639.06 L501 638.92 L501.5 638.73 L502 638.49 L502.5 638.18 L503 637.73 L503.5 637.21 L504 636.52 L504.5 635.73 L505 634.72 L505.5 633.7 L506 632.51 L506.5 631.05 L507 629.06 L507.5 627.6 L508 625.27 L508.5 623.22 L509 621.71 L509.5 618.77 L510 617.68 L510.5 614.59 L511 612.84 L511.5 612.34 L512 610.26 L512.5 609.35 L513 609.92 L513.5 608.79 L514 610.01 L514.5 609.2 L515 610.54 L515.5 611.3 L516 614.26 L516.5 615.51 L517 616.91 L517.5 618.85 L518 621.29 L518.5 622.5 L519 624.47 L519.5 626.74 L520 628.53 L520.5 629.77 L521 631.35 L521.5 632.53 L522 633.75 L522.5 634.78 L523 635.72 L523.5 636.42 L524 636.98 L524.5 637.47 L525 637.92 L525.5 638.24 L526 638.53 L526.5 638.74 L527 638.92 L527.5 639.05 L528 639.15 L528.5 639.22 L529 639.28 L529.5 639.31 L530 639.34 L530.5 639.36 L531 639.37 L531 639.4 Z" fill="#9bd870" stroke="#70c444" stroke-width="0.85" fill-opacity="0.72" stroke-linejoin="round"/>
<line x1="405" y1="639.1" x2="551.8" y2="639.1" stroke="#70c444" stroke-width="0.7"/>
<path d="M504 663.5 L504 663.27 L504.5 663.19 L505 663.08 L505.5 662.95 L506 662.76 L506.5 662.55 L507 662.27 L507.5 662.03 L508 661.65 L508.5 661.29 L509 660.79 L509.5 660.2 L510 659.7 L510.5 659 L511 658.12 L511.5 657.33 L512 656.57 L512.5 655.44 L513 654.26 L513.5 653.6 L514 651.87 L514.5 650.63 L515 649.54 L515.5 648.3 L516 646.03 L516.5 645.18 L517 644 L517.5 642.59 L518 640.24 L518.5 639.36 L519 638.01 L519.5 637.32 L520 637.08 L520.5 636.14 L521 637.17 L521.5 637.3 L522 637.6 L522.5 638.94 L523 639.9 L523.5 641.8 L524 643.33 L524.5 645.87 L525 647.5 L525.5 649.28 L526 651.24 L526.5 652.85 L527 654.53 L527.5 655.91 L528 657.1 L528.5 658.37 L529 659.38 L529.5 660.27 L530 660.97 L530.5 661.48 L531 661.99 L531.5 662.38 L532 662.69 L532.5 662.89 L533 663.08 L533.5 663.2 L534 663.28 L534.5 663.35 L535 663.4 L535.5 663.43 L536 663.46 L536.5 663.47 L537 663.48 L537.5 663.49 L538 663.49 L538 663.5 Z" fill="#6fa4dc" stroke="#3d7ec8" stroke-width="0.85" fill-opacity="0.72" stroke-linejoin="round"/>
<line x1="405" y1="663.2" x2="551.8" y2="663.2" stroke="#3d7ec8" stroke-width="0.7"/>
<path d="M496 687.3 L496 687.19 L496.5 687.14 L497 687.08 L497.5 686.99 L498 686.86 L498.5 686.7 L499 686.5 L499.5 686.23 L500 685.92 L500.5 685.46 L501 684.94 L501.5 684.21 L502 683.49 L502.5 682.51 L503 681.54 L503.5 680.43 L504 678.74 L504.5 677.21 L505 675.83 L505.5 674.31 L506 672.13 L506.5 670.26 L507 668.06 L507.5 666.41 L508 664.79 L508.5 663.11 L509 662.03 L509.5 661.44 L510 660.61 L510.5 658.63 L511 658.63 L511.5 659.71 L512 659.25 L512.5 660.68 L513 662.45 L513.5 662.7 L514 664.69 L514.5 666 L515 668.17 L515.5 670.67 L516 672.03 L516.5 673.76 L517 675.47 L517.5 677.5 L518 678.91 L518.5 680.21 L519 681.63 L519.5 682.48 L520 683.43 L520.5 684.36 L521 684.91 L521.5 685.47 L522 685.91 L522.5 686.22 L523 686.47 L523.5 686.7 L524 686.88 L524.5 686.99 L525 687.07 L525.5 687.14 L526 687.19 L526.5 687.23 L527 687.25 L527.5 687.27 L528 687.28 L528 687.3 Z" fill="#dca877" stroke="#c98548" stroke-width="0.85" fill-opacity="0.72" stroke-linejoin="round"/>
<line x1="405" y1="687" x2="551.8" y2="687" stroke="#c98548" stroke-width="0.7"/>
<path d="M489 711.4 L489 710.66 L489.5 710.17 L490 709.41 L490.5 708.47 L491 707.01 L491.5 705.14 L492 702.6 L492.5 699.55 L493 695.7 L493.5 690.99 L494 685.51 L494.5 681 L495 676.83 L495.5 672.49 L496 668.25 L496.5 666.73 L497 666.19 L497.5 664.08 L498 665.98 L498.5 669.63 L499 672.82 L499.5 676.36 L500 678.55 L500.5 684.02 L501 686.93 L501.5 689.95 L502 694.08 L502.5 696.37 L503 698.61 L503.5 700.34 L504 702.55 L504.5 704.04 L505 705.39 L505.5 706.62 L506 707.47 L506.5 708.33 L507 709.13 L507.5 709.76 L508 710.17 L508.5 710.53 L509 710.81 L509 711.4 Z" fill="#d9606e" stroke="#cb3846" stroke-width="0.85" fill-opacity="0.72" stroke-linejoin="round"/>
<line x1="405" y1="711.1" x2="551.8" y2="711.1" stroke="#cb3846" stroke-width="0.7"/>
<rect x="405" y="563.5" width="146.8" height="147.9" fill="none" stroke="#666" stroke-width="0.9"/>
<text x="407.6" y="575.2" font-size="11.3" fill="#222">A549</text>
<text x="407.6" y="612.7" font-size="11.3" fill="#222">Control</text>
<text x="407.6" y="636.8" font-size="11.3" fill="#222">shNC<tspan fill="#bf1f2b">+CDDP</tspan></text>
<text x="407.6" y="660.9" font-size="11.3" fill="#222">sh-OTUD7A<tspan fill="#bf1f2b">+CDDP</tspan></text>
<text x="407.6" y="684.7" font-size="11.3" fill="#222">Vector<tspan fill="#bf1f2b">+CDDP</tspan></text>
<text x="407.6" y="709" font-size="11.3" fill="#222">OE-OTUD7A<tspan fill="#bf1f2b">+CDDP</tspan></text>
<line x1="408.6" y1="711.4" x2="408.6" y2="713.6" stroke="#444" stroke-width="0.6"/>
<text x="405.26" y="722.8" font-size="6" fill="#333">10<tspan dy="-2.7" font-size="4.5">0</tspan></text>
<line x1="440.9" y1="711.4" x2="440.9" y2="713.6" stroke="#444" stroke-width="0.6"/>
<text x="437.56" y="722.8" font-size="6" fill="#333">10<tspan dy="-2.7" font-size="4.5">1</tspan></text>
<line x1="473.1" y1="711.4" x2="473.1" y2="713.6" stroke="#444" stroke-width="0.6"/>
<text x="469.76" y="722.8" font-size="6" fill="#333">10<tspan dy="-2.7" font-size="4.5">2</tspan></text>
<line x1="505.4" y1="711.4" x2="505.4" y2="713.6" stroke="#444" stroke-width="0.6"/>
<text x="502.06" y="722.8" font-size="6" fill="#333">10<tspan dy="-2.7" font-size="4.5">3</tspan></text>
<line x1="538.2" y1="711.4" x2="538.2" y2="713.6" stroke="#444" stroke-width="0.6"/>
<text x="534.86" y="722.8" font-size="6" fill="#333">10<tspan dy="-2.7" font-size="4.5">4</tspan></text>
<line x1="418.32" y1="711.4" x2="418.32" y2="712.6" stroke="#666" stroke-width="0.5"/>
<line x1="424.01" y1="711.4" x2="424.01" y2="712.6" stroke="#666" stroke-width="0.5"/>
<line x1="428.05" y1="711.4" x2="428.05" y2="712.6" stroke="#666" stroke-width="0.5"/>
<line x1="431.18" y1="711.4" x2="431.18" y2="712.6" stroke="#666" stroke-width="0.5"/>
<line x1="433.73" y1="711.4" x2="433.73" y2="712.6" stroke="#666" stroke-width="0.5"/>
<line x1="435.9" y1="711.4" x2="435.9" y2="712.6" stroke="#666" stroke-width="0.5"/>
<line x1="437.77" y1="711.4" x2="437.77" y2="712.6" stroke="#666" stroke-width="0.5"/>
<line x1="439.42" y1="711.4" x2="439.42" y2="712.6" stroke="#666" stroke-width="0.5"/>
<line x1="450.62" y1="711.4" x2="450.62" y2="712.6" stroke="#666" stroke-width="0.5"/>
<line x1="456.31" y1="711.4" x2="456.31" y2="712.6" stroke="#666" stroke-width="0.5"/>
<line x1="460.35" y1="711.4" x2="460.35" y2="712.6" stroke="#666" stroke-width="0.5"/>
<line x1="463.48" y1="711.4" x2="463.48" y2="712.6" stroke="#666" stroke-width="0.5"/>
<line x1="466.03" y1="711.4" x2="466.03" y2="712.6" stroke="#666" stroke-width="0.5"/>
<line x1="468.2" y1="711.4" x2="468.2" y2="712.6" stroke="#666" stroke-width="0.5"/>
<line x1="470.07" y1="711.4" x2="470.07" y2="712.6" stroke="#666" stroke-width="0.5"/>
<line x1="471.72" y1="711.4" x2="471.72" y2="712.6" stroke="#666" stroke-width="0.5"/>
<line x1="482.82" y1="711.4" x2="482.82" y2="712.6" stroke="#666" stroke-width="0.5"/>
<line x1="488.51" y1="711.4" x2="488.51" y2="712.6" stroke="#666" stroke-width="0.5"/>
<line x1="492.55" y1="711.4" x2="492.55" y2="712.6" stroke="#666" stroke-width="0.5"/>
<line x1="495.68" y1="711.4" x2="495.68" y2="712.6" stroke="#666" stroke-width="0.5"/>
<line x1="498.23" y1="711.4" x2="498.23" y2="712.6" stroke="#666" stroke-width="0.5"/>
<line x1="500.4" y1="711.4" x2="500.4" y2="712.6" stroke="#666" stroke-width="0.5"/>
<line x1="502.27" y1="711.4" x2="502.27" y2="712.6" stroke="#666" stroke-width="0.5"/>
<line x1="503.92" y1="711.4" x2="503.92" y2="712.6" stroke="#666" stroke-width="0.5"/>
<line x1="515.12" y1="711.4" x2="515.12" y2="712.6" stroke="#666" stroke-width="0.5"/>
<line x1="520.81" y1="711.4" x2="520.81" y2="712.6" stroke="#666" stroke-width="0.5"/>
<line x1="524.85" y1="711.4" x2="524.85" y2="712.6" stroke="#666" stroke-width="0.5"/>
<line x1="527.98" y1="711.4" x2="527.98" y2="712.6" stroke="#666" stroke-width="0.5"/>
<line x1="530.53" y1="711.4" x2="530.53" y2="712.6" stroke="#666" stroke-width="0.5"/>
<line x1="532.7" y1="711.4" x2="532.7" y2="712.6" stroke="#666" stroke-width="0.5"/>
<line x1="534.57" y1="711.4" x2="534.57" y2="712.6" stroke="#666" stroke-width="0.5"/>
<line x1="536.22" y1="711.4" x2="536.22" y2="712.6" stroke="#666" stroke-width="0.5"/>
<line x1="547.92" y1="711.4" x2="547.92" y2="712.6" stroke="#666" stroke-width="0.5"/>
<text x="476.5" y="736" font-size="10.2" text-anchor="middle" fill="#222">Fe<tspan dy="-3.6" font-size="7.2">2+</tspan><tspan dy="3.6">-PE</tspan></text>
<path d="M599.45 685.3 V674.74 H612.05 V685.3" fill="#fff" stroke="#d08c9c" stroke-width="0.9"/>
<path d="M614.65 685.3 V640.03 H626.65 V685.3" fill="#fff" stroke="#8490d2" stroke-width="0.9"/>
<path d="M629.45 685.3 V613.62 H641.85 V685.3" fill="#fff" stroke="#e8c35f" stroke-width="0.9"/>
<path d="M643.75 685.3 V647.58 H656.05 V685.3" fill="#fff" stroke="#5cb89e" stroke-width="0.9"/>
<path d="M658.85 685.3 V668.95 H670.75 V685.3" fill="#fff" stroke="#63c1dc" stroke-width="0.9"/>
<line x1="595.4" y1="584.2" x2="595.4" y2="685.9" stroke="#222" stroke-width="1.1"/>
<line x1="594.9" y1="685.3" x2="675.5" y2="685.3" stroke="#222" stroke-width="1.1"/>
<line x1="592.1" y1="685.3" x2="595.4" y2="685.3" stroke="#222" stroke-width="1.1"/>
<text x="590" y="688" font-size="7.6" font-weight="bold" text-anchor="end" fill="#111">0</text>
<line x1="592.1" y1="665.18" x2="595.4" y2="665.18" stroke="#222" stroke-width="1.1"/>
<text x="590" y="667.88" font-size="7.6" font-weight="bold" text-anchor="end" fill="#111">800</text>
<line x1="592.1" y1="645.06" x2="595.4" y2="645.06" stroke="#222" stroke-width="1.1"/>
<text x="590" y="647.76" font-size="7.6" font-weight="bold" text-anchor="end" fill="#111">1600</text>
<line x1="592.1" y1="624.94" x2="595.4" y2="624.94" stroke="#222" stroke-width="1.1"/>
<text x="590" y="627.64" font-size="7.6" font-weight="bold" text-anchor="end" fill="#111">2400</text>
<line x1="592.1" y1="604.82" x2="595.4" y2="604.82" stroke="#222" stroke-width="1.1"/>
<text x="590" y="607.52" font-size="7.6" font-weight="bold" text-anchor="end" fill="#111">3200</text>
<line x1="592.1" y1="584.7" x2="595.4" y2="584.7" stroke="#222" stroke-width="1.1"/>
<text x="590" y="587.4" font-size="7.6" font-weight="bold" text-anchor="end" fill="#111">4000</text>
<circle cx="601.95" cy="675.24" r="2.2" fill="#d08c9c" stroke="#555" stroke-width="0.45"/>
<circle cx="605.75" cy="674.49" r="2.2" fill="#d08c9c" stroke="#555" stroke-width="0.45"/>
<circle cx="609.55" cy="674.74" r="2.2" fill="#d08c9c" stroke="#555" stroke-width="0.45"/>
<line x1="605.75" y1="673.98" x2="605.75" y2="675.49" stroke="#333" stroke-width="0.8"/>
<line x1="603.15" y1="673.98" x2="608.35" y2="673.98" stroke="#333" stroke-width="0.8"/>
<line x1="603.15" y1="675.49" x2="608.35" y2="675.49" stroke="#333" stroke-width="0.8"/>
<line x1="605.75" y1="685.3" x2="605.75" y2="688.5" stroke="#222" stroke-width="1.1"/>
<text x="607.55" y="694.9" font-size="7.2" font-weight="bold" text-anchor="end" fill="#111" transform="rotate(-45 607.55 694.9)">Control</text>
<circle cx="616.85" cy="641.29" r="2.2" fill="#8490d2" stroke="#555" stroke-width="0.45"/>
<circle cx="620.65" cy="638.77" r="2.2" fill="#8490d2" stroke="#555" stroke-width="0.45"/>
<circle cx="624.45" cy="640.03" r="2.2" fill="#8490d2" stroke="#555" stroke-width="0.45"/>
<line x1="620.65" y1="636.26" x2="620.65" y2="642.54" stroke="#333" stroke-width="0.8"/>
<line x1="618.05" y1="636.26" x2="623.25" y2="636.26" stroke="#333" stroke-width="0.8"/>
<line x1="618.05" y1="642.54" x2="623.25" y2="642.54" stroke="#333" stroke-width="0.8"/>
<line x1="620.65" y1="685.3" x2="620.65" y2="688.5" stroke="#222" stroke-width="1.1"/>
<text x="622.45" y="694.9" font-size="7.2" font-weight="bold" text-anchor="end" fill="#111" transform="rotate(-45 622.45 694.9)">shNC</text>
<circle cx="631.85" cy="617.39" r="2.2" fill="#e8c35f" stroke="#555" stroke-width="0.45"/>
<circle cx="635.65" cy="609.85" r="2.2" fill="#e8c35f" stroke="#555" stroke-width="0.45"/>
<circle cx="639.45" cy="612.37" r="2.2" fill="#e8c35f" stroke="#555" stroke-width="0.45"/>
<line x1="635.65" y1="606.08" x2="635.65" y2="619.91" stroke="#333" stroke-width="0.8"/>
<line x1="633.05" y1="606.08" x2="638.25" y2="606.08" stroke="#333" stroke-width="0.8"/>
<line x1="633.05" y1="619.91" x2="638.25" y2="619.91" stroke="#333" stroke-width="0.8"/>
<line x1="635.65" y1="685.3" x2="635.65" y2="688.5" stroke="#222" stroke-width="1.1"/>
<text x="637.45" y="694.9" font-size="7.2" font-weight="bold" text-anchor="end" fill="#111" transform="rotate(-45 637.45 694.9)">sh-OTUD7A</text>
<circle cx="646.1" cy="651.35" r="2.2" fill="#5cb89e" stroke="#555" stroke-width="0.45"/>
<circle cx="649.9" cy="642.54" r="2.2" fill="#5cb89e" stroke="#555" stroke-width="0.45"/>
<circle cx="653.7" cy="648.83" r="2.2" fill="#5cb89e" stroke="#555" stroke-width="0.45"/>
<line x1="649.9" y1="637.51" x2="649.9" y2="655.12" stroke="#333" stroke-width="0.8"/>
<line x1="647.3" y1="637.51" x2="652.5" y2="637.51" stroke="#333" stroke-width="0.8"/>
<line x1="647.3" y1="655.12" x2="652.5" y2="655.12" stroke="#333" stroke-width="0.8"/>
<line x1="649.9" y1="685.3" x2="649.9" y2="688.5" stroke="#222" stroke-width="1.1"/>
<text x="651.7" y="694.9" font-size="7.2" font-weight="bold" text-anchor="end" fill="#111" transform="rotate(-45 651.7 694.9)">Vector</text>
<circle cx="661" cy="670.21" r="2.2" fill="#63c1dc" stroke="#555" stroke-width="0.45"/>
<circle cx="664.8" cy="666.44" r="2.2" fill="#63c1dc" stroke="#555" stroke-width="0.45"/>
<circle cx="668.6" cy="668.95" r="2.2" fill="#63c1dc" stroke="#555" stroke-width="0.45"/>
<line x1="664.8" y1="663.17" x2="664.8" y2="672.72" stroke="#333" stroke-width="0.8"/>
<line x1="662.2" y1="663.17" x2="667.4" y2="663.17" stroke="#333" stroke-width="0.8"/>
<line x1="662.2" y1="672.72" x2="667.4" y2="672.72" stroke="#333" stroke-width="0.8"/>
<line x1="664.8" y1="685.3" x2="664.8" y2="688.5" stroke="#222" stroke-width="1.1"/>
<text x="666.6" y="694.9" font-size="7.2" font-weight="bold" text-anchor="end" fill="#111" transform="rotate(-45 666.6 694.9)">OE-OTUD7A</text>
<text x="635.3" y="572" font-size="8.1" font-weight="bold" text-anchor="middle" fill="#111">A549</text>
<line x1="605.9" y1="726.9" x2="671.2" y2="726.9" stroke="#cf4a50" stroke-width="0.7"/>
<text x="639.8" y="735.5" font-size="10" text-anchor="middle" fill="#bf1f2b">+CDDP</text>
<text x="567.7" y="636" font-size="6.6" font-weight="bold" text-anchor="middle" fill="#111" transform="rotate(-90 567.7 636)">Fe<tspan dy="-2.4" font-size="4.8">2+</tspan><tspan dy="2.4"> MFI</tspan></text>
<line x1="620.5" y1="602.1" x2="635.7" y2="602.1" stroke="#aaa" stroke-width="0.6" stroke-dasharray="1 0.8"/>
<text x="628.1" y="603.2" font-size="7.4" font-weight="bold" text-anchor="middle" fill="#333">**</text>
<line x1="650" y1="633.1" x2="665" y2="633.1" stroke="#aaa" stroke-width="0.6" stroke-dasharray="1 0.8"/>
<text x="657.5" y="634.2" font-size="7.4" font-weight="bold" text-anchor="middle" fill="#333">**</text>
<text x="392.9" y="768.7" font-size="16.2" font-weight="bold" fill="#111">I</text>
<path d="M482 810.1 L482 809.27 L482.5 809.06 L483 808.76 L483.5 808.49 L484 808.11 L484.5 807.65 L485 807.35 L485.5 806.86 L486 806.31 L486.5 805.96 L487 805.47 L487.5 804.79 L488 804.27 L488.5 804.06 L489 803.68 L489.5 802.94 L490 802.77 L490.5 802.15 L491 801.57 L491.5 800.84 L492 799.79 L492.5 798.63 L493 797.44 L493.5 795.67 L494 793.72 L494.5 791.62 L495 789.39 L495.5 787.03 L496 784.27 L496.5 780.41 L497 778.16 L497.5 776.97 L498 773.28 L498.5 773.12 L499 771.13 L499.5 771.19 L500 771.72 L500.5 772.46 L501 772.69 L501.5 774.51 L502 775.81 L502.5 777.62 L503 779.45 L503.5 781.48 L504 783.87 L504.5 785.3 L505 787.76 L505.5 788.94 L506 790.6 L506.5 792.05 L507 794.1 L507.5 794.92 L508 796.16 L508.5 797.63 L509 798.5 L509.5 799.44 L510 800.71 L510.5 801.6 L511 802.13 L511.5 802.93 L512 803.31 L512.5 803.85 L513 804.2 L513.5 804.4 L514 804.65 L514.5 804.41 L515 804.46 L515.5 804.22 L516 803.89 L516.5 803.71 L517 803.64 L517.5 803.39 L518 803.28 L518.5 803.83 L519 804.1 L519.5 804.33 L520 805.02 L520.5 805.66 L521 806.32 L521.5 806.87 L522 807.54 L522.5 808.09 L523 808.56 L523.5 808.92 L524 809.28 L524.5 809.51 L525 809.69 L525.5 809.84 L526 809.92 L526.5 809.99 L527 810.03 L527.5 810.06 L528 810.08 L528.5 810.09 L529 810.09 L529.5 810.1 L530 810.1 L530.5 810.1 L531 810.1 L531.5 810.1 L532 810.1 L532.5 810.1 L533 810.1 L533.5 810.1 L534 810.1 L534.5 810.1 L535 810.1 L535.5 810.1 L536 810.1 L536.5 810.1 L537 810.1 L537.5 810.1 L538 810.1 L538 810.1 Z" fill="#8e74c4" stroke="#5e42aa" stroke-width="0.85" fill-opacity="0.72" stroke-linejoin="round"/>
<line x1="404.4" y1="809.8" x2="548.1" y2="809.8" stroke="#5e42aa" stroke-width="0.7"/>
<path d="M485 833.4 L485 832.07 L485.5 831.73 L486 831.41 L486.5 830.92 L487 830.56 L487.5 830.02 L488 829.42 L488.5 829.01 L489 828.29 L489.5 827.77 L490 827.22 L490.5 826.52 L491 825.81 L491.5 825.09 L492 823.78 L492.5 822.97 L493 821.18 L493.5 819.59 L494 818.37 L494.5 815.95 L495 813.22 L495.5 810.04 L496 808.14 L496.5 804.61 L497 802.37 L497.5 799.15 L498 796.84 L498.5 795.75 L499 796.23 L499.5 794.81 L500 796.04 L500.5 796.25 L501 798.61 L501.5 799.64 L502 801.66 L502.5 804.19 L503 806.38 L503.5 808.44 L504 810.61 L504.5 812.75 L505 813.14 L505.5 814.93 L506 816.41 L506.5 816.84 L507 817.65 L507.5 818.57 L508 818.61 L508.5 820.03 L509 820.09 L509.5 821.07 L510 822.03 L510.5 822.58 L511 823.17 L511.5 823.98 L512 824.17 L512.5 824.73 L513 825 L513.5 825.42 L514 825.71 L514.5 825.8 L515 825.94 L515.5 826.12 L516 826.16 L516.5 826.12 L517 825.92 L517.5 825.78 L518 825.74 L518.5 825.68 L519 826.01 L519.5 825.84 L520 826.05 L520.5 825.93 L521 826.1 L521.5 826.32 L522 826.47 L522.5 827.05 L523 827.22 L523.5 827.66 L524 828.2 L524.5 828.41 L525 829.11 L525.5 829.44 L526 829.86 L526.5 830.26 L527 830.6 L527.5 831.04 L528 831.34 L528.5 831.71 L529 831.97 L529.5 832.23 L530 832.41 L530.5 832.6 L531 832.74 L531.5 832.9 L532 832.99 L532.5 833.07 L533 833.16 L533.5 833.21 L534 833.25 L534.5 833.29 L535 833.32 L535.5 833.34 L536 833.36 L536.5 833.37 L537 833.38 L537.5 833.38 L538 833.39 L538.5 833.39 L539 833.39 L539 833.4 Z" fill="#9bd870" stroke="#70c444" stroke-width="0.85" fill-opacity="0.72" stroke-linejoin="round"/>
<line x1="404.4" y1="833.1" x2="548.1" y2="833.1" stroke="#70c444" stroke-width="0.7"/>
<path d="M484 857.2 L484 854.88 L484.5 854.63 L485 854.11 L485.5 853.71 L486 853.13 L486.5 852.78 L487 852.13 L487.5 851.86 L488 851.08 L488.5 850.8 L489 850.43 L489.5 849.92 L490 849.37 L490.5 849.26 L491 848.68 L491.5 848.47 L492 847.98 L492.5 847.36 L493 846.62 L493.5 845.68 L494 844.11 L494.5 842.88 L495 840.56 L495.5 838.19 L496 835.48 L496.5 832.38 L497 829.75 L497.5 826.34 L498 822.78 L498.5 820.66 L499 819.29 L499.5 816.75 L500 815.82 L500.5 816.6 L501 817.48 L501.5 818.63 L502 819.41 L502.5 821.59 L503 824.57 L503.5 827.72 L504 831.01 L504.5 833.47 L505 834.81 L505.5 837 L506 838.84 L506.5 840.66 L507 842.01 L507.5 843.11 L508 844.18 L508.5 844.76 L509 845.83 L509.5 846.47 L510 847.29 L510.5 847.91 L511 848.43 L511.5 848.96 L512 849.73 L512.5 849.77 L513 850.14 L513.5 850.4 L514 850.72 L514.5 850.63 L515 850.74 L515.5 850.97 L516 850.78 L516.5 850.69 L517 850.69 L517.5 850.6 L518 850.74 L518.5 850.71 L519 850.99 L519.5 850.87 L520 851.21 L520.5 851.19 L521 851.36 L521.5 851.81 L522 852.21 L522.5 852.54 L523 852.75 L523.5 853.21 L524 853.45 L524.5 853.85 L525 854.23 L525.5 854.56 L526 854.96 L526.5 855.23 L527 855.55 L527.5 855.76 L528 855.97 L528.5 856.22 L529 856.37 L529.5 856.51 L530 856.66 L530.5 856.78 L531 856.86 L531.5 856.93 L532 857 L532.5 857.04 L533 857.08 L533.5 857.11 L534 857.13 L534.5 857.15 L535 857.16 L535.5 857.17 L536 857.18 L536.5 857.19 L537 857.19 L537.5 857.19 L538 857.2 L538.5 857.2 L539 857.2 L539.5 857.2 L540 857.2 L540 857.2 Z" fill="#6fa4dc" stroke="#3d7ec8" stroke-width="0.85" fill-opacity="0.72" stroke-linejoin="round"/>
<line x1="404.4" y1="856.9" x2="548.1" y2="856.9" stroke="#3d7ec8" stroke-width="0.7"/>
<path d="M482 880.3 L482 878.13 L482.5 877.73 L483 877.4 L483.5 876.93 L484 876.43 L484.5 876.06 L485 875.53 L485.5 875.05 L486 874.53 L486.5 874.36 L487 873.87 L487.5 873.11 L488 872.81 L488.5 872.65 L489 872.06 L489.5 871.97 L490 871.48 L490.5 870.99 L491 870.59 L491.5 870.01 L492 868.97 L492.5 867.87 L493 866.9 L493.5 865.14 L494 863.08 L494.5 862.1 L495 859.71 L495.5 857.69 L496 854.47 L496.5 852.52 L497 850.23 L497.5 848.58 L498 845.81 L498.5 844.51 L499 844.3 L499.5 843.09 L500 844.48 L500.5 844.78 L501 844.43 L501.5 847.22 L502 848.88 L502.5 850.73 L503 851.34 L503.5 852.9 L504 855.83 L504.5 856.84 L505 858.51 L505.5 860.04 L506 861.48 L506.5 862.55 L507 863.94 L507.5 864.28 L508 865.96 L508.5 866.63 L509 867.46 L509.5 868.3 L510 869.21 L510.5 869.9 L511 870.29 L511.5 871.28 L512 871.73 L512.5 872.04 L513 872.11 L513.5 872.46 L514 872.6 L514.5 872.79 L515 872.77 L515.5 872.47 L516 872.6 L516.5 872.4 L517 872.42 L517.5 872.32 L518 872.35 L518.5 872.01 L519 872.2 L519.5 872.38 L520 872.68 L520.5 872.63 L521 873.04 L521.5 873.56 L522 873.92 L522.5 874.05 L523 874.72 L523.5 875.16 L524 875.71 L524.5 875.98 L525 876.59 L525.5 876.96 L526 877.36 L526.5 877.78 L527 878.17 L527.5 878.5 L528 878.75 L528.5 879.05 L529 879.25 L529.5 879.42 L530 879.6 L530.5 879.75 L531 879.86 L531.5 879.97 L532 880.03 L532.5 880.09 L533 880.15 L533.5 880.19 L534 880.21 L534.5 880.24 L535 880.25 L535.5 880.27 L536 880.28 L536.5 880.28 L537 880.29 L537.5 880.29 L538 880.29 L538.5 880.3 L539 880.3 L539.5 880.3 L540 880.3 L540 880.3 Z" fill="#dca877" stroke="#c98548" stroke-width="0.85" fill-opacity="0.72" stroke-linejoin="round"/>
<line x1="404.4" y1="880" x2="548.1" y2="880" stroke="#c98548" stroke-width="0.7"/>
<path d="M482 903.1 L482 901.1 L482.5 900.88 L483 900.46 L483.5 900.09 L484 899.59 L484.5 899.29 L485 898.84 L485.5 898.37 L486 897.99 L486.5 897.38 L487 896.97 L487.5 896.62 L488 896.5 L488.5 895.74 L489 895.57 L489.5 895.19 L490 894.85 L490.5 894.48 L491 893.81 L491.5 893.66 L492 893.15 L492.5 891.88 L493 891.52 L493.5 890.5 L494 889.21 L494.5 887.44 L495 886.44 L495.5 885.22 L496 883.24 L496.5 881.53 L497 880.07 L497.5 877.06 L498 875.68 L498.5 875.25 L499 873.89 L499.5 871.63 L500 871.52 L500.5 871.7 L501 871.47 L501.5 871.04 L502 873.02 L502.5 873.13 L503 875.21 L503.5 875.53 L504 877.13 L504.5 878.19 L505 879.32 L505.5 880.43 L506 880.91 L506.5 882.59 L507 883.89 L507.5 883.74 L508 884.38 L508.5 885.12 L509 886.26 L509.5 886.71 L510 886.79 L510.5 887.89 L511 888.33 L511.5 888.34 L512 888.98 L512.5 889.18 L513 889.83 L513.5 889.57 L514 890.32 L514.5 890.81 L515 891.19 L515.5 891.56 L516 891.55 L516.5 891.87 L517 892.2 L517.5 892.42 L518 892.93 L518.5 893.36 L519 893.64 L519.5 894.1 L520 894.28 L520.5 894.54 L521 894.68 L521.5 895.17 L522 895.75 L522.5 895.92 L523 896.38 L523.5 896.59 L524 896.98 L524.5 897.47 L525 897.86 L525.5 898.33 L526 898.76 L526.5 899.02 L527 899.41 L527.5 899.82 L528 900.09 L528.5 900.45 L529 900.77 L529.5 901.13 L530 901.29 L530.5 901.61 L531 901.81 L531.5 902 L532 902.17 L532.5 902.29 L533 902.43 L533.5 902.55 L534 902.65 L534.5 902.72 L535 902.8 L535.5 902.86 L536 902.9 L536.5 902.94 L537 902.98 L537.5 903 L538 903.02 L538.5 903.04 L539 903.05 L539.5 903.07 L540 903.07 L540 903.1 Z" fill="#d9606e" stroke="#cb3846" stroke-width="0.85" fill-opacity="0.72" stroke-linejoin="round"/>
<line x1="404.4" y1="902.8" x2="548.1" y2="902.8" stroke="#cb3846" stroke-width="0.7"/>
<rect x="404.4" y="759.4" width="143.7" height="143.7" fill="none" stroke="#666" stroke-width="0.9"/>
<text x="405.6" y="771.4" font-size="11.3" fill="#222">A549</text>
<text x="405.6" y="807.5" font-size="11.3" fill="#222">Control</text>
<text x="405.6" y="830.8" font-size="11.3" fill="#222">shNC<tspan fill="#bf1f2b">+CDDP</tspan></text>
<text x="405.6" y="854.6" font-size="11.3" fill="#222">sh-OTUD7A<tspan fill="#bf1f2b">+CDDP</tspan></text>
<text x="405.6" y="877.7" font-size="11.3" fill="#222">Vector<tspan fill="#bf1f2b">+CDDP</tspan></text>
<text x="405.6" y="900.7" font-size="11.3" fill="#222">OE-OTUD7A<tspan fill="#bf1f2b">+CDDP</tspan></text>
<line x1="429.7" y1="903.1" x2="429.7" y2="905.3" stroke="#444" stroke-width="0.6"/>
<text x="426.36" y="915.4" font-size="6" fill="#333">10<tspan dy="-2.7" font-size="4.5">1</tspan></text>
<line x1="470.7" y1="903.1" x2="470.7" y2="905.3" stroke="#444" stroke-width="0.6"/>
<text x="467.36" y="915.4" font-size="6" fill="#333">10<tspan dy="-2.7" font-size="4.5">2</tspan></text>
<line x1="511.6" y1="903.1" x2="511.6" y2="905.3" stroke="#444" stroke-width="0.6"/>
<text x="508.26" y="915.4" font-size="6" fill="#333">10<tspan dy="-2.7" font-size="4.5">3</tspan></text>
<line x1="442.04" y1="903.1" x2="442.04" y2="904.3" stroke="#666" stroke-width="0.5"/>
<line x1="449.26" y1="903.1" x2="449.26" y2="904.3" stroke="#666" stroke-width="0.5"/>
<line x1="454.38" y1="903.1" x2="454.38" y2="904.3" stroke="#666" stroke-width="0.5"/>
<line x1="458.36" y1="903.1" x2="458.36" y2="904.3" stroke="#666" stroke-width="0.5"/>
<line x1="461.6" y1="903.1" x2="461.6" y2="904.3" stroke="#666" stroke-width="0.5"/>
<line x1="464.35" y1="903.1" x2="464.35" y2="904.3" stroke="#666" stroke-width="0.5"/>
<line x1="466.73" y1="903.1" x2="466.73" y2="904.3" stroke="#666" stroke-width="0.5"/>
<line x1="468.82" y1="903.1" x2="468.82" y2="904.3" stroke="#666" stroke-width="0.5"/>
<line x1="483.04" y1="903.1" x2="483.04" y2="904.3" stroke="#666" stroke-width="0.5"/>
<line x1="490.26" y1="903.1" x2="490.26" y2="904.3" stroke="#666" stroke-width="0.5"/>
<line x1="495.38" y1="903.1" x2="495.38" y2="904.3" stroke="#666" stroke-width="0.5"/>
<line x1="499.36" y1="903.1" x2="499.36" y2="904.3" stroke="#666" stroke-width="0.5"/>
<line x1="502.6" y1="903.1" x2="502.6" y2="904.3" stroke="#666" stroke-width="0.5"/>
<line x1="505.35" y1="903.1" x2="505.35" y2="904.3" stroke="#666" stroke-width="0.5"/>
<line x1="507.73" y1="903.1" x2="507.73" y2="904.3" stroke="#666" stroke-width="0.5"/>
<line x1="509.82" y1="903.1" x2="509.82" y2="904.3" stroke="#666" stroke-width="0.5"/>
<line x1="523.94" y1="903.1" x2="523.94" y2="904.3" stroke="#666" stroke-width="0.5"/>
<line x1="531.16" y1="903.1" x2="531.16" y2="904.3" stroke="#666" stroke-width="0.5"/>
<line x1="536.28" y1="903.1" x2="536.28" y2="904.3" stroke="#666" stroke-width="0.5"/>
<line x1="540.26" y1="903.1" x2="540.26" y2="904.3" stroke="#666" stroke-width="0.5"/>
<line x1="543.5" y1="903.1" x2="543.5" y2="904.3" stroke="#666" stroke-width="0.5"/>
<line x1="546.25" y1="903.1" x2="546.25" y2="904.3" stroke="#666" stroke-width="0.5"/>
<text x="474.4" y="929.6" font-size="9.4" text-anchor="middle" fill="#222">GPX4-FITC</text>
<path d="M597.55 882.5 V852.83 H610.15 V882.5" fill="#fff" stroke="#d08c9c" stroke-width="0.9"/>
<path d="M612.75 882.5 V812.94 H625.15 V882.5" fill="#fff" stroke="#8490d2" stroke-width="0.9"/>
<path d="M627.15 882.5 V819.84 H639.55 V882.5" fill="#fff" stroke="#e8c35f" stroke-width="0.9"/>
<path d="M641.95 882.5 V812.94 H654.35 V882.5" fill="#fff" stroke="#5cb89e" stroke-width="0.9"/>
<path d="M656.65 882.5 V801.17 H669.35 V882.5" fill="#fff" stroke="#63c1dc" stroke-width="0.9"/>
<line x1="593.9" y1="779.7" x2="593.9" y2="883.1" stroke="#222" stroke-width="1.1"/>
<line x1="593.4" y1="882.5" x2="673.6" y2="882.5" stroke="#222" stroke-width="1.1"/>
<line x1="590.6" y1="882.5" x2="593.9" y2="882.5" stroke="#222" stroke-width="1.1"/>
<text x="588.5" y="885.2" font-size="7.6" font-weight="bold" text-anchor="end" fill="#111">600</text>
<line x1="590.6" y1="856.92" x2="593.9" y2="856.92" stroke="#222" stroke-width="1.1"/>
<text x="588.5" y="859.62" font-size="7.6" font-weight="bold" text-anchor="end" fill="#111">700</text>
<line x1="590.6" y1="831.35" x2="593.9" y2="831.35" stroke="#222" stroke-width="1.1"/>
<text x="588.5" y="834.05" font-size="7.6" font-weight="bold" text-anchor="end" fill="#111">800</text>
<line x1="590.6" y1="805.78" x2="593.9" y2="805.78" stroke="#222" stroke-width="1.1"/>
<text x="588.5" y="808.48" font-size="7.6" font-weight="bold" text-anchor="end" fill="#111">900</text>
<line x1="590.6" y1="780.2" x2="593.9" y2="780.2" stroke="#222" stroke-width="1.1"/>
<text x="588.5" y="782.9" font-size="7.6" font-weight="bold" text-anchor="end" fill="#111">1000</text>
<circle cx="600.05" cy="854.37" r="2.2" fill="#d08c9c" stroke="#555" stroke-width="0.45"/>
<circle cx="603.85" cy="850.53" r="2.2" fill="#d08c9c" stroke="#555" stroke-width="0.45"/>
<circle cx="607.65" cy="853.09" r="2.2" fill="#d08c9c" stroke="#555" stroke-width="0.45"/>
<line x1="603.85" y1="849.25" x2="603.85" y2="854.88" stroke="#333" stroke-width="0.8"/>
<line x1="601.25" y1="849.25" x2="606.45" y2="849.25" stroke="#333" stroke-width="0.8"/>
<line x1="601.25" y1="854.88" x2="606.45" y2="854.88" stroke="#333" stroke-width="0.8"/>
<line x1="603.85" y1="882.5" x2="603.85" y2="885.7" stroke="#222" stroke-width="1.1"/>
<text x="605.65" y="892.1" font-size="7.2" font-weight="bold" text-anchor="end" fill="#111" transform="rotate(-45 605.65 892.1)">Control</text>
<circle cx="615.15" cy="812.94" r="2.2" fill="#8490d2" stroke="#555" stroke-width="0.45"/>
<circle cx="618.95" cy="812.94" r="2.2" fill="#8490d2" stroke="#555" stroke-width="0.45"/>
<circle cx="622.75" cy="812.94" r="2.2" fill="#8490d2" stroke="#555" stroke-width="0.45"/>
<line x1="618.95" y1="882.5" x2="618.95" y2="885.7" stroke="#222" stroke-width="1.1"/>
<text x="620.75" y="892.1" font-size="7.2" font-weight="bold" text-anchor="end" fill="#111" transform="rotate(-45 620.75 892.1)">shNC</text>
<circle cx="629.55" cy="821.12" r="2.2" fill="#e8c35f" stroke="#555" stroke-width="0.45"/>
<circle cx="633.35" cy="818.56" r="2.2" fill="#e8c35f" stroke="#555" stroke-width="0.45"/>
<circle cx="637.15" cy="819.84" r="2.2" fill="#e8c35f" stroke="#555" stroke-width="0.45"/>
<line x1="633.35" y1="818.05" x2="633.35" y2="821.63" stroke="#333" stroke-width="0.8"/>
<line x1="630.75" y1="818.05" x2="635.95" y2="818.05" stroke="#333" stroke-width="0.8"/>
<line x1="630.75" y1="821.63" x2="635.95" y2="821.63" stroke="#333" stroke-width="0.8"/>
<line x1="633.35" y1="882.5" x2="633.35" y2="885.7" stroke="#222" stroke-width="1.1"/>
<text x="635.15" y="892.1" font-size="7.2" font-weight="bold" text-anchor="end" fill="#111" transform="rotate(-45 635.15 892.1)">sh-OTUD7A</text>
<circle cx="644.35" cy="814.47" r="2.2" fill="#5cb89e" stroke="#555" stroke-width="0.45"/>
<circle cx="648.15" cy="810.89" r="2.2" fill="#5cb89e" stroke="#555" stroke-width="0.45"/>
<circle cx="651.95" cy="812.94" r="2.2" fill="#5cb89e" stroke="#555" stroke-width="0.45"/>
<line x1="648.15" y1="810.38" x2="648.15" y2="815.49" stroke="#333" stroke-width="0.8"/>
<line x1="645.55" y1="810.38" x2="650.75" y2="810.38" stroke="#333" stroke-width="0.8"/>
<line x1="645.55" y1="815.49" x2="650.75" y2="815.49" stroke="#333" stroke-width="0.8"/>
<line x1="648.15" y1="882.5" x2="648.15" y2="885.7" stroke="#222" stroke-width="1.1"/>
<text x="649.95" y="892.1" font-size="7.2" font-weight="bold" text-anchor="end" fill="#111" transform="rotate(-45 649.95 892.1)">Vector</text>
<circle cx="659.2" cy="802.71" r="2.2" fill="#63c1dc" stroke="#555" stroke-width="0.45"/>
<circle cx="663" cy="798.1" r="2.2" fill="#63c1dc" stroke="#555" stroke-width="0.45"/>
<circle cx="666.8" cy="801.68" r="2.2" fill="#63c1dc" stroke="#555" stroke-width="0.45"/>
<line x1="663" y1="795.55" x2="663" y2="805.78" stroke="#333" stroke-width="0.8"/>
<line x1="660.4" y1="795.55" x2="665.6" y2="795.55" stroke="#333" stroke-width="0.8"/>
<line x1="660.4" y1="805.78" x2="665.6" y2="805.78" stroke="#333" stroke-width="0.8"/>
<line x1="663" y1="882.5" x2="663" y2="885.7" stroke="#222" stroke-width="1.1"/>
<text x="664.8" y="892.1" font-size="7.2" font-weight="bold" text-anchor="end" fill="#111" transform="rotate(-45 664.8 892.1)">OE-OTUD7A</text>
<text x="633.4" y="766.8" font-size="8.1" font-weight="bold" text-anchor="middle" fill="#111">A549</text>
<line x1="605.3" y1="923.5" x2="671.2" y2="923.5" stroke="#cf4a50" stroke-width="0.7"/>
<text x="638" y="932.5" font-size="10" text-anchor="middle" fill="#bf1f2b">+CDDP</text>
<text x="565.8" y="831" font-size="6.6" font-weight="bold" text-anchor="middle" fill="#111" transform="rotate(-90 565.8 831)">GPX4-MFI</text>
<line x1="618.6" y1="806.2" x2="633.8" y2="806.2" stroke="#aaa" stroke-width="0.6" stroke-dasharray="1 0.8"/>
<text x="626.2" y="807.3" font-size="7.4" font-weight="bold" text-anchor="middle" fill="#333">*</text>
<line x1="648" y1="790.1" x2="663.2" y2="790.1" stroke="#aaa" stroke-width="0.6" stroke-dasharray="1 0.8"/>
<text x="655.6" y="791.2" font-size="7.4" font-weight="bold" text-anchor="middle" fill="#333">**</text>
<text x="35.4" y="496.5" font-size="16.5" font-weight="bold" fill="#111">J</text>
<defs><filter id="jtex" x="0" y="0" width="1" height="1" color-interpolation-filters="sRGB"><feTurbulence type="fractalNoise" baseFrequency="0.06" numOctaves="3" seed="7"/><feColorMatrix type="matrix" values="0 0 0 0 0.33  0 0 0 0 0.56  0 0 0 0 0.70  0.9 0 0 0 -0.42"/></filter><radialGradient id="tum" cx="0.45" cy="0.4" r="0.62"><stop offset="0" stop-color="#e4a0a2"/><stop offset="0.6" stop-color="#cf7d86"/><stop offset="1" stop-color="#a85a6c"/></radialGradient><radialGradient id="tumS" cx="0.45" cy="0.4" r="0.62"><stop offset="0" stop-color="#efbcba"/><stop offset="0.6" stop-color="#dc9c9f"/><stop offset="1" stop-color="#ba7482"/></radialGradient><filter id="lump" x="-0.3" y="-0.3" width="1.6" height="1.6" color-interpolation-filters="sRGB"><feTurbulence type="fractalNoise" baseFrequency="0.16" numOctaves="2" seed="4" result="t"/><feDisplacementMap in="SourceGraphic" in2="t" scale="2.6" xChannelSelector="R" yChannelSelector="G" result="d"/><feTurbulence type="fractalNoise" baseFrequency="0.3" numOctaves="2" seed="9" result="t2"/><feColorMatrix in="t2" type="matrix" values="0 0 0 0 0.66  0 0 0 0 0.30  0 0 0 0 0.36  4 0 0 0 -1.9" result="sp"/><feComposite in="sp" in2="d" operator="in" result="sp2"/><feColorMatrix in="t2" type="matrix" values="0 0 0 0 0.96  0 0 0 0 0.80  0 0 0 0 0.80  -4 0 0 0 1.5" result="hl"/><feComposite in="hl" in2="d" operator="in" result="hl2"/><feMerge><feMergeNode in="d"/><feMergeNode in="sp2"/><feMergeNode in="hl2"/></feMerge></filter></defs>
<rect x="56" y="490.9" width="295.9" height="192.5" fill="#4281a9" stroke="none" stroke-width="1"/>
<rect x="56" y="490.9" width="295.9" height="192.5" fill="#000" stroke="none" stroke-width="1" filter="url(#jtex)"/>
<g filter="url(#lump)">
<ellipse cx="72.8" cy="513.48" rx="5.09" ry="5.68" fill="#2a5675" opacity="0.4"/>
<ellipse cx="72" cy="511.88" rx="5.09" ry="5.68" fill="url(#tum)"/>
<ellipse cx="88.5" cy="514.1" rx="4.26" ry="5.28" fill="#2a5675" opacity="0.4"/>
<ellipse cx="87.7" cy="512.5" rx="4.26" ry="5.28" fill="url(#tum)"/>
<ellipse cx="104.9" cy="513.51" rx="5.28" ry="5.18" fill="#2a5675" opacity="0.4"/>
<ellipse cx="104.1" cy="511.91" rx="5.28" ry="5.18" fill="url(#tum)"/>
<ellipse cx="121.5" cy="514.44" rx="5.26" ry="5.19" fill="#2a5675" opacity="0.4"/>
<ellipse cx="120.7" cy="512.84" rx="5.26" ry="5.19" fill="url(#tum)"/>
<ellipse cx="138.2" cy="514.12" rx="5.6" ry="6.22" fill="#2a5675" opacity="0.4"/>
<ellipse cx="137.4" cy="512.52" rx="5.6" ry="6.22" fill="url(#tum)"/>
<ellipse cx="168.2" cy="513.37" rx="4.69" ry="4.88" fill="#2a5675" opacity="0.4"/>
<ellipse cx="167.4" cy="511.77" rx="4.69" ry="4.88" fill="url(#tum)"/>
<ellipse cx="184.8" cy="512.78" rx="4.74" ry="4.75" fill="#2a5675" opacity="0.4"/>
<ellipse cx="184" cy="511.18" rx="4.74" ry="4.75" fill="url(#tum)"/>
<ellipse cx="201.8" cy="513.45" rx="5.59" ry="6.18" fill="#2a5675" opacity="0.4"/>
<ellipse cx="201" cy="511.85" rx="5.59" ry="6.18" fill="url(#tum)"/>
<ellipse cx="218.3" cy="512.93" rx="5.25" ry="6.09" fill="#2a5675" opacity="0.4"/>
<ellipse cx="217.5" cy="511.33" rx="5.25" ry="6.09" fill="url(#tum)"/>
<ellipse cx="235.3" cy="513.71" rx="4.23" ry="4.63" fill="#2a5675" opacity="0.4"/>
<ellipse cx="234.5" cy="512.11" rx="4.23" ry="4.63" fill="url(#tum)"/>
<ellipse cx="265.6" cy="513.14" rx="5.39" ry="5.47" fill="#2a5675" opacity="0.4"/>
<ellipse cx="264.8" cy="511.54" rx="5.39" ry="5.47" fill="url(#tum)"/>
<ellipse cx="282.6" cy="512.41" rx="5.08" ry="5.67" fill="#2a5675" opacity="0.4"/>
<ellipse cx="281.8" cy="510.81" rx="5.08" ry="5.67" fill="url(#tum)"/>
<ellipse cx="300.1" cy="512.53" rx="6.02" ry="6.69" fill="#2a5675" opacity="0.4"/>
<ellipse cx="299.3" cy="510.93" rx="6.02" ry="6.69" fill="url(#tum)"/>
<ellipse cx="317" cy="512.97" rx="6.11" ry="6.01" fill="#2a5675" opacity="0.4"/>
<ellipse cx="316.2" cy="511.37" rx="6.11" ry="6.01" fill="url(#tum)"/>
<ellipse cx="334.2" cy="512.98" rx="6.32" ry="6.4" fill="#2a5675" opacity="0.4"/>
<ellipse cx="333.4" cy="511.38" rx="6.32" ry="6.4" fill="url(#tum)"/>
<ellipse cx="71.9" cy="543.24" rx="4.07" ry="4.17" fill="#2a5675" opacity="0.4"/>
<ellipse cx="71.1" cy="541.64" rx="4.07" ry="4.17" fill="url(#tum)"/>
<ellipse cx="89" cy="542.56" rx="3.94" ry="4.3" fill="#2a5675" opacity="0.4"/>
<ellipse cx="88.2" cy="540.96" rx="3.94" ry="4.3" fill="url(#tum)"/>
<ellipse cx="106.1" cy="542.24" rx="4.31" ry="4.43" fill="#2a5675" opacity="0.4"/>
<ellipse cx="105.3" cy="540.64" rx="4.31" ry="4.43" fill="url(#tum)"/>
<ellipse cx="122.4" cy="542.57" rx="4.64" ry="4.32" fill="#2a5675" opacity="0.4"/>
<ellipse cx="121.6" cy="540.97" rx="4.64" ry="4.32" fill="url(#tum)"/>
<ellipse cx="138.8" cy="543.08" rx="3.83" ry="3.85" fill="#2a5675" opacity="0.4"/>
<ellipse cx="138" cy="541.48" rx="3.83" ry="3.85" fill="url(#tum)"/>
<ellipse cx="168.8" cy="543.51" rx="4.66" ry="5.4" fill="#2a5675" opacity="0.4"/>
<ellipse cx="168" cy="541.91" rx="4.66" ry="5.4" fill="url(#tum)"/>
<ellipse cx="185.2" cy="542.6" rx="3.88" ry="3.77" fill="#2a5675" opacity="0.4"/>
<ellipse cx="184.4" cy="541" rx="3.88" ry="3.77" fill="url(#tum)"/>
<ellipse cx="203.3" cy="542.42" rx="4.2" ry="4.17" fill="#2a5675" opacity="0.4"/>
<ellipse cx="202.5" cy="540.82" rx="4.2" ry="4.17" fill="url(#tum)"/>
<ellipse cx="221.8" cy="542.17" rx="4.4" ry="5.24" fill="#2a5675" opacity="0.4"/>
<ellipse cx="221" cy="540.57" rx="4.4" ry="5.24" fill="url(#tum)"/>
<ellipse cx="238.2" cy="543.53" rx="4.06" ry="4.4" fill="#2a5675" opacity="0.4"/>
<ellipse cx="237.4" cy="541.93" rx="4.06" ry="4.4" fill="url(#tum)"/>
<ellipse cx="268" cy="543.13" rx="3.55" ry="3.84" fill="#2a5675" opacity="0.4"/>
<ellipse cx="267.2" cy="541.53" rx="3.55" ry="3.84" fill="url(#tumS)"/>
<ellipse cx="285.3" cy="543.6" rx="3.4" ry="3.83" fill="#2a5675" opacity="0.4"/>
<ellipse cx="284.5" cy="542" rx="3.4" ry="3.83" fill="url(#tumS)"/>
<ellipse cx="303" cy="542.48" rx="3.56" ry="3.54" fill="#2a5675" opacity="0.4"/>
<ellipse cx="302.2" cy="540.88" rx="3.56" ry="3.54" fill="url(#tumS)"/>
<ellipse cx="320.5" cy="542.98" rx="3.02" ry="3.33" fill="#2a5675" opacity="0.4"/>
<ellipse cx="319.7" cy="541.38" rx="3.02" ry="3.33" fill="url(#tumS)"/>
<ellipse cx="336.1" cy="542.13" rx="3.61" ry="3.51" fill="#2a5675" opacity="0.4"/>
<ellipse cx="335.3" cy="540.53" rx="3.61" ry="3.51" fill="url(#tumS)"/>
<ellipse cx="70" cy="593" rx="4.89" ry="4.96" fill="#2a5675" opacity="0.4"/>
<ellipse cx="69.2" cy="591.4" rx="4.89" ry="4.96" fill="url(#tum)"/>
<ellipse cx="86.9" cy="593.13" rx="4.61" ry="5" fill="#2a5675" opacity="0.4"/>
<ellipse cx="86.1" cy="591.53" rx="4.61" ry="5" fill="url(#tum)"/>
<ellipse cx="103" cy="593.08" rx="5.04" ry="5.61" fill="#2a5675" opacity="0.4"/>
<ellipse cx="102.2" cy="591.48" rx="5.04" ry="5.61" fill="url(#tum)"/>
<ellipse cx="120.2" cy="592.95" rx="4.48" ry="4.77" fill="#2a5675" opacity="0.4"/>
<ellipse cx="119.4" cy="591.35" rx="4.48" ry="4.77" fill="url(#tum)"/>
<ellipse cx="138" cy="592.59" rx="4.71" ry="5.13" fill="#2a5675" opacity="0.4"/>
<ellipse cx="137.2" cy="590.99" rx="4.71" ry="5.13" fill="url(#tum)"/>
<ellipse cx="169.3" cy="595.04" rx="4.33" ry="4.76" fill="#2a5675" opacity="0.4"/>
<ellipse cx="168.5" cy="593.44" rx="4.33" ry="4.76" fill="url(#tum)"/>
<ellipse cx="185.3" cy="594.3" rx="4.72" ry="4.6" fill="#2a5675" opacity="0.4"/>
<ellipse cx="184.5" cy="592.7" rx="4.72" ry="4.6" fill="url(#tum)"/>
<ellipse cx="205.2" cy="594.1" rx="4.87" ry="4.72" fill="#2a5675" opacity="0.4"/>
<ellipse cx="204.4" cy="592.5" rx="4.87" ry="4.72" fill="url(#tum)"/>
<ellipse cx="221.2" cy="594.32" rx="4.87" ry="4.88" fill="#2a5675" opacity="0.4"/>
<ellipse cx="220.4" cy="592.72" rx="4.87" ry="4.88" fill="url(#tum)"/>
<ellipse cx="237.8" cy="595.17" rx="4.3" ry="4.86" fill="#2a5675" opacity="0.4"/>
<ellipse cx="237" cy="593.57" rx="4.3" ry="4.86" fill="url(#tum)"/>
<ellipse cx="272.3" cy="597.02" rx="4.86" ry="5.13" fill="#2a5675" opacity="0.4"/>
<ellipse cx="271.5" cy="595.42" rx="4.86" ry="5.13" fill="url(#tum)"/>
<ellipse cx="289.8" cy="596.45" rx="5.06" ry="5.44" fill="#2a5675" opacity="0.4"/>
<ellipse cx="289" cy="594.85" rx="5.06" ry="5.44" fill="url(#tum)"/>
<ellipse cx="306.5" cy="595.89" rx="5.17" ry="5.38" fill="#2a5675" opacity="0.4"/>
<ellipse cx="305.7" cy="594.29" rx="5.17" ry="5.38" fill="url(#tum)"/>
<ellipse cx="322.8" cy="596.89" rx="4.66" ry="5.16" fill="#2a5675" opacity="0.4"/>
<ellipse cx="322" cy="595.29" rx="4.66" ry="5.16" fill="url(#tum)"/>
<ellipse cx="339.5" cy="596.87" rx="4.76" ry="5.18" fill="#2a5675" opacity="0.4"/>
<ellipse cx="338.7" cy="595.27" rx="4.76" ry="5.18" fill="url(#tum)"/>
<ellipse cx="70" cy="624.27" rx="3.82" ry="3.6" fill="#2a5675" opacity="0.4"/>
<ellipse cx="69.2" cy="622.67" rx="3.82" ry="3.6" fill="url(#tumS)"/>
<ellipse cx="85.4" cy="623.61" rx="4.25" ry="4.62" fill="#2a5675" opacity="0.4"/>
<ellipse cx="84.6" cy="622.01" rx="4.25" ry="4.62" fill="url(#tumS)"/>
<ellipse cx="102.4" cy="624.29" rx="4.29" ry="4.09" fill="#2a5675" opacity="0.4"/>
<ellipse cx="101.6" cy="622.69" rx="4.29" ry="4.09" fill="url(#tumS)"/>
<ellipse cx="121.1" cy="624.79" rx="4.01" ry="4.2" fill="#2a5675" opacity="0.4"/>
<ellipse cx="120.3" cy="623.19" rx="4.01" ry="4.2" fill="url(#tumS)"/>
<ellipse cx="139.5" cy="624.06" rx="3.33" ry="3.49" fill="#2a5675" opacity="0.4"/>
<ellipse cx="138.7" cy="622.46" rx="3.33" ry="3.49" fill="url(#tumS)"/>
<ellipse cx="167.8" cy="626.24" rx="3.65" ry="3.43" fill="#2a5675" opacity="0.4"/>
<ellipse cx="167" cy="624.64" rx="3.65" ry="3.43" fill="url(#tumS)"/>
<ellipse cx="188" cy="626.75" rx="4.07" ry="4.33" fill="#2a5675" opacity="0.4"/>
<ellipse cx="187.2" cy="625.15" rx="4.07" ry="4.33" fill="url(#tumS)"/>
<ellipse cx="206.4" cy="626.74" rx="3.38" ry="4.12" fill="#2a5675" opacity="0.4"/>
<ellipse cx="205.6" cy="625.14" rx="3.38" ry="4.12" fill="url(#tumS)"/>
<ellipse cx="223.3" cy="625.57" rx="3.57" ry="3.74" fill="#2a5675" opacity="0.4"/>
<ellipse cx="222.5" cy="623.97" rx="3.57" ry="3.74" fill="url(#tumS)"/>
<ellipse cx="238.8" cy="625.96" rx="4.06" ry="4.16" fill="#2a5675" opacity="0.4"/>
<ellipse cx="238" cy="624.36" rx="4.06" ry="4.16" fill="url(#tumS)"/>
<ellipse cx="272.8" cy="627.6" rx="2.88" ry="3.24" fill="#2a5675" opacity="0.4"/>
<ellipse cx="272" cy="626" rx="2.88" ry="3.24" fill="url(#tumS)"/>
<ellipse cx="291.8" cy="627.76" rx="2.51" ry="2.82" fill="#2a5675" opacity="0.4"/>
<ellipse cx="291" cy="626.16" rx="2.51" ry="2.82" fill="url(#tumS)"/>
<ellipse cx="308.8" cy="627.47" rx="3.06" ry="3.21" fill="#2a5675" opacity="0.4"/>
<ellipse cx="308" cy="625.87" rx="3.06" ry="3.21" fill="url(#tumS)"/>
<ellipse cx="324.3" cy="628.52" rx="2.44" ry="2.71" fill="#2a5675" opacity="0.4"/>
<ellipse cx="323.5" cy="626.92" rx="2.44" ry="2.71" fill="url(#tumS)"/>
<ellipse cx="340.8" cy="627.28" rx="2.44" ry="2.74" fill="#2a5675" opacity="0.4"/>
<ellipse cx="340" cy="625.68" rx="2.44" ry="2.74" fill="url(#tumS)"/>
</g>
<text x="64.7" y="504" font-size="10" fill="#0e1418">A549</text>
<text x="69.6" y="530.3" font-size="10" fill="#0e1418">OE-OTUD7A</text>
<text x="172.7" y="530.1" font-size="10" fill="#0e1418">OE-KDM5B</text>
<text x="275.3" y="529.7" font-size="10" fill="#0e1418">OE-GABPA</text>
<text x="58.8" y="559.5" font-size="10" fill="#0e1418">OE-7A+OE-5B+siGABPA</text>
<text x="183.5" y="559.5" font-size="10" fill="#0e1418">Control</text>
<text x="278.8" y="559.5" font-size="10" fill="#0e1418">si-GABPA</text>
<text x="64.3" y="584.8" font-size="10" fill="#0e1418">SW1573</text>
<text x="73.6" y="613.9" font-size="10" fill="#0e1418">OE-KDM5B</text>
<text x="175.8" y="613.9" font-size="10" fill="#0e1418">OE-GABPA</text>
<text x="275.9" y="613.6" font-size="10" fill="#0e1418">OE-OTUD7A</text>
<text x="59.6" y="642.2" font-size="10" fill="#0e1418">OE-7A+OE-5B+siGABPA</text>
<text x="189.8" y="642.2" font-size="10" fill="#0e1418">Control</text>
<text x="284.7" y="642.2" font-size="10" fill="#0e1418">si-GABPA</text>
<rect x="62.8" y="646.5" width="140.7" height="26.3" fill="#9bbcd0" stroke="#cfe0ea" stroke-width="0.8" fill-opacity="0.35" rx="1"/>
<line x1="63.5" y1="648.2" x2="202.8" y2="648.2" stroke="#dfe9ef" stroke-width="0.5"/>
<line x1="66.3" y1="648.5" x2="66.3" y2="650.5" stroke="#334" stroke-width="0.4"/>
<text x="66.6" y="655" font-size="5" text-anchor="middle" fill="#223">0</text>
<line x1="75.2" y1="648.5" x2="75.2" y2="650.5" stroke="#334" stroke-width="0.4"/>
<text x="75.5" y="655" font-size="5" text-anchor="middle" fill="#223">1</text>
<line x1="84.1" y1="648.5" x2="84.1" y2="650.5" stroke="#334" stroke-width="0.4"/>
<text x="84.4" y="655" font-size="5" text-anchor="middle" fill="#223">2</text>
<line x1="93" y1="648.5" x2="93" y2="650.5" stroke="#334" stroke-width="0.4"/>
<text x="93.3" y="655" font-size="5" text-anchor="middle" fill="#223">3</text>
<line x1="101.9" y1="648.5" x2="101.9" y2="650.5" stroke="#334" stroke-width="0.4"/>
<text x="102.2" y="655" font-size="5" text-anchor="middle" fill="#223">4</text>
<line x1="110.8" y1="648.5" x2="110.8" y2="650.5" stroke="#334" stroke-width="0.4"/>
<text x="111.1" y="655" font-size="5" text-anchor="middle" fill="#223">5</text>
<line x1="119.7" y1="648.5" x2="119.7" y2="650.5" stroke="#334" stroke-width="0.4"/>
<text x="120" y="655" font-size="5" text-anchor="middle" fill="#223">6</text>
<line x1="128.6" y1="648.5" x2="128.6" y2="650.5" stroke="#334" stroke-width="0.4"/>
<text x="128.9" y="655" font-size="5" text-anchor="middle" fill="#223">7</text>
<line x1="137.5" y1="648.5" x2="137.5" y2="650.5" stroke="#334" stroke-width="0.4"/>
<text x="137.8" y="655" font-size="5" text-anchor="middle" fill="#223">8</text>
<line x1="146.4" y1="648.5" x2="146.4" y2="650.5" stroke="#334" stroke-width="0.4"/>
<text x="146.7" y="655" font-size="5" text-anchor="middle" fill="#223">9</text>
<line x1="155.3" y1="648.5" x2="155.3" y2="650.5" stroke="#334" stroke-width="0.4"/>
<text x="155.6" y="655" font-size="5" text-anchor="middle" fill="#223">10</text>
<line x1="164.2" y1="648.5" x2="164.2" y2="650.5" stroke="#334" stroke-width="0.4"/>
<text x="164.5" y="655" font-size="5" text-anchor="middle" fill="#223">11</text>
<line x1="173.1" y1="648.5" x2="173.1" y2="650.5" stroke="#334" stroke-width="0.4"/>
<text x="173.4" y="655" font-size="5" text-anchor="middle" fill="#223">12</text>
<line x1="182" y1="648.5" x2="182" y2="650.5" stroke="#334" stroke-width="0.4"/>
<text x="182.3" y="655" font-size="5" text-anchor="middle" fill="#223">13</text>
<line x1="190.9" y1="648.5" x2="190.9" y2="650.5" stroke="#334" stroke-width="0.4"/>
<text x="191.2" y="655" font-size="5" text-anchor="middle" fill="#223">14</text>
<line x1="199.8" y1="648.5" x2="199.8" y2="650.5" stroke="#334" stroke-width="0.4"/>
<text x="200.1" y="655" font-size="5" text-anchor="middle" fill="#223">15</text>
<circle cx="76.5" cy="663" r="3.5" fill="none" stroke="#f2f6f8" stroke-width="1"/>
<text x="47.8" y="741.7" font-size="16.2" font-weight="bold" fill="#111">K</text>
<text x="128.8" y="741.6" font-size="8.2" font-weight="bold" text-anchor="middle" fill="#111">A549</text>
<line x1="76.9" y1="755" x2="76.9" y2="860.3" stroke="#222" stroke-width="1.1"/>
<line x1="76.4" y1="859.7" x2="181.3" y2="859.7" stroke="#222" stroke-width="1.1"/>
<line x1="73.6" y1="859.7" x2="76.9" y2="859.7" stroke="#222" stroke-width="1.1"/>
<text x="72.7" y="862.2" font-size="7" font-weight="bold" text-anchor="end" fill="#111">0.0</text>
<line x1="73.6" y1="838.86" x2="76.9" y2="838.86" stroke="#222" stroke-width="1.1"/>
<text x="72.7" y="841.36" font-size="7" font-weight="bold" text-anchor="end" fill="#111">0.2</text>
<line x1="73.6" y1="818.02" x2="76.9" y2="818.02" stroke="#222" stroke-width="1.1"/>
<text x="72.7" y="820.52" font-size="7" font-weight="bold" text-anchor="end" fill="#111">0.4</text>
<line x1="73.6" y1="797.18" x2="76.9" y2="797.18" stroke="#222" stroke-width="1.1"/>
<text x="72.7" y="799.68" font-size="7" font-weight="bold" text-anchor="end" fill="#111">0.6</text>
<line x1="73.6" y1="776.34" x2="76.9" y2="776.34" stroke="#222" stroke-width="1.1"/>
<text x="72.7" y="778.84" font-size="7" font-weight="bold" text-anchor="end" fill="#111">0.8</text>
<line x1="73.6" y1="755.5" x2="76.9" y2="755.5" stroke="#222" stroke-width="1.1"/>
<text x="72.7" y="758" font-size="7" font-weight="bold" text-anchor="end" fill="#111">1.0</text>
<circle cx="92.1" cy="775.3" r="2.6" fill="#e6c35e"/>
<circle cx="83.7" cy="781.55" r="2.6" fill="#e6c35e"/>
<circle cx="92.1" cy="782.07" r="2.6" fill="#e6c35e"/>
<circle cx="83.7" cy="783.63" r="2.6" fill="#e6c35e"/>
<circle cx="87.9" cy="793.53" r="2.6" fill="#e6c35e"/>
<line x1="81.7" y1="782.59" x2="94.1" y2="782.59" stroke="#e6c35e" stroke-width="1.6"/>
<line x1="87.9" y1="774.26" x2="87.9" y2="791.97" stroke="#e6c35e" stroke-width="1.4"/>
<line x1="83.9" y1="774.26" x2="91.9" y2="774.26" stroke="#e6c35e" stroke-width="1.4"/>
<line x1="83.9" y1="791.97" x2="91.9" y2="791.97" stroke="#e6c35e" stroke-width="1.4"/>
<line x1="87.9" y1="859.7" x2="87.9" y2="862.9" stroke="#222" stroke-width="1.1"/>
<text x="90.3" y="866.5" font-size="7.1" font-weight="bold" text-anchor="end" fill="#111" transform="rotate(-45 90.3 866.5)">OE-OTUD7A</text>
<circle cx="108" cy="780.51" r="2.6" fill="#5db898"/>
<circle cx="99.6" cy="791.97" r="2.6" fill="#5db898"/>
<circle cx="108" cy="792.49" r="2.6" fill="#5db898"/>
<circle cx="99.6" cy="798.74" r="2.6" fill="#5db898"/>
<circle cx="103.8" cy="806.04" r="2.6" fill="#5db898"/>
<line x1="97.6" y1="793.01" x2="110" y2="793.01" stroke="#5db898" stroke-width="1.6"/>
<line x1="103.8" y1="779.47" x2="103.8" y2="805.52" stroke="#5db898" stroke-width="1.4"/>
<line x1="99.8" y1="779.47" x2="107.8" y2="779.47" stroke="#5db898" stroke-width="1.4"/>
<line x1="99.8" y1="805.52" x2="107.8" y2="805.52" stroke="#5db898" stroke-width="1.4"/>
<line x1="103.8" y1="859.7" x2="103.8" y2="862.9" stroke="#222" stroke-width="1.1"/>
<text x="106.2" y="866.5" font-size="7.1" font-weight="bold" text-anchor="end" fill="#111" transform="rotate(-45 106.2 866.5)">OE-KDM5B</text>
<circle cx="124.8" cy="795.1" r="2.6" fill="#8cc2da"/>
<circle cx="116.4" cy="796.66" r="2.6" fill="#8cc2da"/>
<circle cx="124.8" cy="799.26" r="2.6" fill="#8cc2da"/>
<circle cx="116.4" cy="800.83" r="2.6" fill="#8cc2da"/>
<circle cx="120.6" cy="802.39" r="2.6" fill="#8cc2da"/>
<line x1="114.4" y1="799.26" x2="126.8" y2="799.26" stroke="#8cc2da" stroke-width="1.6"/>
<line x1="120.6" y1="795.1" x2="120.6" y2="802.39" stroke="#8cc2da" stroke-width="1.4"/>
<line x1="116.6" y1="795.1" x2="124.6" y2="795.1" stroke="#8cc2da" stroke-width="1.4"/>
<line x1="116.6" y1="802.39" x2="124.6" y2="802.39" stroke="#8cc2da" stroke-width="1.4"/>
<line x1="120.6" y1="859.7" x2="120.6" y2="862.9" stroke="#222" stroke-width="1.1"/>
<text x="123" y="866.5" font-size="7.1" font-weight="bold" text-anchor="end" fill="#111" transform="rotate(-45 123 866.5)">OE-GABPA</text>
<circle cx="141.1" cy="813.85" r="2.6" fill="#c6c6c6"/>
<circle cx="132.7" cy="815.94" r="2.6" fill="#c6c6c6"/>
<circle cx="141.1" cy="824.27" r="2.6" fill="#c6c6c6"/>
<circle cx="132.7" cy="833.65" r="2.6" fill="#c6c6c6"/>
<circle cx="136.9" cy="837.82" r="2.6" fill="#c6c6c6"/>
<line x1="130.7" y1="823.23" x2="143.1" y2="823.23" stroke="#c6c6c6" stroke-width="1.6"/>
<line x1="136.9" y1="811.25" x2="136.9" y2="835.73" stroke="#c6c6c6" stroke-width="1.4"/>
<line x1="132.9" y1="811.25" x2="140.9" y2="811.25" stroke="#c6c6c6" stroke-width="1.4"/>
<line x1="132.9" y1="835.73" x2="140.9" y2="835.73" stroke="#c6c6c6" stroke-width="1.4"/>
<line x1="136.9" y1="859.7" x2="136.9" y2="862.9" stroke="#222" stroke-width="1.1"/>
<text x="139.3" y="866.5" font-size="7.1" font-weight="bold" text-anchor="end" fill="#111" transform="rotate(-45 139.3 866.5)">OE-7A+OE-5B+si-GABPA</text>
<circle cx="158" cy="814.89" r="2.6" fill="#cd8a99"/>
<circle cx="149.6" cy="820.1" r="2.6" fill="#cd8a99"/>
<circle cx="158" cy="822.19" r="2.6" fill="#cd8a99"/>
<circle cx="149.6" cy="825.31" r="2.6" fill="#cd8a99"/>
<circle cx="153.8" cy="830.52" r="2.6" fill="#cd8a99"/>
<line x1="147.6" y1="822.19" x2="160" y2="822.19" stroke="#cd8a99" stroke-width="1.6"/>
<line x1="153.8" y1="813.85" x2="153.8" y2="830.52" stroke="#cd8a99" stroke-width="1.4"/>
<line x1="149.8" y1="813.85" x2="157.8" y2="813.85" stroke="#cd8a99" stroke-width="1.4"/>
<line x1="149.8" y1="830.52" x2="157.8" y2="830.52" stroke="#cd8a99" stroke-width="1.4"/>
<line x1="153.8" y1="859.7" x2="153.8" y2="862.9" stroke="#222" stroke-width="1.1"/>
<text x="156.2" y="866.5" font-size="7.1" font-weight="bold" text-anchor="end" fill="#111" transform="rotate(-45 156.2 866.5)">Control</text>
<circle cx="174.1" cy="836.25" r="2.6" fill="#8a94d4"/>
<circle cx="165.7" cy="837.3" r="2.6" fill="#8a94d4"/>
<circle cx="174.1" cy="837.82" r="2.6" fill="#8a94d4"/>
<circle cx="165.7" cy="838.34" r="2.6" fill="#8a94d4"/>
<circle cx="169.9" cy="838.86" r="2.6" fill="#8a94d4"/>
<line x1="163.7" y1="837.82" x2="176.1" y2="837.82" stroke="#8a94d4" stroke-width="1.6"/>
<line x1="169.9" y1="835.73" x2="169.9" y2="838.86" stroke="#8a94d4" stroke-width="1.4"/>
<line x1="165.9" y1="835.73" x2="173.9" y2="835.73" stroke="#8a94d4" stroke-width="1.4"/>
<line x1="165.9" y1="838.86" x2="173.9" y2="838.86" stroke="#8a94d4" stroke-width="1.4"/>
<line x1="169.9" y1="859.7" x2="169.9" y2="862.9" stroke="#222" stroke-width="1.1"/>
<text x="172.3" y="866.5" font-size="7.1" font-weight="bold" text-anchor="end" fill="#111" transform="rotate(-45 172.3 866.5)">si-GABPA</text>
<line x1="87.9" y1="765.1" x2="153.8" y2="765.1" stroke="#9a9a9a" stroke-width="0.6" stroke-dasharray="1.2 0.8"/>
<text x="120.85" y="765.8" font-size="8.8" font-weight="bold" text-anchor="middle" fill="#333">**</text>
<line x1="103.8" y1="775.4" x2="153.8" y2="775.4" stroke="#9a9a9a" stroke-width="0.6" stroke-dasharray="1.2 0.8"/>
<text x="128.8" y="776.1" font-size="8.8" font-weight="bold" text-anchor="middle" fill="#333">*</text>
<line x1="120.6" y1="789.1" x2="153.8" y2="789.1" stroke="#9a9a9a" stroke-width="0.6" stroke-dasharray="1.2 0.8"/>
<text x="137.2" y="789.8" font-size="8.8" font-weight="bold" text-anchor="middle" fill="#333">**</text>
<line x1="136.9" y1="805.3" x2="153.8" y2="805.3" stroke="#9a9a9a" stroke-width="0.6" stroke-dasharray="1.2 0.8"/>
<text x="145.35" y="803.7" font-size="6.8" text-anchor="middle" fill="#333">ns</text>
<line x1="153.8" y1="810" x2="169.9" y2="810" stroke="#9a9a9a" stroke-width="0.6" stroke-dasharray="1.2 0.8"/>
<text x="161.85" y="810.7" font-size="8.8" font-weight="bold" text-anchor="middle" fill="#333">*</text>
<text x="53.4" y="806.6" font-size="7" font-weight="bold" text-anchor="middle" fill="#111" transform="rotate(-90 53.4 806.6)">Tumor Weight (g)</text>
<text x="199.9" y="741.7" font-size="16.2" font-weight="bold" fill="#111">L</text>
<text x="289.6" y="741.6" font-size="8.2" font-weight="bold" text-anchor="middle" fill="#111">SW1573</text>
<line x1="237.7" y1="755" x2="237.7" y2="860.3" stroke="#222" stroke-width="1.1"/>
<line x1="237.2" y1="859.7" x2="342.2" y2="859.7" stroke="#222" stroke-width="1.1"/>
<line x1="234.4" y1="859.7" x2="237.7" y2="859.7" stroke="#222" stroke-width="1.1"/>
<text x="233.5" y="862.2" font-size="7" font-weight="bold" text-anchor="end" fill="#111">0.0</text>
<line x1="234.4" y1="838.86" x2="237.7" y2="838.86" stroke="#222" stroke-width="1.1"/>
<text x="233.5" y="841.36" font-size="7" font-weight="bold" text-anchor="end" fill="#111">0.1</text>
<line x1="234.4" y1="818.02" x2="237.7" y2="818.02" stroke="#222" stroke-width="1.1"/>
<text x="233.5" y="820.52" font-size="7" font-weight="bold" text-anchor="end" fill="#111">0.2</text>
<line x1="234.4" y1="797.18" x2="237.7" y2="797.18" stroke="#222" stroke-width="1.1"/>
<text x="233.5" y="799.68" font-size="7" font-weight="bold" text-anchor="end" fill="#111">0.3</text>
<line x1="234.4" y1="776.34" x2="237.7" y2="776.34" stroke="#222" stroke-width="1.1"/>
<text x="233.5" y="778.84" font-size="7" font-weight="bold" text-anchor="end" fill="#111">0.4</text>
<line x1="234.4" y1="755.5" x2="237.7" y2="755.5" stroke="#222" stroke-width="1.1"/>
<text x="233.5" y="758" font-size="7" font-weight="bold" text-anchor="end" fill="#111">0.5</text>
<circle cx="252.9" cy="770.09" r="2.6" fill="#e6c35e"/>
<circle cx="244.5" cy="776.34" r="2.6" fill="#e6c35e"/>
<circle cx="252.9" cy="785.72" r="2.6" fill="#e6c35e"/>
<circle cx="244.5" cy="786.76" r="2.6" fill="#e6c35e"/>
<circle cx="248.7" cy="801.35" r="2.6" fill="#e6c35e"/>
<line x1="242.5" y1="784.68" x2="254.9" y2="784.68" stroke="#e6c35e" stroke-width="1.6"/>
<line x1="248.7" y1="769.05" x2="248.7" y2="801.35" stroke="#e6c35e" stroke-width="1.4"/>
<line x1="244.7" y1="769.05" x2="252.7" y2="769.05" stroke="#e6c35e" stroke-width="1.4"/>
<line x1="244.7" y1="801.35" x2="252.7" y2="801.35" stroke="#e6c35e" stroke-width="1.4"/>
<line x1="248.7" y1="859.7" x2="248.7" y2="862.9" stroke="#222" stroke-width="1.1"/>
<text x="251.1" y="866.5" font-size="7.1" font-weight="bold" text-anchor="end" fill="#111" transform="rotate(-45 251.1 866.5)">OE-OTUD7A</text>
<circle cx="269.3" cy="787.8" r="2.6" fill="#5db898"/>
<circle cx="260.9" cy="788.84" r="2.6" fill="#5db898"/>
<circle cx="269.3" cy="793.01" r="2.6" fill="#5db898"/>
<circle cx="260.9" cy="797.18" r="2.6" fill="#5db898"/>
<circle cx="265.1" cy="801.35" r="2.6" fill="#5db898"/>
<line x1="258.9" y1="794.05" x2="271.3" y2="794.05" stroke="#5db898" stroke-width="1.6"/>
<line x1="265.1" y1="786.76" x2="265.1" y2="801.35" stroke="#5db898" stroke-width="1.4"/>
<line x1="261.1" y1="786.76" x2="269.1" y2="786.76" stroke="#5db898" stroke-width="1.4"/>
<line x1="261.1" y1="801.35" x2="269.1" y2="801.35" stroke="#5db898" stroke-width="1.4"/>
<line x1="265.1" y1="859.7" x2="265.1" y2="862.9" stroke="#222" stroke-width="1.1"/>
<text x="267.5" y="866.5" font-size="7.1" font-weight="bold" text-anchor="end" fill="#111" transform="rotate(-45 267.5 866.5)">OE-KDM5B</text>
<circle cx="285.6" cy="791.97" r="2.6" fill="#8cc2da"/>
<circle cx="277.2" cy="795.1" r="2.6" fill="#8cc2da"/>
<circle cx="285.6" cy="799.26" r="2.6" fill="#8cc2da"/>
<circle cx="277.2" cy="801.35" r="2.6" fill="#8cc2da"/>
<circle cx="281.4" cy="806.56" r="2.6" fill="#8cc2da"/>
<line x1="275.2" y1="799.26" x2="287.6" y2="799.26" stroke="#8cc2da" stroke-width="1.6"/>
<line x1="281.4" y1="791.97" x2="281.4" y2="806.56" stroke="#8cc2da" stroke-width="1.4"/>
<line x1="277.4" y1="791.97" x2="285.4" y2="791.97" stroke="#8cc2da" stroke-width="1.4"/>
<line x1="277.4" y1="806.56" x2="285.4" y2="806.56" stroke="#8cc2da" stroke-width="1.4"/>
<line x1="281.4" y1="859.7" x2="281.4" y2="862.9" stroke="#222" stroke-width="1.1"/>
<text x="283.8" y="866.5" font-size="7.1" font-weight="bold" text-anchor="end" fill="#111" transform="rotate(-45 283.8 866.5)">OE-GABPA</text>
<circle cx="302" cy="824.27" r="2.6" fill="#c6c6c6"/>
<circle cx="293.6" cy="828.44" r="2.6" fill="#c6c6c6"/>
<circle cx="302" cy="834.69" r="2.6" fill="#c6c6c6"/>
<circle cx="293.6" cy="838.86" r="2.6" fill="#c6c6c6"/>
<circle cx="297.8" cy="840.94" r="2.6" fill="#c6c6c6"/>
<line x1="291.6" y1="833.65" x2="304" y2="833.65" stroke="#c6c6c6" stroke-width="1.6"/>
<line x1="297.8" y1="825.31" x2="297.8" y2="840.94" stroke="#c6c6c6" stroke-width="1.4"/>
<line x1="293.8" y1="825.31" x2="301.8" y2="825.31" stroke="#c6c6c6" stroke-width="1.4"/>
<line x1="293.8" y1="840.94" x2="301.8" y2="840.94" stroke="#c6c6c6" stroke-width="1.4"/>
<line x1="297.8" y1="859.7" x2="297.8" y2="862.9" stroke="#222" stroke-width="1.1"/>
<text x="300.2" y="866.5" font-size="7.1" font-weight="bold" text-anchor="end" fill="#111" transform="rotate(-45 300.2 866.5)">OE-7A+OE-5B+si-GABPA</text>
<circle cx="318.3" cy="812.81" r="2.6" fill="#cd8a99"/>
<circle cx="309.9" cy="820.1" r="2.6" fill="#cd8a99"/>
<circle cx="318.3" cy="825.31" r="2.6" fill="#cd8a99"/>
<circle cx="309.9" cy="829.48" r="2.6" fill="#cd8a99"/>
<circle cx="314.1" cy="832.61" r="2.6" fill="#cd8a99"/>
<line x1="307.9" y1="825.31" x2="320.3" y2="825.31" stroke="#cd8a99" stroke-width="1.6"/>
<line x1="314.1" y1="812.81" x2="314.1" y2="835.73" stroke="#cd8a99" stroke-width="1.4"/>
<line x1="310.1" y1="812.81" x2="318.1" y2="812.81" stroke="#cd8a99" stroke-width="1.4"/>
<line x1="310.1" y1="835.73" x2="318.1" y2="835.73" stroke="#cd8a99" stroke-width="1.4"/>
<line x1="314.1" y1="859.7" x2="314.1" y2="862.9" stroke="#222" stroke-width="1.1"/>
<text x="316.5" y="866.5" font-size="7.1" font-weight="bold" text-anchor="end" fill="#111" transform="rotate(-45 316.5 866.5)">Control</text>
<circle cx="334.7" cy="848.24" r="2.6" fill="#8a94d4"/>
<circle cx="326.3" cy="848.86" r="2.6" fill="#8a94d4"/>
<circle cx="334.7" cy="849.28" r="2.6" fill="#8a94d4"/>
<circle cx="326.3" cy="849.7" r="2.6" fill="#8a94d4"/>
<circle cx="330.5" cy="850.32" r="2.6" fill="#8a94d4"/>
<line x1="324.3" y1="849.28" x2="336.7" y2="849.28" stroke="#8a94d4" stroke-width="1.6"/>
<line x1="330.5" y1="847.2" x2="330.5" y2="850.32" stroke="#8a94d4" stroke-width="1.4"/>
<line x1="326.5" y1="847.2" x2="334.5" y2="847.2" stroke="#8a94d4" stroke-width="1.4"/>
<line x1="326.5" y1="850.32" x2="334.5" y2="850.32" stroke="#8a94d4" stroke-width="1.4"/>
<line x1="330.5" y1="859.7" x2="330.5" y2="862.9" stroke="#222" stroke-width="1.1"/>
<text x="332.9" y="866.5" font-size="7.1" font-weight="bold" text-anchor="end" fill="#111" transform="rotate(-45 332.9 866.5)">si-GABPA</text>
<line x1="248.7" y1="763.2" x2="314.1" y2="763.2" stroke="#9a9a9a" stroke-width="0.6" stroke-dasharray="1.2 0.8"/>
<text x="281.4" y="763.9" font-size="8.8" font-weight="bold" text-anchor="middle" fill="#333">*</text>
<line x1="265.1" y1="775.4" x2="314.1" y2="775.4" stroke="#9a9a9a" stroke-width="0.6" stroke-dasharray="1.2 0.8"/>
<text x="289.6" y="776.1" font-size="8.8" font-weight="bold" text-anchor="middle" fill="#333">***</text>
<line x1="281.4" y1="785.4" x2="314.1" y2="785.4" stroke="#9a9a9a" stroke-width="0.6" stroke-dasharray="1.2 0.8"/>
<text x="297.75" y="786.1" font-size="8.8" font-weight="bold" text-anchor="middle" fill="#333">*</text>
<line x1="297.8" y1="805.3" x2="314.1" y2="805.3" stroke="#9a9a9a" stroke-width="0.6" stroke-dasharray="1.2 0.8"/>
<text x="305.95" y="803.7" font-size="6.8" text-anchor="middle" fill="#333">ns</text>
<line x1="314.1" y1="805.3" x2="330.5" y2="805.3" stroke="#9a9a9a" stroke-width="0.6" stroke-dasharray="1.2 0.8"/>
<text x="322.3" y="806" font-size="8.8" font-weight="bold" text-anchor="middle" fill="#333">*</text>
<text x="214.2" y="806.6" font-size="7" font-weight="bold" text-anchor="middle" fill="#111" transform="rotate(-90 214.2 806.6)">Tumor Weight (g)</text>
<text x="48.8" y="956.9" font-size="16.3" font-weight="bold" fill="#111">M</text>
<defs><filter id="m1" x="0" y="0" width="1" height="1" color-interpolation-filters="sRGB"><feTurbulence type="fractalNoise" baseFrequency="0.03" numOctaves="3" seed="11" result="mn"/><feColorMatrix in="mn" type="matrix" values="0 0 0 0 0  0 0 0 0 0  0 0 0 0 0  4.0 0 0 0 -1.0" result="mask"/><feTurbulence type="fractalNoise" baseFrequency="0.08" numOctaves="2" seed="31" result="n0"/><feColorMatrix in="n0" type="matrix" values="0 0 0 0 0.88  0 0 0 0 0.79  0 0 0 0 0.65  3.0 0 0 0 -0.4" result="l0"/><feComposite in="l0" in2="mask" operator="in" result="m0"/><feTurbulence type="fractalNoise" baseFrequency="0.35" numOctaves="2" seed="21" result="n1"/><feColorMatrix in="n1" type="matrix" values="0 0 0 0 0.85  0 0 0 0 0.73  0 0 0 0 0.55  4.0 0 0 0 -2.05" result="l1"/><feComposite in="l1" in2="mask" operator="in" result="m1"/><feTurbulence type="fractalNoise" baseFrequency="0.55" numOctaves="1" seed="41" result="n2"/><feColorMatrix in="n2" type="matrix" values="0 0 0 0 0.74  0 0 0 0 0.53  0 0 0 0 0.3  7.0 0 0 0 -4.6" result="l2"/><feComposite in="l2" in2="mask" operator="in" result="m2"/><feMerge><feMergeNode in="m0"/><feMergeNode in="m1"/><feMergeNode in="m2"/></feMerge></filter><filter id="m2" x="0" y="0" width="1" height="1" color-interpolation-filters="sRGB"><feTurbulence type="fractalNoise" baseFrequency="0.04" numOctaves="3" seed="12" result="mn"/><feColorMatrix in="mn" type="matrix" values="0 0 0 0 0  0 0 0 0 0  0 0 0 0 0  4.0 0 0 0 -1.2" result="mask"/><feTurbulence type="fractalNoise" baseFrequency="0.3" numOctaves="2" seed="22" result="n0"/><feColorMatrix in="n0" type="matrix" values="0 0 0 0 0.84  0 0 0 0 0.7  0 0 0 0 0.52  5.0 0 0 0 -2.0" result="l0"/><feComposite in="l0" in2="mask" operator="in" result="m0"/><feTurbulence type="fractalNoise" baseFrequency="0.4" numOctaves="2" seed="32" result="n1"/><feColorMatrix in="n1" type="matrix" values="0 0 0 0 0.68  0 0 0 0 0.45  0 0 0 0 0.2  5.0 0 0 0 -2.7" result="l1"/><feComposite in="l1" in2="mask" operator="in" result="m1"/><feTurbulence type="fractalNoise" baseFrequency="0.55" numOctaves="1" seed="42" result="n2"/><feColorMatrix in="n2" type="matrix" values="0 0 0 0 0.35  0 0 0 0 0.25  0 0 0 0 0.15  9.0 0 0 0 -6.0" result="l2"/><feComposite in="l2" in2="mask" operator="in" result="m2"/><feMerge><feMergeNode in="m0"/><feMergeNode in="m1"/><feMergeNode in="m2"/></feMerge></filter><filter id="m2b" x="0" y="0" width="1" height="1" color-interpolation-filters="sRGB"><feTurbulence type="fractalNoise" baseFrequency="0.3" numOctaves="2" seed="52" result="n0"/><feColorMatrix in="n0" type="matrix" values="0 0 0 0 0.55  0 0 0 0 0.3  0 0 0 0 0.1  5.0 0 0 0 -1.9" result="l0"/><feMerge><feMergeNode in="l0"/></feMerge></filter><radialGradient id="g2"><stop offset="0" stop-color="#fff"/><stop offset="0.5" stop-color="#fff" stop-opacity="0.8"/><stop offset="1" stop-color="#fff" stop-opacity="0"/></radialGradient><mask id="k2"><ellipse cx="362" cy="962" rx="42" ry="22" fill="url(#g2)"/><ellipse cx="284" cy="1036" rx="22" ry="12" fill="url(#g2)" opacity="0.8"/><ellipse cx="390" cy="1044" rx="18" ry="10" fill="url(#g2)" opacity="0.7"/></mask><filter id="m3" filterUnits="userSpaceOnUse" x="408.3" y="948.3" width="161" height="102" color-interpolation-filters="sRGB"><feGaussianBlur in="SourceAlpha" stdDeviation="2.5" result="sb"/><feTurbulence type="fractalNoise" baseFrequency="0.18" numOctaves="2" seed="9" result="rn"/><feColorMatrix in="rn" type="matrix" values="0 0 0 0 0  0 0 0 0 0  0 0 0 0 0  1 0 0 0 0" result="ra"/><feComposite in="sb" in2="ra" operator="arithmetic" k1="0" k2="3.0" k3="2.0" k4="-2.55" result="smask"/><feTurbulence type="fractalNoise" baseFrequency="0.3" numOctaves="2" seed="23" result="n0"/><feColorMatrix in="n0" type="matrix" values="0 0 0 0 0.86  0 0 0 0 0.74  0 0 0 0 0.56  5.0 0 0 0 -1.8" result="l0"/><feComposite in="l0" in2="smask" operator="in" result="m0"/><feTurbulence type="fractalNoise" baseFrequency="0.4" numOctaves="2" seed="33" result="n1"/><feColorMatrix in="n1" type="matrix" values="0 0 0 0 0.7  0 0 0 0 0.48  0 0 0 0 0.24  5.0 0 0 0 -2.75" result="l1"/><feComposite in="l1" in2="smask" operator="in" result="m1"/><feTurbulence type="fractalNoise" baseFrequency="0.55" numOctaves="1" seed="43" result="n2"/><feColorMatrix in="n2" type="matrix" values="0 0 0 0 0.45  0 0 0 0 0.28  0 0 0 0 0.12  8.0 0 0 0 -5.2" result="l2"/><feComposite in="l2" in2="smask" operator="in" result="m2"/><feMerge><feMergeNode in="m0"/><feMergeNode in="m1"/><feMergeNode in="m2"/></feMerge></filter><filter id="m3e" filterUnits="userSpaceOnUse" x="408.3" y="948.3" width="161" height="102" color-interpolation-filters="sRGB"><feGaussianBlur in="SourceAlpha" stdDeviation="2.0" result="sb"/><feTurbulence type="fractalNoise" baseFrequency="0.2" numOctaves="2" seed="19" result="rn"/><feColorMatrix in="rn" type="matrix" values="0 0 0 0 0  0 0 0 0 0  0 0 0 0 0  1 0 0 0 0" result="ra"/><feComposite in="sb" in2="ra" operator="arithmetic" k1="0" k2="3.0" k3="2.0" k4="-2.7" result="smask"/><feTurbulence type="fractalNoise" baseFrequency="0.3" numOctaves="2" seed="53" result="n0"/><feColorMatrix in="n0" type="matrix" values="0 0 0 0 0.55  0 0 0 0 0.32  0 0 0 0 0.12  6.0 0 0 0 -2.4" result="l0"/><feComposite in="l0" in2="smask" operator="in" result="m0"/><feMerge><feMergeNode in="m0"/></feMerge></filter><filter id="m4" x="0" y="0" width="1" height="1" color-interpolation-filters="sRGB"><feTurbulence type="fractalNoise" baseFrequency="0.04" numOctaves="3" seed="14" result="n0"/><feColorMatrix in="n0" type="matrix" values="0 0 0 0 0.9  0 0 0 0 0.88  0 0 0 0 0.8  1.8 0 0 0 -0.75" result="l0"/><feTurbulence type="fractalNoise" baseFrequency="0.6" numOctaves="1" seed="24" result="n1"/><feColorMatrix in="n1" type="matrix" values="0 0 0 0 0.4  0 0 0 0 0.48  0 0 0 0 0.76  12.0 0 0 0 -8.7" result="l1"/><feMerge><feMergeNode in="l0"/><feMergeNode in="l1"/></feMerge></filter><filter id="m4b" filterUnits="userSpaceOnUse" x="69.2" y="1060.3" width="161.8" height="103.7" color-interpolation-filters="sRGB"><feGaussianBlur in="SourceAlpha" stdDeviation="4.0" result="sb"/><feTurbulence type="fractalNoise" baseFrequency="0.15" numOctaves="2" seed="44" result="rn"/><feColorMatrix in="rn" type="matrix" values="0 0 0 0 0  0 0 0 0 0  0 0 0 0 0  1 0 0 0 0" result="ra"/><feComposite in="sb" in2="ra" operator="arithmetic" k1="0" k2="2.5" k3="2.0" k4="-2.2" result="smask"/><feTurbulence type="fractalNoise" baseFrequency="0.5" numOctaves="1" seed="34" result="n0"/><feColorMatrix in="n0" type="matrix" values="0 0 0 0 0.35  0 0 0 0 0.43  0 0 0 0 0.74  8.0 0 0 0 -4.3" result="l0"/><feComposite in="l0" in2="smask" operator="in" result="m0"/><feMerge><feMergeNode in="m0"/></feMerge></filter><filter id="m5" filterUnits="userSpaceOnUse" x="238.7" y="1060.3" width="161.5" height="103.7" color-interpolation-filters="sRGB"><feGaussianBlur in="SourceAlpha" stdDeviation="3.0" result="sb"/><feTurbulence type="fractalNoise" baseFrequency="0.12" numOctaves="2" seed="8" result="rn"/><feColorMatrix in="rn" type="matrix" values="0 0 0 0 0  0 0 0 0 0  0 0 0 0 0  1 0 0 0 0" result="ra"/><feComposite in="sb" in2="ra" operator="arithmetic" k1="0" k2="3.0" k3="2.0" k4="-2.5" result="smask"/><feTurbulence type="fractalNoise" baseFrequency="0.05" numOctaves="3" seed="15" result="n0"/><feColorMatrix in="n0" type="matrix" values="0 0 0 0 0.82  0 0 0 0 0.8  0 0 0 0 0.75  2.5 0 0 0 -1.0" result="l0"/><feComposite in="l0" in2="smask" operator="in" result="m0"/><feTurbulence type="fractalNoise" baseFrequency="0.6" numOctaves="1" seed="25" result="n1"/><feColorMatrix in="n1" type="matrix" values="0 0 0 0 0.32  0 0 0 0 0.4  0 0 0 0 0.72  10.0 0 0 0 -6.0" result="l1"/><feComposite in="l1" in2="smask" operator="in" result="m1"/><feMerge><feMergeNode in="m0"/><feMergeNode in="m1"/></feMerge></filter><filter id="m5b" filterUnits="userSpaceOnUse" x="238.7" y="1060.3" width="161.5" height="103.7" color-interpolation-filters="sRGB"><feGaussianBlur in="SourceAlpha" stdDeviation="6.0" result="sb"/><feTurbulence type="fractalNoise" baseFrequency="0.1" numOctaves="2" seed="18" result="rn"/><feColorMatrix in="rn" type="matrix" values="0 0 0 0 0  0 0 0 0 0  0 0 0 0 0  1 0 0 0 0" result="ra"/><feComposite in="sb" in2="ra" operator="arithmetic" k1="0" k2="2.0" k3="1.5" k4="-1.7" result="smask"/><feTurbulence type="fractalNoise" baseFrequency="0.06" numOctaves="3" seed="16" result="n0"/><feColorMatrix in="n0" type="matrix" values="0 0 0 0 0.72  0 0 0 0 0.68  0 0 0 0 0.6  3.0 0 0 0 -1.2" result="l0"/><feComposite in="l0" in2="smask" operator="in" result="m0"/><feTurbulence type="fractalNoise" baseFrequency="0.6" numOctaves="1" seed="26" result="n1"/><feColorMatrix in="n1" type="matrix" values="0 0 0 0 0.32  0 0 0 0 0.4  0 0 0 0 0.72  10.0 0 0 0 -5.4" result="l1"/><feComposite in="l1" in2="smask" operator="in" result="m1"/><feTurbulence type="fractalNoise" baseFrequency="0.4" numOctaves="2" seed="36" result="n2"/><feColorMatrix in="n2" type="matrix" values="0 0 0 0 0.45  0 0 0 0 0.43  0 0 0 0 0.4  8.0 0 0 0 -5.2" result="l2"/><feComposite in="l2" in2="smask" operator="in" result="m2"/><feMerge><feMergeNode in="m0"/><feMergeNode in="m1"/><feMergeNode in="m2"/></feMerge></filter><filter id="m6" filterUnits="userSpaceOnUse" x="408.3" y="1060.3" width="161" height="103.7" color-interpolation-filters="sRGB"><feGaussianBlur in="SourceAlpha" stdDeviation="5.0" result="sb"/><feTurbulence type="fractalNoise" baseFrequency="0.09" numOctaves="2" seed="28" result="rn"/><feColorMatrix in="rn" type="matrix" values="0 0 0 0 0  0 0 0 0 0  0 0 0 0 0  1 0 0 0 0" result="ra"/><feComposite in="sb" in2="ra" operator="arithmetic" k1="0" k2="2.5" k3="2.2" k4="-2.3" result="smask"/><feTurbulence type="fractalNoise" baseFrequency="0.4" numOctaves="2" seed="26" result="n0"/><feColorMatrix in="n0" type="matrix" values="0 0 0 0 0.44  0 0 0 0 0.53  0 0 0 0 0.8  6.0 0 0 0 -3.35" result="l0"/><feComposite in="l0" in2="smask" operator="in" result="m0"/><feMerge><feMergeNode in="m0"/></feMerge></filter><filter id="m6b" x="0" y="0" width="1" height="1" color-interpolation-filters="sRGB"><feTurbulence type="fractalNoise" baseFrequency="0.05" numOctaves="3" seed="36" result="n0"/><feColorMatrix in="n0" type="matrix" values="0 0 0 0 0.82  0 0 0 0 0.82  0 0 0 0 0.79  3.0 0 0 0 -1.5" result="l0"/><feTurbulence type="fractalNoise" baseFrequency="0.2" numOctaves="2" seed="46" result="n1"/><feColorMatrix in="n1" type="matrix" values="0 0 0 0 0.2  0 0 0 0 0.2  0 0 0 0 0.2  12.0 0 0 0 -9.1" result="l1"/><feMerge><feMergeNode in="l0"/><feMergeNode in="l1"/></feMerge></filter><filter id="gb3" x="-0.5" y="-0.5" width="2" height="2"><feGaussianBlur stdDeviation="2"/></filter><mask id="gk1"><rect x="69.2" y="948.3" width="161.8" height="102" fill="#fff"/><g filter="url(#gb3)"><ellipse cx="106" cy="969" rx="9" ry="7" transform="rotate(-20 106 969)" fill="#000"/><ellipse cx="173" cy="966" rx="5" ry="8" transform="rotate(0 173 966)" fill="#000"/><ellipse cx="190" cy="999" rx="11" ry="5" transform="rotate(0 190 999)" fill="#000"/><ellipse cx="173" cy="1030" rx="5" ry="6" transform="rotate(0 173 1030)" fill="#000"/><ellipse cx="216" cy="980" rx="8" ry="4" transform="rotate(0 216 980)" fill="#000"/><ellipse cx="74" cy="1005" rx="3" ry="6" transform="rotate(0 74 1005)" fill="#000"/><ellipse cx="226" cy="1043" rx="4" ry="4" transform="rotate(0 226 1043)" fill="#000"/><ellipse cx="121" cy="1042" rx="4" ry="3" transform="rotate(0 121 1042)" fill="#000"/></g></mask><mask id="gk2"><rect x="238.7" y="948.3" width="161.5" height="102" fill="#fff"/><g filter="url(#gb3)"><ellipse cx="275" cy="962" rx="30" ry="11" transform="rotate(10 275 962)" fill="#000"/><ellipse cx="296" cy="990" rx="26" ry="13" transform="rotate(-10 296 990)" fill="#000"/><ellipse cx="318" cy="972" rx="10" ry="12" transform="rotate(0 318 972)" fill="#000"/><ellipse cx="386" cy="1000" rx="14" ry="17" transform="rotate(0 386 1000)" fill="#000"/><ellipse cx="324" cy="1029" rx="14" ry="7" transform="rotate(0 324 1029)" fill="#000"/><ellipse cx="252" cy="1003" rx="8" ry="10" transform="rotate(0 252 1003)" fill="#000"/><ellipse cx="355" cy="1010" rx="8" ry="8" transform="rotate(0 355 1010)" fill="#000"/><ellipse cx="395" cy="960" rx="6" ry="6" transform="rotate(0 395 960)" fill="#000"/></g></mask></defs>
<rect x="69.2" y="948.3" width="161.8" height="102" fill="#f3f1ec" stroke="none" stroke-width="1"/>
<g mask="url(#gk1)">
<rect x="69.2" y="948.3" width="161.8" height="102" fill="#000" stroke="none" stroke-width="1" filter="url(#m1)"/>
</g>
<rect x="238.7" y="948.3" width="161.5" height="102" fill="#f4f3f0" stroke="none" stroke-width="1"/>
<g mask="url(#gk2)">
<rect x="238.7" y="948.3" width="161.5" height="102" fill="#000" stroke="none" stroke-width="1" filter="url(#m2)"/>
</g>
<g mask="url(#k2)"><rect x="238.7" y="948.3" width="161.5" height="102" fill="#000" filter="url(#m2b)"/></g>
<rect x="408.3" y="948.3" width="161" height="102" fill="#eaeae8" stroke="none" stroke-width="1"/>
<path d="M431 992 L436 978 L446 970 L458 968 L466 974 L472 982 L480 986 L488 980 L497 978 L506 982 L515 985 L524 988 L532 996 L537 1008 L541 1020 L540 1030 L532 1034 L520 1036 L505 1037 L488 1038 L470 1036 L456 1033 L444 1028 L437 1020 L433 1008 Z" fill="#000" stroke="none" stroke-width="1" filter="url(#m3)"/>
<defs><radialGradient id="g3c"><stop offset="0" stop-color="#f4f2ee" stop-opacity="0.75"/><stop offset="0.6" stop-color="#f4f2ee" stop-opacity="0.35"/><stop offset="1" stop-color="#f4f2ee" stop-opacity="0"/></radialGradient></defs>
<ellipse cx="478" cy="1006" rx="34" ry="20" fill="url(#g3c)"/>
<path d="M434 1008 L446 1012 L452 1024 L446 1034 L436 1030 Z" fill="#000" stroke="none" stroke-width="1" filter="url(#m3e)"/>
<path d="M512 1018 L530 1012 L540 1020 L540 1032 L524 1036 L510 1032 Z" fill="#000" stroke="none" stroke-width="1" filter="url(#m3e)"/>
<path d="M470 955 L480 953 L482 960 L472 962 Z M496 958 L502 957 L503 962 L497 963 Z" fill="#000" stroke="none" stroke-width="1" filter="url(#m3e)"/>
<rect x="69.2" y="1060.3" width="161.8" height="103.7" fill="#f0efe6" stroke="none" stroke-width="1"/>
<rect x="69.2" y="1060.3" width="161.8" height="103.7" fill="#000" stroke="none" stroke-width="1" filter="url(#m4)"/>
<path d="M214 1088 L231 1084 L231 1132 L220 1128 L212 1110 Z" fill="#000" stroke="none" stroke-width="1" filter="url(#m4b)"/>
<rect x="238.7" y="1060.3" width="161.5" height="103.7" fill="#efeeea" stroke="none" stroke-width="1"/>
<path d="M268 1060 L400.5 1060 L400.5 1164 L352 1164 C330 1156 300 1148 270 1142 C255 1139 245 1138 238 1137 L238 1104 C250 1100 262 1092 270 1082 C276 1072 272 1065 268 1060 Z" fill="#000" stroke="none" stroke-width="1" filter="url(#m5)" opacity="0.8"/>
<path d="M238 1110 C255 1098 275 1088 300 1084 C325 1082 345 1090 365 1100 C372 1115 372 1135 365 1150 C340 1152 305 1147 280 1142 C260 1138 248 1136 238 1134 Z" fill="#000" stroke="none" stroke-width="1" filter="url(#m5b)"/>
<rect x="408.3" y="1060.3" width="161" height="103.7" fill="#e5e5e2" stroke="none" stroke-width="1"/>
<rect x="408.3" y="1060.3" width="161" height="103.7" fill="#000" stroke="none" stroke-width="1" filter="url(#m6b)"/>
<path d="M540.92 1110 L540.87 1121.1 L536.02 1131.77 L528.65 1142.04 L514.87 1147.13 L502.16 1153.53 L487 1144.35 L473.68 1148.24 L457.54 1149.25 L448.59 1139.55 L436.55 1132.41 L442.6 1119.15 L435.48 1110 L440.59 1100.43 L441.38 1089.74 L449.41 1081.09 L464.8 1080.42 L474.69 1074.65 L487 1072.65 L502.14 1066.54 L515.07 1072.6 L520.01 1084.6 L536.05 1088.22 L531.78 1100.77 Z" fill="#000" stroke="none" stroke-width="1" filter="url(#m6)"/>
<line x1="73.2" y1="1046.8" x2="101.2" y2="1046.8" stroke="#333" stroke-width="0.6"/>
<line x1="73.2" y1="1045.6" x2="73.2" y2="1046.8" stroke="#333" stroke-width="0.4"/>
<line x1="77.87" y1="1045.6" x2="77.87" y2="1046.8" stroke="#333" stroke-width="0.4"/>
<line x1="82.53" y1="1045.6" x2="82.53" y2="1046.8" stroke="#333" stroke-width="0.4"/>
<line x1="87.2" y1="1045.6" x2="87.2" y2="1046.8" stroke="#333" stroke-width="0.4"/>
<line x1="91.87" y1="1045.6" x2="91.87" y2="1046.8" stroke="#333" stroke-width="0.4"/>
<line x1="96.53" y1="1045.6" x2="96.53" y2="1046.8" stroke="#333" stroke-width="0.4"/>
<line x1="101.2" y1="1045.6" x2="101.2" y2="1046.8" stroke="#333" stroke-width="0.4"/>
<line x1="73.2" y1="1161" x2="101.2" y2="1161" stroke="#333" stroke-width="0.6"/>
<line x1="73.2" y1="1159.8" x2="73.2" y2="1161" stroke="#333" stroke-width="0.4"/>
<line x1="77.87" y1="1159.8" x2="77.87" y2="1161" stroke="#333" stroke-width="0.4"/>
<line x1="82.53" y1="1159.8" x2="82.53" y2="1161" stroke="#333" stroke-width="0.4"/>
<line x1="87.2" y1="1159.8" x2="87.2" y2="1161" stroke="#333" stroke-width="0.4"/>
<line x1="91.87" y1="1159.8" x2="91.87" y2="1161" stroke="#333" stroke-width="0.4"/>
<line x1="96.53" y1="1159.8" x2="96.53" y2="1161" stroke="#333" stroke-width="0.4"/>
<line x1="101.2" y1="1159.8" x2="101.2" y2="1161" stroke="#333" stroke-width="0.4"/>
<line x1="242.7" y1="1046.8" x2="270.7" y2="1046.8" stroke="#333" stroke-width="0.6"/>
<line x1="242.7" y1="1045.6" x2="242.7" y2="1046.8" stroke="#333" stroke-width="0.4"/>
<line x1="247.37" y1="1045.6" x2="247.37" y2="1046.8" stroke="#333" stroke-width="0.4"/>
<line x1="252.03" y1="1045.6" x2="252.03" y2="1046.8" stroke="#333" stroke-width="0.4"/>
<line x1="256.7" y1="1045.6" x2="256.7" y2="1046.8" stroke="#333" stroke-width="0.4"/>
<line x1="261.37" y1="1045.6" x2="261.37" y2="1046.8" stroke="#333" stroke-width="0.4"/>
<line x1="266.03" y1="1045.6" x2="266.03" y2="1046.8" stroke="#333" stroke-width="0.4"/>
<line x1="270.7" y1="1045.6" x2="270.7" y2="1046.8" stroke="#333" stroke-width="0.4"/>
<line x1="242.7" y1="1161" x2="270.7" y2="1161" stroke="#333" stroke-width="0.6"/>
<line x1="242.7" y1="1159.8" x2="242.7" y2="1161" stroke="#333" stroke-width="0.4"/>
<line x1="247.37" y1="1159.8" x2="247.37" y2="1161" stroke="#333" stroke-width="0.4"/>
<line x1="252.03" y1="1159.8" x2="252.03" y2="1161" stroke="#333" stroke-width="0.4"/>
<line x1="256.7" y1="1159.8" x2="256.7" y2="1161" stroke="#333" stroke-width="0.4"/>
<line x1="261.37" y1="1159.8" x2="261.37" y2="1161" stroke="#333" stroke-width="0.4"/>
<line x1="266.03" y1="1159.8" x2="266.03" y2="1161" stroke="#333" stroke-width="0.4"/>
<line x1="270.7" y1="1159.8" x2="270.7" y2="1161" stroke="#333" stroke-width="0.4"/>
<line x1="412.3" y1="1046.8" x2="440.3" y2="1046.8" stroke="#333" stroke-width="0.6"/>
<line x1="412.3" y1="1045.6" x2="412.3" y2="1046.8" stroke="#333" stroke-width="0.4"/>
<line x1="416.97" y1="1045.6" x2="416.97" y2="1046.8" stroke="#333" stroke-width="0.4"/>
<line x1="421.63" y1="1045.6" x2="421.63" y2="1046.8" stroke="#333" stroke-width="0.4"/>
<line x1="426.3" y1="1045.6" x2="426.3" y2="1046.8" stroke="#333" stroke-width="0.4"/>
<line x1="430.97" y1="1045.6" x2="430.97" y2="1046.8" stroke="#333" stroke-width="0.4"/>
<line x1="435.63" y1="1045.6" x2="435.63" y2="1046.8" stroke="#333" stroke-width="0.4"/>
<line x1="440.3" y1="1045.6" x2="440.3" y2="1046.8" stroke="#333" stroke-width="0.4"/>
<line x1="412.3" y1="1161" x2="440.3" y2="1161" stroke="#333" stroke-width="0.6"/>
<line x1="412.3" y1="1159.8" x2="412.3" y2="1161" stroke="#333" stroke-width="0.4"/>
<line x1="416.97" y1="1159.8" x2="416.97" y2="1161" stroke="#333" stroke-width="0.4"/>
<line x1="421.63" y1="1159.8" x2="421.63" y2="1161" stroke="#333" stroke-width="0.4"/>
<line x1="426.3" y1="1159.8" x2="426.3" y2="1161" stroke="#333" stroke-width="0.4"/>
<line x1="430.97" y1="1159.8" x2="430.97" y2="1161" stroke="#333" stroke-width="0.4"/>
<line x1="435.63" y1="1159.8" x2="435.63" y2="1161" stroke="#333" stroke-width="0.4"/>
<line x1="440.3" y1="1159.8" x2="440.3" y2="1161" stroke="#333" stroke-width="0.4"/>
<line x1="582.4" y1="963.3" x2="582.4" y2="1029.8" stroke="#222" stroke-width="0.9"/>
<text x="584.4" y="968" font-size="16" fill="#111" transform="rotate(90 584.4 968)">KDM5B</text>
<line x1="582.4" y1="1070" x2="582.4" y2="1137.4" stroke="#222" stroke-width="0.9"/>
<text x="584.4" y="1083.2" font-size="16" fill="#111" transform="rotate(90 584.4 1083.2)">GPX4</text>
</svg></body></html>
